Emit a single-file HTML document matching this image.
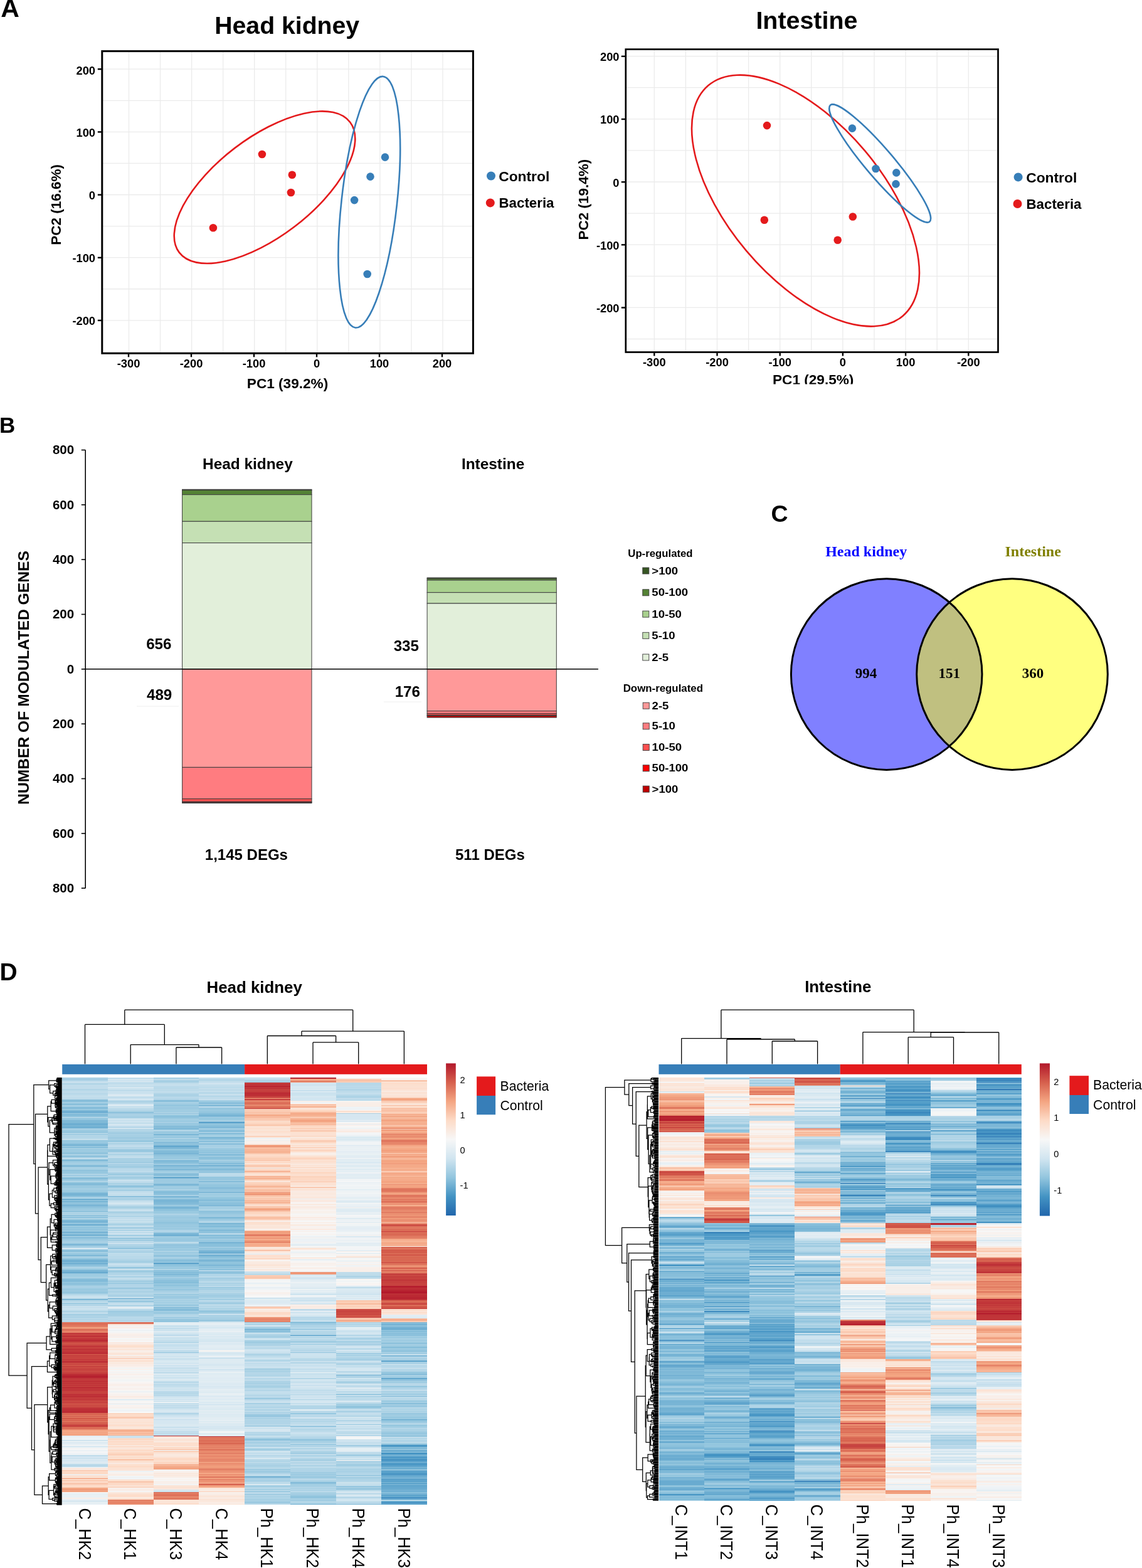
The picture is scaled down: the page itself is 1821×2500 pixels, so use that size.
<!DOCTYPE html>
<html><head><meta charset="utf-8"><title>Figure</title>
<style>
html,body{margin:0;padding:0;background:#fff;}
#root{position:relative;width:1821px;height:2500px;overflow:hidden;background:#fff;font-family:"Liberation Sans", Arial, Helvetica, sans-serif;}
.hm{position:absolute;}
svg{position:absolute;left:0;top:0;}
svg text{font-family:"Liberation Sans", Arial, Helvetica, sans-serif;}
</style></head><body><div id="root">
<div class="hm" style="left:99.20px;top:1718.2px;width:73.12px;height:681.1px;background:linear-gradient(#a0cce2 0.0px 1.2px,#b2d5e7 1.2px 2.4px,#a3cde3 2.4px 3.6px,#b2d5e7 3.6px 4.8px,#b4d6e8 4.8px 5.9px,#c9e1ee 5.9px 7.1px,#cbe2ee 7.1px 8.3px,#c3deec 8.3px 9.5px,#b2d5e7 9.5px 10.7px,#b8d8e9 10.7px 11.9px,#c5dfed 11.9px 13.1px,#c0dceb 13.1px 14.3px,#c2ddec 14.3px 15.5px,#c1ddeb 15.5px 16.7px,#c4deec 16.7px 17.8px,#b4d6e8 17.8px 19.0px,#b1d5e7 19.0px 20.2px,#b8d9e9 20.2px 21.4px,#bddbea 21.4px 22.6px,#c7e0ed 22.6px 23.8px,#b7d8e9 23.8px 25.0px,#b8d8e9 25.0px 26.2px,#bedceb 26.2px 27.4px,#b9d9e9 27.4px 28.6px,#d3e6f0 28.6px 29.7px,#bbdaea 29.7px 30.9px,#bddbea 30.9px 32.1px,#c7e0ed 32.1px 33.3px,#c6dfed 33.3px 34.5px,#a8d0e4 34.5px 35.7px,#72b1d3 35.7px 36.9px,#94c6de 36.9px 38.1px,#80b9d8 38.1px 39.3px,#aed3e6 39.3px 40.4px,#9dcbe1 40.4px 41.6px,#7bb7d6 41.6px 42.8px,#93c6de 42.8px 44.0px,#a0cce2 44.0px 45.2px,#aed3e6 45.2px 46.4px,#94c6df 46.4px 47.6px,#71b0d3 47.6px 48.8px,#90c4dd 48.8px 50.0px,#96c7df 50.0px 51.2px,#9ac9e0 51.2px 52.3px,#85bdda 52.3px 53.5px,#71b0d3 53.5px 54.7px,#6eaed2 54.7px 55.9px,#78b4d5 55.9px 57.1px,#a0cce2 57.1px 58.3px,#7ab6d6 58.3px 59.5px,#85bdda 59.5px 60.7px,#85bdd9 60.7px 61.9px,#98c8e0 61.9px 63.1px,#bfdceb 63.1px 64.2px,#9ac9e0 64.2px 65.4px,#98c8e0 65.4px 66.6px,#8ec3dd 66.6px 67.8px,#7cb7d7 67.8px 69.0px,#84bcd9 69.0px 70.2px,#7cb7d6 70.2px 71.4px,#7fb9d7 71.4px 72.6px,#6cadd1 72.6px 73.8px,#68abd0 73.8px 75.0px,#74b2d4 75.0px 76.1px,#77b4d5 76.1px 77.3px,#78b5d5 77.3px 78.5px,#70b0d3 78.5px 79.7px,#71b0d3 79.7px 80.9px,#a8d0e4 80.9px 82.1px,#aad1e5 82.1px 83.3px,#a4cee3 83.3px 84.5px,#9ac9e0 84.5px 85.7px,#95c6df 85.7px 86.8px,#92c5de 86.8px 88.0px,#a6cfe4 88.0px 89.2px,#bad9e9 89.2px 90.4px,#9fcce2 90.4px 91.6px,#bddbea 91.6px 92.8px,#add3e6 92.8px 94.0px,#b4d6e8 94.0px 95.2px,#b3d6e8 95.2px 96.4px,#b1d5e7 96.4px 97.6px,#e2edf3 97.6px 98.7px,#a0cce2 98.7px 99.9px,#9fcce2 99.9px 101.1px,#9ccae1 101.1px 102.3px,#90c4dd 102.3px 103.5px,#9bc9e1 103.5px 104.7px,#88bfdb 104.7px 105.9px,#7fb9d7 105.9px 107.1px,#79b5d5 107.1px 108.3px,#76b3d4 108.3px 109.5px,#97c7df 109.5px 110.6px,#7bb6d6 110.6px 111.8px,#a1cde2 111.8px 113.0px,#a6cfe4 113.0px 114.2px,#9ccae1 114.2px 115.4px,#9bcae1 115.4px 116.6px,#a4cee3 116.6px 117.8px,#9ac9e0 117.8px 119.0px,#90c4dd 119.0px 120.2px,#99c9e0 120.2px 121.3px,#85bdd9 121.3px 122.5px,#aed3e6 122.5px 123.7px,#9dcbe1 123.7px 124.9px,#7db8d7 124.9px 126.1px,#9fcce2 126.1px 127.3px,#a0cce2 127.3px 128.5px,#c4deec 128.5px 129.7px,#a1cce2 129.7px 130.9px,#7db8d7 130.9px 132.1px,#82bbd8 132.1px 133.2px,#94c6de 133.2px 134.4px,#9fcce2 134.4px 135.6px,#a6cfe4 135.6px 136.8px,#aad1e5 136.8px 138.0px,#9ac9e0 138.0px 139.2px,#a3cee3 139.2px 140.4px,#79b5d5 140.4px 141.6px,#9ecbe1 141.6px 142.8px,#a6cfe4 142.8px 145.1px,#aed3e6 145.1px 146.3px,#9dcbe1 146.3px 147.5px,#83bcd9 147.5px 148.7px,#9ecbe1 148.7px 149.9px,#92c5de 149.9px 151.1px,#9bcae1 151.1px 152.3px,#91c4de 152.3px 153.5px,#abd2e5 153.5px 154.7px,#b2d5e7 154.7px 155.8px,#8ac0db 155.8px 157.0px,#bedbeb 157.0px 158.2px,#a8d0e4 158.2px 159.4px,#8dc2dc 159.4px 160.6px,#79b5d5 160.6px 161.8px,#99c8e0 161.8px 163.0px,#9fcce2 163.0px 164.2px,#9dcae1 164.2px 165.4px,#b3d6e7 165.4px 166.6px,#89c0db 166.6px 167.7px,#91c4de 167.7px 168.9px,#7bb6d6 168.9px 170.1px,#82bbd9 170.1px 171.3px,#8dc2dc 171.3px 172.5px,#96c7df 172.5px 173.7px,#a1cce2 173.7px 174.9px,#95c7df 174.9px 176.1px,#a0cce2 176.1px 177.3px,#abd2e5 177.3px 178.5px,#a0cce2 178.5px 179.6px,#98c8e0 179.6px 180.8px,#a4cee3 180.8px 182.0px,#93c6de 182.0px 183.2px,#8dc2dc 183.2px 184.4px,#78b4d5 184.4px 185.6px,#74b2d4 185.6px 186.8px,#78b5d5 186.8px 188.0px,#80bad8 188.0px 189.2px,#86bdda 189.2px 190.4px,#a3cde3 190.4px 191.5px,#add3e6 191.5px 192.7px,#84bcd9 192.7px 193.9px,#61a6cd 193.9px 195.1px,#8ac0db 195.1px 196.3px,#91c4de 196.3px 197.5px,#78b5d5 197.5px 198.7px,#98c8e0 198.7px 199.9px,#8ac0db 199.9px 201.1px,#96c7df 201.1px 202.2px,#81bad8 202.2px 203.4px,#79b5d6 203.4px 204.6px,#89bfdb 204.6px 207.0px,#92c5de 207.0px 208.2px,#97c8df 208.2px 209.4px,#98c8e0 209.4px 210.6px,#a9d1e5 210.6px 211.8px,#95c6df 211.8px 213.0px,#82bbd8 213.0px 214.1px,#aed3e6 214.1px 215.3px,#aad1e5 215.3px 216.5px,#aed3e6 216.5px 217.7px,#b9d9e9 217.7px 218.9px,#8cc1dc 218.9px 220.1px,#93c5de 220.1px 221.3px,#a6cfe4 221.3px 222.5px,#8fc3dd 222.5px 223.7px,#abd2e5 223.7px 224.9px,#b3d6e7 224.9px 226.0px,#94c6de 226.0px 227.2px,#83bcd9 227.2px 228.4px,#78b5d5 228.4px 229.6px,#75b3d4 229.6px 230.8px,#83bbd9 230.8px 232.0px,#a5cfe3 232.0px 233.2px,#82bbd9 233.2px 234.4px,#70afd2 234.4px 235.6px,#94c6df 235.6px 236.7px,#a1cce2 236.7px 237.9px,#95c7df 237.9px 239.1px,#8ac0db 239.1px 240.3px,#9dcbe1 240.3px 241.5px,#8fc3dd 241.5px 242.7px,#9ac9e0 242.7px 243.9px,#92c5de 243.9px 245.1px,#9ecbe1 245.1px 246.3px,#60a5cd 246.3px 247.5px,#88beda 247.5px 248.6px,#91c4de 248.6px 249.8px,#7ab6d6 249.8px 251.0px,#69abd0 251.0px 252.2px,#8ac0db 252.2px 253.4px,#9ecbe1 253.4px 254.6px,#73b1d3 254.6px 255.8px,#9bcae1 255.8px 257.0px,#92c5de 257.0px 258.2px,#9fcce2 258.2px 259.4px,#9dcbe1 259.4px 260.5px,#a5cee3 260.5px 261.7px,#afd4e6 261.7px 262.9px,#a3cee3 262.9px 264.1px,#9ccae1 264.1px 265.3px,#86bdda 265.3px 266.5px,#7ab6d6 266.5px 267.7px,#aad1e5 267.7px 268.9px,#a2cde3 268.9px 270.1px,#96c7df 270.1px 271.3px,#cde3ef 271.3px 272.4px,#d4e6f0 272.4px 273.6px,#96c7df 273.6px 274.8px,#91c4de 274.8px 276.0px,#82bbd9 276.0px 277.2px,#8ac0db 277.2px 278.4px,#a6cfe4 278.4px 279.6px,#96c7df 279.6px 280.8px,#9ecbe1 280.8px 282.0px,#8bc1dc 282.0px 283.1px,#88beda 283.1px 284.3px,#75b3d4 284.3px 285.5px,#acd2e5 285.5px 286.7px,#a0cce2 286.7px 287.9px,#9fcce2 287.9px 289.1px,#82bbd9 289.1px 290.3px,#84bcd9 290.3px 291.5px,#6fafd2 291.5px 292.7px,#76b3d4 292.7px 293.9px,#75b3d4 293.9px 295.0px,#8dc2dc 295.0px 296.2px,#5da3cc 296.2px 297.4px,#84bcd9 297.4px 298.6px,#8bc1dc 298.6px 299.8px,#93c5de 299.8px 301.0px,#9ac9e0 301.0px 302.2px,#b1d5e7 302.2px 303.4px,#add3e6 303.4px 304.6px,#92c5de 304.6px 306.9px,#8cc1dc 306.9px 308.1px,#59a1cb 308.1px 309.3px,#8fc3dd 309.3px 310.5px,#61a6cd 310.5px 311.7px,#92c5de 311.7px 312.9px,#99c8e0 312.9px 314.1px,#a1cde2 314.1px 315.3px,#9ecbe1 315.3px 316.5px,#9dcbe1 316.5px 317.6px,#b5d7e8 317.6px 318.8px,#9bc9e0 318.8px 320.0px,#a0cce2 320.0px 321.2px,#80bad8 321.2px 322.4px,#84bcd9 322.4px 323.6px,#7ab6d6 323.6px 324.8px,#8ec2dd 324.8px 326.0px,#90c4dd 326.0px 327.2px,#96c7df 327.2px 328.4px,#8ac0db 328.4px 329.5px,#93c5de 329.5px 330.7px,#a0cce2 330.7px 331.9px,#9ecbe2 331.9px 333.1px,#b2d5e7 333.1px 334.3px,#a7cfe4 334.3px 335.5px,#97c8df 335.5px 336.7px,#a8d0e4 336.7px 337.9px,#8ac0db 337.9px 339.1px,#a5cee3 339.1px 340.3px,#9dcae1 340.3px 341.4px,#95c7df 341.4px 342.6px,#93c6de 342.6px 343.8px,#9ccae1 343.8px 345.0px,#bddbea 345.0px 346.2px,#abd2e5 346.2px 347.4px,#c7e0ed 347.4px 349.8px,#d1e5f0 349.8px 351.0px,#c3deec 351.0px 352.1px,#b6d7e8 352.1px 353.3px,#7bb6d6 353.3px 354.5px,#bad9e9 354.5px 355.7px,#afd4e6 355.7px 356.9px,#b7d8e9 356.9px 358.1px,#cbe2ee 358.1px 359.3px,#a0cce2 359.3px 360.5px,#a3cee3 360.5px 361.7px,#bfdceb 361.7px 362.9px,#b0d4e7 362.9px 364.0px,#b6d7e8 364.0px 365.2px,#dceaf2 365.2px 366.4px,#c0dceb 366.4px 367.6px,#d2e5f0 367.6px 368.8px,#cde3ef 368.8px 370.0px,#c1ddec 370.0px 371.2px,#c3deec 371.2px 372.4px,#afd4e6 372.4px 373.6px,#bad9e9 373.6px 374.8px,#c9e1ee 374.8px 375.9px,#bcdbea 375.9px 377.1px,#a6cfe4 377.1px 378.3px,#a2cde2 378.3px 379.5px,#afd4e6 379.5px 380.7px,#add3e6 380.7px 383.1px,#afd4e6 383.1px 384.3px,#bfdceb 384.3px 385.5px,#b1d5e7 385.5px 386.7px,#bddbea 386.7px 387.8px,#bbdaea 387.8px 389.0px,#aed3e6 389.0px 390.2px,#e37f65 390.2px 391.4px,#dc6d57 391.4px 392.6px,#dc6e58 392.6px 393.8px,#df755d 393.8px 395.0px,#de725b 395.0px 396.2px,#e68468 396.2px 397.4px,#e17a61 397.4px 398.5px,#f3a481 398.5px 399.7px,#e68468 399.7px 400.9px,#df755d 400.9px 402.1px,#da6954 402.1px 403.3px,#e17860 403.3px 404.5px,#e68469 404.5px 405.7px,#e58267 405.7px 406.9px,#c43c3c 406.9px 408.1px,#c03539 408.1px 409.3px,#c7423f 409.3px 410.4px,#c8433f 410.4px 411.6px,#b51d2d 411.6px 412.8px,#ca4942 412.8px 414.0px,#c43d3c 414.0px 415.2px,#c6403e 415.2px 416.4px,#c13539 416.4px 417.6px,#be3037 417.6px 418.8px,#b72230 418.8px 420.0px,#c2393a 420.0px 421.2px,#c13639 421.2px 422.3px,#cd4e44 422.3px 423.5px,#cf5347 423.5px 424.7px,#cc4d44 424.7px 425.9px,#cb4b43 425.9px 427.1px,#c7423f 427.1px 428.3px,#bc2c34 428.3px 429.5px,#c63f3e 429.5px 430.7px,#c7413f 430.7px 431.9px,#c33a3b 431.9px 433.0px,#be3137 433.0px 434.2px,#c03538 434.2px 435.4px,#c43b3c 435.4px 436.6px,#bc2c34 436.6px 437.8px,#c53d3d 437.8px 439.0px,#b3192c 439.0px 440.2px,#c8433f 440.2px 441.4px,#cd4d44 441.4px 442.6px,#c2383a 442.6px 443.8px,#ca4842 443.8px 444.9px,#c7423f 444.9px 446.1px,#c63f3d 446.1px 447.3px,#cf5146 447.3px 448.5px,#c3393b 448.5px 449.7px,#c94641 449.7px 450.9px,#c53f3d 450.9px 452.1px,#bc2d35 452.1px 453.3px,#c03438 453.3px 454.5px,#cb4a43 454.5px 455.7px,#cd4e45 455.7px 456.8px,#c7423f 456.8px 458.0px,#d05347 458.0px 459.2px,#d05448 459.2px 460.4px,#c6403e 460.4px 461.6px,#d05347 461.6px 462.8px,#c8433f 462.8px 464.0px,#c94741 464.0px 465.2px,#c53e3d 465.2px 466.4px,#c94540 466.4px 467.5px,#cc4c44 467.5px 468.7px,#ca4842 468.7px 469.9px,#c53d3c 469.9px 471.1px,#c84440 471.1px 472.3px,#be3036 472.3px 473.5px,#ba2732 473.5px 474.7px,#b82531 474.7px 475.9px,#b82430 475.9px 477.1px,#b2182b 477.1px 478.3px,#bb2933 478.3px 479.4px,#c03539 479.4px 480.6px,#c43c3c 480.6px 481.8px,#c43d3c 481.8px 483.0px,#c03438 483.0px 484.2px,#bc2d35 484.2px 485.4px,#c2393a 485.4px 486.6px,#bf3338 486.6px 487.8px,#c13639 487.8px 489.0px,#c43c3c 489.0px 490.2px,#c2383a 490.2px 491.3px,#c03338 491.3px 492.5px,#c43d3c 492.5px 493.7px,#b72330 493.7px 494.9px,#be2f36 494.9px 496.1px,#c7423f 496.1px 497.3px,#bd2e36 497.3px 498.5px,#c13639 498.5px 499.7px,#cc4b43 499.7px 500.9px,#c13639 500.9px 502.1px,#cb4a43 502.1px 503.2px,#c8433f 503.2px 504.4px,#c03338 504.4px 505.6px,#be3037 505.6px 506.8px,#c2373a 506.8px 508.0px,#bb2a34 508.0px 509.2px,#be3036 509.2px 510.4px,#c53e3d 510.4px 511.6px,#c2383a 511.6px 512.8px,#c33a3b 512.8px 513.9px,#c2383a 513.9px 515.1px,#cc4c44 515.1px 516.3px,#ca4942 516.3px 517.5px,#c6403e 517.5px 518.7px,#cd4e45 518.7px 519.9px,#ce5045 519.9px 521.1px,#d05347 521.1px 522.3px,#c94741 522.3px 523.5px,#cc4c44 523.5px 524.7px,#ca4842 524.7px 525.8px,#c43b3c 525.8px 527.0px,#bd2f36 527.0px 528.2px,#c03539 528.2px 529.4px,#bc2d35 529.4px 530.6px,#c03338 530.6px 531.8px,#b82431 531.8px 533.0px,#bd2e35 533.0px 534.2px,#c13539 534.2px 535.4px,#da6a55 535.4px 536.6px,#d96652 536.6px 537.7px,#d86450 537.7px 538.9px,#e7886c 538.9px 540.1px,#c84540 540.1px 541.3px,#e98c6e 541.3px 542.5px,#d45c4b 542.5px 543.7px,#d55f4c 543.7px 544.9px,#dd6f59 544.9px 546.1px,#d55d4c 546.1px 547.3px,#dc6e58 547.3px 548.4px,#dd715a 548.4px 549.6px,#ce5045 549.6px 550.8px,#db6b55 550.8px 552.0px,#cf5247 552.0px 553.2px,#d05347 553.2px 554.4px,#c53e3d 554.4px 555.6px,#ca4942 555.6px 556.8px,#d45c4b 556.8px 558.0px,#e27b61 558.0px 559.2px,#db6c56 559.2px 560.3px,#da6954 560.3px 561.5px,#f09c7b 561.5px 562.7px,#f5a987 562.7px 563.9px,#f5ad8c 563.9px 565.1px,#ef9a7a 565.1px 566.3px,#f5ae8d 566.3px 567.5px,#f3a280 567.5px 569.9px,#f4a684 569.9px 571.1px,#e1edf3 571.1px 572.2px,#e7eff4 572.2px 573.4px,#eaf1f5 573.4px 574.6px,#eef3f5 574.6px 575.8px,#ecf2f5 575.8px 577.0px,#eef3f5 577.0px 578.2px,#bcdaea 578.2px 579.4px,#e8f0f4 579.4px 580.6px,#deebf2 580.6px 581.8px,#e0ecf3 581.8px 583.0px,#dfecf3 583.0px 584.1px,#e6eff4 584.1px 585.3px,#eaf1f5 585.3px 586.5px,#edf2f5 586.5px 587.7px,#c9e1ee 587.7px 588.9px,#ebf2f5 588.9px 590.1px,#eaf1f5 590.1px 591.3px,#f8f4f2 591.3px 592.5px,#f4f6f6 592.5px 593.7px,#ecf2f5 593.7px 594.8px,#e8f0f4 594.8px 596.0px,#f5f6f7 596.0px 597.2px,#f6f6f7 597.2px 598.4px,#eff3f6 598.4px 599.6px,#ecf2f5 599.6px 600.8px,#ebf1f5 600.8px 602.0px,#bddbea 602.0px 603.2px,#bfdceb 603.2px 604.4px,#d4e6f1 604.4px 605.6px,#d1e5f0 605.6px 606.7px,#c7e0ed 606.7px 607.9px,#dae9f2 607.9px 609.1px,#dbeaf2 609.1px 610.3px,#d2e5f0 610.3px 611.5px,#dae9f2 611.5px 612.7px,#deebf2 612.7px 613.9px,#dfebf2 613.9px 615.1px,#d6e8f1 615.1px 616.3px,#c6e0ed 616.3px 617.5px,#b4d6e8 617.5px 618.6px,#bbdaea 618.6px 619.8px,#bddbea 619.8px 621.0px,#eaf1f5 621.0px 622.2px,#f9eee7 622.2px 623.4px,#fbe6db 623.4px 624.6px,#f9ede5 624.6px 625.8px,#f9c1a6 625.8px 627.0px,#fddac6 627.0px 628.2px,#fcd7c2 628.2px 629.3px,#fddcca 629.3px 630.5px,#fcd7c2 630.5px 631.7px,#fae9de 631.7px 632.9px,#e9f0f4 632.9px 634.1px,#fbe6da 634.1px 635.3px,#fddcc8 635.3px 636.5px,#fbe3d5 636.5px 637.7px,#fbcdb5 637.7px 638.9px,#f29f7e 638.9px 640.1px,#fce2d3 640.1px 641.2px,#fcd5bf 641.2px 642.4px,#fbccb4 642.4px 643.6px,#fce1d1 643.6px 644.8px,#fddbc7 644.8px 646.0px,#fbceb7 646.0px 647.2px,#f8c0a4 647.2px 648.4px,#fbd0b9 648.4px 649.6px,#fcdfce 649.6px 650.8px,#fddbc7 650.8px 653.1px,#fcd4be 653.1px 654.3px,#f3a380 654.3px 655.5px,#f4a582 655.5px 656.7px,#e98d6f 656.7px 657.9px,#f5ac8b 657.9px 659.1px,#f3a280 659.1px 660.3px,#f19f7d 660.3px 661.5px,#f5f6f7 661.5px 662.7px,#e1edf3 662.7px 663.8px,#e9f1f4 663.8px 665.0px,#e7eff4 665.0px 666.2px,#ebf1f5 666.2px 667.4px,#e8f0f4 667.4px 668.6px,#edf2f5 668.6px 669.8px,#faeae0 669.8px 671.0px,#f8f2ee 671.0px 672.2px,#e7eff4 672.2px 673.4px,#e5eef4 673.4px 674.6px,#c1ddeb 674.6px 675.7px,#edf2f5 675.7px 676.9px,#e5eff4 676.9px 678.1px,#dbeaf2 678.1px 679.3px,#f0f4f6 679.3px 680.5px,#e3edf3 680.5px 681.1px)"></div>
<div class="hm" style="left:171.93px;top:1718.2px;width:73.12px;height:681.1px;background:linear-gradient(#cce2ef 0.0px 1.2px,#b8d8e9 1.2px 2.4px,#d4e7f1 2.4px 3.6px,#d2e5f0 3.6px 4.8px,#c6dfed 4.8px 5.9px,#e5eef4 5.9px 7.1px,#b7d8e9 7.1px 8.3px,#cce3ef 8.3px 9.5px,#bbdaea 9.5px 10.7px,#d2e5f0 10.7px 11.9px,#c8e0ed 11.9px 13.1px,#c3deec 13.1px 14.3px,#c2ddec 14.3px 15.5px,#d7e8f1 15.5px 16.7px,#cbe2ee 16.7px 17.8px,#cce3ef 17.8px 19.0px,#c6e0ed 19.0px 20.2px,#b6d7e8 20.2px 21.4px,#c7e0ed 21.4px 22.6px,#cde3ef 22.6px 23.8px,#c5dfed 23.8px 25.0px,#d3e6f0 25.0px 26.2px,#c6dfed 26.2px 27.4px,#e3edf3 27.4px 28.6px,#cae2ee 28.6px 29.7px,#d2e5f0 29.7px 30.9px,#bbdaea 30.9px 32.1px,#c1ddec 32.1px 33.3px,#cce3ef 33.3px 34.5px,#d5e7f1 34.5px 35.7px,#bfdceb 35.7px 36.9px,#aed3e6 36.9px 38.1px,#acd2e5 38.1px 39.3px,#b1d5e7 39.3px 40.4px,#b8d8e9 40.4px 41.6px,#d2e5f0 41.6px 42.8px,#d8e8f1 42.8px 44.0px,#dfecf3 44.0px 45.2px,#d7e8f1 45.2px 46.4px,#c1ddeb 46.4px 47.6px,#d5e7f1 47.6px 48.8px,#b0d4e6 48.8px 50.0px,#bcdaea 50.0px 51.2px,#b6d7e8 51.2px 52.3px,#b9d9e9 52.3px 53.5px,#a5cfe3 53.5px 54.7px,#94c6df 54.7px 55.9px,#81bad8 55.9px 57.1px,#acd2e6 57.1px 58.3px,#a8d0e4 58.3px 60.7px,#acd2e6 60.7px 61.9px,#9ac9e0 61.9px 63.1px,#add3e6 63.1px 64.2px,#9ecbe1 64.2px 65.4px,#d2e6f0 65.4px 66.6px,#cbe2ee 66.6px 67.8px,#c7e0ed 67.8px 69.0px,#cde3ef 69.0px 70.2px,#d2e5f0 70.2px 71.4px,#c6e0ed 71.4px 72.6px,#c3deec 72.6px 73.8px,#cee4ef 73.8px 75.0px,#e2edf3 75.0px 76.1px,#c6dfed 76.1px 77.3px,#cde3ef 77.3px 78.5px,#b6d7e8 78.5px 79.7px,#c7e0ed 79.7px 80.9px,#d9e9f1 80.9px 82.1px,#b6d7e8 82.1px 83.3px,#acd2e5 83.3px 84.5px,#b6d7e8 84.5px 85.7px,#a7d0e4 85.7px 86.8px,#a6cfe4 86.8px 88.0px,#a4cee3 88.0px 89.2px,#9ecbe2 89.2px 90.4px,#a9d1e5 90.4px 91.6px,#a7d0e4 91.6px 92.8px,#a1cde2 92.8px 94.0px,#abd2e5 94.0px 95.2px,#9ac9e0 95.2px 96.4px,#9fcbe2 96.4px 97.6px,#a9d1e5 97.6px 98.7px,#a1cde2 98.7px 99.9px,#9ccae1 99.9px 101.1px,#90c4dd 101.1px 102.3px,#9ecbe2 102.3px 103.5px,#bbdaea 103.5px 104.7px,#a5cfe3 104.7px 105.9px,#aed3e6 105.9px 107.1px,#c6dfed 107.1px 108.3px,#b9d9e9 108.3px 109.5px,#c2ddec 109.5px 110.6px,#b7d8e8 110.6px 111.8px,#aad1e5 111.8px 113.0px,#c2ddec 113.0px 114.2px,#a1cce2 114.2px 115.4px,#96c7df 115.4px 116.6px,#9fcce2 116.6px 117.8px,#96c7df 117.8px 119.0px,#b6d7e8 119.0px 120.2px,#cce2ef 120.2px 121.3px,#aed3e6 121.3px 122.5px,#afd4e6 122.5px 123.7px,#bfdceb 123.7px 124.9px,#bddbea 124.9px 126.1px,#c1ddeb 126.1px 127.3px,#cce2ee 127.3px 128.5px,#abd2e5 128.5px 129.7px,#afd4e6 129.7px 130.9px,#9dcbe1 130.9px 132.1px,#acd2e5 132.1px 133.2px,#b1d5e7 133.2px 134.4px,#9ac9e0 134.4px 135.6px,#bbdaea 135.6px 136.8px,#b0d4e7 136.8px 138.0px,#a6cfe4 138.0px 139.2px,#add3e6 139.2px 140.4px,#a4cee3 140.4px 141.6px,#9dcae1 141.6px 142.8px,#a7d0e4 142.8px 144.0px,#aad1e5 144.0px 145.1px,#c0dceb 145.1px 146.3px,#b8d8e9 146.3px 147.5px,#bad9e9 147.5px 148.7px,#c5dfed 148.7px 149.9px,#bbdaea 149.9px 151.1px,#acd2e6 151.1px 152.3px,#b1d5e7 152.3px 153.5px,#99c9e0 153.5px 154.7px,#a6cfe4 154.7px 155.8px,#b8d8e9 155.8px 157.0px,#aad1e5 157.0px 158.2px,#a9d1e5 158.2px 159.4px,#9ecbe1 159.4px 160.6px,#add3e6 160.6px 161.8px,#b5d7e8 161.8px 163.0px,#c5dfed 163.0px 164.2px,#d1e5f0 164.2px 165.4px,#bfdceb 165.4px 166.6px,#bedbea 166.6px 167.7px,#abd2e5 167.7px 168.9px,#aad1e5 168.9px 171.3px,#b7d8e9 171.3px 172.5px,#8bc1dc 172.5px 173.7px,#94c6df 173.7px 174.9px,#a2cde3 174.9px 176.1px,#add3e6 176.1px 177.3px,#bddbea 177.3px 178.5px,#a7d0e4 178.5px 179.6px,#a4cee3 179.6px 180.8px,#c0dceb 180.8px 182.0px,#c5dfed 182.0px 183.2px,#c1ddeb 183.2px 184.4px,#c8e0ed 184.4px 185.6px,#c2deec 185.6px 186.8px,#c3deec 186.8px 188.0px,#c5dfed 188.0px 189.2px,#77b4d5 189.2px 190.4px,#a6cfe4 190.4px 191.5px,#aad1e5 191.5px 192.7px,#aed3e6 192.7px 193.9px,#acd2e6 193.9px 195.1px,#a4cee3 195.1px 196.3px,#d1e5f0 196.3px 197.5px,#c3deec 197.5px 198.7px,#d9e9f1 198.7px 199.9px,#cee3ef 199.9px 201.1px,#dceaf2 201.1px 202.2px,#c8e0ed 202.2px 203.4px,#bddbea 203.4px 204.6px,#a7d0e4 204.6px 205.8px,#abd2e5 205.8px 207.0px,#a5cfe3 207.0px 208.2px,#a9d0e4 208.2px 209.4px,#c1ddeb 209.4px 210.6px,#c9e1ee 210.6px 211.8px,#cee3ef 211.8px 213.0px,#b7d8e9 213.0px 214.1px,#a3cee3 214.1px 215.3px,#acd2e5 215.3px 216.5px,#bedbea 216.5px 217.7px,#afd4e6 217.7px 218.9px,#cae2ee 218.9px 220.1px,#abd2e5 220.1px 221.3px,#aad1e5 221.3px 222.5px,#c1ddec 222.5px 223.7px,#b7d8e9 223.7px 224.9px,#d1e5f0 224.9px 226.0px,#c7e0ed 226.0px 227.2px,#bddbea 227.2px 228.4px,#c7e0ed 228.4px 230.8px,#c1ddeb 230.8px 232.0px,#b7d8e8 232.0px 233.2px,#a8d0e4 233.2px 234.4px,#abd2e5 234.4px 235.6px,#c5dfed 235.6px 236.7px,#cbe2ee 236.7px 237.9px,#abd1e5 237.9px 239.1px,#a6cfe4 239.1px 240.3px,#9ac9e0 240.3px 241.5px,#c3deec 241.5px 242.7px,#99c9e0 242.7px 243.9px,#c3deec 243.9px 245.1px,#d8e8f1 245.1px 246.3px,#acd2e5 246.3px 247.5px,#cde3ef 247.5px 248.6px,#c4deec 248.6px 249.8px,#c8e0ed 249.8px 251.0px,#a3cee3 251.0px 252.2px,#9bcae1 252.2px 253.4px,#c8e0ed 253.4px 254.6px,#a6cfe4 254.6px 255.8px,#89c0db 255.8px 257.0px,#abd2e5 257.0px 258.2px,#b2d5e7 258.2px 259.4px,#89c0db 259.4px 260.5px,#bcdaea 260.5px 261.7px,#b1d4e7 261.7px 262.9px,#c8e0ed 262.9px 264.1px,#d1e5f0 264.1px 265.3px,#bcdaea 265.3px 266.5px,#b0d4e7 266.5px 267.7px,#afd4e6 267.7px 268.9px,#a4cee3 268.9px 270.1px,#aed3e6 270.1px 271.3px,#94c6df 271.3px 273.6px,#d3e6f0 273.6px 274.8px,#b0d4e7 274.8px 276.0px,#a9d1e5 276.0px 277.2px,#aed3e6 277.2px 278.4px,#add3e6 278.4px 279.6px,#c2deec 279.6px 280.8px,#c7e0ed 280.8px 282.0px,#b4d6e8 282.0px 283.1px,#c0ddeb 283.1px 284.3px,#bcdbea 284.3px 285.5px,#b7d8e9 285.5px 286.7px,#bad9e9 286.7px 289.1px,#b1d5e7 289.1px 290.3px,#b3d6e7 290.3px 291.5px,#aad1e5 291.5px 292.7px,#a3cee3 292.7px 293.9px,#a1cde2 293.9px 295.0px,#b2d5e7 295.0px 296.2px,#c4dfec 296.2px 297.4px,#c9e1ee 297.4px 298.6px,#c5dfed 298.6px 299.8px,#b5d7e8 299.8px 301.0px,#c4deec 301.0px 302.2px,#8ec2dd 302.2px 303.4px,#9ac9e0 303.4px 304.6px,#dfecf3 304.6px 305.8px,#bad9e9 305.8px 306.9px,#b3d6e7 306.9px 308.1px,#96c7df 308.1px 309.3px,#9bcae1 309.3px 310.5px,#a9d1e5 310.5px 311.7px,#b2d5e7 311.7px 312.9px,#b6d7e8 312.9px 314.1px,#abd2e5 314.1px 315.3px,#cfe4f0 315.3px 316.5px,#add3e6 316.5px 317.6px,#b1d5e7 317.6px 318.8px,#bcdaea 318.8px 320.0px,#cde3ef 320.0px 321.2px,#b9d9e9 321.2px 322.4px,#bad9e9 322.4px 323.6px,#8ac0db 323.6px 324.8px,#b3d6e8 324.8px 326.0px,#a5cfe3 326.0px 327.2px,#a4cee3 327.2px 328.4px,#9fcbe2 328.4px 329.5px,#c2ddec 329.5px 330.7px,#a9d0e4 330.7px 331.9px,#b1d5e7 331.9px 333.1px,#b9d9e9 333.1px 334.3px,#a4cee3 334.3px 335.5px,#92c5de 335.5px 336.7px,#a8d0e4 336.7px 337.9px,#bbdaea 337.9px 339.1px,#b2d5e7 339.1px 340.3px,#abd2e5 340.3px 341.4px,#acd2e5 341.4px 342.6px,#b6d7e8 342.6px 343.8px,#afd4e6 343.8px 345.0px,#c0ddeb 345.0px 346.2px,#a1cde2 346.2px 347.4px,#acd2e5 347.4px 348.6px,#b3d6e7 348.6px 349.8px,#c4deec 349.8px 351.0px,#cde3ef 351.0px 352.1px,#5fa5cc 352.1px 353.3px,#b2d5e7 353.3px 354.5px,#b5d7e8 354.5px 355.7px,#8ec2dd 355.7px 356.9px,#9dcbe1 356.9px 358.1px,#a9d1e5 358.1px 359.3px,#c9e1ee 359.3px 360.5px,#c2ddec 360.5px 361.7px,#cde3ef 361.7px 362.9px,#94c6df 362.9px 364.0px,#cde3ef 364.0px 365.2px,#c2ddec 365.2px 366.4px,#e9f0f4 366.4px 367.6px,#cbe2ee 367.6px 368.8px,#bedbeb 368.8px 370.0px,#b7d8e9 370.0px 371.2px,#b3d6e7 371.2px 372.4px,#9fcce2 372.4px 373.6px,#97c8e0 373.6px 374.8px,#b7d8e9 374.8px 375.9px,#8fc3dd 375.9px 377.1px,#bddbea 377.1px 378.3px,#92c5de 378.3px 379.5px,#afd4e6 379.5px 380.7px,#b2d5e7 380.7px 381.9px,#b9d9e9 381.9px 383.1px,#c0dceb 383.1px 384.3px,#b2d5e7 384.3px 385.5px,#badaea 385.5px 386.7px,#acd2e5 386.7px 387.8px,#c1ddeb 387.8px 389.0px,#b7d8e8 389.0px 390.2px,#de715a 390.2px 392.6px,#fae9de 392.6px 393.8px,#fcdfce 393.8px 395.0px,#f7f5f3 395.0px 396.2px,#eef3f5 396.2px 397.4px,#f9efe9 397.4px 398.5px,#f9efea 398.5px 399.7px,#f6f6f7 399.7px 400.9px,#f5f6f7 400.9px 402.1px,#f1f4f6 402.1px 403.3px,#e8f0f4 403.3px 404.5px,#f4f6f7 404.5px 405.7px,#f3f5f6 405.7px 406.9px,#f8f1ec 406.9px 408.1px,#f8f3f0 408.1px 409.3px,#f9efea 409.3px 410.4px,#f9ede6 410.4px 411.6px,#f1f4f6 411.6px 412.8px,#faeae1 412.8px 414.0px,#f8f2ee 414.0px 415.2px,#f7f5f4 415.2px 416.4px,#f4f6f6 416.4px 417.6px,#f9f0ea 417.6px 418.8px,#f6f6f7 418.8px 420.0px,#f7f5f4 420.0px 421.2px,#f7f6f6 421.2px 422.3px,#fbe6da 422.3px 423.5px,#f9ece5 423.5px 424.7px,#fbe6d9 424.7px 425.9px,#fbe6da 425.9px 427.1px,#fcdfce 427.1px 428.3px,#fddcc8 428.3px 429.5px,#fbe2d3 429.5px 430.7px,#fae9e0 430.7px 431.9px,#f9ece4 431.9px 433.0px,#fce0d0 433.0px 434.2px,#fae9e0 434.2px 435.4px,#f9eee8 435.4px 436.6px,#f9eee7 436.6px 437.8px,#faeae0 437.8px 439.0px,#fbe6da 439.0px 440.2px,#fce1d2 440.2px 441.4px,#fae8dd 441.4px 442.6px,#f2f5f6 442.6px 443.8px,#fbe5d9 443.8px 444.9px,#fdddcb 444.9px 446.1px,#f5f6f7 446.1px 447.3px,#f8bc9f 447.3px 448.5px,#fbe6da 448.5px 449.7px,#fce2d2 449.7px 450.9px,#fbe6d9 450.9px 452.1px,#fcdecc 452.1px 453.3px,#fae9de 453.3px 454.5px,#f9ece3 454.5px 455.7px,#fbe6d9 455.7px 456.8px,#f9efea 456.8px 458.0px,#f9ece4 458.0px 460.4px,#f9f0eb 460.4px 461.6px,#f8f5f3 461.6px 462.8px,#edf2f5 462.8px 464.0px,#f7f5f3 464.0px 465.2px,#f9f0eb 465.2px 466.4px,#f4f6f7 466.4px 467.5px,#f7f7f7 467.5px 468.7px,#f9efea 468.7px 469.9px,#f1f4f6 469.9px 471.1px,#f7f7f6 471.1px 472.3px,#f9eee8 472.3px 473.5px,#f7f7f7 473.5px 474.7px,#f8f1ec 474.7px 475.9px,#f7f5f4 475.9px 477.1px,#f2f4f6 477.1px 478.3px,#f8f0ec 478.3px 479.4px,#f7f5f3 479.4px 480.6px,#f0f4f6 480.6px 481.8px,#f7f6f5 481.8px 483.0px,#ecf2f5 483.0px 484.2px,#f6f7f7 484.2px 485.4px,#f8f5f3 485.4px 486.6px,#f8f4f3 486.6px 487.8px,#f8f0ec 487.8px 489.0px,#f9ede6 489.0px 490.2px,#f8f2ee 490.2px 491.3px,#f9ede7 491.3px 492.5px,#f8f4f3 492.5px 493.7px,#f8f1ec 493.7px 494.9px,#f7f6f6 494.9px 496.1px,#faeae1 496.1px 497.3px,#f7f5f4 497.3px 498.5px,#f7f5f3 498.5px 499.7px,#eef3f5 499.7px 500.9px,#eaf1f5 500.9px 502.1px,#f8f4f1 502.1px 503.2px,#f7f6f5 503.2px 504.4px,#f8f1ec 504.4px 505.6px,#f8f4f2 505.6px 506.8px,#f9eee8 506.8px 508.0px,#fae9e0 508.0px 509.2px,#f9efea 509.2px 510.4px,#f9eee7 510.4px 511.6px,#f6f6f7 511.6px 512.8px,#d3e6f0 512.8px 513.9px,#e8f0f4 513.9px 515.1px,#f5f6f7 515.1px 516.3px,#f8f3f0 516.3px 517.5px,#f5f6f7 517.5px 518.7px,#f8f1ec 518.7px 519.9px,#e0ecf3 519.9px 521.1px,#f4f6f7 521.1px 522.3px,#f8f1ed 522.3px 523.5px,#f8f3f0 523.5px 524.7px,#f8f0ec 524.7px 525.8px,#f8f0eb 525.8px 527.0px,#f8f2ef 527.0px 528.2px,#f2f5f6 528.2px 530.6px,#e9f0f4 530.6px 531.8px,#f7f7f7 531.8px 534.2px,#f7f7f6 534.2px 535.4px,#fcd4be 535.4px 536.6px,#fce0d0 536.6px 537.7px,#fdd9c4 537.7px 538.9px,#fddcc9 538.9px 541.3px,#f9c3a8 541.3px 542.5px,#fbceb6 542.5px 543.7px,#fae7dc 543.7px 544.9px,#fbe5d9 544.9px 546.1px,#fce1d1 546.1px 547.3px,#fae9e0 547.3px 548.4px,#fce2d3 548.4px 550.8px,#fae7dc 550.8px 552.0px,#fce1d2 552.0px 553.2px,#fbe2d4 553.2px 554.4px,#fdddcb 554.4px 555.6px,#fbe5d9 555.6px 556.8px,#fae8de 556.8px 558.0px,#fbe7db 558.0px 559.2px,#fbe2d3 559.2px 560.3px,#fbe6d9 560.3px 561.5px,#f6b191 561.5px 562.7px,#f5ab8a 562.7px 563.9px,#f6b192 563.9px 565.1px,#f9c1a5 565.1px 566.3px,#f8bda1 566.3px 567.5px,#f7b799 567.5px 568.7px,#f9c5ab 568.7px 569.9px,#f7b697 569.9px 571.1px,#bfdceb 571.1px 572.2px,#d2e5f0 572.2px 573.4px,#cde3ef 573.4px 574.6px,#fdddca 574.6px 575.8px,#fcd7c2 575.8px 577.0px,#fcd8c3 577.0px 578.2px,#fbe5d8 578.2px 579.4px,#fddcc9 579.4px 580.6px,#fdddcb 580.6px 581.8px,#fcdfce 581.8px 583.0px,#fce0cf 583.0px 584.1px,#fddcc9 584.1px 586.5px,#fae8dd 586.5px 587.7px,#fdd8c3 587.7px 588.9px,#fce1d2 588.9px 590.1px,#fae8de 590.1px 592.5px,#fce2d2 592.5px 593.7px,#fdd8c3 593.7px 594.8px,#fdddca 594.8px 596.0px,#fbe3d5 596.0px 597.2px,#fddcc8 597.2px 598.4px,#fdd9c4 598.4px 599.6px,#faccb4 599.6px 600.8px,#fcd2bc 600.8px 602.0px,#fcd4be 602.0px 603.2px,#fbe3d4 603.2px 604.4px,#fcdfce 604.4px 605.6px,#fdddca 605.6px 606.7px,#fbe4d7 606.7px 607.9px,#fcd3bc 607.9px 609.1px,#f7b596 609.1px 610.3px,#fcd8c3 610.3px 611.5px,#fcdfcd 611.5px 612.7px,#fbe4d7 612.7px 613.9px,#fbe3d5 613.9px 615.1px,#f9efea 615.1px 616.3px,#fce1d1 616.3px 617.5px,#fcdfce 617.5px 618.6px,#fdddca 618.6px 619.8px,#fdd9c5 619.8px 621.0px,#fdddca 621.0px 622.2px,#fbe3d4 622.2px 623.4px,#fce1d1 623.4px 624.6px,#fbe4d7 624.6px 625.8px,#fbe5d9 625.8px 627.0px,#edf2f5 627.0px 629.3px,#f7f6f5 629.3px 630.5px,#f9efe9 630.5px 631.7px,#f6f6f7 631.7px 632.9px,#fce1d2 632.9px 634.1px,#f8f3ef 634.1px 635.3px,#f3f5f6 635.3px 636.5px,#eff3f5 636.5px 637.7px,#ecf2f5 637.7px 638.9px,#f5f6f7 638.9px 640.1px,#eef3f5 640.1px 641.2px,#fddcc9 641.2px 642.4px,#fce2d2 642.4px 643.6px,#f7b496 643.6px 644.8px,#fcd6c0 644.8px 646.0px,#fcd2bc 646.0px 647.2px,#fcddcb 647.2px 648.4px,#fdd9c5 648.4px 649.6px,#fbe3d5 649.6px 650.8px,#fbe5d9 650.8px 652.0px,#fcd7c2 652.0px 653.1px,#fbd1ba 653.1px 654.3px,#f8f4f2 654.3px 655.5px,#f9eee8 655.5px 656.7px,#f9ede6 656.7px 659.1px,#f3f5f6 659.1px 660.3px,#f7f5f3 660.3px 661.5px,#fae8dd 661.5px 662.7px,#fcdfcf 662.7px 663.8px,#fbe4d7 663.8px 665.0px,#fdd9c4 665.0px 666.2px,#fcdfce 666.2px 667.4px,#fddcc9 667.4px 668.6px,#f8f4f2 668.6px 669.8px,#fcdfcd 669.8px 671.0px,#fbe5d9 671.0px 672.2px,#fddbc8 672.2px 673.4px,#e48166 673.4px 674.6px,#e68569 674.6px 675.7px,#e7886c 675.7px 676.9px,#e58468 676.9px 678.1px,#e37d63 678.1px 679.3px,#eb9172 679.3px 680.5px,#e88a6d 680.5px 681.1px)"></div>
<div class="hm" style="left:244.65px;top:1718.2px;width:73.12px;height:681.1px;background:linear-gradient(#a7cfe4 0.0px 1.2px,#a4cee3 1.2px 2.4px,#c1ddeb 2.4px 3.6px,#acd2e6 3.6px 4.8px,#a6cfe4 4.8px 5.9px,#a5cfe3 5.9px 7.1px,#a8d0e4 7.1px 8.3px,#bad9e9 8.3px 9.5px,#c1ddeb 9.5px 10.7px,#cbe2ee 10.7px 11.9px,#bfdceb 11.9px 13.1px,#c9e1ee 13.1px 14.3px,#b5d7e8 14.3px 15.5px,#badaea 15.5px 16.7px,#bcdaea 16.7px 17.8px,#b6d7e8 17.8px 19.0px,#c5dfec 19.0px 20.2px,#b6d7e8 20.2px 21.4px,#bfdceb 21.4px 22.6px,#cbe2ee 22.6px 23.8px,#b4d6e8 23.8px 25.0px,#b8d8e9 25.0px 26.2px,#aed3e6 26.2px 27.4px,#aad1e5 27.4px 28.6px,#add3e6 28.6px 29.7px,#b0d4e7 29.7px 30.9px,#bedbeb 30.9px 32.1px,#b4d6e8 32.1px 33.3px,#bad9ea 33.3px 34.5px,#aed3e6 34.5px 35.7px,#8bc1dc 35.7px 36.9px,#7bb7d6 36.9px 38.1px,#96c7df 38.1px 39.3px,#a6cfe4 39.3px 40.4px,#a8d0e4 40.4px 41.6px,#96c7df 41.6px 42.8px,#a1cde2 42.8px 44.0px,#90c3dd 44.0px 45.2px,#91c5de 45.2px 46.4px,#a3cde3 46.4px 47.6px,#8ec2dd 47.6px 48.8px,#a3cde3 48.8px 50.0px,#9ac9e0 50.0px 51.2px,#a2cde2 51.2px 52.3px,#a1cde2 52.3px 53.5px,#a2cde3 53.5px 54.7px,#a5cee3 54.7px 55.9px,#b8d8e9 55.9px 57.1px,#85bcd9 57.1px 58.3px,#c5dfed 58.3px 59.5px,#95c7df 59.5px 61.9px,#7db7d7 61.9px 63.1px,#94c6df 63.1px 64.2px,#91c4de 64.2px 65.4px,#9ecbe1 65.4px 66.6px,#a7d0e4 66.6px 67.8px,#9fcce2 67.8px 69.0px,#95c7df 69.0px 70.2px,#a3cde3 70.2px 71.4px,#a6cfe4 71.4px 72.6px,#9ac9e0 72.6px 73.8px,#88bfdb 73.8px 75.0px,#add3e6 75.0px 76.1px,#90c4dd 76.1px 77.3px,#79b5d5 77.3px 78.5px,#8ec2dc 78.5px 79.7px,#78b4d5 79.7px 80.9px,#83bcd9 80.9px 82.1px,#89bfdb 82.1px 83.3px,#9bcae1 83.3px 84.5px,#bad9e9 84.5px 85.7px,#89c0db 85.7px 86.8px,#a2cde2 86.8px 88.0px,#98c8e0 88.0px 89.2px,#a0cce2 89.2px 90.4px,#7ab6d6 90.4px 91.6px,#99c9e0 91.6px 92.8px,#a1cce2 92.8px 94.0px,#97c8e0 94.0px 95.2px,#8ec3dd 95.2px 96.4px,#aed3e6 96.4px 97.6px,#96c7df 97.6px 98.7px,#9dcbe1 98.7px 99.9px,#a3cee3 99.9px 101.1px,#93c6de 101.1px 102.3px,#a4cee3 102.3px 103.5px,#7fb9d8 103.5px 104.7px,#9ccae1 104.7px 105.9px,#86beda 105.9px 107.1px,#93c5de 107.1px 108.3px,#71b0d3 108.3px 109.5px,#62a7ce 109.5px 110.6px,#83bbd9 110.6px 111.8px,#72b0d3 111.8px 113.0px,#84bcd9 113.0px 114.2px,#9fcce2 114.2px 115.4px,#8ac0db 115.4px 116.6px,#87beda 116.6px 117.8px,#7ab6d6 117.8px 119.0px,#85bdd9 119.0px 120.2px,#7eb8d7 120.2px 121.3px,#73b1d3 121.3px 122.5px,#8ac0db 122.5px 123.7px,#93c5de 123.7px 124.9px,#97c8df 124.9px 126.1px,#95c6df 126.1px 127.3px,#9bcae1 127.3px 128.5px,#98c8e0 128.5px 129.7px,#acd2e5 129.7px 130.9px,#9dcbe1 130.9px 132.1px,#74b2d4 132.1px 133.2px,#87beda 133.2px 134.4px,#81bbd8 134.4px 135.6px,#97c7df 135.6px 136.8px,#8ac0db 136.8px 138.0px,#aad1e5 138.0px 139.2px,#8dc2dc 139.2px 140.4px,#77b4d5 140.4px 141.6px,#97c7df 141.6px 142.8px,#8fc3dd 142.8px 144.0px,#84bcd9 144.0px 145.1px,#9bcae1 145.1px 146.3px,#79b5d5 146.3px 147.5px,#a2cde2 147.5px 148.7px,#a5cfe4 148.7px 149.9px,#97c8e0 149.9px 151.1px,#b0d4e7 151.1px 152.3px,#9ac9e0 152.3px 153.5px,#85bcd9 153.5px 154.7px,#87beda 154.7px 155.8px,#8fc3dd 155.8px 157.0px,#94c6de 157.0px 158.2px,#9ecbe1 158.2px 159.4px,#559fc9 159.4px 160.6px,#c1ddec 160.6px 161.8px,#8bc1dc 161.8px 163.0px,#9ecbe2 163.0px 164.2px,#9fcce2 164.2px 165.4px,#9dcae1 165.4px 166.6px,#9fcbe2 166.6px 167.7px,#9fcce2 167.7px 168.9px,#87beda 168.9px 170.1px,#7fb9d7 170.1px 171.3px,#73b1d3 171.3px 172.5px,#95c7df 172.5px 173.7px,#a7cfe4 173.7px 174.9px,#9bcae1 174.9px 176.1px,#a0cce2 176.1px 177.3px,#9ccae1 177.3px 178.5px,#aed3e6 178.5px 179.6px,#93c5de 179.6px 180.8px,#8bc1dc 180.8px 182.0px,#85bdda 182.0px 183.2px,#83bcd9 183.2px 184.4px,#8ac0db 184.4px 185.6px,#8bc1dc 185.6px 186.8px,#a6cfe4 186.8px 188.0px,#abd1e5 188.0px 189.2px,#81bad8 189.2px 190.4px,#6eaed2 190.4px 191.5px,#98c8e0 191.5px 192.7px,#9ccae1 192.7px 193.9px,#84bcd9 193.9px 195.1px,#71b0d3 195.1px 196.3px,#80bad8 196.3px 197.5px,#78b5d5 197.5px 198.7px,#87beda 198.7px 199.9px,#76b3d4 199.9px 201.1px,#8ec2dd 201.1px 202.2px,#81bad8 202.2px 203.4px,#9ecbe1 203.4px 204.6px,#8cc1dc 204.6px 205.8px,#7cb7d7 205.8px 207.0px,#75b3d4 207.0px 208.2px,#72b1d3 208.2px 209.4px,#8dc2dc 209.4px 210.6px,#86beda 210.6px 211.8px,#98c8e0 211.8px 213.0px,#9bcae1 213.0px 214.1px,#95c7df 214.1px 215.3px,#9ecbe1 215.3px 216.5px,#add3e6 216.5px 217.7px,#a9d1e5 217.7px 218.9px,#b4d6e8 218.9px 220.1px,#90c4dd 220.1px 221.3px,#a6cfe4 221.3px 222.5px,#99c8e0 222.5px 223.7px,#97c8e0 223.7px 224.9px,#a3cee3 224.9px 226.0px,#9ac9e0 226.0px 227.2px,#9ccae1 227.2px 228.4px,#99c9e0 228.4px 229.6px,#92c5de 229.6px 230.8px,#8dc2dc 230.8px 232.0px,#93c5de 232.0px 233.2px,#94c6df 233.2px 234.4px,#9ac9e0 234.4px 236.7px,#98c8e0 236.7px 237.9px,#99c8e0 237.9px 239.1px,#a5cee3 239.1px 240.3px,#97c7df 240.3px 241.5px,#9ccae1 241.5px 242.7px,#b4d6e8 242.7px 243.9px,#b0d4e7 243.9px 245.1px,#aed3e6 245.1px 246.3px,#b9d9e9 246.3px 247.5px,#85bdda 247.5px 248.6px,#7ab6d6 248.6px 249.8px,#74b2d4 249.8px 251.0px,#72b1d3 251.0px 252.2px,#6eaed2 252.2px 253.4px,#a1cde2 253.4px 254.6px,#9fcce2 254.6px 255.8px,#92c5de 255.8px 257.0px,#a4cee3 257.0px 258.2px,#94c6de 258.2px 259.4px,#91c4de 259.4px 260.5px,#a2cde3 260.5px 261.7px,#a9d1e5 261.7px 262.9px,#dae9f2 262.9px 264.1px,#97c8df 264.1px 265.3px,#b3d6e7 265.3px 266.5px,#89bfdb 266.5px 267.7px,#a5cee3 267.7px 268.9px,#91c4de 268.9px 270.1px,#8fc3dd 270.1px 271.3px,#9fcbe2 271.3px 272.4px,#9dcbe1 272.4px 273.6px,#98c8e0 273.6px 274.8px,#9ecbe2 274.8px 276.0px,#9fcce2 276.0px 277.2px,#b9d9e9 277.2px 278.4px,#9ccae1 278.4px 279.6px,#9fcce2 279.6px 280.8px,#acd2e5 280.8px 282.0px,#96c7df 282.0px 283.1px,#a1cde2 283.1px 284.3px,#7db8d7 284.3px 285.5px,#a2cde3 285.5px 286.7px,#add3e6 286.7px 287.9px,#a7cfe4 287.9px 289.1px,#93c5de 289.1px 290.3px,#92c5de 290.3px 291.5px,#85bdda 291.5px 292.7px,#92c5de 292.7px 293.9px,#95c6df 293.9px 295.0px,#7bb6d6 295.0px 296.2px,#4493c3 296.2px 297.4px,#87beda 297.4px 298.6px,#91c5de 298.6px 299.8px,#8fc3dd 299.8px 301.0px,#93c6de 301.0px 302.2px,#a2cde3 302.2px 303.4px,#96c7df 303.4px 304.6px,#b2d5e7 304.6px 305.8px,#afd4e6 305.8px 306.9px,#8cc1dc 306.9px 308.1px,#91c4de 308.1px 309.3px,#90c4dd 309.3px 310.5px,#85bdda 310.5px 311.7px,#8ac0db 311.7px 312.9px,#86bdda 312.9px 314.1px,#77b4d5 314.1px 315.3px,#95c6df 315.3px 316.5px,#92c5de 316.5px 317.6px,#a8d0e4 317.6px 318.8px,#a2cde3 318.8px 320.0px,#98c8e0 320.0px 321.2px,#95c6df 321.2px 322.4px,#92c5de 322.4px 323.6px,#7eb8d7 323.6px 324.8px,#93c6de 324.8px 326.0px,#89c0db 326.0px 327.2px,#7bb7d6 327.2px 328.4px,#9bcae1 328.4px 329.5px,#8ec2dc 329.5px 330.7px,#8cc1dc 330.7px 331.9px,#97c8e0 331.9px 333.1px,#98c8e0 333.1px 334.3px,#9dcbe1 334.3px 335.5px,#a4cee3 335.5px 336.7px,#95c6df 336.7px 337.9px,#92c5de 337.9px 339.1px,#a7cfe4 339.1px 340.3px,#9ac9e0 340.3px 341.4px,#b0d4e7 341.4px 342.6px,#a8d0e4 342.6px 343.8px,#bddbea 343.8px 345.0px,#93c6de 345.0px 346.2px,#a0cce2 346.2px 347.4px,#a4cee3 347.4px 348.6px,#94c6df 348.6px 349.8px,#a2cde3 349.8px 351.0px,#94c6df 351.0px 352.1px,#a7cfe4 352.1px 353.3px,#abd2e5 353.3px 354.5px,#a8d0e4 354.5px 355.7px,#9fcce2 355.7px 356.9px,#b6d7e8 356.9px 358.1px,#a0cce2 358.1px 359.3px,#a1cde2 359.3px 360.5px,#add3e6 360.5px 361.7px,#93c5de 361.7px 362.9px,#93c6de 362.9px 364.0px,#b0d4e7 364.0px 365.2px,#a3cee3 365.2px 366.4px,#88beda 366.4px 367.6px,#98c8e0 367.6px 368.8px,#81bad8 368.8px 370.0px,#82bbd9 370.0px 372.4px,#a3cee3 372.4px 373.6px,#9dcbe1 373.6px 374.8px,#92c5de 374.8px 375.9px,#a3cee3 375.9px 377.1px,#abd2e5 377.1px 378.3px,#b3d6e7 378.3px 379.5px,#b5d7e8 379.5px 380.7px,#b7d8e9 380.7px 381.9px,#92c5de 381.9px 383.1px,#aed3e6 383.1px 384.3px,#a5cfe4 384.3px 385.5px,#94c6de 385.5px 386.7px,#98c8e0 386.7px 387.8px,#88bfdb 387.8px 389.0px,#99c9e0 389.0px 390.2px,#ddebf2 390.2px 391.4px,#e1edf3 391.4px 392.6px,#f5f6f7 392.6px 393.8px,#cde3ef 393.8px 395.0px,#d9e9f1 395.0px 396.2px,#bedbeb 396.2px 397.4px,#cee4ef 397.4px 398.5px,#cde3ef 398.5px 399.7px,#b4d6e8 399.7px 400.9px,#d7e8f1 400.9px 402.1px,#c8e0ed 402.1px 403.3px,#cae1ee 403.3px 404.5px,#deebf2 404.5px 405.7px,#d8e8f1 405.7px 406.9px,#d2e6f0 406.9px 408.1px,#d0e5f0 408.1px 409.3px,#cde3ef 409.3px 410.4px,#bedbeb 410.4px 411.6px,#d8e8f1 411.6px 412.8px,#ddebf2 412.8px 414.0px,#cfe4ef 414.0px 415.2px,#bfdceb 415.2px 416.4px,#d0e5f0 416.4px 417.6px,#bddbea 417.6px 418.8px,#cce2ee 418.8px 420.0px,#c0dceb 420.0px 421.2px,#c1ddeb 421.2px 422.3px,#aad1e5 422.3px 423.5px,#d3e6f0 423.5px 424.7px,#c5dfed 424.7px 425.9px,#c9e1ee 425.9px 427.1px,#c1ddec 427.1px 428.3px,#c6e0ed 428.3px 429.5px,#cde3ef 429.5px 430.7px,#cbe2ee 430.7px 431.9px,#c8e0ed 431.9px 433.0px,#dbeaf2 433.0px 434.2px,#cbe2ee 434.2px 435.4px,#bedbeb 435.4px 436.6px,#c1ddeb 436.6px 437.8px,#94c6df 437.8px 439.0px,#c8e0ed 439.0px 440.2px,#d0e4f0 440.2px 441.4px,#d5e7f1 441.4px 442.6px,#d7e8f1 442.6px 443.8px,#c7e0ed 443.8px 444.9px,#d7e8f1 444.9px 446.1px,#d5e7f1 446.1px 447.3px,#cfe4ef 447.3px 448.5px,#c8e0ed 448.5px 449.7px,#d1e5f0 449.7px 450.9px,#d8e9f1 450.9px 452.1px,#dbeaf2 452.1px 453.3px,#d7e8f1 453.3px 454.5px,#d2e6f0 454.5px 455.7px,#d2e5f0 455.7px 456.8px,#e0ecf3 456.8px 458.0px,#d5e7f1 458.0px 459.2px,#c7e0ed 459.2px 460.4px,#d5e7f1 460.4px 461.6px,#c5dfed 461.6px 462.8px,#cbe2ee 462.8px 464.0px,#c1ddeb 464.0px 465.2px,#d6e8f1 465.2px 466.4px,#cae2ee 466.4px 467.5px,#d2e6f0 467.5px 468.7px,#cce2ef 468.7px 469.9px,#bad9e9 469.9px 471.1px,#c4deec 471.1px 472.3px,#dfecf3 472.3px 473.5px,#cfe4ef 473.5px 474.7px,#d2e6f0 474.7px 475.9px,#d5e7f1 475.9px 478.3px,#c7e0ed 478.3px 479.4px,#d3e6f0 479.4px 480.6px,#e1edf3 480.6px 481.8px,#d7e8f1 481.8px 484.2px,#c3deec 484.2px 485.4px,#bad9e9 485.4px 486.6px,#c7e0ed 486.6px 487.8px,#cae2ee 487.8px 489.0px,#b7d8e8 489.0px 490.2px,#bddbea 490.2px 491.3px,#c3deec 491.3px 492.5px,#c2deec 492.5px 493.7px,#d4e6f0 493.7px 494.9px,#cbe2ee 494.9px 496.1px,#d3e6f0 496.1px 497.3px,#c8e1ed 497.3px 498.5px,#d0e4f0 498.5px 499.7px,#bfdceb 499.7px 500.9px,#b0d4e7 500.9px 502.1px,#c3deec 502.1px 503.2px,#abd2e5 503.2px 504.4px,#c0ddeb 504.4px 505.6px,#aad1e5 505.6px 506.8px,#cae1ee 506.8px 508.0px,#c5dfec 508.0px 509.2px,#cde3ef 509.2px 510.4px,#d7e8f1 510.4px 511.6px,#d1e5f0 511.6px 512.8px,#d3e6f0 512.8px 513.9px,#d0e4f0 513.9px 515.1px,#e3eef3 515.1px 516.3px,#c1ddeb 516.3px 517.5px,#ecf2f5 517.5px 518.7px,#bcdbea 518.7px 519.9px,#cee3ef 519.9px 521.1px,#c8e0ed 521.1px 522.3px,#c0dceb 522.3px 523.5px,#c4deec 523.5px 524.7px,#c6dfed 524.7px 525.8px,#b9d9e9 525.8px 527.0px,#cce2ef 527.0px 528.2px,#c7e0ed 528.2px 529.4px,#d5e7f1 529.4px 530.6px,#dae9f2 530.6px 531.8px,#d0e5f0 531.8px 533.0px,#e3edf3 533.0px 534.2px,#bad9e9 534.2px 535.4px,#b4d6e8 535.4px 536.6px,#c0dceb 536.6px 537.7px,#cbe2ee 537.7px 538.9px,#cae1ee 538.9px 540.1px,#d1e5f0 540.1px 541.3px,#d5e7f1 541.3px 542.5px,#dae9f2 542.5px 543.7px,#ddeaf2 543.7px 544.9px,#c2ddec 544.9px 546.1px,#dae9f2 546.1px 547.3px,#d3e6f0 547.3px 548.4px,#d6e7f1 548.4px 549.6px,#d5e7f1 549.6px 550.8px,#d4e6f0 550.8px 552.0px,#dae9f2 552.0px 553.2px,#d8e8f1 553.2px 554.4px,#dbeaf2 554.4px 555.6px,#d3e6f0 555.6px 556.8px,#c7e0ed 556.8px 558.0px,#cbe2ee 558.0px 559.2px,#dae9f2 559.2px 560.3px,#d6e7f1 560.3px 561.5px,#cde3ef 561.5px 562.7px,#d6e7f1 562.7px 563.9px,#bad9e9 563.9px 565.1px,#c3deec 565.1px 566.3px,#c7e0ed 566.3px 567.5px,#bedbeb 567.5px 568.7px,#c6dfed 568.7px 569.9px,#bad9e9 569.9px 571.1px,#be3036 571.1px 572.2px,#fbe5d8 572.2px 573.4px,#fbe6da 573.4px 574.6px,#f9ede5 574.6px 575.8px,#fae9e0 575.8px 577.0px,#fce0cf 577.0px 578.2px,#fbe2d4 578.2px 579.4px,#faeae0 579.4px 580.6px,#fbe5d7 580.6px 581.8px,#fce1d2 581.8px 583.0px,#fddcc9 583.0px 584.1px,#fcdfce 584.1px 587.7px,#f9ede5 587.7px 588.9px,#fddcc9 588.9px 590.1px,#fcd7c2 590.1px 591.3px,#fce2d3 591.3px 592.5px,#facbb3 592.5px 593.7px,#ecf2f5 593.7px 594.8px,#fddac5 594.8px 596.0px,#fac9b0 596.0px 597.2px,#fcdfcd 597.2px 598.4px,#fbe3d5 598.4px 599.6px,#fae8de 599.6px 600.8px,#faeae0 600.8px 602.0px,#fbe6da 602.0px 603.2px,#f9ece5 603.2px 604.4px,#fbe3d6 604.4px 605.6px,#fcdecd 605.6px 606.7px,#fddbc7 606.7px 607.9px,#fcd5bf 607.9px 609.1px,#fcdecc 609.1px 610.3px,#fcddcb 610.3px 611.5px,#fce0d0 611.5px 612.7px,#fbd2bb 612.7px 613.9px,#fdd9c5 613.9px 615.1px,#fcdfce 615.1px 616.3px,#f7b597 616.3px 617.5px,#f7b99c 617.5px 618.6px,#f5aa89 618.6px 619.8px,#f5ad8c 619.8px 621.0px,#f5ab8a 621.0px 622.2px,#f09c7b 622.2px 623.4px,#f4a886 623.4px 624.6px,#f0f4f6 624.6px 625.8px,#f8f2ef 625.8px 627.0px,#f7f6f5 627.0px 628.2px,#f9eee7 628.2px 629.3px,#f8f1ed 629.3px 630.5px,#fae9e0 630.5px 631.7px,#fae7db 631.7px 632.9px,#f8f0eb 632.9px 634.1px,#fbe4d7 634.1px 635.3px,#f9ece5 635.3px 636.5px,#f9ede6 636.5px 637.7px,#f7f6f6 637.7px 638.9px,#f8f4f2 638.9px 640.1px,#f8f5f3 640.1px 641.2px,#f8f2ee 641.2px 642.4px,#f7f6f5 642.4px 643.6px,#f9ece3 643.6px 644.8px,#f9ede6 644.8px 646.0px,#f7f6f5 646.0px 647.2px,#faebe2 647.2px 648.4px,#f2f5f6 648.4px 649.6px,#fbe7db 649.6px 650.8px,#fce0cf 650.8px 652.0px,#fae7db 652.0px 653.1px,#fcdecd 653.1px 654.3px,#fbe3d5 654.3px 655.5px,#fae8dd 655.5px 656.7px,#d3e6f0 656.7px 657.9px,#dbeaf2 657.9px 659.1px,#cfe4ef 659.1px 660.3px,#c8e0ed 660.3px 661.5px,#dd705a 661.5px 662.7px,#e68469 662.7px 663.8px,#e17a61 663.8px 665.0px,#da6853 665.0px 666.2px,#dd705a 666.2px 667.4px,#e58368 667.4px 668.6px,#e6856a 668.6px 669.8px,#e58468 669.8px 671.0px,#dd715a 671.0px 672.2px,#df755d 672.2px 673.4px,#fbe4d6 673.4px 674.6px,#fce2d2 674.6px 675.7px,#fae8de 675.7px 676.9px,#fbe3d5 676.9px 678.1px,#fce1d2 678.1px 679.3px,#fdddcb 679.3px 680.5px,#fce0d0 680.5px 681.1px)"></div>
<div class="hm" style="left:317.38px;top:1718.2px;width:73.12px;height:681.1px;background:linear-gradient(#c2deec 0.0px 1.2px,#c8e1ee 1.2px 2.4px,#b4d6e8 2.4px 3.6px,#b5d7e8 3.6px 5.9px,#c7e0ed 5.9px 7.1px,#c2ddec 7.1px 8.3px,#c9e1ee 8.3px 9.5px,#d2e5f0 9.5px 10.7px,#c2deec 10.7px 11.9px,#c3deec 11.9px 13.1px,#c1ddeb 13.1px 14.3px,#bfdceb 14.3px 15.5px,#bcdbea 15.5px 16.7px,#c5dfec 16.7px 17.8px,#c2ddec 17.8px 19.0px,#bad9e9 19.0px 20.2px,#bedbea 20.2px 21.4px,#c3deec 21.4px 22.6px,#c6dfed 22.6px 23.8px,#a8d0e4 23.8px 25.0px,#bedceb 25.0px 26.2px,#c8e1ed 26.2px 27.4px,#c6dfed 27.4px 28.6px,#b0d4e7 28.6px 29.7px,#b9d9e9 29.7px 30.9px,#bddbea 30.9px 32.1px,#c2ddec 32.1px 33.3px,#bddbea 33.3px 34.5px,#c9e1ee 34.5px 35.7px,#a8d0e4 35.7px 36.9px,#9fcce2 36.9px 38.1px,#97c8df 38.1px 39.3px,#9ccae1 39.3px 40.4px,#81bad8 40.4px 41.6px,#b2d5e7 41.6px 42.8px,#8ac0db 42.8px 44.0px,#73b1d3 44.0px 45.2px,#97c7df 45.2px 46.4px,#b0d4e7 46.4px 47.6px,#acd2e5 47.6px 48.8px,#8ac0db 48.8px 50.0px,#90c3dd 50.0px 51.2px,#a4cee3 51.2px 52.3px,#99c8e0 52.3px 53.5px,#96c7df 53.5px 54.7px,#9ac9e0 54.7px 55.9px,#88bfdb 55.9px 57.1px,#8ac0db 57.1px 58.3px,#84bcd9 58.3px 59.5px,#79b5d5 59.5px 60.7px,#71b0d3 60.7px 61.9px,#8cc1dc 61.9px 63.1px,#a3cde3 63.1px 64.2px,#95c6df 64.2px 65.4px,#97c8df 65.4px 66.6px,#9dcbe1 66.6px 67.8px,#a0cce2 67.8px 69.0px,#b9d9e9 69.0px 70.2px,#74b2d4 70.2px 71.4px,#5ba2cb 71.4px 72.6px,#96c7df 72.6px 73.8px,#8bc0db 73.8px 75.0px,#95c7df 75.0px 76.1px,#83bcd9 76.1px 77.3px,#8ec2dd 77.3px 78.5px,#7eb8d7 78.5px 79.7px,#89bfdb 79.7px 80.9px,#9ac9e0 80.9px 82.1px,#bcdaea 82.1px 83.3px,#7cb7d7 83.3px 84.5px,#8ec3dd 84.5px 85.7px,#7ab6d6 85.7px 86.8px,#bbdaea 86.8px 88.0px,#95c6df 88.0px 89.2px,#79b5d5 89.2px 90.4px,#99c9e0 90.4px 91.6px,#abd2e5 91.6px 92.8px,#a5cee3 92.8px 94.0px,#a1cde2 94.0px 95.2px,#6fafd2 95.2px 96.4px,#85bdda 96.4px 97.6px,#84bcd9 97.6px 98.7px,#acd2e5 98.7px 99.9px,#92c5de 99.9px 101.1px,#94c6df 101.1px 102.3px,#7eb9d7 102.3px 103.5px,#add3e6 103.5px 104.7px,#85bcd9 104.7px 105.9px,#7fb9d8 105.9px 107.1px,#b0d4e7 107.1px 108.3px,#9fcce2 108.3px 109.5px,#a6cfe4 109.5px 110.6px,#b9d9e9 110.6px 111.8px,#91c4de 111.8px 113.0px,#a9d1e5 113.0px 114.2px,#94c6de 114.2px 116.6px,#93c6de 116.6px 117.8px,#96c7df 117.8px 119.0px,#90c3dd 119.0px 120.2px,#8bc0dc 120.2px 121.3px,#aad1e5 121.3px 122.5px,#80bad8 122.5px 123.7px,#8bc0dc 123.7px 124.9px,#aed3e6 124.9px 126.1px,#8ac0db 126.1px 127.3px,#8ec2dc 127.3px 128.5px,#8bc1dc 128.5px 129.7px,#89bfdb 129.7px 130.9px,#b3d6e7 130.9px 132.1px,#a0cce2 132.1px 133.2px,#9ecbe2 133.2px 134.4px,#9bcae1 134.4px 135.6px,#80bad8 135.6px 136.8px,#84bcd9 136.8px 138.0px,#9ecbe1 138.0px 139.2px,#86bdda 139.2px 140.4px,#75b3d4 140.4px 141.6px,#a1cde2 141.6px 142.8px,#9fcbe2 142.8px 144.0px,#7cb7d6 144.0px 145.1px,#9ac9e0 145.1px 146.3px,#7bb7d6 146.3px 147.5px,#a4cee3 147.5px 148.7px,#88beda 148.7px 149.9px,#a3cee3 149.9px 151.1px,#86bdda 151.1px 152.3px,#bcdaea 152.3px 153.5px,#bfdceb 153.5px 154.7px,#bcdaea 154.7px 155.8px,#c1ddec 155.8px 157.0px,#aed3e6 157.0px 158.2px,#a6cfe4 158.2px 159.4px,#8fc3dd 159.4px 160.6px,#a4cee3 160.6px 161.8px,#88bfdb 161.8px 163.0px,#a5cfe3 163.0px 164.2px,#9fcbe2 164.2px 165.4px,#86bdda 165.4px 166.6px,#9ac9e0 166.6px 167.7px,#b4d6e8 167.7px 168.9px,#88bfdb 168.9px 170.1px,#9ccae1 170.1px 171.3px,#9ac9e0 171.3px 172.5px,#8dc2dc 172.5px 173.7px,#9bcae1 173.7px 174.9px,#84bcd9 174.9px 176.1px,#79b5d6 176.1px 177.3px,#9bc9e0 177.3px 178.5px,#8fc3dd 178.5px 179.6px,#9bc9e1 179.6px 180.8px,#9ccae1 180.8px 182.0px,#7eb8d7 182.0px 184.4px,#a3cee3 184.4px 185.6px,#9ac9e0 185.6px 186.8px,#a5cfe3 186.8px 188.0px,#9dcbe1 188.0px 189.2px,#a3cee3 189.2px 190.4px,#a1cde2 190.4px 191.5px,#90c4dd 191.5px 192.7px,#95c6df 192.7px 193.9px,#85bdda 193.9px 195.1px,#88bfdb 195.1px 196.3px,#81bad8 196.3px 197.5px,#98c8e0 197.5px 198.7px,#85bdda 198.7px 199.9px,#94c6df 199.9px 201.1px,#81bad8 201.1px 202.2px,#93c6de 202.2px 203.4px,#7db7d7 203.4px 204.6px,#9dcbe1 204.6px 205.8px,#a3cde3 205.8px 207.0px,#a8d0e4 207.0px 208.2px,#a1cde2 208.2px 209.4px,#a8d0e4 209.4px 210.6px,#c3deec 210.6px 211.8px,#89c0db 211.8px 213.0px,#98c8e0 213.0px 214.1px,#88bfdb 214.1px 215.3px,#96c7df 215.3px 217.7px,#9ccae1 217.7px 218.9px,#a7d0e4 218.9px 220.1px,#95c6df 220.1px 221.3px,#b0d4e7 221.3px 222.5px,#80bad8 222.5px 223.7px,#87beda 223.7px 224.9px,#93c6de 224.9px 226.0px,#9bcae1 226.0px 227.2px,#a3cee3 227.2px 228.4px,#a8d0e4 228.4px 229.6px,#d1e5f0 229.6px 230.8px,#8fc3dd 230.8px 232.0px,#87beda 232.0px 233.2px,#73b1d3 233.2px 234.4px,#8fc3dd 234.4px 235.6px,#83bbd9 235.6px 236.7px,#7fb9d7 236.7px 237.9px,#8dc2dc 237.9px 239.1px,#91c5de 239.1px 240.3px,#9dcbe1 240.3px 241.5px,#91c4de 241.5px 242.7px,#75b3d4 242.7px 243.9px,#8cc1dc 243.9px 245.1px,#93c5de 245.1px 246.3px,#83bcd9 246.3px 247.5px,#9ecbe1 247.5px 248.6px,#d6e7f1 248.6px 249.8px,#92c5de 249.8px 251.0px,#85bdda 251.0px 252.2px,#8bc1dc 252.2px 253.4px,#95c6df 253.4px 254.6px,#83bbd9 254.6px 255.8px,#92c5de 255.8px 257.0px,#9fcce2 257.0px 258.2px,#a4cee3 258.2px 259.4px,#92c5de 259.4px 260.5px,#9ccae1 260.5px 261.7px,#7eb8d7 261.7px 262.9px,#74b2d4 262.9px 264.1px,#83bbd9 264.1px 265.3px,#85bdda 265.3px 266.5px,#8bc1dc 266.5px 267.7px,#84bcd9 267.7px 268.9px,#96c7df 268.9px 270.1px,#99c8e0 270.1px 271.3px,#a7d0e4 271.3px 272.4px,#8dc2dc 272.4px 273.6px,#a3cde3 273.6px 274.8px,#78b4d5 274.8px 276.0px,#84bcd9 276.0px 277.2px,#70b0d3 277.2px 278.4px,#6fafd2 278.4px 279.6px,#76b3d4 279.6px 280.8px,#bfdceb 280.8px 282.0px,#7cb7d6 282.0px 283.1px,#71b0d3 283.1px 284.3px,#74b2d4 284.3px 285.5px,#87beda 285.5px 286.7px,#92c5de 286.7px 287.9px,#93c6de 287.9px 289.1px,#98c8e0 289.1px 290.3px,#7eb8d7 290.3px 291.5px,#79b5d5 291.5px 292.7px,#84bcd9 292.7px 293.9px,#93c6de 293.9px 295.0px,#8ec2dd 295.0px 296.2px,#92c5de 296.2px 297.4px,#8ac0db 297.4px 298.6px,#6eaed2 298.6px 299.8px,#94c6de 299.8px 301.0px,#8fc3dd 301.0px 302.2px,#86beda 302.2px 303.4px,#9ccae1 303.4px 304.6px,#89bfdb 304.6px 305.8px,#8fc3dd 305.8px 306.9px,#a8d0e4 306.9px 308.1px,#c7e0ed 308.1px 309.3px,#82bbd9 309.3px 310.5px,#90c4dd 310.5px 311.7px,#8ec2dd 311.7px 312.9px,#b1d5e7 312.9px 314.1px,#b3d6e8 314.1px 315.3px,#a9d1e5 315.3px 316.5px,#badaea 316.5px 317.6px,#b3d6e8 317.6px 318.8px,#abd2e5 318.8px 320.0px,#a0cce2 320.0px 321.2px,#a2cde3 321.2px 322.4px,#b0d4e6 322.4px 323.6px,#aad1e5 323.6px 324.8px,#c2ddec 324.8px 326.0px,#c1ddeb 326.0px 327.2px,#a2cde3 327.2px 328.4px,#b1d5e7 328.4px 329.5px,#b5d7e8 329.5px 330.7px,#a7d0e4 330.7px 331.9px,#c2ddec 331.9px 333.1px,#bcdaea 333.1px 334.3px,#9dcbe1 334.3px 335.5px,#abd2e5 335.5px 336.7px,#a6cfe4 336.7px 339.1px,#b5d7e8 339.1px 341.4px,#b3d6e7 341.4px 342.6px,#bcdaea 342.6px 343.8px,#a6cfe4 343.8px 345.0px,#a1cde2 345.0px 346.2px,#aed3e6 346.2px 347.4px,#9ccae1 347.4px 348.6px,#a5cfe3 348.6px 349.8px,#add3e6 349.8px 351.0px,#a4cee3 351.0px 352.1px,#bddbea 352.1px 353.3px,#9fcce2 353.3px 354.5px,#c3deec 354.5px 355.7px,#bcdaea 355.7px 356.9px,#b1d5e7 356.9px 358.1px,#a9d1e5 358.1px 359.3px,#9fcbe2 359.3px 360.5px,#a4cee3 360.5px 361.7px,#d1e5f0 361.7px 362.9px,#b6d7e8 362.9px 364.0px,#afd4e6 364.0px 365.2px,#bddbea 365.2px 366.4px,#b7d8e9 366.4px 367.6px,#a9d1e4 367.6px 368.8px,#add3e6 368.8px 370.0px,#bad9e9 370.0px 371.2px,#9ac9e0 371.2px 372.4px,#90c4dd 372.4px 373.6px,#abd2e5 373.6px 374.8px,#8cc1dc 374.8px 375.9px,#bcdaea 375.9px 377.1px,#d5e7f1 377.1px 378.3px,#b4d6e8 378.3px 379.5px,#abd2e5 379.5px 380.7px,#aad1e5 380.7px 381.9px,#a9d0e4 381.9px 383.1px,#a7d0e4 383.1px 384.3px,#a6cfe4 384.3px 385.5px,#a2cde2 385.5px 386.7px,#85bdda 386.7px 387.8px,#afd4e6 387.8px 389.0px,#bbdaea 389.0px 390.2px,#e1edf3 390.2px 391.4px,#e4eef3 391.4px 392.6px,#e8f0f4 392.6px 393.8px,#e3edf3 393.8px 395.0px,#deebf2 395.0px 396.2px,#d7e8f1 396.2px 397.4px,#e0ecf3 397.4px 398.5px,#d4e7f1 398.5px 399.7px,#e4eef4 399.7px 400.9px,#e1edf3 400.9px 402.1px,#e6eff4 402.1px 403.3px,#e3edf3 403.3px 404.5px,#e9f0f4 404.5px 405.7px,#e0ecf3 405.7px 406.9px,#d9e9f1 406.9px 408.1px,#e1edf3 408.1px 409.3px,#d5e7f1 409.3px 410.4px,#e0ecf3 410.4px 411.6px,#d8e8f1 411.6px 412.8px,#dbeaf2 412.8px 415.2px,#dceaf2 415.2px 416.4px,#d9e9f1 416.4px 417.6px,#d1e5f0 417.6px 418.8px,#d7e8f1 418.8px 420.0px,#d3e6f0 420.0px 421.2px,#d4e6f1 421.2px 422.3px,#e3edf3 422.3px 423.5px,#dbeaf2 423.5px 424.7px,#dae9f2 424.7px 425.9px,#e1edf3 425.9px 427.1px,#e0ecf3 427.1px 428.3px,#e7eff4 428.3px 429.5px,#e0ecf3 429.5px 430.7px,#e5eef4 430.7px 431.9px,#d8e8f1 431.9px 433.0px,#e1ecf3 433.0px 434.2px,#e4eef3 434.2px 435.4px,#f8f4f2 435.4px 436.6px,#e0ecf3 436.6px 437.8px,#ddebf2 437.8px 439.0px,#d2e5f0 439.0px 440.2px,#d8e8f1 440.2px 441.4px,#d9e9f2 441.4px 442.6px,#e2edf3 442.6px 443.8px,#edf2f5 443.8px 444.9px,#e6eff4 444.9px 446.1px,#dbeaf2 446.1px 447.3px,#b9d9e9 447.3px 448.5px,#deebf2 448.5px 449.7px,#d7e8f1 449.7px 450.9px,#e3eef3 450.9px 452.1px,#deebf2 452.1px 453.3px,#dbeaf2 453.3px 454.5px,#e2edf3 454.5px 455.7px,#d3e6f0 455.7px 456.8px,#d9e9f1 456.8px 458.0px,#d6e7f1 458.0px 459.2px,#d7e8f1 459.2px 460.4px,#deebf2 460.4px 461.6px,#ddebf2 461.6px 462.8px,#e4eef4 462.8px 464.0px,#dfecf3 464.0px 465.2px,#cce3ef 465.2px 466.4px,#d8e8f1 466.4px 467.5px,#e1ecf3 467.5px 468.7px,#e4eef3 468.7px 469.9px,#ecf2f5 469.9px 471.1px,#e1edf3 471.1px 472.3px,#ddebf2 472.3px 473.5px,#e5eef4 473.5px 474.7px,#e0ecf3 474.7px 475.9px,#ddebf2 475.9px 477.1px,#eaf1f5 477.1px 478.3px,#d9e9f1 478.3px 479.4px,#e0ecf3 479.4px 480.6px,#e1edf3 480.6px 481.8px,#dceaf2 481.8px 483.0px,#e1edf3 483.0px 484.2px,#e3edf3 484.2px 485.4px,#e0ecf3 485.4px 486.6px,#dceaf2 486.6px 489.0px,#ddebf2 489.0px 490.2px,#dceaf2 490.2px 491.3px,#e0ecf3 491.3px 492.5px,#d7e8f1 492.5px 493.7px,#dceaf2 493.7px 494.9px,#deebf2 494.9px 496.1px,#dbeaf2 496.1px 497.3px,#e8f0f4 497.3px 498.5px,#e2edf3 498.5px 499.7px,#deebf2 499.7px 500.9px,#e1edf3 500.9px 502.1px,#dbeaf2 502.1px 503.2px,#e6eff4 503.2px 504.4px,#e9f0f4 504.4px 505.6px,#e3eef3 505.6px 506.8px,#deebf2 506.8px 508.0px,#dbeaf2 508.0px 509.2px,#ddeaf2 509.2px 510.4px,#e5eef4 510.4px 511.6px,#dae9f2 511.6px 512.8px,#dfecf3 512.8px 513.9px,#e4eef3 513.9px 515.1px,#dfecf3 515.1px 516.3px,#e5eff4 516.3px 517.5px,#d9e9f2 517.5px 518.7px,#e1edf3 518.7px 519.9px,#dae9f2 519.9px 521.1px,#d1e5f0 521.1px 522.3px,#dbeaf2 522.3px 523.5px,#e2edf3 523.5px 524.7px,#deebf2 524.7px 527.0px,#ddebf2 527.0px 528.2px,#d9e9f1 528.2px 529.4px,#ddebf2 529.4px 530.6px,#e9f0f4 530.6px 531.8px,#d9e9f1 531.8px 533.0px,#e2edf3 533.0px 534.2px,#ddebf2 534.2px 535.4px,#e1ecf3 535.4px 536.6px,#dae9f2 536.6px 537.7px,#dceaf2 537.7px 538.9px,#dfecf3 538.9px 540.1px,#dceaf2 540.1px 541.3px,#deebf2 541.3px 542.5px,#e3edf3 542.5px 543.7px,#e0ecf3 543.7px 544.9px,#e4eef3 544.9px 547.3px,#e5eff4 547.3px 548.4px,#dceaf2 548.4px 549.6px,#e9f0f4 549.6px 550.8px,#ddebf2 550.8px 552.0px,#d5e7f1 552.0px 553.2px,#e1edf3 553.2px 554.4px,#dae9f2 554.4px 555.6px,#d5e7f1 555.6px 556.8px,#d4e6f0 556.8px 558.0px,#dae9f2 558.0px 559.2px,#cfe4ef 559.2px 560.3px,#dae9f2 560.3px 561.5px,#d9e9f1 561.5px 562.7px,#e7eff4 562.7px 563.9px,#eff3f5 563.9px 565.1px,#f1f4f6 565.1px 566.3px,#eff3f5 566.3px 567.5px,#dceaf2 567.5px 568.7px,#e8f0f4 568.7px 569.9px,#e6eff4 569.9px 571.1px,#d9e9f1 571.1px 572.2px,#be3036 572.2px 573.4px,#e0775f 573.4px 574.6px,#de735c 574.6px 575.8px,#de735b 575.8px 577.0px,#e17a61 577.0px 578.2px,#db6c56 578.2px 579.4px,#dc6d57 579.4px 580.6px,#e48066 580.6px 581.8px,#d96652 581.8px 583.0px,#d7634f 583.0px 584.1px,#df755d 584.1px 585.3px,#e0765e 585.3px 586.5px,#e58267 586.5px 587.7px,#e7886c 587.7px 588.9px,#e27b62 588.9px 590.1px,#e68569 590.1px 591.3px,#eb9072 591.3px 592.5px,#de735b 592.5px 593.7px,#e58368 593.7px 594.8px,#e27c62 594.8px 596.0px,#ed9575 596.0px 597.2px,#e98c6f 597.2px 598.4px,#e37f65 598.4px 599.6px,#e8886c 599.6px 600.8px,#ee9777 600.8px 602.0px,#ec9274 602.0px 603.2px,#e37e64 603.2px 604.4px,#ea8e70 604.4px 605.6px,#ec9273 605.6px 606.7px,#e98c6f 606.7px 607.9px,#e7876b 607.9px 609.1px,#e58368 609.1px 610.3px,#e7886c 610.3px 611.5px,#e7876b 611.5px 612.7px,#f5ac8b 612.7px 613.9px,#ec9274 613.9px 615.1px,#e98c6e 615.1px 616.3px,#ec9374 616.3px 617.5px,#ed9475 617.5px 618.6px,#f4a582 618.6px 619.8px,#ee9878 619.8px 621.0px,#f09c7b 621.0px 622.2px,#f09d7c 622.2px 623.4px,#e58368 623.4px 624.6px,#e37d64 624.6px 625.8px,#e68569 625.8px 627.0px,#f3a381 627.0px 628.2px,#e6866a 628.2px 629.3px,#ec9374 629.3px 630.5px,#f5a987 630.5px 631.7px,#ec9274 631.7px 632.9px,#eb9173 632.9px 634.1px,#f19e7c 634.1px 635.3px,#f09b7a 635.3px 636.5px,#e17a61 636.5px 637.7px,#eb9172 637.7px 638.9px,#f4a784 638.9px 640.1px,#ec9273 640.1px 641.2px,#df745c 641.2px 642.4px,#ef9978 642.4px 643.6px,#e98c6f 643.6px 644.8px,#ef9878 644.8px 646.0px,#f7b798 646.0px 647.2px,#e58368 647.2px 648.4px,#d76350 648.4px 649.6px,#f19d7c 649.6px 652.0px,#f4a684 652.0px 653.1px,#f6af8f 653.1px 654.3px,#fce1d1 654.3px 655.5px,#fae9df 655.5px 656.7px,#f9ece3 656.7px 659.1px,#fbe5d9 659.1px 660.3px,#fcd4be 660.3px 661.5px,#f8f2ee 661.5px 662.7px,#f9ede6 662.7px 663.8px,#faeae0 663.8px 665.0px,#f8f0ec 665.0px 666.2px,#fbe5d8 666.2px 668.6px,#f9ede7 668.6px 669.8px,#fbe5d8 669.8px 671.0px,#f9efea 671.0px 672.2px,#fcdecd 672.2px 673.4px,#fae7db 673.4px 674.6px,#fbe6da 674.6px 675.7px,#faebe2 675.7px 678.1px,#f9efe9 678.1px 679.3px,#f9ece4 679.3px 680.5px,#fbe5d8 680.5px 681.1px)"></div>
<div class="hm" style="left:390.10px;top:1718.2px;width:73.12px;height:681.1px;background:linear-gradient(#b4d6e8 0.0px 1.2px,#d5e7f1 1.2px 2.4px,#bddbea 2.4px 3.6px,#a9d1e5 3.6px 4.8px,#b0d4e7 4.8px 5.9px,#aed3e6 5.9px 7.1px,#a3cee3 7.1px 8.3px,#c13639 8.3px 9.5px,#c33b3b 9.5px 10.7px,#bc2d35 10.7px 11.9px,#c03338 11.9px 13.1px,#c03438 13.1px 14.3px,#b2182b 14.3px 15.5px,#c2383a 15.5px 16.7px,#bd2e35 16.7px 17.8px,#c53f3d 17.8px 19.0px,#c7423f 19.0px 20.2px,#c7413f 20.2px 21.4px,#c53e3d 21.4px 22.6px,#c2373a 22.6px 23.8px,#bb2b34 23.8px 25.0px,#ba2833 25.0px 26.2px,#c03338 26.2px 27.4px,#bb2a33 27.4px 28.6px,#c43b3c 28.6px 29.7px,#c84540 29.7px 30.9px,#bf3237 30.9px 32.1px,#dd715a 32.1px 33.3px,#e98c6f 33.3px 34.5px,#c6403e 34.5px 35.7px,#de735b 35.7px 36.9px,#eb9072 36.9px 38.1px,#e27b62 38.1px 39.3px,#e17960 39.3px 40.4px,#db6b56 40.4px 41.6px,#df765e 41.6px 42.8px,#e48066 42.8px 44.0px,#ea8e70 44.0px 45.2px,#e37f65 45.2px 46.4px,#dc6e58 46.4px 47.6px,#db6b55 47.6px 48.8px,#c6403e 48.8px 50.0px,#fbd0b9 50.0px 51.2px,#fac7ad 51.2px 52.3px,#fbd1ba 52.3px 53.5px,#fac9b0 53.5px 55.9px,#f7b99c 55.9px 57.1px,#faccb4 57.1px 58.3px,#fac9b0 58.3px 59.5px,#f4a683 59.5px 60.7px,#f8bc9f 60.7px 61.9px,#f7b799 61.9px 63.1px,#f6af8f 63.1px 64.2px,#fbcfb8 64.2px 65.4px,#f9c3a8 65.4px 66.6px,#fcd5c0 66.6px 67.8px,#f9c1a6 67.8px 69.0px,#fbe6d9 69.0px 70.2px,#fcd6c0 70.2px 71.4px,#fddcc8 71.4px 72.6px,#fbceb6 72.6px 73.8px,#fddbc7 73.8px 75.0px,#f8c0a4 75.0px 76.1px,#fac9af 76.1px 77.3px,#fddcc8 77.3px 78.5px,#fbe3d5 78.5px 79.7px,#fbe4d6 79.7px 80.9px,#fcdfcd 80.9px 82.1px,#fce0d0 82.1px 83.3px,#fae9de 83.3px 84.5px,#fbe2d3 84.5px 85.7px,#fdddcb 85.7px 86.8px,#fbe3d5 86.8px 88.0px,#fce0d0 88.0px 89.2px,#fbe6db 89.2px 90.4px,#fbe5d8 90.4px 91.6px,#fae9df 91.6px 92.8px,#fac8af 92.8px 94.0px,#fddbc7 94.0px 95.2px,#fbe2d4 95.2px 96.4px,#edf2f5 96.4px 97.6px,#f8f2ef 97.6px 98.7px,#f8f2ee 98.7px 99.9px,#ecf2f5 99.9px 101.1px,#f9ece3 101.1px 102.3px,#f7f5f3 102.3px 103.5px,#f9f0eb 103.5px 104.7px,#fae9df 104.7px 105.9px,#f7f5f3 105.9px 107.1px,#f6b191 107.1px 108.3px,#f19e7c 108.3px 109.5px,#ed9676 109.5px 110.6px,#f5ac8b 110.6px 111.8px,#fbd0b9 111.8px 113.0px,#f6b394 113.0px 114.2px,#f8ba9d 114.2px 115.4px,#f7b99c 115.4px 116.6px,#f5aa89 116.6px 117.8px,#f7ba9c 117.8px 119.0px,#f7b596 119.0px 120.2px,#f6af8f 120.2px 121.3px,#fcd6c0 121.3px 122.5px,#fcd7c1 122.5px 123.7px,#fdddcb 123.7px 124.9px,#fce0d0 124.9px 126.1px,#fbceb6 126.1px 127.3px,#fddcc9 127.3px 128.5px,#facbb2 128.5px 129.7px,#fdd9c5 129.7px 130.9px,#f8bda1 130.9px 132.1px,#fbcfb7 132.1px 133.2px,#fdddcb 133.2px 134.4px,#fddac6 134.4px 135.6px,#fce0d0 135.6px 136.8px,#faebe2 136.8px 138.0px,#fcd6c0 138.0px 139.2px,#fcd6c1 139.2px 140.4px,#f9c4aa 140.4px 141.6px,#fcd7c2 141.6px 142.8px,#fcd4be 142.8px 144.0px,#eaf1f5 144.0px 145.1px,#fbcfb8 145.1px 146.3px,#fcdecc 146.3px 147.5px,#fbccb4 147.5px 148.7px,#f4a785 148.7px 149.9px,#f9c4aa 149.9px 151.1px,#facbb3 151.1px 152.3px,#fddbc7 152.3px 153.5px,#fbe3d4 153.5px 154.7px,#fbe4d6 154.7px 155.8px,#fddcc9 155.8px 157.0px,#f6b192 157.0px 158.2px,#f7b99b 158.2px 159.4px,#f8ba9d 159.4px 160.6px,#f4a886 160.6px 161.8px,#fac8ae 161.8px 163.0px,#fbd1ba 163.0px 164.2px,#fcddcb 164.2px 165.4px,#fae7dc 165.4px 166.6px,#fbceb6 166.6px 167.7px,#fcd6c0 167.7px 168.9px,#fcd4be 168.9px 170.1px,#f9c4a9 170.1px 171.3px,#fcd8c3 171.3px 172.5px,#f7b799 172.5px 173.7px,#f7b697 173.7px 174.9px,#fbccb4 174.9px 176.1px,#f9c4aa 176.1px 177.3px,#fcddcb 177.3px 178.5px,#f8bb9d 178.5px 179.6px,#fac9b0 179.6px 180.8px,#f7b496 180.8px 182.0px,#facbb3 182.0px 183.2px,#e98c6f 183.2px 184.4px,#f4a481 184.4px 185.6px,#e68569 185.6px 186.8px,#f7b89a 186.8px 188.0px,#f8bb9e 188.0px 189.2px,#facbb2 189.2px 191.5px,#fbd2bb 191.5px 192.7px,#f8bca0 192.7px 193.9px,#fcd4be 193.9px 195.1px,#f9c1a6 195.1px 196.3px,#f7b495 196.3px 197.5px,#f8c0a4 197.5px 198.7px,#f4a785 198.7px 199.9px,#facbb2 199.9px 201.1px,#f9c5ab 201.1px 202.2px,#fce0d0 202.2px 203.4px,#fcdfce 203.4px 204.6px,#facab1 204.6px 205.8px,#fac6ad 205.8px 207.0px,#facbb3 207.0px 208.2px,#f5ac8b 208.2px 209.4px,#f4a784 209.4px 210.6px,#ee9677 210.6px 211.8px,#fbceb6 211.8px 213.0px,#f7ba9d 213.0px 214.1px,#fcd5c0 214.1px 215.3px,#fcd7c1 215.3px 216.5px,#fcd7c2 216.5px 217.7px,#fce2d3 217.7px 218.9px,#fddbc8 218.9px 220.1px,#fbe2d4 220.1px 221.3px,#fbceb6 221.3px 222.5px,#f9c1a5 222.5px 223.7px,#f8bb9e 223.7px 224.9px,#fac8af 224.9px 226.0px,#fbcdb6 226.0px 227.2px,#fddcc9 227.2px 228.4px,#f8f0ec 228.4px 229.6px,#fce0cf 229.6px 230.8px,#fce1d1 230.8px 232.0px,#fcdfce 232.0px 233.2px,#fce0cf 233.2px 234.4px,#fbe4d6 234.4px 235.6px,#faeae0 235.6px 236.7px,#fbe2d3 236.7px 237.9px,#fae8de 237.9px 239.1px,#fbe3d4 239.1px 240.3px,#fae8de 240.3px 241.5px,#f9f0eb 241.5px 242.7px,#f9ece4 242.7px 243.9px,#f7b99c 243.9px 245.1px,#f3a380 245.1px 246.3px,#ec9273 246.3px 247.5px,#f4a784 247.5px 248.6px,#ec9273 248.6px 249.8px,#e68468 249.8px 251.0px,#e37d64 251.0px 252.2px,#e0785f 252.2px 253.4px,#f5a987 253.4px 254.6px,#ed9576 254.6px 255.8px,#ef9a7a 255.8px 257.0px,#f3a381 257.0px 258.2px,#f7b496 258.2px 259.4px,#f19e7c 259.4px 260.5px,#ec9374 260.5px 261.7px,#e37d63 261.7px 262.9px,#ec9374 262.9px 264.1px,#f5aa89 264.1px 265.3px,#f7b597 265.3px 266.5px,#f4a684 266.5px 267.7px,#f7b799 267.7px 268.9px,#f4a582 268.9px 270.1px,#f9eee7 270.1px 271.3px,#fbe4d6 271.3px 272.4px,#fae7dc 272.4px 273.6px,#fddbc7 273.6px 274.8px,#f6af8f 274.8px 276.0px,#fdddcb 276.0px 277.2px,#fcdfce 277.2px 278.4px,#f9ece4 278.4px 279.6px,#f9efe9 279.6px 280.8px,#deebf2 280.8px 282.0px,#fae9e0 282.0px 283.1px,#fce2d3 283.1px 284.3px,#fddbc8 284.3px 285.5px,#fce2d2 285.5px 286.7px,#fce2d3 286.7px 287.9px,#fbd1ba 287.9px 289.1px,#fcdfce 289.1px 290.3px,#fae9df 290.3px 291.5px,#f8f5f3 291.5px 292.7px,#f9ece3 292.7px 293.9px,#fbe6d9 293.9px 295.0px,#f9efe9 295.0px 296.2px,#fae8dd 296.2px 297.4px,#fae7dc 297.4px 298.6px,#fce0d0 298.6px 299.8px,#fae9df 299.8px 301.0px,#f9ede6 301.0px 302.2px,#fbe4d6 302.2px 303.4px,#f8f0ec 303.4px 304.6px,#fae9e0 304.6px 305.8px,#fae7dc 305.8px 306.9px,#f9ece5 306.9px 308.1px,#f9efe9 308.1px 309.3px,#cde3ef 309.3px 310.5px,#c8e0ed 310.5px 311.7px,#c5dfec 311.7px 312.9px,#b4d6e8 312.9px 314.1px,#bddbea 314.1px 315.3px,#faccb4 315.3px 316.5px,#facab2 316.5px 317.6px,#f9c4a9 317.6px 318.8px,#fac8ae 318.8px 320.0px,#fac8af 320.0px 321.2px,#faebe2 321.2px 322.4px,#f3f5f6 322.4px 323.6px,#f1f4f6 323.6px 324.8px,#f5f6f7 324.8px 326.0px,#f4f6f7 326.0px 327.2px,#e6eff4 327.2px 328.4px,#ebf2f5 328.4px 329.5px,#f7f5f3 329.5px 331.9px,#f1f4f6 331.9px 333.1px,#f4f6f7 333.1px 334.3px,#e7eff4 334.3px 335.5px,#eff3f6 335.5px 336.7px,#ecf2f5 336.7px 337.9px,#f4f6f7 337.9px 339.1px,#f7f6f6 339.1px 340.3px,#f8f4f2 340.3px 341.4px,#f7f6f6 341.4px 342.6px,#fae9df 342.6px 343.8px,#f8f4f2 343.8px 345.0px,#f2f4f6 345.0px 346.2px,#f9efe9 346.2px 347.4px,#f7f7f7 347.4px 349.8px,#f3f5f6 349.8px 351.0px,#c8e0ed 351.0px 352.1px,#d1e5f0 352.1px 353.3px,#e3eef3 353.3px 354.5px,#d8e8f1 354.5px 355.7px,#e4eef3 355.7px 356.9px,#d7e8f1 356.9px 358.1px,#d9e9f1 358.1px 359.3px,#e4eef4 359.3px 360.5px,#dceaf2 360.5px 361.7px,#f0f4f6 361.7px 364.0px,#e5eef4 364.0px 365.2px,#facbb3 365.2px 366.4px,#fac8af 366.4px 367.6px,#fddac5 367.6px 368.8px,#f8f2ee 368.8px 370.0px,#faeae1 370.0px 372.4px,#fae7dc 372.4px 373.6px,#fddcc9 373.6px 374.8px,#fcd5bf 374.8px 375.9px,#fdddcb 375.9px 377.1px,#fddcc9 377.1px 378.3px,#fddcc8 378.3px 379.5px,#fbe6da 379.5px 380.7px,#fdd9c5 380.7px 381.9px,#ee9677 381.9px 383.1px,#ea8e71 383.1px 384.3px,#e6856a 384.3px 385.5px,#e58368 385.5px 386.7px,#eb9173 386.7px 387.8px,#e0775f 387.8px 389.0px,#e98c6f 389.0px 390.2px,#94c6df 390.2px 391.4px,#bddbea 391.4px 392.6px,#a1cde2 392.6px 393.8px,#bedbea 393.8px 395.0px,#d3e6f0 395.0px 396.2px,#d1e5f0 396.2px 397.4px,#b4d6e8 397.4px 398.5px,#a5cee3 398.5px 399.7px,#96c7df 399.7px 400.9px,#78b4d5 400.9px 402.1px,#80b9d8 402.1px 403.3px,#96c7df 403.3px 404.5px,#8ac0db 404.5px 405.7px,#98c8e0 405.7px 406.9px,#dfecf3 406.9px 408.1px,#b5d7e8 408.1px 409.3px,#bcdaea 409.3px 410.4px,#abd2e5 410.4px 411.6px,#a8d0e4 411.6px 412.8px,#a1cce2 412.8px 414.0px,#add3e6 414.0px 415.2px,#b7d8e9 415.2px 416.4px,#d5e7f1 416.4px 417.6px,#b8d9e9 417.6px 418.8px,#afd4e6 418.8px 420.0px,#a2cde3 420.0px 421.2px,#a5cfe3 421.2px 422.3px,#9ac9e0 422.3px 423.5px,#a7d0e4 423.5px 424.7px,#b5d7e8 424.7px 425.9px,#9ecbe1 425.9px 427.1px,#bcdaea 427.1px 428.3px,#b6d7e8 428.3px 429.5px,#c5dfed 429.5px 430.7px,#9fcce2 430.7px 431.9px,#d1e5f0 431.9px 433.0px,#c4dfec 433.0px 434.2px,#cee3ef 434.2px 435.4px,#d4e7f1 435.4px 436.6px,#c1ddec 436.6px 437.8px,#d4e6f0 437.8px 439.0px,#c0dceb 439.0px 440.2px,#bad9e9 440.2px 441.4px,#abd2e5 441.4px 442.6px,#b5d7e8 442.6px 443.8px,#cee4ef 443.8px 444.9px,#aad1e5 444.9px 446.1px,#d3e6f0 446.1px 447.3px,#cde3ef 447.3px 448.5px,#cae2ee 448.5px 449.7px,#add3e6 449.7px 450.9px,#b5d7e8 450.9px 452.1px,#b3d6e8 452.1px 453.3px,#cde3ef 453.3px 454.5px,#b9d9e9 454.5px 455.7px,#c4deec 455.7px 456.8px,#cee4ef 456.8px 458.0px,#b6d7e8 458.0px 459.2px,#d2e6f0 459.2px 460.4px,#c6dfed 460.4px 461.6px,#d4e6f0 461.6px 462.8px,#b7d8e8 462.8px 464.0px,#a8d0e4 464.0px 465.2px,#a3cde3 465.2px 466.4px,#afd4e6 466.4px 467.5px,#abd2e5 467.5px 468.7px,#a7d0e4 468.7px 469.9px,#bad9ea 469.9px 471.1px,#b5d7e8 471.1px 472.3px,#b4d6e8 472.3px 473.5px,#b2d5e7 473.5px 474.7px,#b1d5e7 474.7px 475.9px,#afd3e6 475.9px 477.1px,#d6e7f1 477.1px 478.3px,#c5dfed 478.3px 479.4px,#b8d8e9 479.4px 480.6px,#bddbea 480.6px 481.8px,#c0dceb 481.8px 484.2px,#abd2e5 484.2px 485.4px,#add3e6 485.4px 486.6px,#a9d0e4 486.6px 487.8px,#a6cfe4 487.8px 489.0px,#bad9e9 489.0px 490.2px,#a7d0e4 490.2px 491.3px,#b0d4e7 491.3px 492.5px,#a4cee3 492.5px 493.7px,#b2d5e7 493.7px 494.9px,#b5d7e8 494.9px 496.1px,#c4dfec 496.1px 497.3px,#b8d8e9 497.3px 498.5px,#b4d6e8 498.5px 499.7px,#c1ddeb 499.7px 500.9px,#c9e1ee 500.9px 502.1px,#bedceb 502.1px 503.2px,#c7e0ed 503.2px 504.4px,#bedceb 504.4px 505.6px,#b2d5e7 505.6px 506.8px,#b8d8e9 506.8px 508.0px,#b4d6e8 508.0px 509.2px,#cce2ef 509.2px 510.4px,#a2cde3 510.4px 511.6px,#97c7df 511.6px 512.8px,#bad9ea 512.8px 513.9px,#c3deec 513.9px 515.1px,#bcdaea 515.1px 516.3px,#cee3ef 516.3px 517.5px,#cbe2ee 517.5px 518.7px,#9ccae1 518.7px 519.9px,#b0d4e7 519.9px 521.1px,#b7d8e9 521.1px 522.3px,#bad9e9 522.3px 524.7px,#a9d1e5 524.7px 525.8px,#b4d6e8 525.8px 527.0px,#c5dfec 527.0px 528.2px,#b3d6e8 528.2px 529.4px,#b2d5e7 529.4px 530.6px,#b6d7e8 530.6px 531.8px,#c6e0ed 531.8px 533.0px,#b1d5e7 533.0px 534.2px,#acd2e5 534.2px 535.4px,#b4d6e8 535.4px 536.6px,#97c7df 536.6px 537.7px,#9ac9e0 537.7px 538.9px,#98c8e0 538.9px 540.1px,#8ec2dd 540.1px 541.3px,#b6d7e8 541.3px 542.5px,#aad1e5 542.5px 543.7px,#aed3e6 543.7px 544.9px,#b6d7e8 544.9px 546.1px,#b0d4e7 546.1px 547.3px,#b1d5e7 547.3px 548.4px,#b0d4e7 548.4px 549.6px,#b2d5e7 549.6px 552.0px,#b0d4e7 552.0px 553.2px,#c3deec 553.2px 554.4px,#a8d0e4 554.4px 555.6px,#b3d6e8 555.6px 556.8px,#c4deec 556.8px 558.0px,#e2edf3 558.0px 559.2px,#c9e1ee 559.2px 560.3px,#c0dceb 560.3px 561.5px,#e2edf3 561.5px 562.7px,#bedbeb 562.7px 563.9px,#e0ecf3 563.9px 565.1px,#bad9e9 565.1px 566.3px,#add3e6 566.3px 567.5px,#bbdaea 567.5px 568.7px,#a6cfe4 568.7px 569.9px,#bbdaea 569.9px 571.1px,#c1ddeb 571.1px 572.2px,#cce3ef 572.2px 573.4px,#b8d8e9 573.4px 574.6px,#a1cde2 574.6px 575.8px,#8dc2dc 575.8px 577.0px,#8ec3dd 577.0px 578.2px,#90c4dd 578.2px 579.4px,#b4d6e8 579.4px 580.6px,#9bc9e0 580.6px 581.8px,#add3e6 581.8px 583.0px,#b0d4e7 583.0px 584.1px,#a5cfe4 584.1px 585.3px,#c3deec 585.3px 586.5px,#a4cee3 586.5px 587.7px,#aed3e6 587.7px 588.9px,#cfe4f0 588.9px 590.1px,#c5dfed 590.1px 591.3px,#b1d5e7 591.3px 592.5px,#9fcce2 592.5px 593.7px,#abd2e5 593.7px 594.8px,#c2ddec 594.8px 596.0px,#d9e9f1 596.0px 597.2px,#cde3ef 597.2px 598.4px,#bfdceb 598.4px 599.6px,#d1e5f0 599.6px 600.8px,#c4dfec 600.8px 602.0px,#b4d6e8 602.0px 603.2px,#bfdceb 603.2px 604.4px,#bedbea 604.4px 605.6px,#d8e8f1 605.6px 607.9px,#c6e0ed 607.9px 609.1px,#b6d7e8 609.1px 610.3px,#b7d8e8 610.3px 611.5px,#afd4e6 611.5px 612.7px,#c5dfed 612.7px 613.9px,#b2d5e7 613.9px 615.1px,#b1d5e7 615.1px 616.3px,#b3d6e7 616.3px 617.5px,#a8d0e4 617.5px 618.6px,#add3e6 618.6px 619.8px,#b3d6e7 619.8px 621.0px,#9dcbe1 621.0px 622.2px,#d7e8f1 622.2px 623.4px,#a4cee3 623.4px 624.6px,#9dcbe1 624.6px 625.8px,#acd2e5 625.8px 627.0px,#a1cce2 627.0px 628.2px,#9ccae1 628.2px 629.3px,#9ecbe1 629.3px 630.5px,#aed3e6 630.5px 631.7px,#bfdceb 631.7px 634.1px,#c2deec 634.1px 635.3px,#a5cfe3 635.3px 636.5px,#70afd2 636.5px 637.7px,#b4d6e8 637.7px 638.9px,#96c7df 638.9px 640.1px,#b4d6e8 640.1px 641.2px,#aad1e5 641.2px 642.4px,#a6cfe4 642.4px 643.6px,#b2d5e7 643.6px 644.8px,#bddbea 644.8px 646.0px,#bedceb 646.0px 647.2px,#b8d9e9 647.2px 648.4px,#dbeaf2 648.4px 649.6px,#a4cee3 649.6px 650.8px,#a7d0e4 650.8px 652.0px,#a0cce2 652.0px 653.1px,#a9d1e4 653.1px 654.3px,#cee3ef 654.3px 655.5px,#a7d0e4 655.5px 656.7px,#abd2e5 656.7px 657.9px,#bad9e9 657.9px 659.1px,#add3e6 659.1px 660.3px,#8dc2dc 660.3px 661.5px,#c0dceb 661.5px 662.7px,#b7d8e9 662.7px 663.8px,#9ac9e0 663.8px 665.0px,#a9d0e4 665.0px 666.2px,#b7d8e9 666.2px 667.4px,#aed3e6 667.4px 668.6px,#9dcbe1 668.6px 669.8px,#cce3ef 669.8px 671.0px,#97c8e0 671.0px 672.2px,#aed3e6 672.2px 673.4px,#a7d0e4 673.4px 674.6px,#aed3e6 674.6px 675.7px,#98c8e0 675.7px 676.9px,#9ac9e0 676.9px 678.1px,#a1cce2 678.1px 679.3px,#b4d6e8 679.3px 680.5px,#bad9e9 680.5px 681.1px)"></div>
<div class="hm" style="left:462.82px;top:1718.2px;width:73.12px;height:681.1px;background:linear-gradient(#b72230 0.0px 1.2px,#b72330 1.2px 2.4px,#f4a785 2.4px 3.6px,#f6af8f 3.6px 4.8px,#e27b62 4.8px 5.9px,#e48166 5.9px 7.1px,#ea8e71 7.1px 8.3px,#ddebf2 8.3px 9.5px,#d0e4f0 9.5px 10.7px,#d3e6f0 10.7px 11.9px,#cce2ef 11.9px 13.1px,#d5e7f1 13.1px 14.3px,#d9e9f2 14.3px 15.5px,#d9e9f1 15.5px 16.7px,#d3e6f0 16.7px 17.8px,#e0ecf3 17.8px 19.0px,#dae9f2 19.0px 20.2px,#bbdaea 20.2px 21.4px,#d6e7f1 21.4px 22.6px,#d5e7f1 22.6px 23.8px,#cfe4ef 23.8px 25.0px,#c7e0ed 25.0px 26.2px,#cfe4ef 26.2px 27.4px,#cae2ee 27.4px 28.6px,#d8e8f1 28.6px 29.7px,#d2e6f0 29.7px 30.9px,#d8e8f1 30.9px 32.1px,#d1e5f0 32.1px 33.3px,#d0e5f0 33.3px 34.5px,#d2e6f0 34.5px 35.7px,#cee3ef 35.7px 36.9px,#f9eee8 36.9px 38.1px,#f8f1ed 38.1px 39.3px,#e9f0f4 39.3px 40.4px,#f6f6f7 40.4px 41.6px,#fbcfb8 41.6px 42.8px,#f8bfa4 42.8px 44.0px,#fac7ae 44.0px 45.2px,#fbccb4 45.2px 46.4px,#f6b08f 46.4px 47.6px,#fae7dc 47.6px 48.8px,#fbe2d3 48.8px 50.0px,#fcdecd 50.0px 51.2px,#fbe5d8 51.2px 52.3px,#fcd6c0 52.3px 53.5px,#fcd4bd 53.5px 54.7px,#f8ba9d 54.7px 55.9px,#f6b293 55.9px 57.1px,#f5ab8a 57.1px 58.3px,#f4a785 58.3px 59.5px,#f6b393 59.5px 60.7px,#f5ad8c 60.7px 61.9px,#f9c4aa 61.9px 63.1px,#fbcfb7 63.1px 64.2px,#f9c3a9 64.2px 65.4px,#f6b393 65.4px 66.6px,#f4a684 66.6px 67.8px,#f3a380 67.8px 69.0px,#f29f7e 69.0px 70.2px,#f4a784 70.2px 71.4px,#f7b99b 71.4px 72.6px,#fac6ac 72.6px 73.8px,#f7b596 73.8px 75.0px,#f9c1a6 75.0px 76.1px,#fcd2bc 76.1px 77.3px,#fcd7c1 77.3px 78.5px,#fddbc8 78.5px 79.7px,#fcd7c1 79.7px 80.9px,#fbcdb6 80.9px 82.1px,#fcd3bd 82.1px 83.3px,#fce1d1 83.3px 84.5px,#f9c5ab 84.5px 85.7px,#fddbc7 85.7px 86.8px,#fcdecc 86.8px 88.0px,#fbe4d7 88.0px 89.2px,#fce0cf 89.2px 90.4px,#fce1d2 90.4px 91.6px,#fbe3d5 91.6px 92.8px,#fbd2bb 92.8px 94.0px,#fbe5d8 94.0px 95.2px,#faebe2 95.2px 96.4px,#fbe5d8 96.4px 97.6px,#fbe3d5 97.6px 98.7px,#fdddcb 98.7px 99.9px,#facbb3 99.9px 101.1px,#facab1 101.1px 102.3px,#fbcfb8 102.3px 103.5px,#fddbc7 103.5px 104.7px,#fae8dd 104.7px 107.1px,#fbe4d7 107.1px 108.3px,#fdddcb 108.3px 109.5px,#fbe5d8 109.5px 110.6px,#fbcfb8 110.6px 111.8px,#fddac5 111.8px 113.0px,#fae9e0 113.0px 114.2px,#fce0cf 114.2px 115.4px,#fcd4be 115.4px 116.6px,#fdddca 116.6px 117.8px,#fce0d0 117.8px 119.0px,#fae7dc 119.0px 120.2px,#f8f4f1 120.2px 121.3px,#faebe2 121.3px 122.5px,#f9efe9 122.5px 123.7px,#fbe4d7 123.7px 124.9px,#fbe3d4 124.9px 126.1px,#fce0d0 126.1px 127.3px,#fddbc7 127.3px 128.5px,#fcd4bf 128.5px 129.7px,#fdd8c3 129.7px 130.9px,#fbe2d4 130.9px 132.1px,#fce2d2 132.1px 133.2px,#fce0d0 133.2px 134.4px,#fcdfce 134.4px 135.6px,#fae9df 135.6px 136.8px,#fcdfce 136.8px 138.0px,#f9efe9 138.0px 139.2px,#fbe3d5 139.2px 140.4px,#fbe4d7 140.4px 141.6px,#fae8dd 141.6px 142.8px,#fcd3bd 142.8px 144.0px,#fae9df 144.0px 145.1px,#fbe6da 145.1px 146.3px,#fce1d1 146.3px 147.5px,#fcdecd 147.5px 148.7px,#fae9df 148.7px 149.9px,#fcd7c3 149.9px 151.1px,#fddcc8 151.1px 152.3px,#fcd3bc 152.3px 153.5px,#fcdfce 153.5px 154.7px,#fddcc9 154.7px 155.8px,#fbe2d4 155.8px 157.0px,#fcd4be 157.0px 158.2px,#fbd1ba 158.2px 159.4px,#fcd7c2 159.4px 160.6px,#fdd8c3 160.6px 161.8px,#fcddcb 161.8px 163.0px,#fbd1ba 163.0px 164.2px,#fbe3d5 164.2px 165.4px,#fbd0b9 165.4px 166.6px,#fdddcb 166.6px 167.7px,#fbe6da 167.7px 168.9px,#fcdfcf 168.9px 170.1px,#fce1d1 170.1px 171.3px,#fbe6da 171.3px 172.5px,#fae7dc 172.5px 173.7px,#fcdfcf 173.7px 174.9px,#f8bc9f 174.9px 176.1px,#fce0cf 176.1px 177.3px,#f9f0eb 177.3px 178.5px,#fcdfce 178.5px 179.6px,#f9efea 179.6px 180.8px,#fbe5d9 180.8px 182.0px,#f8f0ec 182.0px 183.2px,#fbe6da 183.2px 184.4px,#faeae0 184.4px 185.6px,#fbe6da 185.6px 186.8px,#f9eee8 186.8px 188.0px,#fae8de 188.0px 189.2px,#faeae0 189.2px 190.4px,#faeae1 190.4px 191.5px,#fbe6da 191.5px 192.7px,#ebf1f5 192.7px 193.9px,#f9ebe3 193.9px 195.1px,#faebe2 195.1px 196.3px,#fae8de 196.3px 197.5px,#faebe3 197.5px 198.7px,#f7f7f7 198.7px 199.9px,#f8f4f3 199.9px 201.1px,#f9ede5 201.1px 202.2px,#fae7db 202.2px 203.4px,#f8f1ed 203.4px 204.6px,#f9ece5 204.6px 205.8px,#fae9e0 205.8px 207.0px,#f9ece5 207.0px 209.4px,#f8f0eb 209.4px 210.6px,#f8f4f1 210.6px 211.8px,#f8f4f2 211.8px 213.0px,#f8f0eb 213.0px 214.1px,#f8f1ec 214.1px 216.5px,#f4f6f7 216.5px 217.7px,#f7f7f6 217.7px 218.9px,#f8f0eb 218.9px 220.1px,#f7f7f7 220.1px 221.3px,#f7f5f3 221.3px 222.5px,#faeae1 222.5px 223.7px,#f7f5f4 223.7px 224.9px,#faeae2 224.9px 226.0px,#f8f2ef 226.0px 227.2px,#f8f1ed 227.2px 228.4px,#f7f6f5 228.4px 229.6px,#f7f5f4 229.6px 230.8px,#faebe2 230.8px 232.0px,#f8f4f2 232.0px 233.2px,#f7f6f5 233.2px 234.4px,#faeae0 234.4px 235.6px,#f9ede6 235.6px 236.7px,#f4f5f6 236.7px 237.9px,#f9efea 237.9px 239.1px,#f8f3f1 239.1px 240.3px,#f8f2ef 240.3px 241.5px,#faeae1 241.5px 242.7px,#f8f4f2 242.7px 243.9px,#f2f4f6 243.9px 245.1px,#f9efe9 245.1px 246.3px,#f7f7f6 246.3px 247.5px,#f7f6f6 247.5px 248.6px,#f8f4f3 248.6px 249.8px,#f8f2ef 249.8px 251.0px,#f2f5f6 251.0px 252.2px,#f5f6f7 252.2px 253.4px,#ebf1f5 253.4px 254.6px,#f8f2ef 254.6px 255.8px,#eaf1f5 255.8px 257.0px,#f4f5f6 257.0px 258.2px,#e4eef3 258.2px 259.4px,#f1f4f6 259.4px 260.5px,#ebf1f5 260.5px 261.7px,#f8f3f0 261.7px 262.9px,#ecf2f5 262.9px 264.1px,#edf2f5 264.1px 265.3px,#ecf2f5 265.3px 266.5px,#deebf2 266.5px 267.7px,#f0f4f6 267.7px 268.9px,#f7f5f3 268.9px 270.1px,#edf2f5 270.1px 271.3px,#faebe2 271.3px 272.4px,#fbe3d4 272.4px 273.6px,#f9efea 273.6px 274.8px,#f8f3f1 274.8px 276.0px,#f4f6f7 276.0px 277.2px,#eef3f5 277.2px 278.4px,#ebf1f5 278.4px 279.6px,#f8f1ed 279.6px 280.8px,#f1f4f6 280.8px 282.0px,#f8f4f1 282.0px 283.1px,#f7f5f4 283.1px 284.3px,#f4f6f6 284.3px 285.5px,#f7f7f6 285.5px 286.7px,#fce1d1 286.7px 287.9px,#f9f0eb 287.9px 289.1px,#f8f4f1 289.1px 290.3px,#d9e9f1 290.3px 291.5px,#f3f5f6 291.5px 292.7px,#f7f6f5 292.7px 293.9px,#f8f3f1 293.9px 295.0px,#f7f5f3 295.0px 296.2px,#f9eee7 296.2px 297.4px,#f8f2ee 297.4px 298.6px,#f9f0eb 298.6px 299.8px,#f6f7f7 299.8px 301.0px,#f8f5f3 301.0px 302.2px,#f8f4f2 302.2px 303.4px,#f9ede7 303.4px 304.6px,#f8f4f2 304.6px 305.8px,#f7f6f5 305.8px 306.9px,#f8f4f2 306.9px 308.1px,#f6f7f7 308.1px 309.3px,#edf2f5 309.3px 310.5px,#ee9878 310.5px 314.1px,#dae9f2 314.1px 315.3px,#d4e6f0 315.3px 316.5px,#e0ecf3 316.5px 317.6px,#d7e8f1 317.6px 318.8px,#d0e4f0 318.8px 320.0px,#d2e6f0 320.0px 321.2px,#d4e7f1 321.2px 322.4px,#e2edf3 322.4px 323.6px,#e1edf3 323.6px 324.8px,#e6eff4 324.8px 326.0px,#edf2f5 326.0px 327.2px,#ebf1f5 327.2px 328.4px,#e4eef4 328.4px 329.5px,#e3eef3 329.5px 330.7px,#e5eff4 330.7px 331.9px,#e3edf3 331.9px 333.1px,#e4eef3 333.1px 334.3px,#deebf2 334.3px 335.5px,#d7e8f1 335.5px 336.7px,#ecf2f5 336.7px 337.9px,#eef3f5 337.9px 339.1px,#deebf2 339.1px 340.3px,#e4eef3 340.3px 341.4px,#e6eff4 341.4px 342.6px,#d7e8f1 342.6px 343.8px,#dae9f2 343.8px 345.0px,#cce3ef 345.0px 346.2px,#cfe4ef 346.2px 347.4px,#f0f4f6 347.4px 348.6px,#ebf1f5 348.6px 349.8px,#deebf2 349.8px 351.0px,#d1e5f0 351.0px 352.1px,#d0e4f0 352.1px 353.3px,#d3e6f0 353.3px 354.5px,#c8e1ee 354.5px 355.7px,#cce3ef 355.7px 356.9px,#dfebf2 356.9px 358.1px,#e8f0f4 358.1px 359.3px,#d4e6f1 359.3px 360.5px,#d6e7f1 360.5px 361.7px,#fae9df 361.7px 362.9px,#f8f3f1 362.9px 364.0px,#faebe2 364.0px 365.2px,#fae9df 365.2px 366.4px,#f9ede5 366.4px 367.6px,#f9ede6 367.6px 368.8px,#c6dfed 368.8px 370.0px,#aed3e6 370.0px 371.2px,#d2e5f0 371.2px 372.4px,#e3edf3 372.4px 373.6px,#c6e0ed 373.6px 374.8px,#d4e7f1 374.8px 375.9px,#deebf2 375.9px 377.1px,#dceaf2 377.1px 378.3px,#ddebf2 378.3px 379.5px,#d3e6f0 379.5px 380.7px,#c2deec 380.7px 381.9px,#b4d6e8 381.9px 383.1px,#bcdaea 383.1px 384.3px,#badaea 384.3px 385.5px,#bbdaea 385.5px 386.7px,#c8e0ed 386.7px 387.8px,#d5e7f1 387.8px 389.0px,#9fcce2 389.0px 390.2px,#7fb9d7 390.2px 391.4px,#98c8e0 391.4px 392.6px,#a5cfe3 392.6px 393.8px,#a2cde3 393.8px 395.0px,#b4d6e8 395.0px 396.2px,#abd2e5 396.2px 397.4px,#aed3e6 397.4px 398.5px,#b7d8e9 398.5px 399.7px,#b3d6e8 399.7px 400.9px,#98c8e0 400.9px 402.1px,#acd2e5 402.1px 403.3px,#cfe4f0 403.3px 404.5px,#b3d6e7 404.5px 405.7px,#bad9e9 405.7px 406.9px,#acd2e5 406.9px 408.1px,#b0d4e6 408.1px 409.3px,#cae2ee 409.3px 410.4px,#71b0d3 410.4px 411.6px,#b9d9e9 411.6px 412.8px,#b4d6e8 412.8px 414.0px,#b5d7e8 414.0px 415.2px,#b9d9e9 415.2px 416.4px,#c1ddeb 416.4px 417.6px,#a9d0e4 417.6px 418.8px,#bedbeb 418.8px 420.0px,#a2cde2 420.0px 421.2px,#96c7df 421.2px 422.3px,#acd2e6 422.3px 423.5px,#bedbeb 423.5px 424.7px,#9fcce2 424.7px 425.9px,#c0dceb 425.9px 427.1px,#cce2ee 427.1px 428.3px,#bedbeb 428.3px 429.5px,#c7e0ed 429.5px 430.7px,#b5d7e8 430.7px 431.9px,#c4deec 431.9px 433.0px,#b9d9e9 433.0px 434.2px,#b4d6e8 434.2px 435.4px,#b8d8e9 435.4px 436.6px,#c4deec 436.6px 437.8px,#97c7df 437.8px 439.0px,#c2ddec 439.0px 440.2px,#d5e7f1 440.2px 441.4px,#cbe2ee 441.4px 442.6px,#d4e7f1 442.6px 443.8px,#bcdaea 443.8px 444.9px,#dceaf2 444.9px 446.1px,#c5dfec 446.1px 447.3px,#bad9e9 447.3px 448.5px,#bedceb 448.5px 449.7px,#a1cce2 449.7px 450.9px,#c4deec 450.9px 452.1px,#cfe4ef 452.1px 453.3px,#bcdaea 453.3px 454.5px,#afd4e6 454.5px 455.7px,#cee3ef 455.7px 456.8px,#c9e1ee 456.8px 458.0px,#cfe4ef 458.0px 459.2px,#c2ddec 459.2px 460.4px,#cde3ef 460.4px 461.6px,#d8e8f1 461.6px 462.8px,#c8e0ed 462.8px 464.0px,#c9e1ee 464.0px 465.2px,#bcdaea 465.2px 466.4px,#cce3ef 466.4px 467.5px,#c1ddeb 467.5px 468.7px,#d2e5f0 468.7px 469.9px,#e1edf3 469.9px 471.1px,#d0e5f0 471.1px 472.3px,#c6dfed 472.3px 473.5px,#d0e5f0 473.5px 474.7px,#cce3ef 474.7px 475.9px,#c9e1ee 475.9px 477.1px,#d5e7f1 477.1px 478.3px,#cee3ef 478.3px 479.4px,#b3d6e7 479.4px 480.6px,#d8e8f1 480.6px 481.8px,#cee4ef 481.8px 483.0px,#d7e8f1 483.0px 484.2px,#cae2ee 484.2px 485.4px,#c5dfed 485.4px 486.6px,#d2e6f0 486.6px 487.8px,#d5e7f1 487.8px 489.0px,#d2e5f0 489.0px 491.3px,#c2ddec 491.3px 492.5px,#d9e9f1 492.5px 493.7px,#cee3ef 493.7px 494.9px,#cde3ef 494.9px 496.1px,#d2e6f0 496.1px 497.3px,#c5dfed 497.3px 498.5px,#c0dceb 498.5px 499.7px,#cce2ef 499.7px 500.9px,#c3deec 500.9px 502.1px,#c6dfed 502.1px 503.2px,#d2e5f0 503.2px 504.4px,#c1ddec 504.4px 505.6px,#c4deec 505.6px 506.8px,#d2e6f0 506.8px 508.0px,#d3e6f0 508.0px 509.2px,#c5dfec 509.2px 510.4px,#d4e6f1 510.4px 511.6px,#cde3ef 511.6px 512.8px,#b4d6e8 512.8px 513.9px,#cee4ef 513.9px 515.1px,#d2e5f0 515.1px 516.3px,#d6e7f1 516.3px 518.7px,#c0dceb 518.7px 519.9px,#c7e0ed 519.9px 521.1px,#d4e7f1 521.1px 522.3px,#c3deec 522.3px 523.5px,#b3d6e7 523.5px 524.7px,#b0d4e7 524.7px 525.8px,#b4d6e8 525.8px 527.0px,#b2d5e7 527.0px 528.2px,#b4d6e8 528.2px 529.4px,#e3eef3 529.4px 530.6px,#c8e0ed 530.6px 531.8px,#b7d8e9 531.8px 533.0px,#b9d9e9 533.0px 534.2px,#b6d7e8 534.2px 535.4px,#97c8e0 535.4px 536.6px,#bedbeb 536.6px 537.7px,#c3deec 537.7px 538.9px,#b1d5e7 538.9px 540.1px,#b4d6e8 540.1px 541.3px,#d4e6f1 541.3px 542.5px,#cae1ee 542.5px 543.7px,#c1ddeb 543.7px 544.9px,#afd4e6 544.9px 546.1px,#b0d4e7 546.1px 547.3px,#c7e0ed 547.3px 548.4px,#add3e6 548.4px 549.6px,#d0e4f0 549.6px 550.8px,#b2d5e7 550.8px 552.0px,#c4deec 552.0px 553.2px,#cce2ef 553.2px 554.4px,#bbdaea 554.4px 555.6px,#85bdda 555.6px 556.8px,#b0d4e7 556.8px 558.0px,#d6e8f1 558.0px 559.2px,#b7d8e9 559.2px 560.3px,#b7d8e8 560.3px 561.5px,#b5d7e8 561.5px 562.7px,#c1ddeb 562.7px 563.9px,#b5d7e8 563.9px 565.1px,#cde3ef 565.1px 566.3px,#c6dfed 566.3px 567.5px,#cce3ef 567.5px 568.7px,#bddbea 568.7px 569.9px,#c4deec 569.9px 571.1px,#bedceb 571.1px 572.2px,#b8d8e9 572.2px 573.4px,#b4d6e8 573.4px 574.6px,#add3e6 574.6px 575.8px,#a5cfe3 575.8px 577.0px,#89bfdb 577.0px 578.2px,#96c7df 578.2px 579.4px,#a6cfe4 579.4px 580.6px,#a5cfe4 580.6px 581.8px,#b1d5e7 581.8px 583.0px,#bcdbea 583.0px 584.1px,#a8d0e4 584.1px 585.3px,#94c6df 585.3px 586.5px,#b4d6e8 586.5px 587.7px,#aad1e5 587.7px 588.9px,#c4deec 588.9px 590.1px,#c7e0ed 590.1px 591.3px,#a4cee3 591.3px 592.5px,#bcdaea 592.5px 593.7px,#c4deec 593.7px 594.8px,#b7d8e8 594.8px 596.0px,#add3e6 596.0px 597.2px,#a6cfe4 597.2px 598.4px,#a8d0e4 598.4px 599.6px,#9ecbe2 599.6px 600.8px,#e1edf3 600.8px 602.0px,#a5cfe4 602.0px 604.4px,#c1ddeb 604.4px 605.6px,#bddbea 605.6px 606.7px,#b8d8e9 606.7px 607.9px,#a0cce2 607.9px 609.1px,#b5d7e8 609.1px 610.3px,#96c7df 610.3px 611.5px,#bedbea 611.5px 612.7px,#bddbea 612.7px 613.9px,#acd2e5 613.9px 615.1px,#b2d5e7 615.1px 616.3px,#d4e6f1 616.3px 617.5px,#acd2e5 617.5px 618.6px,#bbdaea 618.6px 619.8px,#b1d5e7 619.8px 621.0px,#bfdceb 621.0px 622.2px,#bddbea 622.2px 623.4px,#abd2e5 623.4px 624.6px,#b8d8e9 624.6px 625.8px,#aad1e5 625.8px 627.0px,#b4d6e8 627.0px 628.2px,#afd4e6 628.2px 629.3px,#9ecbe2 629.3px 630.5px,#a3cee3 630.5px 631.7px,#a2cde3 631.7px 632.9px,#98c8e0 632.9px 634.1px,#a9d1e4 634.1px 635.3px,#a0cce2 635.3px 636.5px,#9bcae1 636.5px 637.7px,#9ccae1 637.7px 638.9px,#b4d6e8 638.9px 640.1px,#bedbeb 640.1px 641.2px,#b6d7e8 641.2px 642.4px,#add3e6 642.4px 643.6px,#9dcbe1 643.6px 644.8px,#94c6df 644.8px 646.0px,#6fafd2 646.0px 647.2px,#9fcce2 647.2px 649.6px,#aad1e5 649.6px 650.8px,#a0cce2 650.8px 652.0px,#abd2e5 652.0px 653.1px,#b6d7e8 653.1px 654.3px,#a9d1e5 654.3px 655.5px,#aed3e6 655.5px 656.7px,#b7d8e9 656.7px 657.9px,#9fcce2 657.9px 659.1px,#c5dfed 659.1px 660.3px,#b7d8e9 660.3px 661.5px,#abd2e5 661.5px 662.7px,#a4cee3 662.7px 663.8px,#a0cce2 663.8px 665.0px,#a7cfe4 665.0px 666.2px,#97c8e0 666.2px 667.4px,#92c5de 667.4px 668.6px,#89c0db 668.6px 669.8px,#9ccae1 669.8px 671.0px,#a4cee3 671.0px 672.2px,#abd2e5 672.2px 673.4px,#a1cde2 673.4px 674.6px,#acd2e5 674.6px 675.7px,#bbdaea 675.7px 676.9px,#add3e6 676.9px 678.1px,#b3d6e8 678.1px 679.3px,#a3cee3 679.3px 680.5px,#75b2d4 680.5px 681.1px)"></div>
<div class="hm" style="left:535.55px;top:1718.2px;width:73.12px;height:681.1px;background:linear-gradient(#f6f7f7 0.0px 1.2px,#f7f7f7 1.2px 2.4px,#fbcfb7 2.4px 3.6px,#f7b596 3.6px 4.8px,#fbcdb5 4.8px 5.9px,#f9c6ac 5.9px 7.1px,#fbccb4 7.1px 8.3px,#bedbea 8.3px 9.5px,#b5d7e8 9.5px 10.7px,#b8d8e9 10.7px 11.9px,#bad9e9 11.9px 13.1px,#b8d8e9 13.1px 14.3px,#bfdceb 14.3px 15.5px,#b8d8e9 15.5px 16.7px,#c0ddeb 16.7px 17.8px,#b2d5e7 17.8px 19.0px,#afd4e6 19.0px 20.2px,#b4d6e8 20.2px 21.4px,#bcdaea 21.4px 22.6px,#c3deec 22.6px 23.8px,#bfdceb 23.8px 25.0px,#c7e0ed 25.0px 26.2px,#c5dfed 26.2px 27.4px,#b7d8e9 27.4px 28.6px,#b1d5e7 28.6px 29.7px,#abd2e5 29.7px 30.9px,#add3e6 30.9px 32.1px,#b6d7e8 32.1px 33.3px,#c6dfed 33.3px 34.5px,#bddbea 34.5px 35.7px,#b3d6e8 35.7px 36.9px,#f6f7f7 36.9px 38.1px,#f9f0ea 38.1px 39.3px,#f8f0eb 39.3px 40.4px,#f9efea 40.4px 41.6px,#faebe2 41.6px 42.8px,#f9efea 42.8px 44.0px,#f8f2ee 44.0px 45.2px,#fbe6d9 45.2px 46.4px,#f1f4f6 46.4px 47.6px,#e9f0f4 47.6px 48.8px,#f4f6f7 48.8px 50.0px,#e5eef4 50.0px 51.2px,#f7f6f5 51.2px 52.3px,#f8f2ef 52.3px 53.5px,#fcdfce 53.5px 54.7px,#f9ece4 54.7px 55.9px,#faeae0 55.9px 57.1px,#a6cfe4 57.1px 58.3px,#ddebf2 58.3px 59.5px,#d4e6f1 59.5px 60.7px,#d8e8f1 60.7px 61.9px,#d2e5f0 61.9px 63.1px,#d6e7f1 63.1px 64.2px,#d7e8f1 64.2px 65.4px,#d5e7f1 65.4px 66.6px,#dceaf2 66.6px 67.8px,#e4eef3 67.8px 69.0px,#dae9f2 69.0px 70.2px,#dceaf2 70.2px 71.4px,#f7f7f7 71.4px 72.6px,#f9eee7 72.6px 73.8px,#e5eef4 73.8px 75.0px,#f8f1ed 75.0px 76.1px,#f9efea 76.1px 77.3px,#f7f7f7 77.3px 78.5px,#f7f6f5 78.5px 79.7px,#eef3f5 79.7px 82.1px,#f8f1ed 82.1px 83.3px,#f9efea 83.3px 84.5px,#f9ede7 84.5px 85.7px,#fbe6da 85.7px 86.8px,#f8f3f1 86.8px 88.0px,#f1f4f6 88.0px 89.2px,#f5f6f7 89.2px 90.4px,#f1f4f6 90.4px 91.6px,#ebf1f5 91.6px 92.8px,#eaf1f5 92.8px 94.0px,#ddebf2 94.0px 95.2px,#d6e8f1 95.2px 96.4px,#ddebf2 96.4px 97.6px,#dbeaf2 97.6px 98.7px,#d7e8f1 98.7px 99.9px,#e2edf3 99.9px 101.1px,#e7eff4 101.1px 102.3px,#eef3f5 102.3px 103.5px,#f1f4f6 103.5px 104.7px,#f2f5f6 104.7px 105.9px,#edf2f5 105.9px 107.1px,#eff3f5 107.1px 108.3px,#dae9f2 108.3px 109.5px,#e9f0f4 109.5px 110.6px,#e7eff4 110.6px 111.8px,#ecf2f5 111.8px 113.0px,#e9f0f4 113.0px 114.2px,#e8f0f4 114.2px 115.4px,#eaf1f5 115.4px 116.6px,#e5eef4 116.6px 117.8px,#e1ecf3 117.8px 119.0px,#ebf1f5 119.0px 120.2px,#deebf2 120.2px 121.3px,#eff3f6 121.3px 122.5px,#e7f0f4 122.5px 123.7px,#deebf2 123.7px 124.9px,#eaf1f5 124.9px 126.1px,#d8e8f1 126.1px 127.3px,#e5eef4 127.3px 128.5px,#ecf2f5 128.5px 129.7px,#deebf2 129.7px 130.9px,#e1edf3 130.9px 132.1px,#deebf2 132.1px 133.2px,#e8f0f4 133.2px 134.4px,#d9e9f2 134.4px 135.6px,#ddebf2 135.6px 136.8px,#e5eef4 136.8px 138.0px,#e9f0f4 138.0px 139.2px,#e1edf3 139.2px 140.4px,#ddebf2 140.4px 141.6px,#dfecf3 141.6px 142.8px,#edf2f5 142.8px 144.0px,#e3eef3 144.0px 145.1px,#e8f0f4 145.1px 146.3px,#ddebf2 146.3px 147.5px,#eaf1f5 147.5px 148.7px,#e6eff4 148.7px 149.9px,#dfecf3 149.9px 151.1px,#f1f4f6 151.1px 152.3px,#eff3f6 152.3px 153.5px,#e2edf3 153.5px 154.7px,#dfecf3 154.7px 155.8px,#e2edf3 155.8px 157.0px,#e1edf3 157.0px 158.2px,#e4eef4 158.2px 159.4px,#e0ecf3 159.4px 160.6px,#e5eef4 160.6px 161.8px,#f1f4f6 161.8px 163.0px,#f3f5f6 163.0px 164.2px,#eff3f6 164.2px 165.4px,#f5f6f7 165.4px 166.6px,#e8f0f4 166.6px 167.7px,#e9f0f4 167.7px 168.9px,#f3f5f6 168.9px 170.1px,#eaf1f5 170.1px 171.3px,#f4f6f6 171.3px 172.5px,#f0f4f6 172.5px 173.7px,#eef3f5 173.7px 174.9px,#edf2f5 174.9px 176.1px,#f5f6f7 176.1px 177.3px,#eaf1f5 177.3px 178.5px,#e5eff4 178.5px 179.6px,#edf2f5 179.6px 180.8px,#f1f4f6 180.8px 182.0px,#e9f0f4 182.0px 183.2px,#f4f5f6 183.2px 184.4px,#f0f4f6 184.4px 185.6px,#edf2f5 185.6px 188.0px,#eff3f5 188.0px 189.2px,#e4eef4 189.2px 190.4px,#f2f4f6 190.4px 191.5px,#dfecf3 191.5px 192.7px,#eef3f5 192.7px 193.9px,#edf2f5 193.9px 195.1px,#e0ecf3 195.1px 196.3px,#e6eff4 196.3px 197.5px,#d9e9f1 197.5px 198.7px,#e6eff4 198.7px 199.9px,#f1f4f6 199.9px 201.1px,#f3f5f6 201.1px 202.2px,#e8f0f4 202.2px 203.4px,#eaf1f5 203.4px 205.8px,#e1ecf3 205.8px 207.0px,#f8f2ee 207.0px 208.2px,#e3eef3 208.2px 209.4px,#e2edf3 209.4px 210.6px,#d4e7f1 210.6px 211.8px,#e7f0f4 211.8px 213.0px,#d9e9f2 213.0px 214.1px,#e2edf3 214.1px 215.3px,#ebf1f5 215.3px 216.5px,#e1edf3 216.5px 217.7px,#e8f0f4 217.7px 218.9px,#f6f7f7 218.9px 220.1px,#f2f5f6 220.1px 221.3px,#f3f5f6 221.3px 222.5px,#eef3f5 222.5px 223.7px,#dceaf2 223.7px 224.9px,#e2edf3 224.9px 226.0px,#ecf2f5 226.0px 227.2px,#edf2f5 227.2px 228.4px,#ecf2f5 228.4px 230.8px,#ddebf2 230.8px 232.0px,#f7f5f3 232.0px 233.2px,#f3f5f6 233.2px 234.4px,#eef3f5 234.4px 235.6px,#f0f4f6 235.6px 236.7px,#e6eff4 236.7px 237.9px,#e2edf3 237.9px 239.1px,#e7eff4 239.1px 240.3px,#e0ecf3 240.3px 241.5px,#e5eef4 241.5px 242.7px,#e6eff4 242.7px 243.9px,#e8f0f4 243.9px 245.1px,#ebf1f5 245.1px 246.3px,#edf2f5 246.3px 247.5px,#f4f6f7 247.5px 248.6px,#ecf2f5 248.6px 249.8px,#eef3f5 249.8px 251.0px,#f8f2ef 251.0px 252.2px,#e7eff4 252.2px 253.4px,#dceaf2 253.4px 254.6px,#f0f3f6 254.6px 255.8px,#edf2f5 255.8px 257.0px,#f2f4f6 257.0px 258.2px,#edf2f5 258.2px 259.4px,#e8f0f4 259.4px 260.5px,#edf2f5 260.5px 261.7px,#f0f4f6 261.7px 262.9px,#e4eef4 262.9px 264.1px,#e0ecf3 264.1px 265.3px,#e5eef4 265.3px 266.5px,#e3eef3 266.5px 267.7px,#e7eff4 267.7px 268.9px,#f0f4f6 268.9px 270.1px,#f7f7f7 270.1px 271.3px,#eff3f5 271.3px 272.4px,#f3f5f6 272.4px 273.6px,#f4f6f6 273.6px 274.8px,#e2edf3 274.8px 276.0px,#e6eff4 276.0px 277.2px,#f9efe9 277.2px 278.4px,#f7f7f7 278.4px 279.6px,#dceaf2 279.6px 280.8px,#f7f5f3 280.8px 282.0px,#f7f5f4 282.0px 283.1px,#f9ede5 283.1px 284.3px,#f5f6f7 284.3px 285.5px,#fbe2d3 285.5px 286.7px,#e9f0f4 286.7px 287.9px,#f7f5f3 287.9px 289.1px,#f4f5f6 289.1px 290.3px,#f7f7f6 290.3px 291.5px,#ebf2f5 291.5px 292.7px,#edf2f5 292.7px 293.9px,#f9f0eb 293.9px 295.0px,#f7f6f5 295.0px 296.2px,#f2f4f6 296.2px 297.4px,#f8f1ed 297.4px 298.6px,#eff3f5 298.6px 299.8px,#eef3f5 299.8px 301.0px,#f1f4f6 301.0px 302.2px,#f9eee8 302.2px 303.4px,#f8f1ec 303.4px 304.6px,#faeae1 304.6px 305.8px,#f7f5f4 305.8px 306.9px,#f9ece4 306.9px 308.1px,#f8f0eb 308.1px 309.3px,#f9efe9 309.3px 310.5px,#c0dceb 310.5px 311.7px,#c1ddeb 311.7px 312.9px,#bad9e9 312.9px 314.1px,#c1ddeb 314.1px 315.3px,#c0dceb 315.3px 316.5px,#abd2e5 316.5px 317.6px,#bcdaea 317.6px 318.8px,#b7d8e9 318.8px 320.0px,#c5dfec 320.0px 321.2px,#f8f2ee 321.2px 322.4px,#f7f7f6 322.4px 323.6px,#edf2f5 323.6px 324.8px,#f4f6f6 324.8px 326.0px,#f7f6f5 326.0px 327.2px,#f6f7f7 327.2px 328.4px,#f8f3f1 328.4px 329.5px,#f8f5f3 329.5px 330.7px,#f7f6f6 330.7px 331.9px,#dbeaf2 331.9px 333.1px,#ddebf2 333.1px 334.3px,#bddbea 334.3px 335.5px,#ddebf2 335.5px 336.7px,#d5e7f1 336.7px 337.9px,#e1edf3 337.9px 339.1px,#d9e9f1 339.1px 340.3px,#d5e7f1 340.3px 341.4px,#d9e9f1 341.4px 342.6px,#cde3ef 342.6px 343.8px,#dceaf2 343.8px 345.0px,#c2deec 345.0px 346.2px,#dbeaf2 346.2px 348.6px,#d8e8f1 348.6px 349.8px,#e1edf3 349.8px 351.0px,#dceaf2 351.0px 352.1px,#d7e8f1 352.1px 353.3px,#e0ecf3 353.3px 354.5px,#facbb2 354.5px 355.7px,#f9c4aa 355.7px 356.9px,#fbcdb5 356.9px 358.1px,#fbd1ba 358.1px 359.3px,#fac9af 359.3px 360.5px,#f8bc9f 360.5px 361.7px,#fbd2bb 361.7px 362.9px,#fddbc8 362.9px 364.0px,#fbcdb5 364.0px 365.2px,#fcd3bd 365.2px 366.4px,#fcd6c1 366.4px 367.6px,#fcd7c2 367.6px 368.8px,#ce5146 368.8px 370.0px,#cc4c44 370.0px 371.2px,#cb4a43 371.2px 372.4px,#c84540 372.4px 373.6px,#ca4741 373.6px 374.8px,#ce5045 374.8px 375.9px,#cb4b43 375.9px 377.1px,#c6403e 377.1px 378.3px,#d05347 378.3px 379.5px,#d15548 379.5px 380.7px,#d05448 380.7px 381.9px,#c6403e 381.9px 383.1px,#facab2 383.1px 384.3px,#f9c4aa 384.3px 385.5px,#f9c5ab 385.5px 386.7px,#ef9a7a 386.7px 387.8px,#f7b495 387.8px 389.0px,#f8bea2 389.0px 390.2px,#abd2e5 390.2px 391.4px,#bad9e9 391.4px 392.6px,#aed3e6 392.6px 393.8px,#b7d8e8 393.8px 395.0px,#c2ddec 395.0px 396.2px,#b3d6e8 396.2px 397.4px,#c0dceb 397.4px 398.5px,#e5eff4 398.5px 399.7px,#e1edf3 399.7px 400.9px,#e2edf3 400.9px 402.1px,#dbeaf2 402.1px 403.3px,#cbe2ee 403.3px 405.7px,#cfe4ef 405.7px 406.9px,#d8e8f1 406.9px 408.1px,#cee3ef 408.1px 409.3px,#d9e9f1 409.3px 410.4px,#b2d5e7 410.4px 411.6px,#cbe2ee 411.6px 412.8px,#c6dfed 412.8px 414.0px,#c5dfed 414.0px 415.2px,#a0cce2 415.2px 416.4px,#add3e6 416.4px 417.6px,#bbdaea 417.6px 418.8px,#c8e1ee 418.8px 420.0px,#9fcce2 420.0px 421.2px,#aad1e5 421.2px 422.3px,#a8d0e4 422.3px 423.5px,#b4d6e8 423.5px 424.7px,#9dcae1 424.7px 425.9px,#b6d7e8 425.9px 427.1px,#bddbea 427.1px 428.3px,#cde3ef 428.3px 429.5px,#d6e7f1 429.5px 430.7px,#bfdceb 430.7px 431.9px,#bbdaea 431.9px 433.0px,#b9d9e9 433.0px 434.2px,#d1e5f0 434.2px 435.4px,#d6e7f1 435.4px 436.6px,#b6d7e8 436.6px 437.8px,#d2e6f0 437.8px 439.0px,#abd2e5 439.0px 440.2px,#98c8e0 440.2px 441.4px,#b4d7e8 441.4px 442.6px,#9bcae1 442.6px 443.8px,#c0ddeb 443.8px 444.9px,#b1d5e7 444.9px 446.1px,#b2d5e7 446.1px 447.3px,#b0d4e7 447.3px 448.5px,#a5cfe4 448.5px 449.7px,#a6cfe4 449.7px 450.9px,#b7d8e9 450.9px 452.1px,#d7e8f1 452.1px 453.3px,#c4deec 453.3px 454.5px,#b6d7e8 454.5px 455.7px,#a7cfe4 455.7px 456.8px,#b3d6e7 456.8px 458.0px,#b9d9e9 458.0px 459.2px,#cde3ef 459.2px 460.4px,#c1ddec 460.4px 461.6px,#cee3ef 461.6px 462.8px,#d2e6f0 462.8px 464.0px,#d5e7f1 464.0px 465.2px,#d3e6f0 465.2px 466.4px,#d5e7f1 466.4px 467.5px,#b9d9e9 467.5px 468.7px,#b8d8e9 468.7px 469.9px,#c1ddeb 469.9px 471.1px,#cee4ef 471.1px 472.3px,#c8e1ed 472.3px 473.5px,#69abd0 473.5px 474.7px,#add3e6 474.7px 475.9px,#c5dfed 475.9px 477.1px,#80bad8 477.1px 478.3px,#d3e6f0 478.3px 479.4px,#cae2ee 479.4px 480.6px,#bfdceb 480.6px 481.8px,#c9e1ee 481.8px 483.0px,#c0dceb 483.0px 484.2px,#afd4e6 484.2px 485.4px,#a7d0e4 485.4px 486.6px,#a5cee3 486.6px 487.8px,#dceaf2 487.8px 489.0px,#d3e6f0 489.0px 490.2px,#c1ddeb 490.2px 491.3px,#c8e0ed 491.3px 492.5px,#bad9e9 492.5px 493.7px,#e0ecf3 493.7px 494.9px,#d7e8f1 494.9px 496.1px,#ddebf2 496.1px 497.3px,#c8e0ed 497.3px 498.5px,#d2e6f0 498.5px 499.7px,#c0dceb 499.7px 500.9px,#afd4e6 500.9px 502.1px,#c7e0ed 502.1px 503.2px,#d9e9f2 503.2px 504.4px,#97c8df 504.4px 505.6px,#c1ddeb 505.6px 506.8px,#cae2ee 506.8px 508.0px,#a0cce2 508.0px 509.2px,#b9d9e9 509.2px 510.4px,#bddbea 510.4px 511.6px,#c0dceb 511.6px 512.8px,#b7d8e9 512.8px 513.9px,#bfdceb 513.9px 515.1px,#d2e5f0 515.1px 516.3px,#e6eff4 516.3px 517.5px,#c2ddec 517.5px 518.7px,#c1ddeb 518.7px 519.9px,#99c9e0 519.9px 521.1px,#a7d0e4 521.1px 522.3px,#add3e6 522.3px 523.5px,#93c6de 523.5px 524.7px,#90c4dd 524.7px 525.8px,#93c6de 525.8px 527.0px,#a0cce2 527.0px 528.2px,#c4deec 528.2px 529.4px,#c3deec 529.4px 530.6px,#b8d8e9 530.6px 531.8px,#a6cfe4 531.8px 533.0px,#a8d0e4 533.0px 534.2px,#c7e0ed 534.2px 535.4px,#c4deec 535.4px 536.6px,#bfdceb 536.6px 537.7px,#c5dfed 537.7px 538.9px,#a9d1e5 538.9px 540.1px,#b3d6e7 540.1px 541.3px,#ddebf2 541.3px 542.5px,#c9e1ee 542.5px 543.7px,#cee3ef 543.7px 544.9px,#c9e1ee 544.9px 546.1px,#bad9e9 546.1px 547.3px,#a9d0e4 547.3px 548.4px,#c9e1ee 548.4px 549.6px,#cde3ef 549.6px 550.8px,#d3e6f0 550.8px 552.0px,#c1ddeb 552.0px 553.2px,#a0cce2 553.2px 554.4px,#d7e8f1 554.4px 555.6px,#bedbea 555.6px 556.8px,#cfe4f0 556.8px 558.0px,#c8e0ed 558.0px 559.2px,#c1ddeb 559.2px 560.3px,#c0dceb 560.3px 561.5px,#cce3ef 561.5px 562.7px,#d5e7f1 562.7px 563.9px,#b5d7e8 563.9px 565.1px,#c0dceb 565.1px 566.3px,#b9d9e9 566.3px 567.5px,#bddbea 567.5px 568.7px,#d8e8f1 568.7px 569.9px,#abd2e5 569.9px 571.1px,#c0dceb 571.1px 572.2px,#f7f5f4 572.2px 573.4px,#f3f5f6 573.4px 574.6px,#f1f4f6 574.6px 575.8px,#f7f7f7 575.8px 577.0px,#c1ddeb 577.0px 578.2px,#d4e7f1 578.2px 579.4px,#d0e4f0 579.4px 580.6px,#c4deec 580.6px 583.0px,#c6dfed 583.0px 584.1px,#cbe2ee 584.1px 585.3px,#c7e0ed 585.3px 586.5px,#a1cce2 586.5px 587.7px,#bcdaea 587.7px 588.9px,#d2e5f0 588.9px 590.1px,#d2e6f0 590.1px 591.3px,#eef3f5 591.3px 592.5px,#e4eef3 592.5px 593.7px,#e8f0f4 593.7px 594.8px,#deebf2 594.8px 597.2px,#c2ddec 597.2px 598.4px,#bad9e9 598.4px 599.6px,#c5dfec 599.6px 600.8px,#9ccae1 600.8px 602.0px,#96c7df 602.0px 603.2px,#b9d9e9 603.2px 604.4px,#c0dceb 604.4px 605.6px,#d1e5f0 605.6px 606.7px,#dae9f2 606.7px 607.9px,#bcdaea 607.9px 609.1px,#c9e1ee 609.1px 610.3px,#f8f4f2 610.3px 611.5px,#b1d5e7 611.5px 612.7px,#a3cee3 612.7px 613.9px,#b5d7e8 613.9px 615.1px,#b0d4e6 615.1px 616.3px,#a4cee3 616.3px 617.5px,#a1cde2 617.5px 618.6px,#a0cce2 618.6px 619.8px,#c1ddeb 619.8px 621.0px,#a1cde2 621.0px 622.2px,#d4e7f1 622.2px 623.4px,#a3cee3 623.4px 624.6px,#b3d6e7 624.6px 625.8px,#b5d7e8 625.8px 627.0px,#95c6df 627.0px 628.2px,#bad9ea 628.2px 629.3px,#a8d0e4 629.3px 630.5px,#add3e6 630.5px 631.7px,#c9e1ee 631.7px 632.9px,#9ccae1 632.9px 634.1px,#93c5de 634.1px 635.3px,#bfdceb 635.3px 636.5px,#abd2e5 636.5px 637.7px,#a0cce2 637.7px 638.9px,#a3cee3 638.9px 640.1px,#bfdceb 640.1px 641.2px,#9ccae1 641.2px 642.4px,#b8d8e9 642.4px 643.6px,#b6d7e8 643.6px 644.8px,#bbdaea 644.8px 646.0px,#e8f0f4 646.0px 647.2px,#b1d5e7 647.2px 648.4px,#c8e1ed 648.4px 649.6px,#bfdceb 649.6px 650.8px,#a2cde3 650.8px 652.0px,#8fc3dd 652.0px 653.1px,#a2cde2 653.1px 654.3px,#acd2e5 654.3px 655.5px,#8ec2dd 655.5px 656.7px,#b4d6e8 656.7px 657.9px,#b3d6e7 657.9px 659.1px,#cce3ef 659.1px 660.3px,#d2e5f0 660.3px 662.7px,#b9d9e9 662.7px 663.8px,#b0d4e6 663.8px 665.0px,#f3f5f6 665.0px 666.2px,#cfe4f0 666.2px 667.4px,#cde3ef 667.4px 668.6px,#add3e6 668.6px 669.8px,#b6d7e8 669.8px 671.0px,#d0e4f0 671.0px 672.2px,#d2e6f0 672.2px 673.4px,#d0e5f0 673.4px 674.6px,#d5e7f1 674.6px 675.7px,#afd4e6 675.7px 676.9px,#bbdaea 676.9px 678.1px,#bedbeb 678.1px 679.3px,#b6d7e8 679.3px 680.5px,#7eb8d7 680.5px 681.1px)"></div>
<div class="hm" style="left:608.27px;top:1718.2px;width:73.12px;height:681.1px;background:linear-gradient(#f7f6f5 0.0px 1.2px,#f8f4f3 1.2px 2.4px,#f7f7f7 2.4px 3.6px,#f9c4aa 3.6px 4.8px,#f9c3a9 4.8px 5.9px,#fbd0b9 5.9px 7.1px,#fbe5d9 7.1px 8.3px,#fce1d1 8.3px 9.5px,#fddcc9 9.5px 10.7px,#fce1d1 10.7px 13.1px,#fcdecb 13.1px 14.3px,#fbe3d5 14.3px 15.5px,#fce0d0 15.5px 16.7px,#fcdecc 16.7px 17.8px,#fce0d0 17.8px 19.0px,#fbe3d5 19.0px 20.2px,#fbe4d6 20.2px 21.4px,#fae9df 21.4px 22.6px,#fae7db 22.6px 23.8px,#fcdecd 23.8px 25.0px,#fbe3d5 25.0px 26.2px,#faebe2 26.2px 27.4px,#fbe3d5 27.4px 28.6px,#fbe6db 28.6px 29.7px,#fcdecd 29.7px 30.9px,#fbe2d4 30.9px 32.1px,#f9c3a8 32.1px 33.3px,#f4a683 33.3px 34.5px,#f4a582 34.5px 35.7px,#f2a17f 35.7px 36.9px,#fcdecd 36.9px 38.1px,#f8bea2 38.1px 39.3px,#fbcfb8 39.3px 40.4px,#fcdfcd 40.4px 41.6px,#fbe3d5 41.6px 42.8px,#fae9df 42.8px 44.0px,#f8ba9d 44.0px 45.2px,#fddcc9 45.2px 46.4px,#fcdecc 46.4px 47.6px,#fbd0b9 47.6px 48.8px,#f7ba9d 48.8px 50.0px,#f9c2a7 50.0px 51.2px,#facab2 51.2px 52.3px,#f8bb9e 52.3px 53.5px,#f9c5ab 53.5px 54.7px,#fbd2bb 54.7px 55.9px,#fbd0b8 55.9px 57.1px,#fac9b0 57.1px 58.3px,#f5ab89 58.3px 59.5px,#f6b192 59.5px 60.7px,#f6b292 60.7px 61.9px,#f09d7c 61.9px 63.1px,#f7ba9c 63.1px 64.2px,#f8bea2 64.2px 65.4px,#f6b495 65.4px 66.6px,#f4a683 66.6px 67.8px,#f19f7d 67.8px 69.0px,#f5ab8a 69.0px 70.2px,#f5ae8d 70.2px 71.4px,#f6b292 71.4px 72.6px,#f5ad8c 72.6px 73.8px,#f5ad8d 73.8px 75.0px,#f7b799 75.0px 76.1px,#f9c1a6 76.1px 77.3px,#facab2 77.3px 78.5px,#f5aa89 78.5px 79.7px,#ed9475 79.7px 80.9px,#e98b6e 80.9px 82.1px,#fcd5bf 82.1px 83.3px,#e98b6e 83.3px 84.5px,#f5a886 84.5px 85.7px,#f7b596 85.7px 86.8px,#f3a380 86.8px 88.0px,#f6af8f 88.0px 89.2px,#ea8d70 89.2px 90.4px,#e7886c 90.4px 91.6px,#ec9374 91.6px 92.8px,#ed9475 92.8px 94.0px,#e58368 94.0px 95.2px,#eb9072 95.2px 96.4px,#f3a381 96.4px 97.6px,#f09d7c 97.6px 98.7px,#e58267 98.7px 99.9px,#e17960 99.9px 101.1px,#db6c56 101.1px 102.3px,#e58368 102.3px 104.7px,#e98b6e 104.7px 105.9px,#e48166 105.9px 107.1px,#f3a280 107.1px 108.3px,#f2a07e 108.3px 109.5px,#f5ad8c 109.5px 110.6px,#f6b191 110.6px 111.8px,#f5ac8b 111.8px 113.0px,#f4a784 113.0px 114.2px,#f5a987 114.2px 115.4px,#f2a07e 115.4px 117.8px,#f5aa89 117.8px 119.0px,#f2a27f 119.0px 120.2px,#f8bfa3 120.2px 121.3px,#f9c2a6 121.3px 122.5px,#f4a886 122.5px 123.7px,#f6b495 123.7px 124.9px,#f3a280 124.9px 126.1px,#ee9777 126.1px 127.3px,#f5ab89 127.3px 128.5px,#f7b799 128.5px 129.7px,#f7b89b 129.7px 130.9px,#f5ac8a 130.9px 132.1px,#f3a381 132.1px 133.2px,#f3a380 133.2px 134.4px,#f4a684 134.4px 135.6px,#f4a582 135.6px 136.8px,#ee9677 136.8px 138.0px,#f6af8f 138.0px 139.2px,#f2a17f 139.2px 140.4px,#f5ae8d 140.4px 141.6px,#f3a280 141.6px 142.8px,#f5ab8a 142.8px 144.0px,#f8bb9e 144.0px 145.1px,#f5ab89 145.1px 146.3px,#f5ae8d 146.3px 147.5px,#f5ad8d 147.5px 148.7px,#facab2 148.7px 149.9px,#fbd2bb 149.9px 151.1px,#f6b293 151.1px 152.3px,#f5aa89 152.3px 153.5px,#f4a785 153.5px 154.7px,#f7b496 154.7px 155.8px,#f6b090 155.8px 157.0px,#f5ae8d 157.0px 158.2px,#f8c0a4 158.2px 159.4px,#f2a27f 159.4px 160.6px,#f8bb9e 160.6px 161.8px,#f4a582 161.8px 163.0px,#f5a886 163.0px 164.2px,#f5ae8d 164.2px 165.4px,#f3a280 165.4px 166.6px,#f4a683 166.6px 167.7px,#f5ab89 167.7px 168.9px,#f6b293 168.9px 170.1px,#ea8d70 170.1px 171.3px,#f4a684 171.3px 172.5px,#f3a280 172.5px 173.7px,#f4a785 173.7px 174.9px,#f09b7a 174.9px 176.1px,#e8886c 176.1px 177.3px,#de725b 177.3px 178.5px,#df755d 178.5px 179.6px,#e0775e 179.6px 180.8px,#df745c 180.8px 182.0px,#e88a6d 182.0px 183.2px,#ec9274 183.2px 184.4px,#f4a684 184.4px 185.6px,#ed9475 185.6px 186.8px,#e7876b 186.8px 188.0px,#db6b55 188.0px 189.2px,#dc6e58 189.2px 190.4px,#e98c6f 190.4px 191.5px,#e58267 191.5px 192.7px,#ee9777 192.7px 193.9px,#d86551 193.9px 195.1px,#e98c6f 195.1px 196.3px,#e37e64 196.3px 197.5px,#dd7059 197.5px 198.7px,#e27b62 198.7px 199.9px,#f19f7d 199.9px 201.1px,#ea8d70 201.1px 202.2px,#eb9173 202.2px 203.4px,#f5ae8d 203.4px 204.6px,#f09b7a 204.6px 205.8px,#dd715a 205.8px 207.0px,#e7866a 207.0px 208.2px,#dd715a 208.2px 209.4px,#e58267 209.4px 210.6px,#e48066 210.6px 211.8px,#ec9273 211.8px 213.0px,#ea8f71 213.0px 214.1px,#e0775f 214.1px 215.3px,#e58368 215.3px 216.5px,#ef9a79 216.5px 217.7px,#e7866a 217.7px 218.9px,#f09b7a 218.9px 220.1px,#ec9374 220.1px 221.3px,#e6866a 221.3px 222.5px,#e7866a 222.5px 223.7px,#f09b7a 223.7px 224.9px,#f19e7d 224.9px 226.0px,#ec9374 226.0px 227.2px,#e37f65 227.2px 228.4px,#ef9a7a 228.4px 229.6px,#ea8f71 229.6px 230.8px,#fac8af 230.8px 232.0px,#ec9274 232.0px 233.2px,#e0785f 233.2px 234.4px,#d05447 234.4px 235.6px,#ca4741 235.6px 236.7px,#de725b 236.7px 237.9px,#e17a61 237.9px 239.1px,#de725b 239.1px 240.3px,#e37d63 240.3px 241.5px,#dc6d57 241.5px 242.7px,#db6b55 242.7px 243.9px,#dd7059 243.9px 245.1px,#c53d3c 245.1px 246.3px,#dd7059 246.3px 247.5px,#d96853 247.5px 248.6px,#df755d 248.6px 249.8px,#d55f4c 249.8px 251.0px,#da6a55 251.0px 252.2px,#e17960 252.2px 253.4px,#e07860 253.4px 254.6px,#e48066 254.6px 255.8px,#e37f65 255.8px 257.0px,#f3a481 257.0px 258.2px,#f6af8f 258.2px 259.4px,#f6ae8e 259.4px 260.5px,#f7b697 260.5px 261.7px,#f6b394 261.7px 262.9px,#f3a481 262.9px 264.1px,#f6b293 264.1px 265.3px,#f19f7d 265.3px 266.5px,#f6b394 266.5px 267.7px,#f4a785 267.7px 268.9px,#f8f2ef 268.9px 270.1px,#d96853 270.1px 271.3px,#d35a4a 271.3px 272.4px,#e17960 272.4px 273.6px,#d55d4c 273.6px 274.8px,#d45b4b 274.8px 276.0px,#d25949 276.0px 277.2px,#d65f4d 277.2px 278.4px,#d35a4a 278.4px 279.6px,#de735b 279.6px 280.8px,#d65f4d 280.8px 282.0px,#d6604d 282.0px 283.1px,#ce5146 283.1px 284.3px,#db6c57 284.3px 285.5px,#da6a54 285.5px 286.7px,#d7624e 286.7px 287.9px,#da6954 287.9px 290.3px,#d86450 290.3px 291.5px,#da6954 291.5px 293.9px,#d7624f 293.9px 295.0px,#ca4842 295.0px 296.2px,#e0775e 296.2px 297.4px,#de735b 297.4px 298.6px,#e6856a 298.6px 299.8px,#f09c7b 299.8px 301.0px,#e98c6f 301.0px 302.2px,#e98d6f 302.2px 303.4px,#d55d4c 303.4px 304.6px,#e68569 304.6px 305.8px,#e7866b 305.8px 306.9px,#d05447 306.9px 308.1px,#e58167 308.1px 309.3px,#de735c 309.3px 310.5px,#e48066 310.5px 311.7px,#ce5046 311.7px 312.9px,#c2393b 312.9px 314.1px,#c7433f 314.1px 315.3px,#cb4a43 315.3px 316.5px,#c7433f 316.5px 317.6px,#bf3338 317.6px 318.8px,#cd4e44 318.8px 320.0px,#c43d3c 320.0px 321.2px,#c6413e 321.2px 322.4px,#c2383a 322.4px 324.8px,#cb4942 324.8px 326.0px,#c03438 326.0px 327.2px,#cb4b43 327.2px 328.4px,#c6403e 328.4px 329.5px,#c94641 329.5px 330.7px,#c7433f 330.7px 331.9px,#b82431 331.9px 333.1px,#b2182b 333.1px 334.3px,#ba2732 334.3px 335.5px,#bf3237 335.5px 336.7px,#bc2c35 336.7px 337.9px,#ba2732 337.9px 339.1px,#b72230 339.1px 340.3px,#b92631 340.3px 341.4px,#b2182b 341.4px 343.8px,#bd2e36 343.8px 345.0px,#bb2b34 345.0px 346.2px,#bf3237 346.2px 347.4px,#ba2732 347.4px 348.6px,#bb2b34 348.6px 349.8px,#ba2832 349.8px 351.0px,#b51f2e 351.0px 352.1px,#b72330 352.1px 353.3px,#bf3237 353.3px 354.5px,#d86450 354.5px 355.7px,#d76350 355.7px 356.9px,#dc6d57 356.9px 358.1px,#db6c56 358.1px 359.3px,#ca4842 359.3px 360.5px,#cc4c43 360.5px 361.7px,#cf5246 361.7px 362.9px,#e37e64 362.9px 364.0px,#d45b4b 364.0px 365.2px,#d25849 365.2px 366.4px,#cf5246 366.4px 367.6px,#c53e3d 367.6px 368.8px,#fddcc9 368.8px 370.0px,#fcdfce 370.0px 371.2px,#fcdfcd 371.2px 372.4px,#fbe5d9 372.4px 373.6px,#fddcc8 373.6px 374.8px,#fce1d2 374.8px 375.9px,#fbe6d9 375.9px 377.1px,#fbe2d4 377.1px 378.3px,#e9f0f4 378.3px 379.5px,#e0ecf3 379.5px 380.7px,#e4eef3 380.7px 381.9px,#dceaf2 381.9px 383.1px,#e0ecf3 383.1px 384.3px,#f8bea2 384.3px 385.5px,#f6ae8e 385.5px 386.7px,#f5ac8b 386.7px 387.8px,#fcd3bc 387.8px 389.0px,#f9c3a9 389.0px 390.2px,#87beda 390.2px 391.4px,#82bbd8 391.4px 392.6px,#7bb6d6 392.6px 393.8px,#6aacd0 393.8px 395.0px,#99c9e0 395.0px 396.2px,#82bbd9 396.2px 397.4px,#86bdda 397.4px 398.5px,#71b0d3 398.5px 399.7px,#6fafd2 399.7px 400.9px,#64a8ce 400.9px 402.1px,#89bfdb 402.1px 403.3px,#8fc3dd 403.3px 404.5px,#87beda 404.5px 405.7px,#8cc1dc 405.7px 406.9px,#9ccae1 406.9px 408.1px,#77b4d5 408.1px 409.3px,#93c6de 409.3px 410.4px,#8bc0dc 410.4px 411.6px,#9ccae1 411.6px 412.8px,#a7d0e4 412.8px 414.0px,#92c5de 414.0px 415.2px,#a4cee3 415.2px 416.4px,#a9d1e4 416.4px 417.6px,#9ccae1 417.6px 418.8px,#9fcce2 418.8px 420.0px,#a0cce2 420.0px 421.2px,#a9d1e5 421.2px 422.3px,#97c8df 422.3px 423.5px,#8ec2dd 423.5px 424.7px,#a1cde2 424.7px 425.9px,#aad1e5 425.9px 427.1px,#96c7df 427.1px 428.3px,#a4cee3 428.3px 429.5px,#85bdd9 429.5px 430.7px,#98c8e0 430.7px 431.9px,#9ecbe1 431.9px 433.0px,#92c5de 433.0px 434.2px,#a3cde3 434.2px 435.4px,#8ac0db 435.4px 436.6px,#a4cee3 436.6px 437.8px,#a5cee3 437.8px 439.0px,#a0cce2 439.0px 440.2px,#a2cde2 440.2px 441.4px,#c7e0ed 441.4px 442.6px,#6eaed2 442.6px 443.8px,#92c5de 443.8px 444.9px,#abd2e5 444.9px 446.1px,#bad9e9 446.1px 447.3px,#a7cfe4 447.3px 448.5px,#a8d0e4 448.5px 449.7px,#a1cce2 449.7px 450.9px,#78b4d5 450.9px 452.1px,#4a98c5 452.1px 453.3px,#a6cfe4 453.3px 454.5px,#a3cee3 454.5px 455.7px,#b0d4e7 455.7px 456.8px,#d3e6f0 456.8px 458.0px,#b1d5e7 458.0px 459.2px,#bddbea 459.2px 460.4px,#b5d7e8 460.4px 461.6px,#bcdaea 461.6px 462.8px,#cbe2ee 462.8px 464.0px,#bedbea 464.0px 465.2px,#b4d6e8 465.2px 467.5px,#b2d5e7 467.5px 468.7px,#99c9e0 468.7px 469.9px,#93c6de 469.9px 471.1px,#99c8e0 471.1px 472.3px,#88beda 472.3px 473.5px,#96c7df 473.5px 474.7px,#bbdaea 474.7px 475.9px,#97c8df 475.9px 477.1px,#a5cfe4 477.1px 478.3px,#9ac9e0 478.3px 479.4px,#62a7ce 479.4px 480.6px,#9bcae1 480.6px 481.8px,#79b5d6 481.8px 483.0px,#a9d1e5 483.0px 484.2px,#a1cde2 484.2px 485.4px,#9dcbe1 485.4px 486.6px,#bedbea 486.6px 487.8px,#a8d0e4 487.8px 489.0px,#c6dfed 489.0px 490.2px,#add3e6 490.2px 491.3px,#b1d5e7 491.3px 492.5px,#92c5de 492.5px 493.7px,#bad9e9 493.7px 494.9px,#a6cfe4 494.9px 496.1px,#b7d8e9 496.1px 498.5px,#c4deec 498.5px 499.7px,#a7d0e4 499.7px 500.9px,#a8d0e4 500.9px 502.1px,#b9d9e9 502.1px 503.2px,#a6cfe4 503.2px 504.4px,#a5cfe4 504.4px 505.6px,#9ecbe1 505.6px 506.8px,#c3deec 506.8px 508.0px,#7ab6d6 508.0px 509.2px,#c1ddeb 509.2px 510.4px,#bddbea 510.4px 511.6px,#b3d6e8 511.6px 512.8px,#bad9e9 512.8px 513.9px,#b5d7e8 513.9px 515.1px,#92c5de 515.1px 516.3px,#9fcce2 516.3px 517.5px,#a5cfe4 517.5px 518.7px,#83bcd9 518.7px 519.9px,#8ec2dc 519.9px 521.1px,#a4cee3 521.1px 523.5px,#95c6df 523.5px 524.7px,#a6cfe4 524.7px 525.8px,#b9d9e9 525.8px 527.0px,#b4d6e8 527.0px 528.2px,#b1d5e7 528.2px 529.4px,#afd4e6 529.4px 530.6px,#b9d9e9 530.6px 531.8px,#a1cde2 531.8px 533.0px,#b6d7e8 533.0px 534.2px,#acd2e5 534.2px 535.4px,#98c8e0 535.4px 536.6px,#9fcbe2 536.6px 537.7px,#9fcce2 537.7px 538.9px,#a2cde2 538.9px 540.1px,#9fcce2 540.1px 541.3px,#93c5de 541.3px 542.5px,#9bcae1 542.5px 543.7px,#97c8df 543.7px 544.9px,#67aacf 544.9px 546.1px,#8cc1dc 546.1px 547.3px,#92c5de 547.3px 548.4px,#99c8e0 548.4px 549.6px,#a3cee3 549.6px 550.8px,#bcdaea 550.8px 552.0px,#abd1e5 552.0px 553.2px,#b1d5e7 553.2px 554.4px,#92c5de 554.4px 555.6px,#a5cfe4 555.6px 556.8px,#a2cde3 556.8px 558.0px,#aad1e5 558.0px 559.2px,#bbdaea 559.2px 560.3px,#add3e6 560.3px 561.5px,#abd2e5 561.5px 562.7px,#acd2e5 562.7px 563.9px,#a4cee3 563.9px 565.1px,#99c8e0 565.1px 566.3px,#9ecbe1 566.3px 567.5px,#94c6df 567.5px 568.7px,#a6cfe4 568.7px 569.9px,#9ecbe1 569.9px 571.1px,#87beda 571.1px 572.2px,#a0cce2 572.2px 573.4px,#c1ddeb 573.4px 574.6px,#add3e6 574.6px 575.8px,#b5d7e8 575.8px 577.0px,#bddbea 577.0px 578.2px,#b5d7e8 578.2px 579.4px,#aad1e5 579.4px 580.6px,#ddebf2 580.6px 581.8px,#9ecbe2 581.8px 583.0px,#a7d0e4 583.0px 584.1px,#b2d5e7 584.1px 585.3px,#5da4cc 585.3px 586.5px,#4d99c6 586.5px 587.7px,#4997c5 587.7px 588.9px,#94c6de 588.9px 590.1px,#72b1d3 590.1px 591.3px,#7eb8d7 591.3px 592.5px,#94c6df 592.5px 593.7px,#62a6cd 593.7px 594.8px,#76b3d4 594.8px 596.0px,#64a8ce 596.0px 597.2px,#9dcae1 597.2px 598.4px,#4695c4 598.4px 599.6px,#4997c5 599.6px 600.8px,#75b2d4 600.8px 602.0px,#68abd0 602.0px 603.2px,#7fb9d7 603.2px 604.4px,#4b98c6 604.4px 605.6px,#549ec9 605.6px 606.7px,#569fca 606.7px 609.1px,#3c8abe 609.1px 610.3px,#4796c4 610.3px 611.5px,#5aa1cb 611.5px 612.7px,#69abd0 612.7px 613.9px,#70b0d3 613.9px 615.1px,#4393c3 615.1px 616.3px,#4494c3 616.3px 617.5px,#549dc9 617.5px 618.6px,#579fca 618.6px 619.8px,#67aacf 619.8px 621.0px,#75b3d4 621.0px 622.2px,#71b0d3 622.2px 623.4px,#6daed1 623.4px 624.6px,#aed3e6 624.6px 625.8px,#71b0d3 625.8px 627.0px,#549ec9 627.0px 628.2px,#60a5cd 628.2px 629.3px,#59a1cb 629.3px 630.5px,#529dc8 630.5px 631.7px,#3b88bd 631.7px 632.9px,#5fa4cc 632.9px 634.1px,#5ca3cc 634.1px 635.3px,#65a9cf 635.3px 636.5px,#70afd2 636.5px 637.7px,#77b4d5 637.7px 638.9px,#7cb7d7 638.9px 640.1px,#4190c1 640.1px 641.2px,#6fafd2 641.2px 642.4px,#569fca 642.4px 643.6px,#5ea4cc 643.6px 644.8px,#7fb9d7 644.8px 646.0px,#5ca3cb 646.0px 647.2px,#5da3cc 647.2px 648.4px,#72b1d3 648.4px 649.6px,#61a6cd 649.6px 650.8px,#57a0ca 650.8px 652.0px,#66a9cf 652.0px 653.1px,#71b0d3 653.1px 654.3px,#509bc7 654.3px 655.5px,#72b1d3 655.5px 656.7px,#62a6cd 656.7px 657.9px,#7cb7d7 657.9px 659.1px,#72b0d3 659.1px 660.3px,#69abd0 660.3px 661.5px,#8bc1dc 661.5px 662.7px,#6bacd1 662.7px 663.8px,#80b9d8 663.8px 665.0px,#59a1ca 665.0px 666.2px,#5fa5cc 666.2px 667.4px,#64a8ce 667.4px 668.6px,#4e9ac7 668.6px 669.8px,#3783bb 669.8px 671.0px,#7eb8d7 671.0px 672.2px,#4695c4 672.2px 673.4px,#bedceb 673.4px 674.6px,#75b3d4 674.6px 675.7px,#57a0ca 675.7px 676.9px,#509bc8 676.9px 678.1px,#3986bc 678.1px 679.3px,#77b4d5 679.3px 680.5px,#4b98c6 680.5px 681.1px)"></div>
<div class="hm" style="left:1050.50px;top:1717.9px;width:72.69px;height:674.9px;background:linear-gradient(#fce2d3 0.0px 1.3px,#fbe6db 1.3px 2.6px,#fbe4d7 2.6px 4.0px,#fbe5d8 4.0px 5.3px,#faebe2 5.3px 6.6px,#f5f6f7 6.6px 7.9px,#f8f2ef 7.9px 9.2px,#fce2d3 9.2px 10.6px,#fae7dc 10.6px 11.9px,#fbe5d8 11.9px 13.2px,#fbe3d4 13.2px 14.5px,#f9ece4 14.5px 15.8px,#fbe6d9 15.8px 17.2px,#fae9df 17.2px 18.5px,#fbe3d5 18.5px 19.8px,#faebe2 19.8px 21.1px,#fbe3d4 21.1px 22.5px,#d9e9f1 22.5px 23.8px,#f7f6f6 23.8px 25.1px,#f7b799 25.1px 26.4px,#f6b293 26.4px 27.7px,#f6ae8e 27.7px 29.1px,#f09d7c 29.1px 30.4px,#f4a885 30.4px 31.7px,#e8896d 31.7px 33.0px,#f5a987 33.0px 34.3px,#ed9576 34.3px 35.7px,#f5ad8d 35.7px 37.0px,#facbb3 37.0px 38.3px,#f7b597 38.3px 39.6px,#f5aa88 39.6px 40.9px,#f4a885 40.9px 42.3px,#f4a785 42.3px 43.6px,#f19f7d 43.6px 44.9px,#ed9676 44.9px 46.2px,#f09d7c 46.2px 47.5px,#e0765e 47.5px 48.9px,#e0785f 48.9px 50.2px,#f4a582 50.2px 51.5px,#f6b091 51.5px 52.8px,#ef9978 52.8px 54.2px,#ec9274 54.2px 55.5px,#f5a988 55.5px 56.8px,#f2a17f 56.8px 58.1px,#f5ac8a 58.1px 59.4px,#e98c6f 59.4px 60.8px,#b82531 60.8px 62.1px,#b2182b 62.1px 63.4px,#ba2732 63.4px 64.7px,#b82431 64.7px 66.0px,#b82531 66.0px 67.4px,#b41b2d 67.4px 68.7px,#cb4a43 68.7px 70.0px,#d45d4c 70.0px 71.3px,#c6403e 71.3px 72.6px,#ce5146 72.6px 74.0px,#dc6d57 74.0px 75.3px,#cf5146 75.3px 76.6px,#da6954 76.6px 77.9px,#d25849 77.9px 79.2px,#ca4842 79.2px 80.6px,#d86450 80.6px 81.9px,#dc6d57 81.9px 83.2px,#d15749 83.2px 84.5px,#dd6f59 84.5px 85.8px,#c63f3d 85.8px 87.2px,#f9ece4 87.2px 88.5px,#ebf1f5 88.5px 89.8px,#edf2f5 89.8px 91.1px,#f4f6f7 91.1px 92.5px,#f7f5f3 92.5px 93.8px,#fbe6d9 93.8px 95.1px,#fbe3d4 95.1px 96.4px,#fbe6da 96.4px 97.7px,#fbe4d7 97.7px 99.1px,#f9ede6 99.1px 100.4px,#fae9df 100.4px 101.7px,#fdd8c3 101.7px 103.0px,#f8f4f2 103.0px 104.3px,#f9ede6 104.3px 105.7px,#f8f0ec 105.7px 107.0px,#fbe2d4 107.0px 108.3px,#f8f2ee 108.3px 109.6px,#faeae1 109.6px 110.9px,#f9ece4 110.9px 112.3px,#fbe6da 112.3px 113.6px,#fcdecc 113.6px 114.9px,#fbe4d7 114.9px 116.2px,#faeae1 116.2px 117.5px,#e5eff4 117.5px 118.9px,#f6f7f7 118.9px 120.2px,#e3eef3 120.2px 121.5px,#eef3f5 121.5px 122.8px,#faeae1 122.8px 124.1px,#fae9e0 124.1px 125.5px,#fbe2d3 125.5px 126.8px,#fbe3d5 126.8px 128.1px,#f8f2ef 128.1px 130.8px,#faebe3 130.8px 132.1px,#f9ece5 132.1px 133.4px,#f8f4f2 133.4px 134.7px,#e9f0f4 134.7px 137.4px,#e8f0f4 137.4px 138.7px,#f4f6f6 138.7px 140.0px,#f8f0eb 140.0px 141.3px,#faeae0 141.3px 142.6px,#fac7ae 142.6px 144.0px,#f6b292 144.0px 145.3px,#fcd3bc 145.3px 146.6px,#fac6ad 146.6px 147.9px,#facab1 147.9px 149.2px,#cd4e44 149.2px 150.6px,#c94641 150.6px 151.9px,#cf5246 151.9px 153.2px,#d25849 153.2px 154.5px,#d05448 154.5px 155.8px,#e0765e 155.8px 157.2px,#e37d63 157.2px 158.5px,#e17a61 158.5px 159.8px,#e6866a 159.8px 161.1px,#ef9a79 161.1px 162.5px,#df745c 162.5px 163.8px,#e07860 163.8px 165.1px,#f6b495 165.1px 166.4px,#f5a886 166.4px 167.7px,#f7b697 167.7px 169.1px,#ea8f71 169.1px 170.4px,#f2a07e 170.4px 171.7px,#f8bb9f 171.7px 173.0px,#fbd1ba 173.0px 174.3px,#f6b394 174.3px 175.7px,#f4a582 175.7px 177.0px,#f5a987 177.0px 178.3px,#f2a07e 178.3px 179.6px,#fbe6da 179.6px 180.9px,#f9efea 180.9px 182.3px,#f3f5f6 182.3px 183.6px,#fae7dc 183.6px 184.9px,#f7f6f6 184.9px 186.2px,#f9efe9 186.2px 187.5px,#faeae0 187.5px 188.9px,#f7f5f3 188.9px 190.2px,#f7f6f6 190.2px 191.5px,#fbe6db 191.5px 192.8px,#fbe6d9 192.8px 194.1px,#fbe3d5 194.1px 195.5px,#f8f0ec 195.5px 196.8px,#fbe4d6 196.8px 198.1px,#fae7dc 198.1px 199.4px,#fbe3d5 199.4px 200.8px,#fcdecc 200.8px 202.1px,#fbccb4 202.1px 203.4px,#fcdfce 203.4px 204.7px,#fbe3d4 204.7px 206.0px,#fbe6da 206.0px 207.4px,#fddcc8 207.4px 208.7px,#f7f5f3 208.7px 210.0px,#f8f1ed 210.0px 211.3px,#fbe4d7 211.3px 212.6px,#fce1d1 212.6px 214.0px,#fce2d3 214.0px 215.3px,#fbe6d9 215.3px 216.6px,#faeae0 216.6px 217.9px,#e5eff4 217.9px 219.2px,#f6f7f7 219.2px 220.6px,#f8f3f0 220.6px 221.9px,#98c8e0 221.9px 223.2px,#4997c5 223.2px 224.5px,#9ecbe1 224.5px 225.8px,#b2d5e7 225.8px 227.2px,#bcdaea 227.2px 228.5px,#bddbea 228.5px 229.8px,#a3cee3 229.8px 231.1px,#a9d0e4 231.1px 232.5px,#8cc1dc 232.5px 233.8px,#81bad8 233.8px 235.1px,#89bfdb 235.1px 236.4px,#5fa4cc 236.4px 237.7px,#6cadd1 237.7px 239.1px,#70b0d2 239.1px 240.4px,#bad9e9 240.4px 241.7px,#98c8e0 241.7px 243.0px,#9dcbe1 243.0px 244.3px,#89bfdb 244.3px 245.7px,#7db8d7 245.7px 247.0px,#549dc9 247.0px 248.3px,#62a6cd 248.3px 249.6px,#549ec9 249.6px 250.9px,#4e9ac7 250.9px 252.3px,#74b2d4 252.3px 253.6px,#76b3d5 253.6px 254.9px,#90c4dd 254.9px 256.2px,#aad1e5 256.2px 257.5px,#7db8d7 257.5px 258.9px,#7fb9d7 258.9px 260.2px,#6bacd1 260.2px 261.5px,#80b9d8 261.5px 262.8px,#65a9cf 262.8px 264.1px,#4e9ac7 264.1px 265.5px,#61a6cd 265.5px 266.8px,#80bad8 266.8px 269.4px,#acd2e5 269.4px 270.8px,#5aa2cb 270.8px 272.1px,#89bfdb 272.1px 273.4px,#a8d0e4 273.4px 274.7px,#9ac9e0 274.7px 276.0px,#97c7df 276.0px 277.4px,#8fc3dd 277.4px 278.7px,#519cc8 278.7px 280.0px,#86bdda 280.0px 281.3px,#8cc1dc 281.3px 282.6px,#92c5de 282.6px 284.0px,#9dcae1 284.0px 285.3px,#5fa4cc 285.3px 286.6px,#88bfdb 286.6px 287.9px,#77b4d5 287.9px 289.2px,#6cadd1 289.2px 290.6px,#69abd0 290.6px 291.9px,#a3cee3 291.9px 293.2px,#9dcae1 293.2px 294.5px,#cde3ef 294.5px 295.8px,#9ac9e0 295.8px 297.2px,#aed3e6 297.2px 298.5px,#4595c4 298.5px 299.8px,#5ba2cb 299.8px 301.1px,#a7d0e4 301.1px 302.5px,#79b5d6 302.5px 303.8px,#8fc3dd 303.8px 305.1px,#87beda 305.1px 306.4px,#abd1e5 306.4px 307.7px,#83bcd9 307.7px 309.1px,#62a6cd 309.1px 310.4px,#84bcd9 310.4px 311.7px,#87beda 311.7px 313.0px,#7eb8d7 313.0px 314.3px,#8dc2dc 314.3px 315.7px,#78b5d5 315.7px 317.0px,#96c7df 317.0px 318.3px,#8dc2dc 318.3px 319.6px,#8cc1dc 319.6px 320.9px,#3783bb 320.9px 322.3px,#73b1d3 322.3px 323.6px,#60a6cd 323.6px 324.9px,#72b1d3 324.9px 326.2px,#8ec3dd 326.2px 327.5px,#6eaed2 327.5px 328.9px,#9ac9e0 328.9px 330.2px,#7cb7d7 330.2px 331.5px,#7db8d7 331.5px 332.8px,#80bad8 332.8px 334.1px,#6cadd1 334.1px 335.5px,#62a7ce 335.5px 336.8px,#77b4d5 336.8px 338.1px,#57a0ca 338.1px 339.4px,#66a9cf 339.4px 340.8px,#60a5cd 340.8px 342.1px,#77b4d5 342.1px 343.4px,#69abd0 343.4px 344.7px,#7cb7d6 344.7px 346.0px,#60a5cd 346.0px 347.4px,#61a6cd 347.4px 348.7px,#73b2d3 348.7px 350.0px,#6fafd2 350.0px 351.3px,#8fc3dd 351.3px 352.6px,#bfdceb 352.6px 354.0px,#c1ddeb 354.0px 355.3px,#7fb9d8 355.3px 356.6px,#93c6de 356.6px 357.9px,#91c4de 357.9px 359.2px,#7cb7d6 359.2px 360.6px,#88bfdb 360.6px 361.9px,#6eaed2 361.9px 363.2px,#79b5d5 363.2px 364.5px,#76b3d4 364.5px 365.8px,#75b3d4 365.8px 367.2px,#86beda 367.2px 368.5px,#97c8e0 368.5px 369.8px,#86beda 369.8px 371.1px,#93c5de 371.1px 372.4px,#aad1e5 372.4px 373.8px,#9ecbe2 373.8px 375.1px,#75b3d4 375.1px 376.4px,#74b2d4 376.4px 377.7px,#69abd0 377.7px 379.1px,#84bcd9 379.1px 380.4px,#77b4d5 380.4px 381.7px,#9fcce2 381.7px 383.0px,#7db8d7 383.0px 384.3px,#a2cde3 384.3px 385.7px,#83bbd9 385.7px 387.0px,#8dc2dc 387.0px 388.3px,#83bbd9 388.3px 389.6px,#71b0d3 389.6px 390.9px,#a5cfe3 390.9px 392.3px,#5aa2cb 392.3px 393.6px,#89bfdb 393.6px 394.9px,#b1d5e7 394.9px 396.2px,#add3e6 396.2px 397.5px,#b7d8e8 397.5px 398.9px,#92c5de 398.9px 400.2px,#529cc8 400.2px 401.5px,#a9d1e5 401.5px 402.8px,#99c8e0 402.8px 404.1px,#94c6df 404.1px 405.5px,#d1e5f0 405.5px 406.8px,#a3cee3 406.8px 408.1px,#92c5de 408.1px 409.4px,#6fafd2 409.4px 410.8px,#88bfdb 410.8px 412.1px,#91c4de 412.1px 413.4px,#87beda 413.4px 414.7px,#98c8e0 414.7px 416.0px,#8ec2dd 416.0px 417.4px,#79b5d6 417.4px 418.7px,#3581ba 418.7px 420.0px,#83bbd9 420.0px 421.3px,#95c6df 421.3px 422.6px,#c9e1ee 422.6px 424.0px,#97c7df 424.0px 425.3px,#6fafd2 425.3px 426.6px,#8ec3dd 426.6px 427.9px,#79b5d5 427.9px 429.2px,#76b3d5 429.2px 430.6px,#7fb9d8 430.6px 431.9px,#71b0d3 431.9px 433.2px,#9ccae1 433.2px 434.5px,#91c4de 434.5px 435.8px,#7cb7d7 435.8px 437.2px,#81bad8 437.2px 438.5px,#9dcae1 438.5px 439.8px,#8cc1dc 439.8px 441.1px,#72b1d3 441.1px 442.4px,#75b3d4 442.4px 443.8px,#7eb8d7 443.8px 445.1px,#90c4dd 445.1px 446.4px,#9ecbe1 446.4px 447.7px,#90c3dd 447.7px 449.1px,#b5d7e8 449.1px 450.4px,#98c8e0 450.4px 451.7px,#73b1d3 451.7px 453.0px,#4393c3 453.0px 454.3px,#82bbd8 454.3px 455.7px,#8ac0db 455.7px 457.0px,#7cb7d6 457.0px 458.3px,#61a6cd 458.3px 459.6px,#69abd0 459.6px 460.9px,#63a7ce 460.9px 462.3px,#7eb8d7 462.3px 463.6px,#86beda 463.6px 464.9px,#72b1d3 464.9px 466.2px,#87beda 466.2px 467.5px,#83bbd9 467.5px 468.9px,#78b5d5 468.9px 470.2px,#83bbd9 470.2px 471.5px,#7eb9d7 471.5px 472.8px,#90c4dd 472.8px 474.1px,#60a5cd 474.1px 475.5px,#82bbd8 475.5px 476.8px,#70afd2 476.8px 478.1px,#87beda 478.1px 479.4px,#7cb7d6 479.4px 480.8px,#94c6df 480.8px 482.1px,#a0cce2 482.1px 483.4px,#91c4de 483.4px 484.7px,#8bc0dc 484.7px 486.0px,#85bdd9 486.0px 487.4px,#7db8d7 487.4px 488.7px,#77b4d5 488.7px 490.0px,#78b5d5 490.0px 491.3px,#95c6df 491.3px 492.6px,#b0d4e7 492.6px 494.0px,#94c6de 494.0px 495.3px,#87beda 495.3px 496.6px,#8cc1dc 496.6px 497.9px,#7ab6d6 497.9px 499.2px,#9dcbe1 499.2px 500.6px,#7db8d7 500.6px 501.9px,#80bad8 501.9px 503.2px,#5da4cc 503.2px 504.5px,#7fb9d7 504.5px 505.8px,#82bbd8 505.8px 507.2px,#a5cfe3 507.2px 508.5px,#abd2e5 508.5px 509.8px,#93c5de 509.8px 511.1px,#8ac0db 511.1px 512.4px,#95c6df 512.4px 513.8px,#80b9d8 513.8px 515.1px,#78b4d5 515.1px 516.4px,#75b3d4 516.4px 517.7px,#78b5d5 517.7px 519.1px,#79b5d5 519.1px 520.4px,#78b4d5 520.4px 521.7px,#81bbd8 521.7px 523.0px,#93c5de 523.0px 524.3px,#8dc2dc 524.3px 525.7px,#76b3d4 525.7px 527.0px,#73b1d3 527.0px 529.6px,#79b5d5 529.6px 530.9px,#74b2d4 530.9px 532.3px,#79b5d6 532.3px 533.6px,#62a6cd 533.6px 534.9px,#72b1d3 534.9px 536.2px,#4f9bc7 536.2px 537.5px,#6cadd1 537.5px 538.9px,#aad1e5 538.9px 540.2px,#95c7df 540.2px 541.5px,#a7d0e4 541.5px 542.8px,#b2d5e7 542.8px 544.1px,#b0d4e7 544.1px 545.5px,#9ac9e0 545.5px 546.8px,#b0d4e7 546.8px 548.1px,#9dcbe1 548.1px 549.4px,#87beda 549.4px 550.8px,#9dcbe1 550.8px 552.1px,#94c6df 552.1px 553.4px,#76b3d4 553.4px 554.7px,#8dc2dc 554.7px 556.0px,#5da3cc 556.0px 557.4px,#6badd1 557.4px 558.7px,#7cb7d6 558.7px 560.0px,#a2cde3 560.0px 561.3px,#8dc2dc 561.3px 562.6px,#6eaed2 562.6px 564.0px,#69abd0 564.0px 565.3px,#7cb7d7 565.3px 566.6px,#6bacd1 566.6px 567.9px,#83bbd9 567.9px 569.2px,#7cb7d6 569.2px 570.6px,#67aacf 570.6px 571.9px,#5ea4cc 571.9px 573.2px,#7bb6d6 573.2px 574.5px,#6bacd1 574.5px 575.8px,#7eb9d7 575.8px 577.2px,#6bacd1 577.2px 578.5px,#96c7df 578.5px 579.8px,#6aacd0 579.8px 581.1px,#57a0ca 581.1px 582.4px,#88bfdb 582.4px 583.8px,#97c8df 583.8px 585.1px,#8dc2dc 585.1px 587.7px,#85bdd9 587.7px 589.1px,#8ac0db 589.1px 590.4px,#79b5d6 590.4px 591.7px,#9dcae1 591.7px 593.0px,#a0cce2 593.0px 595.7px,#7eb9d7 595.7px 597.0px,#69abd0 597.0px 598.3px,#85bdda 598.3px 599.6px,#79b5d5 599.6px 600.9px,#85bdda 600.9px 602.3px,#67aacf 602.3px 603.6px,#78b4d5 603.6px 604.9px,#5da4cc 604.9px 606.2px,#83bcd9 606.2px 607.5px,#60a5cd 607.5px 608.9px,#79b5d5 608.9px 610.2px,#6fafd2 610.2px 611.5px,#90c4dd 611.5px 612.8px,#8cc1dc 612.8px 614.1px,#80bad8 614.1px 615.5px,#8bc0db 615.5px 616.8px,#99c9e0 616.8px 618.1px,#82bbd9 618.1px 619.4px,#75b3d4 619.4px 620.7px,#64a8ce 620.7px 622.1px,#78b5d5 622.1px 623.4px,#6aabd0 623.4px 624.7px,#58a0ca 624.7px 626.0px,#84bcd9 626.0px 627.4px,#7cb7d6 627.4px 628.7px,#86bdda 628.7px 630.0px,#7fb9d8 630.0px 631.3px,#a8d0e4 631.3px 632.6px,#8fc3dd 632.6px 634.0px,#95c7df 634.0px 635.3px,#99c9e0 635.3px 636.6px,#6daed1 636.6px 637.9px,#81bad8 637.9px 639.2px,#79b5d5 639.2px 640.6px,#85bdda 640.6px 641.9px,#6eaed2 641.9px 643.2px,#65a8cf 643.2px 644.5px,#6badd1 644.5px 645.8px,#63a7ce 645.8px 647.2px,#6eaed2 647.2px 648.5px,#68abd0 648.5px 649.8px,#8cc1dc 649.8px 651.1px,#95c7df 651.1px 652.4px,#85bdda 652.4px 653.8px,#519cc8 653.8px 655.1px,#81bad8 655.1px 656.4px,#63a7ce 656.4px 657.7px,#8bc0db 657.7px 659.1px,#9ecbe1 659.1px 660.4px,#96c7df 660.4px 661.7px,#80bad8 661.7px 663.0px,#91c4de 663.0px 664.3px,#4695c4 664.3px 665.7px,#75b3d4 665.7px 667.0px,#86bdda 667.0px 668.3px,#87beda 668.3px 669.6px,#77b4d5 669.6px 670.9px,#93c6de 670.9px 672.3px,#7eb9d7 672.3px 673.6px,#b3d6e7 673.6px 674.9px)"></div>
<div class="hm" style="left:1122.79px;top:1717.9px;width:72.69px;height:674.9px;background:linear-gradient(#a3cee3 0.0px 1.3px,#a3cde3 1.3px 2.6px,#f9eee8 2.6px 4.0px,#f8f3f0 4.0px 5.3px,#f8f1ec 5.3px 6.6px,#f9ece4 6.6px 7.9px,#f8f3f0 7.9px 9.2px,#f9efea 9.2px 10.6px,#faebe2 10.6px 11.9px,#fae8de 11.9px 13.2px,#f9ebe3 13.2px 14.5px,#fbe6da 14.5px 15.8px,#fcd7c2 15.8px 17.2px,#fae7dc 17.2px 18.5px,#fdddcb 18.5px 19.8px,#f8f1ec 19.8px 21.1px,#faebe2 21.1px 22.5px,#fdddca 22.5px 23.8px,#fbe4d7 23.8px 25.1px,#faeae1 25.1px 26.4px,#f8f4f1 26.4px 27.7px,#f7f5f3 27.7px 29.1px,#f8f1ec 29.1px 30.4px,#d8e8f1 30.4px 31.7px,#f9ede6 31.7px 33.0px,#f8f2ee 33.0px 34.3px,#f1f4f6 34.3px 35.7px,#fbe5d8 35.7px 37.0px,#fbe4d7 37.0px 38.3px,#f9f0eb 38.3px 39.6px,#faebe2 39.6px 40.9px,#f4f6f6 40.9px 42.3px,#f8f2ee 42.3px 43.6px,#eaf1f5 43.6px 44.9px,#f8f2ee 44.9px 46.2px,#f9eee8 46.2px 47.5px,#fae7dc 47.5px 48.9px,#fce2d3 48.9px 50.2px,#f5f6f7 50.2px 51.5px,#f7f6f5 51.5px 52.8px,#f8f4f2 52.8px 54.2px,#f8f1ed 54.2px 55.5px,#f7f7f7 55.5px 56.8px,#fbe2d4 56.8px 58.1px,#deebf2 58.1px 59.4px,#f8f4f2 59.4px 60.8px,#b7d8e9 60.8px 62.1px,#b4d6e8 62.1px 63.4px,#b9d9e9 63.4px 66.0px,#a8d0e4 66.0px 67.4px,#b3d6e7 67.4px 68.7px,#aed3e6 68.7px 70.0px,#aad1e5 70.0px 71.3px,#bad9e9 71.3px 72.6px,#b5d7e8 72.6px 74.0px,#a7d0e4 74.0px 75.3px,#95c7df 75.3px 76.6px,#9ecbe1 76.6px 77.9px,#94c6df 77.9px 79.2px,#b8d8e9 79.2px 80.6px,#bfdceb 80.6px 81.9px,#abd2e5 81.9px 83.2px,#92c5de 83.2px 84.5px,#8cc1dc 84.5px 85.8px,#9ac9e0 85.8px 87.2px,#95c6df 87.2px 88.5px,#facab1 88.5px 89.8px,#f6b292 89.8px 91.1px,#f2a17f 91.1px 92.5px,#f6b495 92.5px 93.8px,#fdddca 93.8px 95.1px,#f6b191 95.1px 96.4px,#f09d7c 96.4px 97.7px,#de735b 97.7px 99.1px,#d7634f 99.1px 100.4px,#df755d 100.4px 101.7px,#de725b 101.7px 103.0px,#d55e4c 103.0px 104.3px,#de725b 104.3px 105.7px,#f7b698 105.7px 107.0px,#ec9274 107.0px 108.3px,#ea8f71 108.3px 109.6px,#ec9374 109.6px 110.9px,#eb9172 110.9px 112.3px,#e58368 112.3px 113.6px,#e27b62 113.6px 114.9px,#f19f7d 114.9px 116.2px,#ee9777 116.2px 117.5px,#fce1d2 117.5px 118.9px,#fae9df 118.9px 120.2px,#fddcc8 120.2px 121.5px,#d76350 121.5px 122.8px,#da6954 122.8px 124.1px,#de735c 124.1px 125.5px,#dc6e58 125.5px 126.8px,#db6b56 126.8px 128.1px,#de735c 128.1px 129.4px,#d86651 129.4px 130.8px,#db6c56 130.8px 132.1px,#e7876b 132.1px 133.4px,#e17960 133.4px 134.7px,#e48166 134.7px 136.0px,#e98b6e 136.0px 137.4px,#ed9475 137.4px 138.7px,#ed9576 138.7px 140.0px,#f4a481 140.0px 141.3px,#f3a280 141.3px 142.6px,#f19e7d 142.6px 144.0px,#f4a684 144.0px 145.3px,#f8f4f1 145.3px 146.6px,#faeae0 146.6px 147.9px,#f9eee8 147.9px 150.6px,#f6f7f7 150.6px 151.9px,#f1f4f6 151.9px 154.5px,#f8bda0 154.5px 155.8px,#f8bea2 155.8px 157.2px,#f7b698 157.2px 158.5px,#f7ba9d 158.5px 159.8px,#f6b394 159.8px 161.1px,#f7b99b 161.1px 162.5px,#fbcfb8 162.5px 163.8px,#facab2 163.8px 165.1px,#f8c0a4 165.1px 166.4px,#fbcfb7 166.4px 167.7px,#fac9b0 167.7px 169.1px,#f8bfa4 169.1px 170.4px,#f6b495 170.4px 171.7px,#f8bc9f 171.7px 173.0px,#f7b99b 173.0px 174.3px,#f6b495 174.3px 175.7px,#f3a381 175.7px 177.0px,#f5aa89 177.0px 178.3px,#f6af8f 178.3px 179.6px,#f5a987 179.6px 180.9px,#f4a582 180.9px 182.3px,#ed9475 182.3px 183.6px,#e8886c 183.6px 184.9px,#ec9475 184.9px 186.2px,#ec9273 186.2px 187.5px,#ed9676 187.5px 188.9px,#ef9a79 188.9px 190.2px,#f09c7b 190.2px 191.5px,#ef9979 191.5px 192.8px,#ee9878 192.8px 194.1px,#f4a784 194.1px 195.5px,#f5a886 195.5px 196.8px,#f9ede6 196.8px 198.1px,#f9eee7 198.1px 199.4px,#fae8dc 199.4px 200.8px,#f8f2ee 200.8px 202.1px,#f9ede6 202.1px 203.4px,#fce0cf 203.4px 204.7px,#fae9df 204.7px 206.0px,#fbe7db 206.0px 207.4px,#e27d63 207.4px 208.7px,#df765e 208.7px 210.0px,#de725b 210.0px 211.3px,#f4a683 211.3px 212.6px,#e98c6f 212.6px 214.0px,#eb9173 214.0px 215.3px,#dc6d57 215.3px 216.6px,#ef9979 216.6px 217.9px,#e37e64 217.9px 219.2px,#db6c56 219.2px 220.6px,#e0785f 220.6px 221.9px,#e7886b 221.9px 223.2px,#e58267 223.2px 224.5px,#ce4f45 224.5px 225.8px,#bc2d35 225.8px 227.2px,#c53f3d 227.2px 228.5px,#d05347 228.5px 229.8px,#d55e4c 229.8px 231.1px,#cf5246 231.1px 232.5px,#93c5de 232.5px 233.8px,#82bbd9 233.8px 235.1px,#72b1d3 235.1px 236.4px,#88bfdb 236.4px 237.7px,#8ec3dd 237.7px 239.1px,#73b2d4 239.1px 240.4px,#69abd0 240.4px 241.7px,#95c6df 241.7px 243.0px,#8ac0db 243.0px 244.3px,#a9d1e5 244.3px 245.7px,#4f9bc7 245.7px 247.0px,#2c74b3 247.0px 248.3px,#4896c5 248.3px 249.6px,#4e9ac7 249.6px 250.9px,#4795c4 250.9px 252.3px,#59a1cb 252.3px 253.6px,#5ea4cc 253.6px 254.9px,#408fc1 254.9px 256.2px,#569fca 256.2px 257.5px,#569fc9 257.5px 258.9px,#81bad8 258.9px 260.2px,#8cc1dc 260.2px 261.5px,#77b4d5 261.5px 262.8px,#8dc2dc 262.8px 264.1px,#70b0d2 264.1px 265.5px,#96c7df 265.5px 266.8px,#93c5de 266.8px 268.1px,#8ec3dd 268.1px 269.4px,#92c5de 269.4px 270.8px,#9bcae1 270.8px 272.1px,#8ec2dc 272.1px 273.4px,#73b1d3 273.4px 274.7px,#71b0d3 274.7px 276.0px,#8cc1dc 276.0px 277.4px,#97c7df 277.4px 278.7px,#80b9d8 278.7px 280.0px,#abd1e5 280.0px 281.3px,#9ecbe2 281.3px 282.6px,#99c9e0 282.6px 284.0px,#a4cee3 284.0px 285.3px,#96c7df 285.3px 286.6px,#7ab6d6 286.6px 287.9px,#8ec3dd 287.9px 289.2px,#95c7df 289.2px 290.6px,#8bc1dc 290.6px 291.9px,#7eb9d7 291.9px 293.2px,#8ac0db 293.2px 294.5px,#7cb7d6 294.5px 295.8px,#7bb7d6 295.8px 297.2px,#5ea4cc 297.2px 298.5px,#80b9d8 298.5px 299.8px,#8cc1dc 299.8px 301.1px,#97c7df 301.1px 302.5px,#80b9d8 302.5px 303.8px,#7ab6d6 303.8px 305.1px,#72b1d3 305.1px 306.4px,#98c8e0 306.4px 307.7px,#70b0d2 307.7px 309.1px,#9bc9e0 309.1px 310.4px,#77b4d5 310.4px 311.7px,#62a6cd 311.7px 313.0px,#7bb7d6 313.0px 314.3px,#84bcd9 314.3px 315.7px,#69abd0 315.7px 317.0px,#aed3e6 317.0px 318.3px,#64a8ce 318.3px 319.6px,#81bad8 319.6px 320.9px,#7bb6d6 320.9px 322.3px,#4f9ac7 322.3px 323.6px,#60a6cd 323.6px 324.9px,#8ec3dd 324.9px 326.2px,#4f9bc7 326.2px 327.5px,#6daed1 327.5px 328.9px,#97c8e0 328.9px 330.2px,#86beda 330.2px 331.5px,#7cb7d6 331.5px 332.8px,#85bdda 332.8px 334.1px,#89bfdb 334.1px 335.5px,#a4cee3 335.5px 336.8px,#99c9e0 336.8px 338.1px,#6fafd2 338.1px 339.4px,#89bfdb 339.4px 340.8px,#62a6cd 340.8px 342.1px,#79b5d5 342.1px 343.4px,#8bc0db 343.4px 344.7px,#85bdda 344.7px 346.0px,#78b5d5 346.0px 347.4px,#74b2d4 347.4px 348.7px,#539dc8 348.7px 350.0px,#62a6ce 350.0px 351.3px,#7fb9d8 351.3px 352.6px,#a0cce2 352.6px 354.0px,#74b2d4 354.0px 355.3px,#7eb8d7 355.3px 356.6px,#8ac0db 356.6px 357.9px,#4190c1 357.9px 359.2px,#80bad8 359.2px 360.6px,#73b1d3 360.6px 361.9px,#9ac9e0 361.9px 363.2px,#83bcd9 363.2px 364.5px,#65a8cf 364.5px 365.8px,#7bb6d6 365.8px 367.2px,#c8e0ed 367.2px 368.5px,#6aabd0 368.5px 369.8px,#87beda 369.8px 371.1px,#95c7df 371.1px 372.4px,#3c8abe 372.4px 373.8px,#8dc2dc 373.8px 375.1px,#559ec9 375.1px 376.4px,#95c7df 376.4px 377.7px,#96c7df 377.7px 379.1px,#a6cfe4 379.1px 380.4px,#acd2e5 380.4px 381.7px,#aad1e5 381.7px 383.0px,#98c8e0 383.0px 384.3px,#6eaed2 384.3px 385.7px,#98c8e0 385.7px 387.0px,#abd2e5 387.0px 388.3px,#a6cfe4 388.3px 389.6px,#d2e6f0 389.6px 390.9px,#deebf2 390.9px 392.3px,#a1cde2 392.3px 393.6px,#bad9e9 393.6px 394.9px,#6fafd2 394.9px 396.2px,#5ca3cb 396.2px 397.5px,#74b2d4 397.5px 398.9px,#4a98c5 398.9px 400.2px,#70afd2 400.2px 401.5px,#8dc2dc 401.5px 404.1px,#76b3d4 404.1px 405.5px,#6aabd0 405.5px 406.8px,#64a8ce 406.8px 408.1px,#4494c3 408.1px 409.4px,#559ec9 409.4px 410.8px,#81bad8 410.8px 412.1px,#76b3d4 412.1px 413.4px,#74b2d4 413.4px 414.7px,#6aabd0 414.7px 416.0px,#75b3d4 416.0px 417.4px,#86bdda 417.4px 418.7px,#67aacf 418.7px 420.0px,#acd2e5 420.0px 421.3px,#62a6cd 421.3px 422.6px,#73b1d3 422.6px 424.0px,#88bfdb 424.0px 425.3px,#7eb9d7 425.3px 426.6px,#7db8d7 426.6px 427.9px,#519cc8 427.9px 429.2px,#6bacd1 429.2px 430.6px,#5aa2cb 430.6px 431.9px,#66a9cf 431.9px 433.2px,#72b1d3 433.2px 434.5px,#65a8cf 434.5px 435.8px,#4997c5 435.8px 437.2px,#93c6de 437.2px 438.5px,#83bbd9 438.5px 439.8px,#7ab6d6 439.8px 441.1px,#95c6df 441.1px 442.4px,#6eaed2 442.4px 443.8px,#59a1cb 443.8px 445.1px,#4f9ac7 445.1px 446.4px,#60a5cd 446.4px 447.7px,#72b1d3 447.7px 449.1px,#67aacf 449.1px 450.4px,#62a6cd 450.4px 451.7px,#65a9cf 451.7px 453.0px,#3e8dc0 453.0px 454.3px,#5ca3cc 454.3px 455.7px,#64a8ce 455.7px 457.0px,#62a6cd 457.0px 458.3px,#7db8d7 458.3px 459.6px,#81bad8 459.6px 460.9px,#77b4d5 460.9px 462.3px,#7db8d7 462.3px 463.6px,#6bacd1 463.6px 464.9px,#9dcbe1 464.9px 466.2px,#86beda 466.2px 467.5px,#97c8e0 467.5px 468.9px,#7bb7d6 468.9px 470.2px,#79b5d6 470.2px 471.5px,#8ac0db 471.5px 472.8px,#8fc3dd 472.8px 474.1px,#b1d5e7 474.1px 475.5px,#8fc3dd 475.5px 476.8px,#80bad8 476.8px 478.1px,#9bc9e0 478.1px 479.4px,#76b3d4 479.4px 480.8px,#81bad8 480.8px 483.4px,#84bcd9 483.4px 484.7px,#88bfdb 484.7px 486.0px,#6bacd1 486.0px 487.4px,#7fb9d7 487.4px 488.7px,#8cc1dc 488.7px 490.0px,#99c9e0 490.0px 491.3px,#8fc3dd 491.3px 492.6px,#87beda 492.6px 494.0px,#add3e6 494.0px 495.3px,#91c4de 495.3px 496.6px,#86beda 496.6px 497.9px,#82bbd9 497.9px 499.2px,#74b2d4 499.2px 500.6px,#7fb9d8 500.6px 501.9px,#9ac9e0 501.9px 503.2px,#87beda 503.2px 504.5px,#78b4d5 504.5px 505.8px,#85bdd9 505.8px 507.2px,#94c6df 507.2px 508.5px,#c2ddec 508.5px 509.8px,#7eb8d7 509.8px 511.1px,#61a6cd 511.1px 512.4px,#92c5de 512.4px 513.8px,#72b1d3 513.8px 515.1px,#7fb9d7 515.1px 516.4px,#69abd0 516.4px 517.7px,#64a8ce 517.7px 519.1px,#529cc8 519.1px 520.4px,#6eaed2 520.4px 521.7px,#96c7df 521.7px 523.0px,#abd2e5 523.0px 524.3px,#7db8d7 524.3px 525.7px,#a4cee3 525.7px 527.0px,#85bdd9 527.0px 528.3px,#9bcae1 528.3px 529.6px,#75b3d4 529.6px 530.9px,#85bdda 530.9px 532.3px,#75b3d4 532.3px 533.6px,#b2d5e7 533.6px 534.9px,#a4cee3 534.9px 536.2px,#acd2e5 536.2px 537.5px,#99c8e0 537.5px 538.9px,#97c8df 538.9px 540.2px,#7fb9d8 540.2px 541.5px,#6aabd0 541.5px 542.8px,#85bdda 542.8px 544.1px,#81bbd8 544.1px 545.5px,#9dcbe1 545.5px 546.8px,#8dc2dc 546.8px 548.1px,#96c7df 548.1px 549.4px,#6fafd2 549.4px 550.8px,#96c7df 550.8px 552.1px,#7bb7d6 552.1px 553.4px,#83bcd9 553.4px 554.7px,#75b3d4 554.7px 556.0px,#74b2d4 556.0px 557.4px,#94c6df 557.4px 558.7px,#94c6de 558.7px 560.0px,#7cb7d7 560.0px 561.3px,#8dc2dc 561.3px 562.6px,#97c7df 562.6px 564.0px,#63a7ce 564.0px 565.3px,#8fc3dd 565.3px 566.6px,#5fa5cd 566.6px 567.9px,#6daed1 567.9px 569.2px,#90c4dd 569.2px 570.6px,#94c6df 570.6px 571.9px,#87beda 571.9px 573.2px,#9ecbe2 573.2px 574.5px,#73b2d4 574.5px 575.8px,#7eb8d7 575.8px 577.2px,#9bcae1 577.2px 578.5px,#83bbd9 578.5px 579.8px,#90c4dd 579.8px 581.1px,#79b5d6 581.1px 582.4px,#93c6de 582.4px 583.8px,#95c7df 583.8px 585.1px,#92c5de 585.1px 586.4px,#96c7df 586.4px 587.7px,#93c6de 587.7px 589.1px,#94c6de 589.1px 590.4px,#7db8d7 590.4px 591.7px,#78b4d5 591.7px 593.0px,#7bb7d6 593.0px 594.3px,#90c4dd 594.3px 595.7px,#77b4d5 595.7px 597.0px,#8ac0db 597.0px 598.3px,#71b0d3 598.3px 599.6px,#4795c4 599.6px 600.9px,#4594c4 600.9px 602.3px,#4393c3 602.3px 603.6px,#579fca 603.6px 604.9px,#58a0ca 604.9px 606.2px,#72b1d3 606.2px 607.5px,#84bcd9 607.5px 608.9px,#69abd0 608.9px 610.2px,#a2cde2 610.2px 611.5px,#8dc2dc 611.5px 612.8px,#83bcd9 612.8px 614.1px,#7bb6d6 614.1px 615.5px,#70afd2 615.5px 616.8px,#89c0db 616.8px 618.1px,#88bfdb 618.1px 619.4px,#75b2d4 619.4px 620.7px,#73b1d3 620.7px 622.1px,#6fafd2 622.1px 623.4px,#59a1cb 623.4px 624.7px,#60a5cd 624.7px 626.0px,#87beda 626.0px 627.4px,#6badd1 627.4px 628.7px,#81bad8 628.7px 630.0px,#69abd0 630.0px 631.3px,#8ac0db 631.3px 632.6px,#6fafd2 632.6px 634.0px,#98c8e0 634.0px 635.3px,#86bdda 635.3px 636.6px,#81bad8 636.6px 637.9px,#96c7df 637.9px 639.2px,#66a9cf 639.2px 640.6px,#58a0ca 640.6px 641.9px,#6aacd0 641.9px 643.2px,#8bc0dc 643.2px 644.5px,#84bcd9 644.5px 645.8px,#a6cfe4 645.8px 647.2px,#9bc9e0 647.2px 648.5px,#9ac9e0 648.5px 649.8px,#7db8d7 649.8px 651.1px,#83bcd9 651.1px 652.4px,#9ecbe1 652.4px 653.8px,#63a7ce 653.8px 655.1px,#4594c4 655.1px 656.4px,#74b2d4 656.4px 657.7px,#83bbd9 657.7px 659.1px,#7db8d7 659.1px 660.4px,#71b0d3 660.4px 661.7px,#62a7ce 661.7px 663.0px,#70afd2 663.0px 664.3px,#65a9cf 664.3px 665.7px,#8bc1dc 665.7px 667.0px,#8ec3dd 667.0px 668.3px,#7bb6d6 668.3px 669.6px,#8fc3dd 669.6px 670.9px,#66a9cf 670.9px 672.3px,#63a8ce 672.3px 673.6px,#82bbd8 673.6px 674.9px)"></div>
<div class="hm" style="left:1195.08px;top:1717.9px;width:72.69px;height:674.9px;background:linear-gradient(#d45d4b 0.0px 1.3px,#c6dfed 1.3px 2.6px,#bcdaea 2.6px 4.0px,#a1cde2 4.0px 5.3px,#afd4e6 5.3px 6.6px,#c2ddec 6.6px 7.9px,#93c6de 7.9px 9.2px,#a5cfe3 9.2px 10.6px,#c7e0ed 10.6px 11.9px,#a8d0e4 11.9px 13.2px,#a4cee3 13.2px 14.5px,#f7b89a 14.5px 15.8px,#f2a07e 15.8px 17.2px,#e37e64 17.2px 18.5px,#ee9677 18.5px 19.8px,#f3a381 19.8px 21.1px,#e27c62 21.1px 22.5px,#e27c63 22.5px 23.8px,#e58267 23.8px 25.1px,#eb9072 25.1px 26.4px,#e27c63 26.4px 27.7px,#f9eee8 27.7px 29.1px,#faebe2 29.1px 31.7px,#fcdecc 31.7px 33.0px,#fbccb4 33.0px 34.3px,#fddac6 34.3px 35.7px,#fce2d3 35.7px 37.0px,#fbe2d3 37.0px 38.3px,#f9ece4 38.3px 39.6px,#f9eee7 39.6px 40.9px,#fce0cf 40.9px 42.3px,#f09b7b 42.3px 43.6px,#fcdecc 43.6px 44.9px,#fcdfcd 44.9px 46.2px,#fce2d3 46.2px 47.5px,#fae8dd 47.5px 48.9px,#f8f4f1 48.9px 50.2px,#faeae1 50.2px 51.5px,#f8f1ec 51.5px 54.2px,#f9ece4 54.2px 55.5px,#fbe6d9 55.5px 56.8px,#fbe4d7 56.8px 58.1px,#fbe3d5 58.1px 59.4px,#fae9df 59.4px 60.8px,#a9d1e5 60.8px 62.1px,#c3deec 62.1px 63.4px,#afd4e6 63.4px 64.7px,#c2deec 64.7px 66.0px,#b8d8e9 66.0px 68.7px,#faebe3 68.7px 70.0px,#fbe3d6 70.0px 71.3px,#f9ede6 71.3px 72.6px,#ebf1f5 72.6px 74.0px,#f5f6f7 74.0px 76.6px,#f9eee8 76.6px 77.9px,#ecf2f5 77.9px 79.2px,#f8f1ed 79.2px 80.6px,#f8f0eb 80.6px 81.9px,#fce0cf 81.9px 83.2px,#f9eee7 83.2px 84.5px,#f8f1ec 84.5px 85.8px,#f6f7f7 85.8px 87.2px,#f8f3f1 87.2px 88.5px,#f9efe9 88.5px 89.8px,#f8f2ef 89.8px 91.1px,#f8f0eb 91.1px 92.5px,#fae7dc 92.5px 93.8px,#faebe2 93.8px 95.1px,#fdddca 95.1px 96.4px,#f9eee7 96.4px 97.7px,#faebe2 97.7px 99.1px,#f8f2ee 99.1px 100.4px,#f8f1ed 100.4px 101.7px,#f9efe9 101.7px 103.0px,#fae9de 103.0px 104.3px,#fce1d2 104.3px 105.7px,#f9ede5 105.7px 107.0px,#fcdfce 107.0px 108.3px,#f7f5f4 108.3px 109.6px,#fbe6d9 109.6px 110.9px,#faebe3 110.9px 112.3px,#fdddca 112.3px 113.6px,#facab1 113.6px 114.9px,#fcd5bf 114.9px 116.2px,#fbe4d6 116.2px 117.5px,#fbe2d3 117.5px 118.9px,#fbe3d5 118.9px 120.2px,#e7eff4 120.2px 121.5px,#ecf2f5 121.5px 122.8px,#ebf1f5 122.8px 124.1px,#f0f3f6 124.1px 125.5px,#f2f5f6 125.5px 126.8px,#e1edf3 126.8px 128.1px,#fae9df 128.1px 129.4px,#f8f4f2 129.4px 130.8px,#f6f7f7 130.8px 132.1px,#f7f7f6 132.1px 133.4px,#f1f4f6 133.4px 134.7px,#f0f4f6 134.7px 136.0px,#dfecf3 136.0px 137.4px,#e2edf3 137.4px 138.7px,#edf2f5 138.7px 140.0px,#f9eee8 140.0px 141.3px,#f8f5f3 141.3px 142.6px,#bcdaea 142.6px 144.0px,#bedbeb 144.0px 145.3px,#98c8e0 145.3px 146.6px,#b5d7e8 146.6px 147.9px,#dae9f2 147.9px 149.2px,#b5d7e8 149.2px 150.6px,#e1ecf3 150.6px 151.9px,#dbeaf2 151.9px 153.2px,#cce2ef 153.2px 154.5px,#d6e8f1 154.5px 155.8px,#e3eef3 155.8px 157.2px,#cfe4f0 157.2px 158.5px,#e0ecf3 158.5px 159.8px,#e2edf3 159.8px 161.1px,#e1ecf3 161.1px 162.5px,#cfe4f0 162.5px 163.8px,#9ccae1 163.8px 165.1px,#9fcce2 165.1px 166.4px,#d8e8f1 166.4px 167.7px,#e5eef4 167.7px 169.1px,#e6eff4 169.1px 170.4px,#e2edf3 170.4px 171.7px,#fbd1ba 171.7px 173.0px,#fbd0b9 173.0px 174.3px,#fbe3d5 174.3px 175.7px,#fbe2d4 175.7px 177.0px,#cee4ef 177.0px 178.3px,#d2e5f0 178.3px 179.6px,#d8e8f1 179.6px 180.9px,#f8f2ef 180.9px 182.3px,#dceaf2 182.3px 183.6px,#edf2f5 183.6px 184.9px,#e7eff4 184.9px 186.2px,#dfebf3 186.2px 187.5px,#d4e7f1 187.5px 188.9px,#d2e5f0 188.9px 190.2px,#d3e6f0 190.2px 191.5px,#fae9e0 191.5px 192.8px,#ebf1f5 192.8px 194.1px,#d4e6f0 194.1px 195.5px,#d8e8f1 195.5px 196.8px,#d4e6f1 196.8px 198.1px,#d5e7f1 198.1px 199.4px,#deebf2 199.4px 200.8px,#e1edf3 200.8px 202.1px,#d7e8f1 202.1px 203.4px,#ddebf2 203.4px 204.7px,#e2edf3 204.7px 206.0px,#eaf1f5 206.0px 207.4px,#e2edf3 207.4px 208.7px,#d7e8f1 208.7px 210.0px,#d3e6f0 210.0px 211.3px,#dae9f2 211.3px 212.6px,#d9e9f1 212.6px 214.0px,#e5eef4 214.0px 215.3px,#f4f6f7 215.3px 216.6px,#d9e9f1 216.6px 217.9px,#d7e8f1 217.9px 219.2px,#92c5de 219.2px 220.6px,#dae9f2 220.6px 221.9px,#d4e7f1 221.9px 223.2px,#d5e7f1 223.2px 225.8px,#e5eef4 225.8px 227.2px,#ddebf2 227.2px 231.1px,#e3edf3 231.1px 232.5px,#7eb8d7 232.5px 233.8px,#6fafd2 233.8px 235.1px,#64a8ce 235.1px 236.4px,#3f8dc0 236.4px 237.7px,#79b5d6 237.7px 239.1px,#549ec9 239.1px 240.4px,#64a8ce 240.4px 241.7px,#58a1ca 241.7px 243.0px,#62a7ce 243.0px 244.3px,#4695c4 244.3px 245.7px,#5da3cc 245.7px 247.0px,#509bc7 247.0px 248.3px,#60a5cd 248.3px 249.6px,#68aad0 249.6px 250.9px,#70afd2 250.9px 252.3px,#559ec9 252.3px 253.6px,#549ec9 253.6px 254.9px,#69abd0 254.9px 256.2px,#83bbd9 256.2px 257.5px,#70afd2 257.5px 258.9px,#82bbd9 258.9px 260.2px,#74b2d4 260.2px 261.5px,#82bbd8 261.5px 262.8px,#7bb6d6 262.8px 264.1px,#91c4de 264.1px 265.5px,#7eb8d7 265.5px 266.8px,#75b2d4 266.8px 268.1px,#9ac9e0 268.1px 269.4px,#81bad8 269.4px 270.8px,#76b3d4 270.8px 272.1px,#8ec3dd 272.1px 273.4px,#86beda 273.4px 274.7px,#3783bb 274.7px 276.0px,#8ec3dd 276.0px 277.4px,#59a1ca 277.4px 278.7px,#8ac0db 278.7px 280.0px,#89bfdb 280.0px 281.3px,#85bdd9 281.3px 282.6px,#9ccae1 282.6px 284.0px,#8ec2dd 284.0px 285.3px,#5ea4cc 285.3px 286.6px,#7bb7d6 286.6px 287.9px,#83bcd9 287.9px 289.2px,#6cadd1 289.2px 290.6px,#a9d1e5 290.6px 291.9px,#95c7df 291.9px 293.2px,#94c6de 293.2px 294.5px,#89bfdb 294.5px 295.8px,#83bcd9 295.8px 297.2px,#67a9cf 297.2px 298.5px,#c4deec 298.5px 299.8px,#80b9d8 299.8px 301.1px,#549ec9 301.1px 302.5px,#92c5de 302.5px 303.8px,#a0cce2 303.8px 305.1px,#65a9cf 305.1px 306.4px,#96c7df 306.4px 307.7px,#bad9e9 307.7px 309.1px,#b9d9e9 309.1px 310.4px,#a1cde2 310.4px 311.7px,#c6dfed 311.7px 313.0px,#b5d7e8 313.0px 314.3px,#b9d9e9 314.3px 315.7px,#3f8dc0 315.7px 317.0px,#94c6df 317.0px 318.3px,#8ec3dd 318.3px 319.6px,#7fb9d8 319.6px 320.9px,#a3cde3 320.9px 322.3px,#87beda 322.3px 323.6px,#bddbea 323.6px 324.9px,#7fb9d8 324.9px 326.2px,#63a7ce 326.2px 327.5px,#9bcae1 327.5px 328.9px,#9ac9e0 328.9px 330.2px,#95c6df 330.2px 331.5px,#6aacd0 331.5px 332.8px,#85bdd9 332.8px 334.1px,#6eaed2 334.1px 335.5px,#c0dceb 335.5px 336.8px,#7ab6d6 336.8px 338.1px,#80bad8 338.1px 339.4px,#8ac0db 339.4px 340.8px,#70b0d2 340.8px 342.1px,#8ec3dd 342.1px 343.4px,#a3cee3 343.4px 344.7px,#90c4dd 344.7px 346.0px,#81bad8 346.0px 347.4px,#bbdaea 347.4px 348.7px,#7fb9d8 348.7px 350.0px,#a3cee3 350.0px 351.3px,#91c5de 351.3px 354.0px,#95c6df 354.0px 355.3px,#8cc1dc 355.3px 356.6px,#81bad8 356.6px 357.9px,#89bfdb 357.9px 359.2px,#87beda 359.2px 360.6px,#9ccae1 360.6px 361.9px,#a5cfe3 361.9px 363.2px,#8bc0dc 363.2px 364.5px,#88bfdb 364.5px 365.8px,#b0d4e6 365.8px 367.2px,#97c7df 367.2px 368.5px,#a3cee3 368.5px 369.8px,#85bdda 369.8px 371.1px,#8cc1dc 371.1px 372.4px,#91c5de 372.4px 373.8px,#8bc1dc 373.8px 375.1px,#8fc3dd 375.1px 376.4px,#96c7df 376.4px 377.7px,#9ecbe1 377.7px 379.1px,#78b5d5 379.1px 380.4px,#8fc3dd 380.4px 381.7px,#68abd0 381.7px 383.0px,#6aabd0 383.0px 384.3px,#89bfdb 384.3px 385.7px,#4796c5 385.7px 387.0px,#79b5d6 387.0px 388.3px,#69abd0 388.3px 389.6px,#4f9ac7 389.6px 390.9px,#aed3e6 390.9px 392.3px,#61a6cd 392.3px 393.6px,#63a7ce 393.6px 394.9px,#67aacf 394.9px 396.2px,#529dc8 396.2px 397.5px,#60a6cd 397.5px 398.9px,#66a9cf 398.9px 400.2px,#559ec9 400.2px 401.5px,#59a1ca 401.5px 402.8px,#76b3d4 402.8px 404.1px,#4695c4 404.1px 405.5px,#4d99c6 405.5px 406.8px,#74b2d4 406.8px 408.1px,#4b98c6 408.1px 409.4px,#69abd0 409.4px 410.8px,#5aa2cb 410.8px 412.1px,#529dc8 412.1px 413.4px,#6fafd2 413.4px 414.7px,#5fa5cd 414.7px 416.0px,#5ba2cb 416.0px 417.4px,#519cc8 417.4px 418.7px,#3784bb 418.7px 420.0px,#60a5cd 420.0px 421.3px,#6cadd1 421.3px 422.6px,#66a9cf 422.6px 424.0px,#79b5d5 424.0px 425.3px,#85bdda 425.3px 426.6px,#62a7ce 426.6px 427.9px,#63a7ce 427.9px 429.2px,#4c99c6 429.2px 430.6px,#66a9cf 430.6px 431.9px,#6dadd1 431.9px 433.2px,#65a9cf 433.2px 434.5px,#5ba2cb 434.5px 435.8px,#519cc8 435.8px 437.2px,#68aad0 437.2px 438.5px,#6badd1 438.5px 439.8px,#74b2d4 439.8px 441.1px,#7cb7d6 441.1px 442.4px,#7ab6d6 442.4px 443.8px,#86bdda 443.8px 445.1px,#64a8ce 445.1px 446.4px,#7cb7d6 446.4px 447.7px,#67aacf 447.7px 449.1px,#58a0ca 449.1px 450.4px,#5da3cc 450.4px 451.7px,#71b0d3 451.7px 453.0px,#5aa1cb 453.0px 454.3px,#62a7ce 454.3px 455.7px,#4191c2 455.7px 457.0px,#82bbd9 457.0px 458.3px,#94c6df 458.3px 459.6px,#72b0d3 459.6px 460.9px,#91c5de 460.9px 462.3px,#84bcd9 462.3px 463.6px,#60a5cd 463.6px 464.9px,#7db8d7 464.9px 466.2px,#89c0db 466.2px 467.5px,#70afd2 467.5px 468.9px,#6bacd1 468.9px 470.2px,#5fa5cd 470.2px 471.5px,#6bacd1 471.5px 472.8px,#74b2d4 472.8px 474.1px,#a7cfe4 474.1px 475.5px,#78b5d5 475.5px 476.8px,#8dc2dc 476.8px 478.1px,#8bc0db 478.1px 479.4px,#6daed1 479.4px 480.8px,#5ea4cc 480.8px 482.1px,#8dc2dc 482.1px 483.4px,#91c4de 483.4px 484.7px,#a0cce2 484.7px 487.4px,#9dcbe1 487.4px 488.7px,#68abd0 488.7px 490.0px,#a9d1e5 490.0px 491.3px,#a2cde3 491.3px 492.6px,#91c4de 492.6px 494.0px,#88bfdb 494.0px 495.3px,#8cc1dc 495.3px 496.6px,#6eaed2 496.6px 497.9px,#70b0d3 497.9px 499.2px,#84bcd9 499.2px 500.6px,#7cb7d6 500.6px 501.9px,#7db8d7 501.9px 503.2px,#81bad8 503.2px 504.5px,#5ea4cc 504.5px 505.8px,#6daed1 505.8px 507.2px,#3e8cbf 507.2px 508.5px,#82bbd9 508.5px 509.8px,#90c4dd 509.8px 511.1px,#acd2e5 511.1px 512.4px,#a4cee3 512.4px 513.8px,#93c5de 513.8px 515.1px,#7cb7d7 515.1px 516.4px,#8cc1dc 516.4px 517.7px,#6eaed2 517.7px 519.1px,#70afd2 519.1px 520.4px,#91c5de 520.4px 521.7px,#b8d8e9 521.7px 523.0px,#aad1e5 523.0px 524.3px,#b3d6e7 524.3px 525.7px,#a7d0e4 525.7px 527.0px,#63a7ce 527.0px 528.3px,#58a0ca 528.3px 529.6px,#72b1d3 529.6px 530.9px,#5fa5cc 530.9px 532.3px,#61a6cd 532.3px 533.6px,#6eaed2 533.6px 534.9px,#569fc9 534.9px 536.2px,#549ec9 536.2px 537.5px,#4695c4 537.5px 538.9px,#4e9ac7 538.9px 540.2px,#65a9cf 540.2px 541.5px,#7bb6d6 541.5px 542.8px,#87beda 542.8px 544.1px,#62a7ce 544.1px 545.5px,#77b4d5 545.5px 546.8px,#6cadd1 546.8px 548.1px,#3f8dc0 548.1px 549.4px,#65a8cf 549.4px 550.8px,#66a9cf 550.8px 552.1px,#5ba2cb 552.1px 553.4px,#60a6cd 553.4px 554.7px,#4e9ac7 554.7px 556.0px,#4a97c5 556.0px 557.4px,#70afd2 557.4px 558.7px,#82bbd9 558.7px 560.0px,#79b5d6 560.0px 561.3px,#81bad8 561.3px 562.6px,#317cb7 562.6px 564.0px,#58a0ca 564.0px 565.3px,#4d99c6 565.3px 566.6px,#64a8ce 566.6px 567.9px,#6cadd1 567.9px 569.2px,#60a5cd 569.2px 570.6px,#559fc9 570.6px 571.9px,#60a6cd 571.9px 573.2px,#4a98c6 573.2px 574.5px,#78b5d5 574.5px 575.8px,#7fb9d8 575.8px 577.2px,#98c8e0 577.2px 578.5px,#90c4dd 578.5px 579.8px,#8cc1dc 579.8px 581.1px,#88bfdb 581.1px 582.4px,#7bb7d6 582.4px 583.8px,#4f9ac7 583.8px 585.1px,#4c99c6 585.1px 586.4px,#4896c5 586.4px 587.7px,#8ac0db 587.7px 589.1px,#7eb8d7 589.1px 590.4px,#83bbd9 590.4px 591.7px,#6cadd1 591.7px 593.0px,#8ac0db 593.0px 594.3px,#94c6de 594.3px 595.7px,#3b88bd 595.7px 597.0px,#3985bc 597.0px 598.3px,#65a8ce 598.3px 599.6px,#67aacf 599.6px 600.9px,#69abd0 600.9px 602.3px,#67aacf 602.3px 603.6px,#3a87bd 603.6px 604.9px,#3a86bd 604.9px 606.2px,#4896c5 606.2px 607.5px,#337eb8 607.5px 608.9px,#3e8cc0 608.9px 610.2px,#5ba2cb 610.2px 611.5px,#4594c4 611.5px 612.8px,#61a6cd 612.8px 614.1px,#84bcd9 614.1px 615.5px,#74b2d4 615.5px 616.8px,#8dc2dc 616.8px 618.1px,#81bad8 618.1px 619.4px,#7bb7d6 619.4px 620.7px,#89c0db 620.7px 622.1px,#67aacf 622.1px 623.4px,#74b2d4 623.4px 624.7px,#7fb9d7 624.7px 626.0px,#92c5de 626.0px 627.4px,#66a9cf 627.4px 628.7px,#4292c2 628.7px 630.0px,#83bcd9 630.0px 631.3px,#58a0ca 631.3px 632.6px,#62a6cd 632.6px 634.0px,#66a9cf 634.0px 635.3px,#5aa1cb 635.3px 636.6px,#5ca3cc 636.6px 639.2px,#6aacd0 639.2px 640.6px,#93c6de 640.6px 641.9px,#c7e0ed 641.9px 643.2px,#4e9ac7 643.2px 644.5px,#78b5d5 644.5px 645.8px,#6eaed2 645.8px 647.2px,#b5d7e8 647.2px 648.5px,#92c5de 648.5px 649.8px,#8ec2dd 649.8px 651.1px,#74b2d4 651.1px 652.4px,#85bdda 652.4px 653.8px,#74b2d4 653.8px 655.1px,#78b5d5 655.1px 656.4px,#66a9cf 656.4px 657.7px,#5ca3cc 657.7px 659.1px,#3e8dc0 659.1px 660.4px,#4997c5 660.4px 661.7px,#5ca3cc 661.7px 663.0px,#72b1d3 663.0px 664.3px,#7ab6d6 664.3px 665.7px,#7bb7d6 665.7px 667.0px,#72b1d3 667.0px 668.3px,#6aacd0 668.3px 669.6px,#4a97c5 669.6px 670.9px,#57a0ca 670.9px 672.3px,#69abd0 672.3px 673.6px,#62a7ce 673.6px 674.9px)"></div>
<div class="hm" style="left:1267.36px;top:1717.9px;width:72.69px;height:674.9px;background:linear-gradient(#d6604d 0.0px 1.3px,#c94641 1.3px 2.6px,#df745d 2.6px 4.0px,#d96753 4.0px 5.3px,#d25749 5.3px 6.6px,#d05548 6.6px 7.9px,#d86551 7.9px 9.2px,#e0765e 9.2px 10.6px,#d96652 10.6px 11.9px,#ea8f71 11.9px 13.2px,#c2deec 13.2px 14.5px,#d6e7f1 14.5px 15.8px,#d7e8f1 15.8px 17.2px,#cce3ef 17.2px 18.5px,#e0ecf3 18.5px 21.1px,#ddebf2 21.1px 22.5px,#e5eff4 22.5px 23.8px,#d1e5f0 23.8px 25.1px,#d0e5f0 25.1px 26.4px,#d8e8f1 26.4px 27.7px,#dceaf2 27.7px 29.1px,#d7e8f1 29.1px 30.4px,#e3eef3 30.4px 31.7px,#dceaf2 31.7px 33.0px,#dfecf3 33.0px 34.3px,#c9e1ee 34.3px 35.7px,#dae9f2 35.7px 37.0px,#d6e7f1 37.0px 38.3px,#e5eef4 38.3px 39.6px,#f0f4f6 39.6px 40.9px,#dceaf2 40.9px 42.3px,#d5e7f1 42.3px 44.9px,#dfebf2 44.9px 46.2px,#e7eff4 46.2px 47.5px,#b5d7e8 47.5px 48.9px,#dfecf3 48.9px 50.2px,#e3eef3 50.2px 51.5px,#d4e6f0 51.5px 52.8px,#85bdda 52.8px 54.2px,#d8e8f1 54.2px 55.5px,#dae9f2 55.5px 56.8px,#d5e7f1 56.8px 58.1px,#dae9f2 58.1px 59.4px,#d7e8f1 59.4px 60.8px,#c8e1ee 60.8px 62.1px,#abd1e5 62.1px 63.4px,#bddbea 63.4px 64.7px,#b2d5e7 64.7px 66.0px,#afd4e6 66.0px 67.4px,#bedbea 67.4px 68.7px,#b1d5e7 68.7px 70.0px,#add3e6 70.0px 71.3px,#acd2e6 71.3px 72.6px,#add3e6 72.6px 74.0px,#b9d9e9 74.0px 75.3px,#cfe4ef 75.3px 76.6px,#cae2ee 76.6px 77.9px,#d4e7f1 77.9px 79.2px,#b0d4e6 79.2px 80.6px,#e0775f 80.6px 81.9px,#f9c3a9 81.9px 83.2px,#e98c6f 83.2px 84.5px,#fcd2bc 84.5px 85.8px,#f9c5aa 85.8px 87.2px,#f6b393 87.2px 88.5px,#f9c2a7 88.5px 89.8px,#f7b89a 89.8px 91.1px,#f7b596 91.1px 92.5px,#f9c1a5 92.5px 93.8px,#bcdaea 93.8px 95.1px,#c3deec 95.1px 96.4px,#cee3ef 96.4px 97.7px,#a8d0e4 97.7px 99.1px,#aed3e6 99.1px 100.4px,#a8d0e4 100.4px 101.7px,#9ecbe2 101.7px 103.0px,#9dcbe1 103.0px 104.3px,#9fcce2 104.3px 105.7px,#9dcae1 105.7px 107.0px,#add3e6 107.0px 108.3px,#b3d6e8 108.3px 109.6px,#b3d6e7 109.6px 110.9px,#b1d5e7 110.9px 112.3px,#bad9ea 112.3px 113.6px,#bddbea 113.6px 114.9px,#d9e9f1 114.9px 116.2px,#d1e5f0 116.2px 117.5px,#d2e5f0 117.5px 118.9px,#c3deec 118.9px 120.2px,#a1cde2 120.2px 122.8px,#d1e5f0 122.8px 125.5px,#e2edf3 125.5px 126.8px,#d6e7f1 126.8px 128.1px,#cde3ef 128.1px 129.4px,#d7e8f1 129.4px 130.8px,#d9e9f1 130.8px 132.1px,#d2e6f0 132.1px 133.4px,#d4e7f1 133.4px 134.7px,#bddbea 134.7px 136.0px,#b4d6e8 136.0px 137.4px,#c8e0ed 137.4px 138.7px,#d9e9f1 138.7px 140.0px,#cee4ef 140.0px 141.3px,#d2e5f0 141.3px 142.6px,#b5d7e8 142.6px 144.0px,#bbdaea 144.0px 145.3px,#afd4e6 145.3px 146.6px,#b7d8e8 146.6px 147.9px,#b1d5e7 147.9px 149.2px,#87beda 149.2px 150.6px,#559ec9 150.6px 151.9px,#8bc0db 151.9px 153.2px,#b2d5e7 153.2px 154.5px,#9ecbe1 154.5px 155.8px,#90c4dd 155.8px 157.2px,#cae1ee 157.2px 158.5px,#a6cfe4 158.5px 159.8px,#bddbea 159.8px 161.1px,#c7e0ed 161.1px 162.5px,#95c6df 162.5px 163.8px,#a4cee3 163.8px 165.1px,#91c4de 165.1px 166.4px,#6fafd2 166.4px 167.7px,#93c6de 167.7px 169.1px,#9dcbe1 169.1px 170.4px,#b1d5e7 170.4px 171.7px,#aed3e6 171.7px 173.0px,#a3cee3 173.0px 174.3px,#add3e6 174.3px 175.7px,#fbceb7 175.7px 177.0px,#f8ba9d 177.0px 178.3px,#f6b393 178.3px 179.6px,#f6af8f 179.6px 180.9px,#f9c5ab 180.9px 182.3px,#f6b090 182.3px 183.6px,#f8c0a4 183.6px 184.9px,#f9c4aa 184.9px 186.2px,#f8f3f0 186.2px 187.5px,#fac8af 187.5px 188.9px,#fcd8c3 188.9px 190.2px,#fbcdb5 190.2px 191.5px,#fcd2bc 191.5px 192.8px,#f7b99c 192.8px 194.1px,#facab1 194.1px 195.5px,#fac8ae 195.5px 196.8px,#f5ae8d 196.8px 198.1px,#f4a784 198.1px 199.4px,#f3a280 199.4px 200.8px,#f7b89a 200.8px 202.1px,#f5ab8a 202.1px 203.4px,#f5aa89 203.4px 204.7px,#fddbc7 204.7px 206.0px,#fbe6da 206.0px 207.4px,#faeae0 207.4px 208.7px,#f7f5f3 208.7px 210.0px,#fac7ae 210.0px 211.3px,#eef3f5 211.3px 212.6px,#faebe3 212.6px 214.0px,#f7f5f3 214.0px 215.3px,#f4f5f6 215.3px 216.6px,#f8f1ed 216.6px 217.9px,#f7f5f4 217.9px 219.2px,#e2edf3 219.2px 220.6px,#eff3f5 220.6px 221.9px,#e0775f 221.9px 223.2px,#fdddcb 223.2px 224.5px,#f8ba9d 224.5px 225.8px,#fbccb4 225.8px 227.2px,#f9ede6 227.2px 228.5px,#fdddcb 228.5px 229.8px,#fce1d2 229.8px 231.1px,#faeae1 231.1px 232.5px,#91c4de 232.5px 233.8px,#7db8d7 233.8px 235.1px,#92c5de 235.1px 236.4px,#7ab6d6 236.4px 237.7px,#8ac0db 237.7px 239.1px,#74b2d4 239.1px 240.4px,#7ab5d6 240.4px 241.7px,#7cb7d6 241.7px 243.0px,#7ab6d6 243.0px 244.3px,#84bcd9 244.3px 245.7px,#dceaf2 245.7px 248.3px,#e2edf3 248.3px 249.6px,#e4eef3 249.6px 250.9px,#dceaf2 250.9px 252.3px,#e0ecf3 252.3px 253.6px,#e3edf3 253.6px 254.9px,#d9e9f2 254.9px 256.2px,#d9e9f1 256.2px 257.5px,#c3deec 257.5px 258.9px,#d4e7f1 258.9px 260.2px,#a5cfe3 260.2px 261.5px,#b8d9e9 261.5px 262.8px,#b7d8e9 262.8px 264.1px,#93c5de 264.1px 265.5px,#b0d4e7 265.5px 266.8px,#a5cfe4 266.8px 268.1px,#a5cfe3 268.1px 269.4px,#a1cde2 269.4px 270.8px,#cfe4f0 270.8px 272.1px,#afd4e6 272.1px 273.4px,#badaea 273.4px 274.7px,#b2d5e7 274.7px 276.0px,#bcdaea 276.0px 277.4px,#a9d1e5 277.4px 278.7px,#9ecbe1 278.7px 280.0px,#8dc2dc 280.0px 281.3px,#a3cee3 281.3px 282.6px,#9fcce2 282.6px 284.0px,#ddeaf2 284.0px 285.3px,#f2f4f6 285.3px 286.6px,#f3f5f6 286.6px 287.9px,#e3edf3 287.9px 289.2px,#e6eff4 289.2px 290.6px,#a6cfe4 290.6px 291.9px,#a7d0e4 291.9px 293.2px,#85bdda 293.2px 294.5px,#b6d8e8 294.5px 295.8px,#a1cce2 295.8px 297.2px,#95c6df 297.2px 298.5px,#8cc1dc 298.5px 299.8px,#84bcd9 299.8px 301.1px,#7ab6d6 301.1px 302.5px,#95c6df 302.5px 303.8px,#9fcce2 303.8px 305.1px,#aad1e5 305.1px 306.4px,#9ccae1 306.4px 307.7px,#b5d7e8 307.7px 309.1px,#9ccae1 309.1px 310.4px,#78b4d5 310.4px 311.7px,#96c7df 311.7px 313.0px,#72b1d3 313.0px 314.3px,#4695c4 314.3px 315.7px,#a5cfe3 315.7px 317.0px,#a9d1e5 317.0px 318.3px,#b5d7e8 318.3px 319.6px,#94c6df 319.6px 320.9px,#b0d4e7 320.9px 322.3px,#98c8e0 322.3px 323.6px,#8bc1dc 323.6px 324.9px,#a5cfe3 324.9px 326.2px,#bad9e9 326.2px 327.5px,#9ecbe1 327.5px 328.9px,#72b1d3 328.9px 330.2px,#a6cfe4 330.2px 331.5px,#9ecbe2 331.5px 332.8px,#b0d4e7 332.8px 334.1px,#a7d0e4 334.1px 335.5px,#9ccae1 335.5px 336.8px,#bedbea 336.8px 338.1px,#9dcbe1 338.1px 339.4px,#b6d7e8 339.4px 340.8px,#9bcae1 340.8px 342.1px,#a6cfe4 342.1px 343.4px,#9fcce2 343.4px 344.7px,#93c6de 344.7px 346.0px,#d1e5f0 346.0px 347.4px,#b6d7e8 347.4px 348.7px,#a3cee3 348.7px 350.0px,#9fcce2 350.0px 351.3px,#afd4e6 351.3px 352.6px,#bedbea 352.6px 354.0px,#a5cee3 354.0px 355.3px,#97c8e0 355.3px 356.6px,#acd2e5 356.6px 357.9px,#c0dceb 357.9px 359.2px,#a4cee3 359.2px 360.6px,#97c8e0 360.6px 361.9px,#9fcce2 361.9px 363.2px,#add3e6 363.2px 364.5px,#79b5d5 364.5px 365.8px,#a3cee3 365.8px 367.2px,#88beda 367.2px 368.5px,#a3cee3 368.5px 369.8px,#9ecbe2 369.8px 371.1px,#8ec2dd 371.1px 372.4px,#abd2e5 372.4px 373.8px,#add3e6 373.8px 375.1px,#dae9f2 375.1px 376.4px,#dceaf2 376.4px 377.7px,#cfe4ef 377.7px 379.1px,#cee4ef 379.1px 380.4px,#a0cce2 380.4px 381.7px,#a7d0e4 381.7px 383.0px,#91c4de 383.0px 384.3px,#92c5de 384.3px 385.7px,#b7d8e8 385.7px 387.0px,#8fc3dd 387.0px 388.3px,#95c7df 388.3px 389.6px,#a0cce2 389.6px 390.9px,#a1cde2 390.9px 392.3px,#b1d5e7 392.3px 393.6px,#b3d6e7 393.6px 394.9px,#a9d1e5 394.9px 396.2px,#90c4dd 396.2px 397.5px,#b9d9e9 397.5px 398.9px,#76b3d4 398.9px 400.2px,#85bdd9 400.2px 401.5px,#80bad8 401.5px 402.8px,#99c8e0 402.8px 404.1px,#79b5d6 404.1px 405.5px,#6badd1 405.5px 406.8px,#b6d7e8 406.8px 408.1px,#dae9f2 408.1px 409.4px,#92c5de 409.4px 410.8px,#cfe4ef 410.8px 412.1px,#c6dfed 412.1px 413.4px,#d2e6f0 413.4px 414.7px,#c4deec 414.7px 416.0px,#dae9f2 416.0px 417.4px,#c2ddec 417.4px 418.7px,#bcdbea 418.7px 420.0px,#c8e0ed 420.0px 421.3px,#c0dceb 421.3px 422.6px,#b6d7e8 422.6px 424.0px,#abd2e5 424.0px 425.3px,#c1ddeb 425.3px 426.6px,#c2deec 426.6px 427.9px,#e0ecf3 427.9px 429.2px,#f4f6f6 429.2px 430.6px,#c9e1ee 430.6px 431.9px,#e2edf3 431.9px 433.2px,#d6e7f1 433.2px 434.5px,#c8e1ee 434.5px 435.8px,#d6e7f1 435.8px 437.2px,#8ec2dc 437.2px 438.5px,#83bcd9 438.5px 439.8px,#84bcd9 439.8px 441.1px,#8bc1dc 441.1px 442.4px,#8cc1dc 442.4px 443.8px,#66a9cf 443.8px 445.1px,#87beda 445.1px 446.4px,#85bdda 446.4px 447.7px,#d6e7f1 447.7px 449.1px,#c2deec 449.1px 450.4px,#c6e0ed 450.4px 451.7px,#d8e8f1 451.7px 453.0px,#acd2e6 453.0px 454.3px,#d8e8f1 454.3px 455.7px,#b3d6e8 455.7px 457.0px,#69abd0 457.0px 458.3px,#8ac0db 458.3px 459.6px,#7ab6d6 459.6px 460.9px,#8ac0db 460.9px 462.3px,#75b2d4 462.3px 463.6px,#87beda 463.6px 464.9px,#6fafd2 464.9px 466.2px,#6cadd1 466.2px 467.5px,#7eb9d7 467.5px 468.9px,#94c6df 468.9px 470.2px,#9ac9e0 470.2px 471.5px,#a3cee3 471.5px 472.8px,#a8d0e4 472.8px 474.1px,#9ecbe1 474.1px 475.5px,#83bcd9 475.5px 476.8px,#96c7df 476.8px 478.1px,#a1cde2 478.1px 479.4px,#98c8e0 479.4px 480.8px,#a7d0e4 480.8px 482.1px,#84bcd9 482.1px 483.4px,#7fb9d7 483.4px 484.7px,#7ab6d6 484.7px 486.0px,#73b2d3 486.0px 487.4px,#60a5cd 487.4px 488.7px,#6bacd1 488.7px 490.0px,#70afd2 490.0px 491.3px,#83bbd9 491.3px 492.6px,#78b5d5 492.6px 494.0px,#5aa1cb 494.0px 495.3px,#8bc1dc 495.3px 496.6px,#f0f4f6 496.6px 497.9px,#a0cce2 497.9px 499.2px,#83bcd9 499.2px 500.6px,#81bad8 500.6px 501.9px,#9bcae1 501.9px 503.2px,#89bfdb 503.2px 504.5px,#a2cde3 504.5px 505.8px,#96c7df 505.8px 507.2px,#add3e6 507.2px 508.5px,#a4cee3 508.5px 509.8px,#91c4de 509.8px 511.1px,#b3d6e7 511.1px 512.4px,#9ecbe2 512.4px 513.8px,#a4cee3 513.8px 515.1px,#84bcd9 515.1px 516.4px,#94c6df 516.4px 517.7px,#b3d6e7 517.7px 519.1px,#b1d5e7 519.1px 520.4px,#a9d1e5 520.4px 521.7px,#add3e6 521.7px 523.0px,#a1cde2 523.0px 524.3px,#a2cde3 524.3px 525.7px,#bbdaea 525.7px 527.0px,#bedbeb 527.0px 528.3px,#a2cde2 528.3px 529.6px,#96c7df 529.6px 530.9px,#afd4e6 530.9px 532.3px,#a1cce2 532.3px 533.6px,#b2d5e7 533.6px 534.9px,#a4cee3 534.9px 536.2px,#8cc1dc 536.2px 537.5px,#b4d7e8 537.5px 538.9px,#98c8e0 538.9px 540.2px,#91c4de 540.2px 541.5px,#75b3d4 541.5px 542.8px,#d6e7f1 542.8px 544.1px,#a2cde2 544.1px 545.5px,#87beda 545.5px 546.8px,#94c6de 546.8px 548.1px,#7bb6d6 548.1px 549.4px,#87beda 549.4px 550.8px,#a1cce2 550.8px 552.1px,#9bc9e1 552.1px 553.4px,#aad1e5 553.4px 554.7px,#b3d6e7 554.7px 556.0px,#aed3e6 556.0px 557.4px,#a6cfe4 557.4px 558.7px,#a9d1e5 558.7px 560.0px,#a1cce2 560.0px 561.3px,#b9d9e9 561.3px 562.6px,#c9e1ee 562.6px 564.0px,#86bdda 564.0px 565.3px,#8ac0db 565.3px 566.6px,#9ac9e0 566.6px 567.9px,#9dcbe1 567.9px 569.2px,#a2cde3 569.2px 570.6px,#75b2d4 570.6px 571.9px,#d6e7f1 571.9px 573.2px,#98c8e0 573.2px 574.5px,#bedbea 574.5px 575.8px,#97c8df 575.8px 577.2px,#a8d0e4 577.2px 578.5px,#a0cce2 578.5px 579.8px,#8dc2dc 579.8px 581.1px,#89bfdb 581.1px 582.4px,#7fb9d7 582.4px 583.8px,#5ca3cb 583.8px 585.1px,#8dc2dc 585.1px 586.4px,#92c5de 586.4px 587.7px,#d8e8f1 587.7px 589.1px,#c5dfed 589.1px 590.4px,#e2edf3 590.4px 591.7px,#c2ddec 591.7px 593.0px,#d4e6f1 593.0px 594.3px,#e3edf3 594.3px 595.7px,#b5d7e8 595.7px 597.0px,#89bfdb 597.0px 598.3px,#60a6cd 598.3px 599.6px,#63a7ce 599.6px 600.9px,#87beda 600.9px 602.3px,#9fcce2 602.3px 603.6px,#97c7df 603.6px 604.9px,#8cc1dc 604.9px 606.2px,#93c6de 606.2px 607.5px,#aad1e5 607.5px 608.9px,#d0e4f0 608.9px 610.2px,#97c8df 610.2px 611.5px,#90c3dd 611.5px 612.8px,#8cc1dc 612.8px 614.1px,#92c5de 614.1px 615.5px,#88bfdb 615.5px 616.8px,#a2cde3 616.8px 618.1px,#9fcbe2 618.1px 619.4px,#c0dceb 619.4px 620.7px,#a5cee3 620.7px 622.1px,#c2ddec 622.1px 623.4px,#b9d9e9 623.4px 624.7px,#bddbea 624.7px 626.0px,#b7d8e9 626.0px 627.4px,#acd2e5 627.4px 628.7px,#a1cde2 628.7px 630.0px,#89bfdb 630.0px 631.3px,#98c8e0 631.3px 632.6px,#aad1e5 632.6px 634.0px,#acd2e5 634.0px 636.6px,#a2cde2 636.6px 637.9px,#d9e9f1 637.9px 639.2px,#a0cce2 639.2px 640.6px,#77b4d5 640.6px 641.9px,#93c6de 641.9px 643.2px,#286fb1 643.2px 644.5px,#5ca3cb 644.5px 645.8px,#8bc1dc 645.8px 647.2px,#67aacf 647.2px 648.5px,#8dc2dc 648.5px 649.8px,#9dcae1 649.8px 651.1px,#559ec9 651.1px 652.4px,#a9d0e4 652.4px 653.8px,#8cc1dc 653.8px 655.1px,#66a9cf 655.1px 656.4px,#539dc8 656.4px 657.7px,#6aacd0 657.7px 659.1px,#7fb9d8 659.1px 660.4px,#99c9e0 660.4px 661.7px,#b5d7e8 661.7px 663.0px,#9dcbe1 663.0px 665.7px,#67aacf 665.7px 667.0px,#5aa1cb 667.0px 668.3px,#8bc0dc 668.3px 669.6px,#a5cfe3 669.6px 670.9px,#98c8e0 670.9px 672.3px,#9bcae1 672.3px 673.6px,#b2d5e7 673.6px 674.9px)"></div>
<div class="hm" style="left:1339.65px;top:1717.9px;width:72.69px;height:674.9px;background:linear-gradient(#79b5d6 0.0px 1.3px,#94c6df 1.3px 2.6px,#67aacf 2.6px 4.0px,#5aa2cb 4.0px 5.3px,#4a97c5 5.3px 6.6px,#70b0d2 6.6px 7.9px,#7eb8d7 7.9px 9.2px,#73b2d4 9.2px 10.6px,#9bc9e0 10.6px 11.9px,#bad9ea 11.9px 13.2px,#fcd3bd 13.2px 14.5px,#bfdceb 14.5px 15.8px,#8bc1dc 15.8px 17.2px,#65a8cf 17.2px 18.5px,#9ac9e0 18.5px 19.8px,#8fc3dd 19.8px 21.1px,#81bbd8 21.1px 22.5px,#6fafd2 22.5px 23.8px,#7cb7d6 23.8px 25.1px,#89c0db 25.1px 26.4px,#a0cce2 26.4px 27.7px,#66a9cf 27.7px 29.1px,#509bc7 29.1px 30.4px,#8bc0db 30.4px 31.7px,#9fcce2 31.7px 33.0px,#337eb8 33.0px 34.3px,#95c7df 34.3px 35.7px,#9bcae1 35.7px 37.0px,#99c9e0 37.0px 38.3px,#b9d9e9 38.3px 39.6px,#98c8e0 39.6px 40.9px,#6cadd1 40.9px 42.3px,#6fafd2 42.3px 43.6px,#66a9cf 43.6px 44.9px,#4695c4 44.9px 46.2px,#98c8e0 46.2px 47.5px,#aad1e5 47.5px 48.9px,#99c9e0 48.9px 50.2px,#67aacf 50.2px 51.5px,#63a7ce 51.5px 52.8px,#80bad8 52.8px 54.2px,#86bdda 54.2px 55.5px,#84bcd9 55.5px 56.8px,#66a9cf 56.8px 58.1px,#91c4de 58.1px 59.4px,#5da4cc 59.4px 60.8px,#94c6df 60.8px 62.1px,#b0d4e6 62.1px 63.4px,#b6d7e8 63.4px 64.7px,#acd2e5 64.7px 66.0px,#c1ddec 66.0px 67.4px,#a4cee3 67.4px 68.7px,#62a6ce 68.7px 70.0px,#5aa1cb 70.0px 71.3px,#91c4de 71.3px 72.6px,#4a97c5 72.6px 74.0px,#60a5cd 74.0px 75.3px,#3f8ec0 75.3px 76.6px,#559fc9 76.6px 77.9px,#539dc8 77.9px 80.6px,#59a1cb 80.6px 81.9px,#6fafd2 81.9px 83.2px,#80b9d8 83.2px 84.5px,#8fc3dd 84.5px 85.8px,#65a9cf 85.8px 87.2px,#96c7df 87.2px 88.5px,#a7d0e4 88.5px 89.8px,#b0d4e7 89.8px 91.1px,#94c6df 91.1px 92.5px,#d7e8f1 92.5px 93.8px,#cbe2ee 93.8px 95.1px,#e6eff4 95.1px 96.4px,#bddbea 96.4px 97.7px,#d6e7f1 97.7px 99.1px,#aad1e5 99.1px 100.4px,#e0ecf3 100.4px 101.7px,#d4e7f1 101.7px 103.0px,#e7f0f4 103.0px 104.3px,#d7e8f1 104.3px 105.7px,#d1e5f0 105.7px 107.0px,#c0dceb 107.0px 108.3px,#bcdaea 108.3px 109.6px,#bfdceb 109.6px 110.9px,#bcdaea 110.9px 112.3px,#afd4e6 112.3px 113.6px,#a9d0e4 113.6px 114.9px,#bbdaea 114.9px 116.2px,#bddbea 116.2px 117.5px,#afd4e6 117.5px 118.9px,#7cb7d6 118.9px 120.2px,#90c4dd 120.2px 121.5px,#98c8e0 121.5px 122.8px,#8ec3dd 122.8px 124.1px,#9ccae1 124.1px 125.5px,#73b1d3 125.5px 126.8px,#91c4de 126.8px 128.1px,#b3d6e7 128.1px 129.4px,#96c7df 129.4px 130.8px,#a5cfe3 130.8px 132.1px,#9ac9e0 132.1px 134.7px,#64a8ce 134.7px 136.0px,#7cb7d6 136.0px 137.4px,#73b1d3 137.4px 138.7px,#75b3d4 138.7px 140.0px,#6cadd1 140.0px 141.3px,#4f9bc7 141.3px 142.6px,#aed3e6 142.6px 144.0px,#68aad0 144.0px 145.3px,#6eaed2 145.3px 146.6px,#7ab6d6 146.6px 147.9px,#6cadd1 147.9px 149.2px,#94c6df 149.2px 150.6px,#97c7df 150.6px 151.9px,#67aacf 151.9px 153.2px,#5fa4cc 153.2px 154.5px,#95c7df 154.5px 155.8px,#99c9e0 155.8px 157.2px,#b6d8e8 157.2px 158.5px,#8dc2dc 158.5px 159.8px,#9ac9e0 159.8px 161.1px,#58a0ca 161.1px 163.8px,#78b4d5 163.8px 165.1px,#5ea4cc 165.1px 166.4px,#9ccae1 166.4px 167.7px,#2b73b3 167.7px 169.1px,#75b3d4 169.1px 170.4px,#96c7df 170.4px 171.7px,#62a7ce 171.7px 173.0px,#6dadd1 173.0px 174.3px,#509bc7 174.3px 175.7px,#79b5d5 175.7px 177.0px,#4b98c6 177.0px 178.3px,#61a6cd 178.3px 179.6px,#bfdceb 179.6px 180.9px,#6dadd1 180.9px 182.3px,#86bdda 182.3px 183.6px,#7db8d7 183.6px 184.9px,#88bfdb 184.9px 186.2px,#6bacd1 186.2px 187.5px,#3884bb 187.5px 188.9px,#64a8ce 188.9px 190.2px,#93c5de 190.2px 191.5px,#7ab6d6 191.5px 192.8px,#6eaed2 192.8px 194.1px,#bcdaea 194.1px 195.5px,#7fb9d7 195.5px 196.8px,#93c6de 196.8px 198.1px,#9fcbe2 198.1px 199.4px,#68abd0 199.4px 200.8px,#a1cde2 200.8px 202.1px,#aed3e6 202.1px 203.4px,#afd3e6 203.4px 204.7px,#bfdceb 204.7px 206.0px,#acd2e5 206.0px 207.4px,#78b5d5 207.4px 208.7px,#85bdda 208.7px 210.0px,#86bdda 210.0px 211.3px,#67aacf 211.3px 212.6px,#72b1d3 212.6px 214.0px,#579fca 214.0px 215.3px,#559ec9 215.3px 216.6px,#4292c3 216.6px 217.9px,#4b98c6 217.9px 219.2px,#62a6cd 219.2px 220.6px,#8cc1dc 220.6px 221.9px,#78b5d5 221.9px 223.2px,#73b1d3 223.2px 224.5px,#7db8d7 224.5px 225.8px,#95c6df 225.8px 227.2px,#79b5d6 227.2px 228.5px,#5ca3cc 228.5px 229.8px,#c2ddec 229.8px 231.1px,#74b2d4 231.1px 232.5px,#fbe2d4 232.5px 233.8px,#fae7db 233.8px 235.1px,#faebe3 235.1px 236.4px,#fcd6c1 236.4px 237.7px,#f9ece5 237.7px 239.1px,#aad1e5 239.1px 240.4px,#afd4e6 240.4px 241.7px,#dfebf3 241.7px 243.0px,#dfecf3 243.0px 244.3px,#ddebf2 244.3px 245.7px,#e0ecf3 245.7px 247.0px,#e2edf3 247.0px 248.3px,#fae7dc 248.3px 250.9px,#fbe2d3 250.9px 252.3px,#f9ede6 252.3px 253.6px,#f9ece3 253.6px 254.9px,#f9eee7 254.9px 256.2px,#f09b7a 256.2px 257.5px,#ed9475 257.5px 258.9px,#f5ac8b 258.9px 260.2px,#f19f7d 260.2px 261.5px,#f09c7b 261.5px 262.8px,#afd4e6 262.8px 264.1px,#c0dceb 264.1px 265.5px,#e9f1f4 265.5px 266.8px,#f4f6f6 266.8px 268.1px,#f6f7f7 268.1px 269.4px,#e9f0f4 269.4px 270.8px,#eef3f5 270.8px 272.1px,#e7f0f4 272.1px 273.4px,#eef3f5 273.4px 274.7px,#fbe2d4 274.7px 276.0px,#fbe5d9 276.0px 277.4px,#f9efea 277.4px 278.7px,#fbe3d4 278.7px 280.0px,#eff3f5 280.0px 281.3px,#e5eff4 281.3px 282.6px,#eaf1f5 282.6px 284.0px,#d4e6f1 284.0px 285.3px,#c1ddec 285.3px 286.6px,#f8f1ec 286.6px 287.9px,#fddbc8 287.9px 289.2px,#fcdfce 289.2px 290.6px,#fbe3d5 290.6px 291.9px,#f9ece4 291.9px 293.2px,#f8f1ed 293.2px 294.5px,#fae7db 294.5px 295.8px,#fbe3d5 295.8px 297.2px,#fbd1bb 297.2px 298.5px,#fddcc9 298.5px 299.8px,#fdddca 299.8px 301.1px,#faeae1 301.1px 302.5px,#faeae0 302.5px 303.8px,#fdd8c4 303.8px 305.1px,#fddbc8 305.1px 306.4px,#fcdecc 306.4px 307.7px,#fcd3bd 307.7px 309.1px,#fbe3d4 309.1px 310.4px,#fbe5d9 310.4px 311.7px,#fce2d3 311.7px 313.0px,#fce0d0 313.0px 314.3px,#fce2d3 314.3px 315.7px,#fce2d2 315.7px 317.0px,#fbe4d7 317.0px 318.3px,#fbd0b9 318.3px 319.6px,#f6b191 319.6px 320.9px,#f9c1a5 320.9px 322.3px,#f9c3a9 322.3px 323.6px,#f5ab8a 323.6px 324.9px,#f6af8f 324.9px 326.2px,#f6b191 326.2px 327.5px,#ef9a7a 327.5px 328.9px,#f8f4f1 328.9px 330.2px,#f9ece4 330.2px 331.5px,#f6f6f7 331.5px 332.8px,#f7f7f7 332.8px 334.1px,#f9f0eb 334.1px 335.5px,#f7f5f4 335.5px 336.8px,#f8f3f1 336.8px 338.1px,#f7f6f6 338.1px 339.4px,#e6eff4 339.4px 340.8px,#e8f0f4 340.8px 343.4px,#e3eef3 343.4px 344.7px,#f2f5f6 344.7px 346.0px,#f5f6f7 346.0px 347.4px,#b9d9e9 347.4px 348.7px,#c0dceb 348.7px 350.0px,#d5e7f1 350.0px 351.3px,#e2edf3 351.3px 352.6px,#c8e0ed 352.6px 354.0px,#a6cfe4 354.0px 355.3px,#f6f7f7 355.3px 356.6px,#dae9f2 356.6px 357.9px,#deebf2 357.9px 359.2px,#d8e8f1 359.2px 360.6px,#dbeaf2 360.6px 361.9px,#d8e8f1 361.9px 363.2px,#e7eff4 363.2px 364.5px,#e1edf3 364.5px 365.8px,#f7f7f7 365.8px 367.2px,#e5eff4 367.2px 368.5px,#d2e5f0 368.5px 369.8px,#e2edf3 369.8px 371.1px,#eef3f5 371.1px 372.4px,#d9e9f2 372.4px 373.8px,#e8f0f4 373.8px 375.1px,#e5eef4 375.1px 376.4px,#e9f0f4 376.4px 377.7px,#e1edf3 377.7px 379.1px,#eaf1f5 379.1px 380.4px,#f0f4f6 380.4px 381.7px,#d7e8f1 381.7px 383.0px,#dbeaf2 383.0px 384.3px,#e5eff4 384.3px 385.7px,#e48167 385.7px 387.0px,#e68569 387.0px 388.3px,#bf3338 388.3px 389.6px,#bf3137 389.6px 390.9px,#bd2e36 390.9px 392.3px,#b92632 392.3px 393.6px,#b41c2d 393.6px 394.9px,#f8bea2 394.9px 396.2px,#fbd0b8 396.2px 397.5px,#fddcc9 397.5px 398.9px,#fbe4d7 398.9px 400.2px,#fbe3d5 400.2px 401.5px,#fbd2bb 401.5px 402.8px,#fdd9c4 402.8px 404.1px,#fcd5c0 404.1px 405.5px,#f9c4aa 405.5px 406.8px,#fce1d1 406.8px 408.1px,#fcd4be 408.1px 409.4px,#facab1 409.4px 410.8px,#ea8d70 410.8px 412.1px,#f9c2a7 412.1px 413.4px,#f9c1a6 413.4px 414.7px,#fddbc8 414.7px 416.0px,#f9c4aa 416.0px 417.4px,#f9eee8 417.4px 418.7px,#facab1 418.7px 420.0px,#f7b495 420.0px 421.3px,#f8ba9d 421.3px 422.6px,#facbb3 422.6px 424.0px,#fcd2bc 424.0px 425.3px,#ef9b7a 425.3px 426.6px,#fbceb6 426.6px 427.9px,#fcd6c0 427.9px 429.2px,#f5ab8a 429.2px 430.6px,#f7b697 430.6px 431.9px,#e7886c 431.9px 433.2px,#eb9173 433.2px 434.5px,#ee9878 434.5px 435.8px,#e88a6d 435.8px 437.2px,#f19e7d 437.2px 438.5px,#f6b495 438.5px 439.8px,#e98b6e 439.8px 441.1px,#f6b393 441.1px 442.4px,#f4a886 442.4px 443.8px,#f19e7c 443.8px 445.1px,#f4a481 445.1px 446.4px,#ee9778 446.4px 447.7px,#f7b697 447.7px 449.1px,#faebe2 449.1px 450.4px,#fae9e0 450.4px 451.7px,#fbe3d5 451.7px 453.0px,#f8f3f0 453.0px 454.3px,#f9ece5 454.3px 455.7px,#f8f1ed 455.7px 457.0px,#f9ede6 457.0px 458.3px,#f9f0eb 458.3px 459.6px,#f9eee8 459.6px 460.9px,#f9eee7 460.9px 462.3px,#f8f3f1 462.3px 463.6px,#ebf2f5 463.6px 464.9px,#f1f4f6 464.9px 466.2px,#ecf2f5 466.2px 467.5px,#f2f5f6 467.5px 468.9px,#e7eff4 468.9px 470.2px,#f4a683 470.2px 471.5px,#f8bfa3 471.5px 472.8px,#f8ba9d 472.8px 474.1px,#f6b293 474.1px 475.5px,#f7b596 475.5px 476.8px,#f19e7d 476.8px 478.1px,#f4a582 478.1px 479.4px,#f7b495 479.4px 480.8px,#f3a381 480.8px 482.1px,#e98c6e 482.1px 483.4px,#ef9979 483.4px 484.7px,#f6b293 484.7px 486.0px,#f6af8f 486.0px 487.4px,#f4a583 487.4px 488.7px,#e7886b 488.7px 490.0px,#de735c 490.0px 491.3px,#dd715a 491.3px 492.6px,#cd4d44 492.6px 494.0px,#e68569 494.0px 495.3px,#e27b61 495.3px 496.6px,#f9c1a5 496.6px 497.9px,#f6b293 497.9px 499.2px,#dd705a 499.2px 500.6px,#d45d4b 500.6px 501.9px,#d6614e 501.9px 503.2px,#e58267 503.2px 504.5px,#eb9072 504.5px 505.8px,#f2a07e 505.8px 507.2px,#f8bca0 507.2px 508.5px,#ef9a7a 508.5px 509.8px,#ea8d70 509.8px 511.1px,#ec9274 511.1px 512.4px,#f7b99c 512.4px 513.8px,#e48066 513.8px 515.1px,#d96853 515.1px 516.4px,#e7886c 516.4px 517.7px,#f3a380 517.7px 519.1px,#f19e7d 519.1px 520.4px,#f29f7e 520.4px 521.7px,#e37d63 521.7px 523.0px,#dc6e58 523.0px 524.3px,#e7886c 524.3px 525.7px,#e27c63 525.7px 527.0px,#dc6d57 527.0px 528.3px,#f09b7a 528.3px 529.6px,#ca4842 529.6px 530.9px,#f7b89b 530.9px 532.3px,#f7b697 532.3px 533.6px,#f6af8e 533.6px 534.9px,#f4a684 534.9px 536.2px,#e37e64 536.2px 537.5px,#f9c6ac 537.5px 538.9px,#ef9979 538.9px 540.2px,#ee9777 540.2px 541.5px,#f7ba9c 541.5px 542.8px,#fac7ad 542.8px 544.1px,#fbceb6 544.1px 545.5px,#fbccb4 545.5px 546.8px,#f5ad8c 546.8px 548.1px,#eb9072 548.1px 550.8px,#b72230 550.8px 552.1px,#e98c6f 552.1px 553.4px,#e6856a 553.4px 554.7px,#eb9072 554.7px 556.0px,#d96753 556.0px 557.4px,#e58267 557.4px 558.7px,#da6954 558.7px 560.0px,#d7624e 560.0px 561.3px,#e0775f 561.3px 562.6px,#dc6f58 562.6px 564.0px,#e27c62 564.0px 565.3px,#db6c56 565.3px 566.6px,#eb9172 566.6px 567.9px,#e0785f 567.9px 569.2px,#e98c6f 569.2px 570.6px,#e8896c 570.6px 571.9px,#e27b62 571.9px 573.2px,#dc6e58 573.2px 574.5px,#da6a55 574.5px 575.8px,#d55e4c 575.8px 577.2px,#de725a 577.2px 578.5px,#d6614e 578.5px 579.8px,#dc6e58 579.8px 581.1px,#e27b61 581.1px 582.4px,#df765e 582.4px 583.8px,#ca4942 583.8px 586.4px,#c7423f 586.4px 587.7px,#c84440 587.7px 589.1px,#ca4942 589.1px 590.4px,#cf5347 590.4px 591.7px,#de735c 591.7px 593.0px,#e58267 593.0px 594.3px,#db6c56 594.3px 595.7px,#e37f65 595.7px 597.0px,#ec9274 597.0px 598.3px,#f5ad8c 598.3px 599.6px,#e37d63 599.6px 600.9px,#f5a986 600.9px 602.3px,#d96652 602.3px 603.6px,#ed9475 603.6px 604.9px,#e8886c 604.9px 606.2px,#e48066 606.2px 607.5px,#d86450 607.5px 608.9px,#d55f4c 608.9px 610.2px,#d45d4c 610.2px 611.5px,#e37e64 611.5px 612.8px,#db6c56 612.8px 614.1px,#f6ae8e 614.1px 615.5px,#e58267 615.5px 616.8px,#dd6f59 616.8px 618.1px,#df755d 618.1px 619.4px,#d7614e 619.4px 620.7px,#d35b4b 620.7px 622.1px,#f8bc9f 622.1px 623.4px,#f5ad8d 623.4px 624.7px,#ee9778 624.7px 626.0px,#f5a886 626.0px 627.4px,#eb9072 627.4px 628.7px,#f6b090 628.7px 630.0px,#f5a987 630.0px 631.3px,#f4a684 631.3px 632.6px,#f5a886 632.6px 634.0px,#f09b7a 634.0px 635.3px,#ec9374 635.3px 636.6px,#ee9677 636.6px 637.9px,#f9c3a9 637.9px 639.2px,#e37e64 639.2px 640.6px,#ea8d70 640.6px 641.9px,#e37d63 641.9px 643.2px,#e47f65 643.2px 644.5px,#f7b596 644.5px 645.8px,#f4a784 645.8px 647.2px,#f2a17f 647.2px 648.5px,#f7b89a 648.5px 649.8px,#f5aa89 649.8px 651.1px,#f2a07e 651.1px 652.4px,#fbcfb7 652.4px 653.8px,#f5ab8a 653.8px 655.1px,#ec9475 655.1px 656.4px,#eb9173 656.4px 657.7px,#fddbc7 657.7px 659.1px,#fddcc8 659.1px 660.4px,#facbb2 660.4px 661.7px,#fddbc6 661.7px 663.0px,#fddcc9 663.0px 664.3px,#fae7dc 664.3px 665.7px,#fcdfce 665.7px 667.0px,#fdddca 667.0px 668.3px,#fce1d1 668.3px 669.6px,#fdddca 669.6px 670.9px,#fbe5d8 670.9px 672.3px,#fce0d0 672.3px 673.6px,#fcd4be 673.6px 674.9px)"></div>
<div class="hm" style="left:1411.94px;top:1717.9px;width:72.69px;height:674.9px;background:linear-gradient(#75b3d4 0.0px 1.3px,#84bcd9 1.3px 2.6px,#8dc2dc 2.6px 4.0px,#8cc1dc 4.0px 5.3px,#5da3cc 5.3px 6.6px,#66a9cf 6.6px 7.9px,#65a9cf 7.9px 9.2px,#549ec9 9.2px 10.6px,#61a6cd 10.6px 11.9px,#6cadd1 11.9px 13.2px,#57a0ca 13.2px 14.5px,#4a97c5 14.5px 15.8px,#57a0ca 15.8px 17.2px,#65a9cf 17.2px 18.5px,#4997c5 18.5px 19.8px,#4190c1 19.8px 21.1px,#408fc1 21.1px 22.5px,#63a7ce 22.5px 23.8px,#8fc3dd 23.8px 25.1px,#2f78b5 25.1px 26.4px,#59a1cb 26.4px 27.7px,#5ea4cc 27.7px 29.1px,#6daed2 29.1px 30.4px,#4190c1 30.4px 31.7px,#408fc1 31.7px 33.0px,#519cc8 33.0px 34.3px,#64a8ce 34.3px 35.7px,#3682ba 35.7px 37.0px,#61a6cd 37.0px 38.3px,#4f9bc7 38.3px 39.6px,#60a6cd 39.6px 40.9px,#4b98c6 40.9px 42.3px,#4494c3 42.3px 43.6px,#4e9ac7 43.6px 44.9px,#509bc7 44.9px 46.2px,#76b3d4 46.2px 47.5px,#5ea4cc 47.5px 48.9px,#95c6df 48.9px 50.2px,#66a9cf 50.2px 51.5px,#4b98c6 51.5px 52.8px,#3a87bd 52.8px 54.2px,#519cc8 54.2px 55.5px,#3885bc 55.5px 56.8px,#4190c1 56.8px 58.1px,#4e9ac7 58.1px 59.4px,#408fc1 59.4px 60.8px,#99c8e0 60.8px 62.1px,#a6cfe4 62.1px 63.4px,#aed3e6 63.4px 64.7px,#b0d4e7 64.7px 66.0px,#aed3e6 66.0px 67.4px,#b1d5e7 67.4px 68.7px,#60a5cd 68.7px 70.0px,#7bb7d6 70.0px 71.3px,#6aacd0 71.3px 72.6px,#3783bb 72.6px 74.0px,#408fc1 74.0px 75.3px,#75b3d4 75.3px 76.6px,#4292c2 76.6px 77.9px,#7eb8d7 77.9px 79.2px,#519cc8 79.2px 80.6px,#77b4d5 80.6px 81.9px,#408fc1 81.9px 83.2px,#6aacd0 83.2px 84.5px,#add3e6 84.5px 85.8px,#3986bc 85.8px 87.2px,#6fafd2 87.2px 88.5px,#67a9cf 88.5px 89.8px,#6fafd2 89.8px 91.1px,#71b0d3 91.1px 92.5px,#6bacd1 92.5px 93.8px,#569fca 93.8px 95.1px,#408fc1 95.1px 96.4px,#3b89be 96.4px 97.7px,#3f8ec0 97.7px 99.1px,#4190c2 99.1px 100.4px,#93c6de 100.4px 101.7px,#68aad0 101.7px 103.0px,#8dc2dc 103.0px 104.3px,#4a98c5 104.3px 105.7px,#4997c5 105.7px 107.0px,#7cb7d6 107.0px 108.3px,#71b0d3 108.3px 109.6px,#62a6cd 109.6px 110.9px,#58a0ca 110.9px 112.3px,#65a9cf 112.3px 113.6px,#63a7ce 113.6px 114.9px,#5aa1cb 114.9px 116.2px,#61a6cd 116.2px 117.5px,#3a87bd 117.5px 118.9px,#acd2e5 118.9px 120.2px,#97c8df 120.2px 121.5px,#c6dfed 121.5px 122.8px,#c7e0ed 122.8px 124.1px,#c3deec 124.1px 125.5px,#dae9f2 125.5px 126.8px,#b5d7e8 126.8px 128.1px,#b6d7e8 128.1px 129.4px,#cbe2ee 129.4px 130.8px,#c1ddeb 130.8px 132.1px,#b7d8e8 132.1px 133.4px,#b9d9e9 133.4px 134.7px,#abd2e5 134.7px 136.0px,#aed3e6 136.0px 137.4px,#a0cce2 137.4px 138.7px,#89bfdb 138.7px 140.0px,#bcdaea 140.0px 141.3px,#9ecbe1 141.3px 142.6px,#b7d8e8 142.6px 144.0px,#99c8e0 144.0px 145.3px,#c6e0ed 145.3px 146.6px,#78b5d5 146.6px 147.9px,#b4d6e8 147.9px 149.2px,#d6e7f1 149.2px 150.6px,#d0e4f0 150.6px 151.9px,#95c6df 151.9px 153.2px,#b4d6e8 153.2px 154.5px,#b1d5e7 154.5px 155.8px,#8ec2dd 155.8px 157.2px,#a6cfe4 157.2px 158.5px,#9bc9e0 158.5px 159.8px,#9fcce2 159.8px 161.1px,#7eb8d7 161.1px 162.5px,#82bbd8 162.5px 163.8px,#90c4dd 163.8px 165.1px,#a3cee3 165.1px 166.4px,#b4d6e8 166.4px 167.7px,#9fcce2 167.7px 169.1px,#8ac0db 169.1px 170.4px,#97c8df 170.4px 171.7px,#abd2e5 171.7px 173.0px,#83bbd9 173.0px 174.3px,#b6d7e8 174.3px 175.7px,#61a6cd 175.7px 177.0px,#4896c5 177.0px 178.3px,#62a7ce 178.3px 179.6px,#6fafd2 179.6px 180.9px,#549ec9 180.9px 182.3px,#a3cde3 182.3px 183.6px,#bcdaea 183.6px 184.9px,#9ac9e0 184.9px 186.2px,#8dc2dc 186.2px 187.5px,#90c4dd 187.5px 188.9px,#b0d4e7 188.9px 190.2px,#a9d0e4 190.2px 191.5px,#b5d7e8 191.5px 192.8px,#9ecbe1 192.8px 195.5px,#a5cee3 195.5px 196.8px,#9ac9e0 196.8px 198.1px,#95c7df 198.1px 199.4px,#87beda 199.4px 200.8px,#d6e7f1 200.8px 202.1px,#7bb6d6 202.1px 203.4px,#6dadd1 203.4px 204.7px,#b2d5e7 204.7px 206.0px,#62a7ce 206.0px 207.4px,#6bacd1 207.4px 208.7px,#65a8ce 208.7px 210.0px,#6fafd2 210.0px 211.3px,#5ca3cc 211.3px 212.6px,#69abd0 212.6px 214.0px,#57a0ca 214.0px 215.3px,#5ca3cb 215.3px 216.6px,#dbeaf2 216.6px 217.9px,#a4cee3 217.9px 219.2px,#bedbeb 219.2px 220.6px,#a6cfe4 220.6px 221.9px,#a8d0e4 221.9px 223.2px,#cde3ef 223.2px 224.5px,#b0d4e7 224.5px 225.8px,#bedbeb 225.8px 227.2px,#bbdaea 227.2px 228.5px,#c6dfed 228.5px 229.8px,#aed3e6 229.8px 231.1px,#b3d6e7 231.1px 232.5px,#d05548 232.5px 233.8px,#d86450 233.8px 235.1px,#d05548 235.1px 236.4px,#cf5246 236.4px 237.7px,#d15648 237.7px 239.1px,#ce5046 239.1px 240.4px,#f09c7b 240.4px 241.7px,#ee9878 241.7px 243.0px,#e88a6d 243.0px 244.3px,#ec9374 244.3px 245.7px,#e98d6f 245.7px 248.3px,#f2a17f 248.3px 249.6px,#f8f4f2 249.6px 250.9px,#fcd7c2 250.9px 252.3px,#faebe2 252.3px 253.6px,#fce1d1 253.6px 254.9px,#fac8ae 254.9px 256.2px,#fae9df 256.2px 257.5px,#faeae1 257.5px 258.9px,#fae9df 258.9px 260.2px,#f8f3ef 260.2px 261.5px,#f2f5f6 261.5px 262.8px,#fae8de 262.8px 264.1px,#f7f5f4 264.1px 265.5px,#f6f7f7 265.5px 266.8px,#eff3f6 266.8px 268.1px,#f7f7f6 268.1px 269.4px,#f5f6f7 269.4px 270.8px,#f9f0ea 270.8px 272.1px,#cfe4ef 272.1px 273.4px,#b7d8e9 273.4px 274.7px,#b5d7e8 274.7px 276.0px,#afd4e6 276.0px 277.4px,#c3deec 277.4px 278.7px,#c2ddec 278.7px 280.0px,#a8d0e4 280.0px 281.3px,#bcdaea 281.3px 282.6px,#b8d9e9 282.6px 284.0px,#92c5de 284.0px 285.3px,#a0cce2 285.3px 286.6px,#b3d6e7 286.6px 287.9px,#a3cee3 287.9px 289.2px,#acd2e5 289.2px 290.6px,#bad9e9 290.6px 291.9px,#b0d4e6 291.9px 293.2px,#add3e6 293.2px 294.5px,#b0d4e7 294.5px 295.8px,#a4cee3 295.8px 297.2px,#b6d7e8 297.2px 298.5px,#a4cee3 298.5px 299.8px,#b5d7e8 299.8px 301.1px,#d2e6f0 301.1px 302.5px,#ddebf2 302.5px 303.8px,#dae9f2 303.8px 305.1px,#dceaf2 305.1px 306.4px,#c3deec 306.4px 307.7px,#cfe4ef 307.7px 309.1px,#d5e7f1 309.1px 310.4px,#d2e6f0 310.4px 311.7px,#dfecf3 311.7px 313.0px,#bedbeb 313.0px 314.3px,#dae9f2 314.3px 317.0px,#d7e8f1 317.0px 318.3px,#e2edf3 318.3px 319.6px,#dceaf2 319.6px 320.9px,#e0ecf3 320.9px 322.3px,#dbeaf2 322.3px 323.6px,#d4e6f1 323.6px 324.9px,#d7e8f1 324.9px 326.2px,#dceaf2 326.2px 327.5px,#b4d6e8 327.5px 328.9px,#f8f3ef 328.9px 330.2px,#f8f3f0 330.2px 331.5px,#f9ede7 331.5px 332.8px,#f8f0eb 332.8px 334.1px,#f9ede6 334.1px 336.8px,#f8f1ec 336.8px 338.1px,#f9ece4 338.1px 339.4px,#f9f0eb 339.4px 340.8px,#f9ede5 340.8px 342.1px,#f8f2ef 342.1px 343.4px,#f9ece4 343.4px 344.7px,#fbe6da 344.7px 346.0px,#fae9df 346.0px 347.4px,#d2e6f0 347.4px 348.7px,#cbe2ee 348.7px 350.0px,#bad9e9 350.0px 351.3px,#bddbea 351.3px 352.6px,#bedbeb 352.6px 354.0px,#c6dfed 354.0px 355.3px,#c2ddec 355.3px 356.6px,#d4e7f1 356.6px 357.9px,#b5d7e8 357.9px 359.2px,#a1cce2 359.2px 360.6px,#bddbea 360.6px 361.9px,#cee4ef 361.9px 363.2px,#c7e0ed 363.2px 364.5px,#b2d5e7 364.5px 365.8px,#c8e0ed 365.8px 367.2px,#c9e1ee 367.2px 368.5px,#a8d0e4 368.5px 369.8px,#bbdaea 369.8px 371.1px,#c5dfed 371.1px 372.4px,#d4e7f1 372.4px 373.8px,#c3deec 373.8px 375.1px,#d6e8f1 375.1px 376.4px,#c4deec 376.4px 377.7px,#b8d8e9 377.7px 379.1px,#cde3ef 379.1px 380.4px,#bfdceb 380.4px 381.7px,#acd2e5 381.7px 383.0px,#bddbea 383.0px 384.3px,#c8e0ed 384.3px 385.7px,#badaea 385.7px 387.0px,#a7cfe4 387.0px 388.3px,#a2cde2 388.3px 389.6px,#b6d7e8 389.6px 390.9px,#bfdceb 390.9px 392.3px,#d2e6f0 392.3px 393.6px,#c3deec 393.6px 394.9px,#aad1e5 394.9px 396.2px,#e4eef4 396.2px 397.5px,#e8f0f4 397.5px 398.9px,#e3edf3 398.9px 400.2px,#f2f5f6 400.2px 401.5px,#f0f3f6 401.5px 402.8px,#f8f3f0 402.8px 404.1px,#e9f0f4 404.1px 405.5px,#f3f5f6 405.5px 406.8px,#edf2f5 406.8px 408.1px,#f0f4f6 408.1px 409.4px,#eaf1f5 409.4px 410.8px,#f0f4f6 410.8px 412.1px,#e3edf3 412.1px 413.4px,#ecf2f5 413.4px 414.7px,#f2f5f6 414.7px 416.0px,#f2f4f6 416.0px 417.4px,#f4f6f7 417.4px 418.7px,#f7f7f7 418.7px 420.0px,#cfe4f0 420.0px 421.3px,#bad9e9 421.3px 422.6px,#bddbea 422.6px 424.0px,#cfe4ef 424.0px 425.3px,#d0e5f0 425.3px 426.6px,#c4deec 426.6px 427.9px,#bedbeb 427.9px 429.2px,#c9e1ee 429.2px 430.6px,#ddebf2 430.6px 431.9px,#cde3ef 431.9px 433.2px,#d4e6f0 433.2px 434.5px,#b2d5e7 434.5px 435.8px,#afd4e6 435.8px 437.2px,#c6e0ed 437.2px 438.5px,#d0e4f0 438.5px 439.8px,#afd4e6 439.8px 441.1px,#d1e5f0 441.1px 442.4px,#bedbea 442.4px 443.8px,#b0d4e7 443.8px 445.1px,#a1cde2 445.1px 446.4px,#94c6df 446.4px 447.7px,#a5cfe3 447.7px 449.1px,#f5aa88 449.1px 450.4px,#f6ae8e 450.4px 451.7px,#fce1d1 451.7px 453.0px,#fcdecb 453.0px 454.3px,#fbe6da 454.3px 455.7px,#fce0cf 455.7px 457.0px,#fae7dc 457.0px 458.3px,#fce1d2 458.3px 459.6px,#fbe3d5 459.6px 460.9px,#fbe5d9 460.9px 462.3px,#ef9a79 462.3px 463.6px,#fbccb4 463.6px 464.9px,#ea8d6f 464.9px 466.2px,#e27c63 466.2px 467.5px,#f29f7e 467.5px 468.9px,#f2a17f 468.9px 470.2px,#eb9173 470.2px 471.5px,#f2a27f 471.5px 472.8px,#f3a280 472.8px 474.1px,#f4a481 474.1px 475.5px,#f4a784 475.5px 476.8px,#ed9576 476.8px 478.1px,#e88a6e 478.1px 479.4px,#e17860 479.4px 480.8px,#e98b6e 480.8px 482.1px,#fcd4bf 482.1px 483.4px,#fbe4d7 483.4px 484.7px,#fbe5d8 484.7px 486.0px,#faebe2 486.0px 487.4px,#f8f2ee 487.4px 488.7px,#fce1d1 488.7px 490.0px,#fce0d0 490.0px 491.3px,#fcd6c0 491.3px 492.6px,#fbe5d9 492.6px 494.0px,#f8f1ed 494.0px 495.3px,#fce1d1 495.3px 496.6px,#fcd6c0 496.6px 497.9px,#e98c6f 497.9px 499.2px,#faccb4 499.2px 500.6px,#fbd1ba 500.6px 501.9px,#f7b496 501.9px 503.2px,#f6b292 503.2px 504.5px,#f7b698 504.5px 505.8px,#f8c0a4 505.8px 507.2px,#f9efea 507.2px 508.5px,#fcd6c0 508.5px 509.8px,#fcdecc 509.8px 511.1px,#f8f1ec 511.1px 512.4px,#fbe2d3 512.4px 513.8px,#f9f0ea 513.8px 515.1px,#faeae1 515.1px 516.4px,#fbe2d3 516.4px 517.7px,#fce0cf 517.7px 519.1px,#f7f7f7 519.1px 520.4px,#fddcc9 520.4px 521.7px,#ecf2f5 521.7px 523.0px,#fbe2d4 523.0px 524.3px,#f9eee7 524.3px 525.7px,#fbe2d4 525.7px 527.0px,#fddcc9 527.0px 529.6px,#fae8dd 529.6px 530.9px,#fbe4d6 530.9px 532.3px,#f3f5f6 532.3px 533.6px,#f9ece5 533.6px 534.9px,#f8f0eb 534.9px 536.2px,#f3f5f6 536.2px 537.5px,#fce1d0 537.5px 538.9px,#fbd1ba 538.9px 540.2px,#fbe7db 540.2px 541.5px,#fbe6da 541.5px 542.8px,#f9ede5 542.8px 544.1px,#fae8dd 544.1px 545.5px,#f8f1ed 545.5px 546.8px,#fbe6db 546.8px 548.1px,#fcdfcd 548.1px 549.4px,#fbe6d9 549.4px 550.8px,#e6eff4 550.8px 552.1px,#e7f0f4 552.1px 553.4px,#eaf1f5 553.4px 554.7px,#fbe2d3 554.7px 556.0px,#eff3f6 556.0px 557.4px,#eef3f5 557.4px 558.7px,#e3edf3 558.7px 560.0px,#eef3f5 560.0px 561.3px,#e9f0f4 561.3px 562.6px,#b4d6e8 562.6px 564.0px,#e7eff4 564.0px 565.3px,#c4deec 565.3px 566.6px,#d7e8f1 566.6px 567.9px,#edf2f5 567.9px 569.2px,#deebf2 569.2px 570.6px,#dfecf3 570.6px 571.9px,#eef3f5 571.9px 573.2px,#e9f1f5 573.2px 574.5px,#ddebf2 574.5px 575.8px,#ebf1f5 575.8px 577.2px,#e0ecf3 577.2px 578.5px,#d4e7f1 578.5px 579.8px,#d8e8f1 579.8px 581.1px,#d2e5f0 581.1px 582.4px,#f7f6f6 582.4px 583.8px,#f8f3f0 583.8px 585.1px,#f8f4f1 585.1px 586.4px,#f8f2ee 586.4px 587.7px,#f8f1ed 587.7px 589.1px,#fbd2bb 589.1px 590.4px,#eff3f6 590.4px 593.0px,#f1f4f6 593.0px 594.3px,#f5f6f7 594.3px 595.7px,#e9f0f4 595.7px 597.0px,#eef3f5 597.0px 598.3px,#f6f7f7 598.3px 599.6px,#f8f4f2 599.6px 600.9px,#f9efea 600.9px 602.3px,#f0f4f6 602.3px 603.6px,#ecf2f5 603.6px 604.9px,#f7f6f5 604.9px 606.2px,#faeae1 606.2px 607.5px,#f9ede6 607.5px 608.9px,#fbe3d4 608.9px 610.2px,#fcdfcd 610.2px 611.5px,#f3f5f6 611.5px 614.1px,#ebf1f5 614.1px 615.5px,#f8f0ec 615.5px 616.8px,#f8f2ee 616.8px 618.1px,#f9ede6 618.1px 619.4px,#e6eff4 619.4px 620.7px,#fcdfce 620.7px 622.1px,#fce1d2 622.1px 623.4px,#fce0d0 623.4px 624.7px,#fcdfce 624.7px 626.0px,#faeae1 626.0px 627.4px,#f8f2ee 627.4px 628.7px,#fae7dc 628.7px 630.0px,#f7ba9d 630.0px 631.3px,#f5f6f7 631.3px 632.6px,#faeae1 632.6px 634.0px,#faebe2 634.0px 635.3px,#fbe5d8 635.3px 636.6px,#fae8dd 636.6px 637.9px,#fbe5d7 637.9px 639.2px,#f8f4f2 639.2px 640.6px,#eef3f5 640.6px 641.9px,#f7f6f6 641.9px 643.2px,#f2f5f6 643.2px 644.5px,#f5f6f7 644.5px 645.8px,#f9eee8 645.8px 647.2px,#f8f2ee 647.2px 648.5px,#dfecf3 648.5px 649.8px,#f8f1ec 649.8px 651.1px,#eff3f5 651.1px 652.4px,#ecf2f5 652.4px 653.8px,#eff3f6 653.8px 655.1px,#ebf1f5 655.1px 656.4px,#e7f0f4 656.4px 657.7px,#ef9979 657.7px 659.1px,#ed9576 659.1px 660.4px,#f19e7d 660.4px 661.7px,#f19e7c 661.7px 663.0px,#f3a27f 663.0px 664.3px,#faebe2 664.3px 665.7px,#fae8dd 665.7px 667.0px,#fae9de 667.0px 668.3px,#faeae0 668.3px 669.6px,#fbe6da 669.6px 670.9px,#fcdecc 670.9px 672.3px,#fbe2d3 672.3px 673.6px,#fddbc7 673.6px 674.9px)"></div>
<div class="hm" style="left:1484.22px;top:1717.9px;width:72.69px;height:674.9px;background:linear-gradient(#95c7df 0.0px 1.3px,#97c7df 1.3px 2.6px,#a8d0e4 2.6px 4.0px,#93c6de 4.0px 5.3px,#f0f4f6 5.3px 6.6px,#eef3f5 6.6px 7.9px,#f3f5f6 7.9px 9.2px,#e2edf3 9.2px 10.6px,#eef3f5 10.6px 11.9px,#eff3f5 11.9px 13.2px,#e7eff4 13.2px 14.5px,#edf2f5 14.5px 15.8px,#f4f6f7 15.8px 17.2px,#f0f4f6 17.2px 18.5px,#e4eef3 18.5px 19.8px,#b7d8e9 19.8px 21.1px,#bedbeb 21.1px 22.5px,#add3e6 22.5px 23.8px,#8ec3dd 23.8px 25.1px,#8dc2dc 25.1px 26.4px,#74b2d4 26.4px 27.7px,#60a6cd 27.7px 29.1px,#7db8d7 29.1px 30.4px,#b9d9e9 30.4px 31.7px,#88bfdb 31.7px 33.0px,#7db8d7 33.0px 34.3px,#93c6de 34.3px 35.7px,#66a9cf 35.7px 37.0px,#4896c5 37.0px 38.3px,#87beda 38.3px 39.6px,#9ccae1 39.6px 40.9px,#83bcd9 40.9px 42.3px,#9bcae1 42.3px 43.6px,#99c9e0 43.6px 44.9px,#b0d4e7 44.9px 46.2px,#8fc3dd 46.2px 47.5px,#6eaed2 47.5px 48.9px,#f1f4f6 48.9px 50.2px,#e9f0f4 50.2px 51.5px,#ecf2f5 51.5px 54.2px,#f3f5f6 54.2px 55.5px,#f4f6f6 55.5px 56.8px,#f7f6f5 56.8px 58.1px,#f2f5f6 58.1px 59.4px,#f4f5f6 59.4px 60.8px,#c3deec 60.8px 62.1px,#b1d5e7 62.1px 63.4px,#aed3e6 63.4px 64.7px,#a6cfe4 64.7px 66.0px,#abd2e5 66.0px 67.4px,#afd4e6 67.4px 68.7px,#a1cde2 68.7px 70.0px,#84bcd9 70.0px 71.3px,#b0d4e7 71.3px 72.6px,#96c7df 72.6px 74.0px,#66a9cf 74.0px 75.3px,#9bc9e0 75.3px 76.6px,#4a98c5 76.6px 77.9px,#98c8e0 77.9px 79.2px,#82bbd9 79.2px 80.6px,#9ccae1 80.6px 81.9px,#b9d9e9 81.9px 83.2px,#acd2e5 83.2px 84.5px,#5ea4cc 84.5px 85.8px,#a1cde2 85.8px 87.2px,#a9d1e5 87.2px 88.5px,#a3cee3 88.5px 89.8px,#7ab6d6 89.8px 91.1px,#9fcce2 91.1px 92.5px,#b2d5e7 92.5px 93.8px,#add3e6 93.8px 95.1px,#afd4e6 95.1px 96.4px,#b3d6e7 96.4px 97.7px,#b0d4e7 97.7px 99.1px,#aad1e5 99.1px 100.4px,#c0dceb 100.4px 101.7px,#96c7df 101.7px 103.0px,#9bcae1 103.0px 104.3px,#a3cee3 104.3px 105.7px,#9fcbe2 105.7px 107.0px,#b5d7e8 107.0px 108.3px,#aad1e5 108.3px 109.6px,#b3d6e8 109.6px 110.9px,#b1d5e7 110.9px 112.3px,#92c5de 112.3px 113.6px,#90c4dd 113.6px 114.9px,#71b0d3 114.9px 116.2px,#6dadd1 116.2px 117.5px,#408fc1 117.5px 118.9px,#3f8ec0 118.9px 120.2px,#69abd0 120.2px 121.5px,#6badd1 121.5px 122.8px,#8ec3dd 122.8px 124.1px,#82bbd9 124.1px 125.5px,#9ccae1 125.5px 126.8px,#89bfdb 126.8px 128.1px,#a3cde3 128.1px 129.4px,#7eb8d7 129.4px 130.8px,#afd3e6 130.8px 132.1px,#bcdaea 132.1px 133.4px,#91c4de 133.4px 134.7px,#b0d4e6 134.7px 136.0px,#57a0ca 136.0px 137.4px,#77b4d5 137.4px 138.7px,#71b0d3 138.7px 140.0px,#569fc9 140.0px 141.3px,#6daed1 141.3px 142.6px,#6aacd0 142.6px 144.0px,#4c98c6 144.0px 145.3px,#6cadd1 145.3px 146.6px,#60a5cd 146.6px 147.9px,#a2cde3 147.9px 149.2px,#6bacd1 149.2px 150.6px,#62a6cd 150.6px 151.9px,#66a9cf 151.9px 153.2px,#95c7df 153.2px 154.5px,#4796c5 154.5px 155.8px,#5ca3cb 155.8px 157.2px,#6aacd0 157.2px 158.5px,#4292c3 158.5px 159.8px,#7fb9d7 159.8px 161.1px,#5ca3cc 161.1px 162.5px,#6fafd2 162.5px 163.8px,#74b2d4 163.8px 165.1px,#92c5de 165.1px 166.4px,#a3cee3 166.4px 167.7px,#85bdda 167.7px 169.1px,#82bbd9 169.1px 170.4px,#63a7ce 170.4px 171.7px,#6fafd2 171.7px 173.0px,#7bb7d6 173.0px 174.3px,#67aacf 174.3px 175.7px,#70afd2 175.7px 177.0px,#63a7ce 177.0px 178.3px,#4795c4 178.3px 179.6px,#67aacf 179.6px 180.9px,#88bfdb 180.9px 182.3px,#91c4de 182.3px 183.6px,#87beda 183.6px 184.9px,#6cadd1 184.9px 186.2px,#88beda 186.2px 187.5px,#3b88bd 187.5px 188.9px,#97c8df 188.9px 190.2px,#519cc8 190.2px 191.5px,#bddbea 191.5px 192.8px,#99c9e0 192.8px 194.1px,#97c7df 194.1px 195.5px,#8ec2dd 195.5px 196.8px,#97c8e0 196.8px 198.1px,#519cc8 198.1px 200.8px,#4f9bc7 200.8px 202.1px,#327db8 202.1px 203.4px,#6daed1 203.4px 204.7px,#aed3e6 204.7px 206.0px,#acd2e5 206.0px 207.4px,#cbe2ee 207.4px 210.0px,#d6e7f1 210.0px 211.3px,#c9e1ee 211.3px 212.6px,#d6e7f1 212.6px 214.0px,#c9e1ee 214.0px 215.3px,#d4e6f1 215.3px 216.6px,#e0ecf3 216.6px 217.9px,#cce2ee 217.9px 219.2px,#d0e4f0 219.2px 220.6px,#b7d8e8 220.6px 221.9px,#74b2d4 221.9px 223.2px,#85bdda 223.2px 224.5px,#93c6de 224.5px 225.8px,#57a0ca 225.8px 227.2px,#85bdd9 227.2px 228.5px,#95c7df 228.5px 229.8px,#9dcbe1 229.8px 231.1px,#93c6de 231.1px 232.5px,#b92631 232.5px 235.1px,#b5d7e8 235.1px 236.4px,#abd2e5 236.4px 237.7px,#bfdceb 237.7px 239.1px,#fac9b0 239.1px 240.4px,#f7b99b 240.4px 241.7px,#fbcfb8 241.7px 243.0px,#fcd3bd 243.0px 244.3px,#f5ac8a 244.3px 245.7px,#f6b495 245.7px 247.0px,#f9c1a6 247.0px 248.3px,#f8bda1 248.3px 249.6px,#fcd6c1 249.6px 250.9px,#f9c3a8 250.9px 252.3px,#fdd9c4 252.3px 253.6px,#facbb2 253.6px 254.9px,#fbd1ba 254.9px 256.2px,#f9c2a7 256.2px 257.5px,#facab1 257.5px 258.9px,#f8bda1 258.9px 260.2px,#f6b394 260.2px 261.5px,#d96752 261.5px 262.8px,#d86551 262.8px 264.1px,#d05447 264.1px 265.5px,#de735b 265.5px 266.8px,#c3393b 266.8px 268.1px,#d45c4b 268.1px 269.4px,#d15648 269.4px 270.8px,#d55e4c 270.8px 272.1px,#dd6f59 272.1px 273.4px,#d96753 273.4px 274.7px,#ed9475 274.7px 276.0px,#e27c62 276.0px 277.4px,#fbe5d8 277.4px 278.7px,#e98c6f 278.7px 280.0px,#d86450 280.0px 281.3px,#db6c56 281.3px 282.6px,#e27b62 282.6px 284.0px,#d7624e 284.0px 285.3px,#de725b 285.3px 286.6px,#e1edf3 286.6px 287.9px,#e8f0f4 287.9px 289.2px,#f1f4f6 289.2px 290.6px,#dceaf2 290.6px 291.9px,#e6eff4 291.9px 293.2px,#deebf2 293.2px 294.5px,#f0f3f6 294.5px 295.8px,#eef3f5 295.8px 297.2px,#cce3ef 297.2px 298.5px,#d6e8f1 298.5px 299.8px,#d3e6f0 299.8px 302.5px,#d2e5f0 302.5px 303.8px,#dceaf2 303.8px 305.1px,#e2edf3 305.1px 306.4px,#e8f0f4 306.4px 307.7px,#d9e9f1 307.7px 309.1px,#dae9f2 309.1px 310.4px,#e9f0f4 310.4px 311.7px,#e5eff4 311.7px 313.0px,#e9f0f4 313.0px 314.3px,#d3e6f0 314.3px 315.7px,#d6e7f1 315.7px 317.0px,#e4eef3 317.0px 318.3px,#e0ecf3 318.3px 319.6px,#dbeaf2 319.6px 320.9px,#dae9f2 320.9px 322.3px,#deebf2 322.3px 323.6px,#f7f7f7 323.6px 324.9px,#f8f2ef 324.9px 326.2px,#f9efe9 326.2px 327.5px,#f9eee7 327.5px 328.9px,#fcdfcd 328.9px 330.2px,#fae8dd 330.2px 331.5px,#fbe6da 331.5px 332.8px,#f9eee8 332.8px 334.1px,#f9ece4 334.1px 335.5px,#fae9df 335.5px 336.8px,#f9eee8 336.8px 338.1px,#f4f6f6 338.1px 339.4px,#f7f6f5 339.4px 340.8px,#f6f6f7 340.8px 343.4px,#f8f4f1 343.4px 344.7px,#f9efe8 344.7px 346.0px,#f8f0eb 346.0px 347.4px,#fbe4d7 347.4px 348.7px,#fbe6da 348.7px 350.0px,#faeae0 350.0px 351.3px,#fcdfcf 351.3px 352.6px,#e6eff4 352.6px 354.0px,#ddebf2 354.0px 355.3px,#deebf2 355.3px 356.6px,#f6f7f7 356.6px 357.9px,#e1edf3 357.9px 359.2px,#e0ecf3 359.2px 360.6px,#bddbea 360.6px 361.9px,#e6eff4 361.9px 363.2px,#f0f3f6 363.2px 364.5px,#f3f5f6 364.5px 365.8px,#e9f0f4 365.8px 367.2px,#e6eff4 367.2px 368.5px,#e0ecf3 368.5px 369.8px,#dceaf2 369.8px 371.1px,#dbeaf2 371.1px 372.4px,#fce0d0 372.4px 373.8px,#fbcdb4 373.8px 375.1px,#fce0d0 375.1px 376.4px,#fcd5c0 376.4px 377.7px,#fbe6d9 377.7px 379.1px,#fce0cf 379.1px 380.4px,#fbe2d3 380.4px 381.7px,#fce1d2 381.7px 383.0px,#fdd8c4 383.0px 384.3px,#fddac6 384.3px 385.7px,#c2deec 385.7px 387.0px,#b5d7e8 387.0px 388.3px,#c0dceb 388.3px 389.6px,#bbdaea 389.6px 390.9px,#bedbeb 390.9px 392.3px,#b7d8e9 392.3px 393.6px,#bad9e9 393.6px 394.9px,#fddcc9 394.9px 396.2px,#fce0cf 396.2px 397.5px,#f9efea 397.5px 398.9px,#fbe2d3 398.9px 400.2px,#fcdecd 400.2px 401.5px,#f9eee7 401.5px 402.8px,#f5f6f7 402.8px 404.1px,#f9ece4 404.1px 405.5px,#f8f5f3 405.5px 406.8px,#fae9e0 406.8px 408.1px,#fae8dd 408.1px 409.4px,#f8f4f1 409.4px 410.8px,#f7f6f5 410.8px 412.1px,#f8f3f0 412.1px 413.4px,#f8f0ec 413.4px 414.7px,#f7f6f5 414.7px 416.0px,#f6f6f7 416.0px 417.4px,#faeae1 417.4px 420.0px,#f8f1ed 420.0px 421.3px,#f8f2ee 421.3px 422.6px,#f8bb9e 422.6px 424.0px,#f6af8f 424.0px 425.3px,#f9c1a6 425.3px 426.6px,#eff3f5 426.6px 427.9px,#edf2f5 427.9px 429.2px,#e8f0f4 429.2px 430.6px,#f7f5f4 430.6px 431.9px,#f6f6f7 431.9px 433.2px,#f8f3ef 433.2px 434.5px,#f7f7f6 434.5px 435.8px,#fbcfb8 435.8px 437.2px,#fbd1ba 437.2px 438.5px,#fdd9c4 438.5px 439.8px,#fce0cf 439.8px 441.1px,#fcd3bc 441.1px 442.4px,#fcd3bd 442.4px 443.8px,#fac7ae 443.8px 445.1px,#fcd2bc 445.1px 446.4px,#f8bfa3 446.4px 447.7px,#fdd9c4 447.7px 449.1px,#d1e5f0 449.1px 450.4px,#dfecf3 450.4px 451.7px,#bad9e9 451.7px 453.0px,#c5dfed 453.0px 454.3px,#c8e0ed 454.3px 455.7px,#d4e6f1 455.7px 457.0px,#d2e6f0 457.0px 458.3px,#cae1ee 458.3px 459.6px,#dae9f2 459.6px 460.9px,#d5e7f1 460.9px 462.3px,#d0e5f0 462.3px 463.6px,#c6dfed 463.6px 464.9px,#cce2ee 464.9px 466.2px,#e4eef3 466.2px 467.5px,#d5e7f1 467.5px 468.9px,#c5dfed 468.9px 470.2px,#d2e6f0 470.2px 471.5px,#a8d0e4 471.5px 472.8px,#9dcae1 472.8px 474.1px,#b0d4e7 474.1px 475.5px,#b6d7e8 475.5px 476.8px,#cbe2ee 476.8px 478.1px,#d4e7f1 478.1px 479.4px,#d5e7f1 479.4px 480.8px,#d1e5f0 480.8px 482.1px,#d0e5f0 482.1px 483.4px,#c1ddec 483.4px 484.7px,#dae9f2 484.7px 486.0px,#dbeaf2 486.0px 487.4px,#dfecf3 487.4px 488.7px,#d6e7f1 488.7px 490.0px,#d5e7f1 490.0px 491.3px,#cde3ef 491.3px 492.6px,#c3deec 492.6px 494.0px,#c5dfed 494.0px 495.3px,#9dcae1 495.3px 496.6px,#cbe2ee 496.6px 497.9px,#bfdceb 497.9px 499.2px,#b8d8e9 499.2px 500.6px,#cae1ee 500.6px 501.9px,#a1cde2 501.9px 503.2px,#97c7df 503.2px 504.5px,#bcdaea 504.5px 505.8px,#99c9e0 505.8px 507.2px,#e6eff4 507.2px 508.5px,#d7e8f1 508.5px 509.8px,#e3edf3 509.8px 511.1px,#cae1ee 511.1px 512.4px,#eaf1f5 512.4px 513.8px,#d1e5f0 513.8px 515.1px,#e7eff4 515.1px 516.4px,#c6dfed 516.4px 517.7px,#deebf2 517.7px 519.1px,#c9e1ee 519.1px 520.4px,#b5d7e8 520.4px 521.7px,#9ecbe1 521.7px 523.0px,#99c8e0 523.0px 524.3px,#abd2e5 524.3px 525.7px,#6aabd0 525.7px 527.0px,#9ac9e0 527.0px 528.3px,#a6cfe4 528.3px 529.6px,#a4cee3 529.6px 530.9px,#b9d9e9 530.9px 532.3px,#b3d6e8 532.3px 533.6px,#b1d5e7 533.6px 534.9px,#bad9e9 534.9px 536.2px,#d3e6f0 536.2px 537.5px,#b1d5e7 537.5px 538.9px,#d7e8f1 538.9px 540.2px,#d9e9f1 540.2px 541.5px,#dceaf2 541.5px 542.8px,#d8e8f1 542.8px 544.1px,#dbeaf2 544.1px 545.5px,#e5eff4 545.5px 546.8px,#d9e9f2 546.8px 548.1px,#e5eef4 548.1px 549.4px,#f0f4f6 549.4px 550.8px,#dceaf2 550.8px 552.1px,#d9e9f2 552.1px 553.4px,#dfecf3 553.4px 554.7px,#d5e7f1 554.7px 556.0px,#d3e6f0 556.0px 557.4px,#d8e8f1 557.4px 558.7px,#d2e6f0 558.7px 560.0px,#e7eff4 560.0px 561.3px,#dfecf3 561.3px 562.6px,#dbeaf2 562.6px 564.0px,#d1e5f0 564.0px 565.3px,#c7e0ed 565.3px 566.6px,#d3e6f0 566.6px 567.9px,#e9f0f4 567.9px 569.2px,#bad9e9 569.2px 570.6px,#99c9e0 570.6px 571.9px,#dae9f2 571.9px 573.2px,#a8d0e4 573.2px 574.5px,#b6d7e8 574.5px 575.8px,#bcdaea 575.8px 577.2px,#a3cee3 577.2px 578.5px,#a2cde3 578.5px 579.8px,#b3d6e8 579.8px 581.1px,#a8d0e4 581.1px 582.4px,#b4d6e8 582.4px 583.8px,#9ccae1 583.8px 585.1px,#b9d9e9 585.1px 586.4px,#bedbeb 586.4px 587.7px,#b8d8e9 587.7px 590.4px,#bad9ea 590.4px 591.7px,#d8e8f1 591.7px 593.0px,#e7eff4 593.0px 594.3px,#dbeaf2 594.3px 595.7px,#cee3ef 595.7px 597.0px,#e0ecf3 597.0px 598.3px,#deebf2 598.3px 599.6px,#acd2e6 599.6px 600.9px,#f3f5f6 600.9px 602.3px,#e4eef3 602.3px 603.6px,#e2edf3 603.6px 604.9px,#d4e7f1 604.9px 606.2px,#c9e1ee 606.2px 607.5px,#e0ecf3 607.5px 608.9px,#c9e1ee 608.9px 610.2px,#c6e0ed 610.2px 611.5px,#dceaf2 611.5px 612.8px,#cce3ef 612.8px 614.1px,#e5eff4 614.1px 615.5px,#f3f5f6 615.5px 616.8px,#e9f0f4 616.8px 618.1px,#e4eef3 618.1px 619.4px,#e1edf3 619.4px 620.7px,#dceaf2 620.7px 622.1px,#dbeaf2 622.1px 623.4px,#dae9f2 623.4px 624.7px,#d8e8f1 624.7px 626.0px,#dfecf3 626.0px 627.4px,#ddebf2 627.4px 628.7px,#edf2f5 628.7px 630.0px,#faeae0 630.0px 631.3px,#fbe3d5 631.3px 632.6px,#fbe3d4 632.6px 634.0px,#f9eee8 634.0px 636.6px,#f8f1ed 636.6px 637.9px,#faebe3 637.9px 639.2px,#f9ece5 639.2px 640.6px,#fbe7db 640.6px 641.9px,#fce0cf 641.9px 643.2px,#fbe4d6 643.2px 644.5px,#fcdecc 644.5px 645.8px,#fdddca 645.8px 647.2px,#fce2d3 647.2px 648.5px,#fbe4d7 648.5px 651.1px,#f9c4a9 651.1px 652.4px,#fddcc8 652.4px 653.8px,#fce1d2 653.8px 655.1px,#fbe4d6 655.1px 656.4px,#f8f3ef 656.4px 657.7px,#f8f4f2 657.7px 659.1px,#f8f3f1 659.1px 660.4px,#f7f5f3 660.4px 661.7px,#f9efea 661.7px 663.0px,#f8f0eb 663.0px 665.7px,#f8f1ec 665.7px 667.0px,#f1f4f6 667.0px 668.3px,#eff3f5 668.3px 669.6px,#f9eee8 669.6px 670.9px,#fcdecc 670.9px 672.3px,#f9eee7 672.3px 673.6px,#f8f0ec 673.6px 674.9px)"></div>
<div class="hm" style="left:1556.51px;top:1717.9px;width:72.69px;height:674.9px;background:linear-gradient(#64a8ce 0.0px 1.3px,#3784bb 1.3px 2.6px,#4896c5 2.6px 4.0px,#286fb1 4.0px 5.3px,#519cc8 5.3px 6.6px,#2e77b5 6.6px 7.9px,#8ec2dd 7.9px 9.2px,#74b2d4 9.2px 10.6px,#3c89be 10.6px 11.9px,#509bc7 11.9px 13.2px,#4e9ac7 13.2px 14.5px,#5ba2cb 14.5px 15.8px,#549ec9 15.8px 17.2px,#7cb7d6 17.2px 18.5px,#2f79b6 18.5px 19.8px,#74b2d4 19.8px 21.1px,#569fc9 21.1px 22.5px,#7db8d7 22.5px 23.8px,#66a9cf 23.8px 25.1px,#4a98c6 25.1px 26.4px,#7cb7d7 26.4px 27.7px,#95c7df 27.7px 29.1px,#a2cde2 29.1px 30.4px,#75b3d4 30.4px 31.7px,#92c5de 31.7px 33.0px,#4190c2 33.0px 34.3px,#559fc9 34.3px 35.7px,#96c7df 35.7px 37.0px,#5aa1cb 37.0px 38.3px,#89bfdb 38.3px 39.6px,#559fc9 39.6px 40.9px,#4695c4 40.9px 42.3px,#4292c3 42.3px 43.6px,#63a7ce 43.6px 44.9px,#4b98c6 44.9px 46.2px,#83bbd9 46.2px 47.5px,#8ec2dd 47.5px 48.9px,#76b3d4 48.9px 50.2px,#aed3e6 50.2px 51.5px,#3e8cbf 51.5px 52.8px,#66a9cf 52.8px 54.2px,#67aacf 54.2px 55.5px,#6fafd2 55.5px 56.8px,#5ea4cc 56.8px 58.1px,#549ec9 58.1px 59.4px,#65a8cf 59.4px 60.8px,#acd2e6 60.8px 62.1px,#a5cfe4 62.1px 63.4px,#a7d0e4 63.4px 64.7px,#b0d4e7 64.7px 66.0px,#add2e6 66.0px 67.4px,#bedbeb 67.4px 68.7px,#60a6cd 68.7px 70.0px,#70b0d2 70.0px 71.3px,#3c89be 71.3px 72.6px,#70b0d3 72.6px 74.0px,#77b4d5 74.0px 75.3px,#7fb9d8 75.3px 76.6px,#73b1d3 76.6px 77.9px,#85bdda 77.9px 79.2px,#86bdda 79.2px 80.6px,#6fafd2 80.6px 81.9px,#4896c5 81.9px 83.2px,#4393c3 83.2px 84.5px,#3d8bbf 84.5px 85.8px,#4e9ac7 85.8px 87.2px,#4c98c6 87.2px 88.5px,#3783bb 88.5px 89.8px,#3f8ec0 89.8px 91.1px,#3e8dc0 91.1px 92.5px,#509bc7 92.5px 93.8px,#2c75b4 93.8px 95.1px,#519cc8 95.1px 96.4px,#61a6cd 96.4px 97.7px,#3a88bd 97.7px 99.1px,#78b5d5 99.1px 100.4px,#63a7ce 100.4px 101.7px,#70b0d2 101.7px 103.0px,#4f9ac7 103.0px 104.3px,#3580b9 104.3px 105.7px,#6aacd0 105.7px 107.0px,#57a0ca 107.0px 108.3px,#6eaed2 108.3px 109.6px,#5ba2cb 109.6px 110.9px,#6cadd1 110.9px 112.3px,#7cb7d6 112.3px 113.6px,#4f9bc7 113.6px 114.9px,#6fafd2 114.9px 116.2px,#8ec2dc 116.2px 117.5px,#62a7ce 117.5px 118.9px,#66a9cf 118.9px 120.2px,#82bbd9 120.2px 121.5px,#5ba2cb 121.5px 122.8px,#4e9ac7 122.8px 124.1px,#60a5cd 124.1px 125.5px,#77b4d5 125.5px 126.8px,#99c8e0 126.8px 128.1px,#6cadd1 128.1px 129.4px,#5fa5cd 129.4px 130.8px,#70afd2 130.8px 132.1px,#6bacd1 132.1px 133.4px,#64a8ce 133.4px 134.7px,#5da4cc 134.7px 136.0px,#4393c3 136.0px 137.4px,#307ab6 137.4px 138.7px,#57a0ca 138.7px 140.0px,#67aacf 140.0px 141.3px,#73b2d4 141.3px 142.6px,#65a8cf 142.6px 144.0px,#57a0ca 144.0px 145.3px,#519cc8 145.3px 146.6px,#559fc9 146.6px 147.9px,#61a6cd 147.9px 149.2px,#73b2d4 149.2px 150.6px,#76b4d5 150.6px 151.9px,#74b2d4 151.9px 153.2px,#6dadd1 153.2px 154.5px,#74b2d4 154.5px 155.8px,#5da4cc 155.8px 157.2px,#90c4dd 157.2px 158.5px,#81bad8 158.5px 159.8px,#89bfdb 159.8px 161.1px,#82bbd8 161.1px 162.5px,#75b2d4 162.5px 163.8px,#4f9bc7 163.8px 165.1px,#76b3d4 165.1px 166.4px,#6cadd1 166.4px 167.7px,#8ac0db 167.7px 169.1px,#57a0ca 169.1px 170.4px,#509bc7 170.4px 171.7px,#d3e6f0 171.7px 173.0px,#d8e8f1 173.0px 174.3px,#cfe4ef 174.3px 175.7px,#c7e0ed 175.7px 177.0px,#6eaed2 177.0px 178.3px,#6cadd1 178.3px 180.9px,#4896c5 180.9px 182.3px,#63a7ce 182.3px 183.6px,#72b0d3 183.6px 184.9px,#58a0ca 184.9px 186.2px,#6cadd1 186.2px 187.5px,#75b3d4 187.5px 188.9px,#6fafd2 188.9px 190.2px,#7ab6d6 190.2px 191.5px,#7bb6d6 191.5px 192.8px,#7bb7d6 192.8px 194.1px,#6daed2 194.1px 195.5px,#5ba2cb 195.5px 196.8px,#66a9cf 196.8px 198.1px,#82bbd9 198.1px 199.4px,#76b3d5 199.4px 200.8px,#63a7ce 200.8px 202.1px,#559ec9 202.1px 203.4px,#4494c3 203.4px 204.7px,#3d8bbf 204.7px 206.0px,#4695c4 206.0px 207.4px,#5ba2cb 207.4px 208.7px,#6fafd2 208.7px 210.0px,#6bacd1 210.0px 211.3px,#67aacf 211.3px 212.6px,#86bdda 212.6px 214.0px,#4190c1 214.0px 215.3px,#74b2d4 215.3px 216.6px,#71b0d3 216.6px 217.9px,#4695c4 217.9px 219.2px,#6fafd2 219.2px 220.6px,#84bcd9 220.6px 221.9px,#8dc2dc 221.9px 223.2px,#7ab6d6 223.2px 224.5px,#74b2d4 224.5px 225.8px,#6eaed2 225.8px 227.2px,#8bc1dc 227.2px 228.5px,#79b5d5 228.5px 229.8px,#4594c4 229.8px 231.1px,#3f8ec0 231.1px 232.5px,#dceaf2 232.5px 233.8px,#edf2f5 233.8px 235.1px,#f2f5f6 235.1px 236.4px,#f8f4f2 236.4px 237.7px,#fddcc8 237.7px 239.1px,#fae7dc 239.1px 240.4px,#f7f6f5 240.4px 241.7px,#e9f0f4 241.7px 243.0px,#f8f2ef 243.0px 244.3px,#f7f6f5 244.3px 245.7px,#f6f7f7 245.7px 247.0px,#f9eee8 247.0px 248.3px,#f8f3f0 248.3px 249.6px,#f8f2ef 249.6px 250.9px,#edf2f5 250.9px 252.3px,#f8f2ee 252.3px 253.6px,#f7f6f6 253.6px 254.9px,#deebf2 254.9px 256.2px,#eaf1f5 256.2px 257.5px,#ecf2f5 257.5px 258.9px,#bfdceb 258.9px 260.2px,#f2f5f6 260.2px 261.5px,#e1ecf3 261.5px 262.8px,#f8f0ec 262.8px 264.1px,#e8f0f4 264.1px 265.5px,#eff3f5 265.5px 266.8px,#f7f6f6 266.8px 268.1px,#edf2f5 268.1px 269.4px,#faebe2 269.4px 270.8px,#fce2d2 270.8px 272.1px,#faccb3 272.1px 273.4px,#fcd3bd 273.4px 274.7px,#fdddca 274.7px 276.0px,#f9c2a6 276.0px 277.4px,#fbceb7 277.4px 278.7px,#f8f2ef 278.7px 280.0px,#fce2d2 280.0px 281.3px,#fddac6 281.3px 282.6px,#fbe3d5 282.6px 284.0px,#fcdfcd 284.0px 285.3px,#fdd9c5 285.3px 286.6px,#dd705a 286.6px 287.9px,#de735b 287.9px 289.2px,#d35a4a 289.2px 290.6px,#d96753 290.6px 291.9px,#d6614e 291.9px 293.2px,#d96652 293.2px 294.5px,#c7423f 294.5px 295.8px,#c63f3e 295.8px 297.2px,#be2f36 297.2px 298.5px,#bf3338 298.5px 299.8px,#c2393a 299.8px 301.1px,#c94641 301.1px 302.5px,#cb4a42 302.5px 303.8px,#cf5246 303.8px 305.1px,#c94741 305.1px 306.4px,#c94540 306.4px 307.7px,#c6403e 307.7px 309.1px,#c33b3b 309.1px 310.4px,#c03338 310.4px 311.7px,#ec9274 311.7px 313.0px,#e98d6f 313.0px 314.3px,#e48166 314.3px 315.7px,#e98c6f 315.7px 317.0px,#f3a381 317.0px 318.3px,#f2a07e 318.3px 319.6px,#ef9979 319.6px 320.9px,#e68468 320.9px 322.3px,#f5a987 322.3px 323.6px,#dc6e58 323.6px 324.9px,#e7886c 324.9px 326.2px,#e27b62 326.2px 327.5px,#e98c6f 327.5px 328.9px,#df745c 328.9px 330.2px,#ed9475 330.2px 331.5px,#e88a6e 331.5px 332.8px,#e48066 332.8px 334.1px,#de735b 334.1px 335.5px,#e98b6e 335.5px 336.8px,#e68468 336.8px 338.1px,#ec9274 338.1px 339.4px,#ef9979 339.4px 340.8px,#dc6f58 340.8px 342.1px,#e47f65 342.1px 343.4px,#ec9374 343.4px 344.7px,#f4a885 344.7px 346.0px,#ea8e70 346.0px 347.4px,#f6ae8e 347.4px 348.7px,#f4a784 348.7px 350.0px,#f2a07e 350.0px 351.3px,#eb9072 351.3px 352.6px,#b51d2d 352.6px 354.0px,#bd2f36 354.0px 355.3px,#c63f3d 355.3px 356.6px,#c03438 356.6px 357.9px,#c3393b 357.9px 359.2px,#c03338 359.2px 360.6px,#c53e3d 360.6px 361.9px,#c43d3c 361.9px 363.2px,#bf3338 363.2px 364.5px,#c7413e 364.5px 365.8px,#c33b3b 365.8px 367.2px,#ca4741 367.2px 368.5px,#c84540 368.5px 369.8px,#c53e3d 369.8px 371.1px,#c13539 371.1px 372.4px,#b92732 372.4px 373.8px,#c53f3d 373.8px 375.1px,#b41d2d 375.1px 376.4px,#b72230 376.4px 377.7px,#c13639 377.7px 379.1px,#bf3237 379.1px 380.4px,#c03438 380.4px 381.7px,#c2383a 381.7px 383.0px,#be3137 383.0px 384.3px,#c03539 384.3px 385.7px,#c13639 385.7px 387.0px,#fcdecd 387.0px 388.3px,#fae7dc 388.3px 389.6px,#d2e5f0 389.6px 390.9px,#e5eff4 390.9px 392.3px,#e9f0f4 392.3px 393.6px,#dbeaf2 393.6px 394.9px,#fcd5bf 394.9px 396.2px,#fac9b0 396.2px 397.5px,#f8c0a4 397.5px 398.9px,#f5a988 398.9px 400.2px,#f5ad8c 400.2px 401.5px,#ef9a7a 401.5px 402.8px,#ed9575 402.8px 404.1px,#f7b799 404.1px 405.5px,#f2a07e 405.5px 406.8px,#fac7ae 406.8px 408.1px,#f8bea2 408.1px 409.4px,#f9c4aa 409.4px 410.8px,#f8bc9f 410.8px 412.1px,#f9c3a8 412.1px 413.4px,#f6b292 413.4px 414.7px,#e88a6e 414.7px 416.0px,#f5aa88 416.0px 417.4px,#f7b799 417.4px 418.7px,#f9c1a6 418.7px 420.0px,#f8bfa3 420.0px 421.3px,#f5aa88 421.3px 422.6px,#f7f6f5 422.6px 424.0px,#f7f5f4 424.0px 425.3px,#f7f7f7 425.3px 426.6px,#ed9575 426.6px 427.9px,#f7b697 427.9px 429.2px,#ec9274 429.2px 430.6px,#ef9979 430.6px 431.9px,#f4a684 431.9px 433.2px,#f5ac8b 433.2px 434.5px,#f6b191 434.5px 435.8px,#fac9b0 435.8px 437.2px,#f9ede5 437.2px 438.5px,#fbe6da 438.5px 439.8px,#f9ece4 439.8px 441.1px,#fbe7db 441.1px 442.4px,#faebe3 442.4px 443.8px,#fbe3d5 443.8px 445.1px,#fbe2d4 445.1px 446.4px,#f9ede5 446.4px 447.7px,#fcdecd 447.7px 449.1px,#fce0cf 449.1px 450.4px,#fbe5d9 450.4px 451.7px,#f5ac8b 451.7px 453.0px,#e8896c 453.0px 454.3px,#f4a886 454.3px 455.7px,#f4a582 455.7px 457.0px,#f2a17f 457.0px 458.3px,#e58267 458.3px 459.6px,#eb8f71 459.6px 460.9px,#f3a381 460.9px 462.3px,#f4a582 462.3px 463.6px,#f6b08f 463.6px 464.9px,#f5aa88 464.9px 466.2px,#f7b799 466.2px 467.5px,#f7b496 467.5px 468.9px,#f7b597 468.9px 470.2px,#a4cee3 470.2px 471.5px,#cce3ef 471.5px 472.8px,#bedbea 472.8px 474.1px,#d2e6f0 474.1px 475.5px,#d4e7f1 475.5px 476.8px,#e0ecf3 476.8px 478.1px,#e4eef4 478.1px 479.4px,#e7eff4 479.4px 480.8px,#bfdceb 480.8px 482.1px,#c5dfed 482.1px 483.4px,#d1e5f0 483.4px 484.7px,#dbeaf2 484.7px 486.0px,#c2ddec 486.0px 487.4px,#cde3ef 487.4px 488.7px,#c0dceb 488.7px 490.0px,#c8e0ed 490.0px 491.3px,#cbe2ee 491.3px 492.6px,#deebf2 492.6px 494.0px,#ecf2f5 494.0px 495.3px,#e5eef4 495.3px 496.6px,#fbe4d6 496.6px 497.9px,#fbe5d9 497.9px 499.2px,#fce2d3 499.2px 500.6px,#f8f2ee 500.6px 501.9px,#fbe6d9 501.9px 503.2px,#f8f2ee 503.2px 504.5px,#f7f5f3 504.5px 505.8px,#f8f3f0 505.8px 507.2px,#f9eee8 507.2px 508.5px,#f9efe9 508.5px 509.8px,#f8f0ec 509.8px 512.4px,#fae8dd 512.4px 513.8px,#f8f1ed 513.8px 516.4px,#fae7dc 516.4px 517.7px,#fbe5d9 517.7px 519.1px,#fbe4d7 519.1px 520.4px,#fcd8c3 520.4px 521.7px,#fae9de 521.7px 523.0px,#fbe3d6 523.0px 524.3px,#fae7db 524.3px 525.7px,#fbe4d7 525.7px 527.0px,#eaf1f5 527.0px 528.3px,#fbe6da 528.3px 529.6px,#f9c1a6 529.6px 530.9px,#f8bda1 530.9px 532.3px,#facab1 532.3px 533.6px,#f9c1a5 533.6px 534.9px,#e7886c 534.9px 536.2px,#f6b293 536.2px 537.5px,#f6b091 537.5px 538.9px,#f9c5ac 538.9px 540.2px,#f7b799 540.2px 541.5px,#fcdecc 541.5px 542.8px,#fcdecd 542.8px 544.1px,#fcd4be 544.1px 545.5px,#fddcc9 545.5px 546.8px,#fcd6c1 546.8px 548.1px,#fce1d2 548.1px 549.4px,#fcdecb 549.4px 550.8px,#fcd6c1 550.8px 552.1px,#fdddca 552.1px 553.4px,#fae7db 553.4px 554.7px,#faebe3 554.7px 556.0px,#fae7dc 556.0px 557.4px,#fce0d0 557.4px 560.0px,#fcdfcd 560.0px 561.3px,#fdddca 561.3px 562.6px,#fce0cf 562.6px 564.0px,#faebe2 564.0px 565.3px,#fbe5d8 565.3px 566.6px,#fac9b0 566.6px 567.9px,#fbd2bb 567.9px 569.2px,#fbceb6 569.2px 570.6px,#fbd0b9 570.6px 571.9px,#f9eee8 571.9px 573.2px,#fce1d1 573.2px 574.5px,#fae7dc 574.5px 575.8px,#fbe5d9 575.8px 577.2px,#fae9df 577.2px 578.5px,#fbceb6 578.5px 579.8px,#fbe3d5 579.8px 581.1px,#fae7dc 581.1px 582.4px,#f4f6f6 582.4px 583.8px,#f2f5f6 583.8px 585.1px,#f8f5f3 585.1px 586.4px,#f0f4f6 586.4px 587.7px,#e8f0f4 587.7px 589.1px,#f2f5f6 589.1px 590.4px,#f7f6f6 590.4px 591.7px,#ebf1f5 591.7px 593.0px,#e7f0f4 593.0px 594.3px,#e7eff4 594.3px 595.7px,#d4e7f1 595.7px 597.0px,#f0f4f6 597.0px 598.3px,#f2f5f6 598.3px 599.6px,#f6f6f7 599.6px 602.3px,#f8f1ec 602.3px 603.6px,#f8f2ee 603.6px 604.9px,#e9f0f4 604.9px 606.2px,#f9ede6 606.2px 607.5px,#d3e6f0 607.5px 608.9px,#f7f5f3 608.9px 610.2px,#edf2f5 610.2px 611.5px,#f7f5f4 611.5px 612.8px,#dceaf2 612.8px 614.1px,#eef3f5 614.1px 615.5px,#e8f0f4 615.5px 616.8px,#fddac5 616.8px 618.1px,#f7f7f7 618.1px 619.4px,#f7f6f5 619.4px 620.7px,#f8f3f0 620.7px 622.1px,#fbe7db 622.1px 623.4px,#f7f7f7 623.4px 624.7px,#ecf2f5 624.7px 626.0px,#f8f4f2 626.0px 627.4px,#f7f5f4 627.4px 628.7px,#f9ece4 628.7px 630.0px,#f8f2ef 630.0px 631.3px,#fce0cf 631.3px 632.6px,#edf2f5 632.6px 634.0px,#f4f6f6 634.0px 636.6px,#f0f4f6 636.6px 637.9px,#eff3f6 637.9px 639.2px,#f1f4f6 639.2px 640.6px,#f7f5f3 640.6px 641.9px,#eff3f5 641.9px 643.2px,#f9ece4 643.2px 644.5px,#f9ece5 644.5px 645.8px,#f7f7f7 645.8px 647.2px,#eef3f5 647.2px 648.5px,#f8f2ee 648.5px 649.8px,#f3f5f6 649.8px 651.1px,#f1f4f6 651.1px 653.8px,#ecf2f5 653.8px 655.1px,#f1f4f6 655.1px 656.4px,#eaf1f5 656.4px 657.7px,#e0ecf3 657.7px 659.1px,#eaf1f5 659.1px 660.4px,#f8f1ed 660.4px 663.0px,#edf2f5 663.0px 664.3px,#f8f4f1 664.3px 665.7px,#f8f4f2 665.7px 667.0px,#f6f7f7 667.0px 668.3px,#faebe3 668.3px 669.6px,#f4f6f7 669.6px 670.9px,#f7f5f4 670.9px 672.3px,#f3f5f6 672.3px 673.6px,#e4eef3 673.6px 674.9px)"></div>
<svg width="1821" height="2500" viewBox="0 0 1821 2500">
<text x="1.3" y="27.1" font-size="41" font-weight="bold" text-anchor="start" fill="#000" >A</text>
<text x="457.7" y="54.1" font-size="39.2" font-weight="bold" text-anchor="middle" fill="#000" >Head kidney</text>
<line x1="205.5" y1="81.6" x2="205.5" y2="563.3" stroke="#EBEBEB" stroke-width="1.3"/>
<line x1="255.55" y1="81.6" x2="255.55" y2="563.3" stroke="#EBEBEB" stroke-width="1.3"/>
<line x1="305.6" y1="81.6" x2="305.6" y2="563.3" stroke="#EBEBEB" stroke-width="1.3"/>
<line x1="355.65" y1="81.6" x2="355.65" y2="563.3" stroke="#EBEBEB" stroke-width="1.3"/>
<line x1="405.7" y1="81.6" x2="405.7" y2="563.3" stroke="#EBEBEB" stroke-width="1.3"/>
<line x1="455.75" y1="81.6" x2="455.75" y2="563.3" stroke="#EBEBEB" stroke-width="1.3"/>
<line x1="505.79999999999995" y1="81.6" x2="505.79999999999995" y2="563.3" stroke="#EBEBEB" stroke-width="1.3"/>
<line x1="555.8499999999999" y1="81.6" x2="555.8499999999999" y2="563.3" stroke="#EBEBEB" stroke-width="1.3"/>
<line x1="605.9" y1="81.6" x2="605.9" y2="563.3" stroke="#EBEBEB" stroke-width="1.3"/>
<line x1="655.95" y1="81.6" x2="655.95" y2="563.3" stroke="#EBEBEB" stroke-width="1.3"/>
<line x1="706.0" y1="81.6" x2="706.0" y2="563.3" stroke="#EBEBEB" stroke-width="1.3"/>
<line x1="162.8" y1="110.2" x2="754.4" y2="110.2" stroke="#EBEBEB" stroke-width="1.3"/>
<line x1="162.8" y1="160.28" x2="754.4" y2="160.28" stroke="#EBEBEB" stroke-width="1.3"/>
<line x1="162.8" y1="210.36" x2="754.4" y2="210.36" stroke="#EBEBEB" stroke-width="1.3"/>
<line x1="162.8" y1="260.44" x2="754.4" y2="260.44" stroke="#EBEBEB" stroke-width="1.3"/>
<line x1="162.8" y1="310.52" x2="754.4" y2="310.52" stroke="#EBEBEB" stroke-width="1.3"/>
<line x1="162.8" y1="360.59999999999997" x2="754.4" y2="360.59999999999997" stroke="#EBEBEB" stroke-width="1.3"/>
<line x1="162.8" y1="410.68" x2="754.4" y2="410.68" stroke="#EBEBEB" stroke-width="1.3"/>
<line x1="162.8" y1="460.76" x2="754.4" y2="460.76" stroke="#EBEBEB" stroke-width="1.3"/>
<line x1="162.8" y1="510.84" x2="754.4" y2="510.84" stroke="#EBEBEB" stroke-width="1.3"/>
<ellipse cx="422" cy="298.7" rx="171.3" ry="78.7" transform="rotate(-37.35 422 298.7)" fill="none" stroke="#E41A1C" stroke-width="2.6"/>
<ellipse cx="588.8" cy="322.2" rx="44.25" ry="201.5" transform="rotate(6.32 588.8 322.2)" fill="none" stroke="#377EB8" stroke-width="2.6"/>
<circle cx="614" cy="250.6" r="6.3" fill="#377EB8"/>
<circle cx="590.5" cy="281.6" r="6.3" fill="#377EB8"/>
<circle cx="565.1" cy="319.1" r="6.3" fill="#377EB8"/>
<circle cx="585.7" cy="437" r="6.3" fill="#377EB8"/>
<circle cx="417.9" cy="246" r="6.3" fill="#E41A1C"/>
<circle cx="465.8" cy="278.7" r="6.3" fill="#E41A1C"/>
<circle cx="463.9" cy="307" r="6.3" fill="#E41A1C"/>
<circle cx="339.9" cy="363.2" r="6.3" fill="#E41A1C"/>
<rect x="162.8" y="81.6" width="591.6" height="481.7" fill="none" stroke="#000" stroke-width="3"/>
<line x1="155.8" y1="110.2" x2="162.8" y2="110.2" stroke="#000" stroke-width="2.4"/>
<text x="152" y="119.2" font-size="18.3" font-weight="bold" text-anchor="end" fill="#000" >200</text>
<line x1="155.8" y1="210.4" x2="162.8" y2="210.4" stroke="#000" stroke-width="2.4"/>
<text x="152" y="218.1" font-size="18.3" font-weight="bold" text-anchor="end" fill="#000" >100</text>
<line x1="155.8" y1="310.6" x2="162.8" y2="310.6" stroke="#000" stroke-width="2.4"/>
<text x="152" y="318.2" font-size="18.3" font-weight="bold" text-anchor="end" fill="#000" >0</text>
<line x1="155.8" y1="410.8" x2="162.8" y2="410.8" stroke="#000" stroke-width="2.4"/>
<text x="152" y="418.0" font-size="18.3" font-weight="bold" text-anchor="end" fill="#000" >-100</text>
<line x1="155.8" y1="510.9" x2="162.8" y2="510.9" stroke="#000" stroke-width="2.4"/>
<text x="152" y="518.1" font-size="18.3" font-weight="bold" text-anchor="end" fill="#000" >-200</text>
<line x1="205" y1="563.3" x2="205" y2="569.3" stroke="#000" stroke-width="2.4"/>
<text x="205" y="586.3" font-size="18.3" font-weight="bold" text-anchor="middle" fill="#000" >-300</text>
<line x1="305" y1="563.3" x2="305" y2="569.3" stroke="#000" stroke-width="2.4"/>
<text x="305" y="586.3" font-size="18.3" font-weight="bold" text-anchor="middle" fill="#000" >-200</text>
<line x1="405" y1="563.3" x2="405" y2="569.3" stroke="#000" stroke-width="2.4"/>
<text x="405" y="586.3" font-size="18.3" font-weight="bold" text-anchor="middle" fill="#000" >-100</text>
<line x1="505" y1="563.3" x2="505" y2="569.3" stroke="#000" stroke-width="2.4"/>
<text x="505" y="586.3" font-size="18.3" font-weight="bold" text-anchor="middle" fill="#000" >0</text>
<line x1="605" y1="563.3" x2="605" y2="569.3" stroke="#000" stroke-width="2.4"/>
<text x="605" y="586.3" font-size="18.3" font-weight="bold" text-anchor="middle" fill="#000" >100</text>
<line x1="705" y1="563.3" x2="705" y2="569.3" stroke="#000" stroke-width="2.4"/>
<text x="705" y="586.3" font-size="18.3" font-weight="bold" text-anchor="middle" fill="#000" >200</text>
<text x="458.5" y="619.0" font-size="22.6" font-weight="bold" text-anchor="middle" fill="#000" >PC1 (39.2%)</text>
<text x="0" y="0" font-size="22.5" font-weight="bold" text-anchor="middle" fill="#000" transform="translate(97.3,326.4) rotate(-90)">PC2 (16.6%)</text>
<circle cx="783" cy="280.5" r="7" fill="#377EB8"/>
<text x="795.2" y="289" font-size="22.8" font-weight="bold" text-anchor="start" fill="#000" >Control</text>
<circle cx="781.8" cy="323.4" r="7" fill="#E41A1C"/>
<text x="795.5" y="330.5" font-size="22.3" font-weight="bold" text-anchor="start" fill="#000" >Bacteria</text>
<text x="1286.4" y="45.9" font-size="39.4" font-weight="bold" text-anchor="middle" fill="#000" >Intestine</text>
<line x1="1043.3" y1="78.6" x2="1043.3" y2="561.5" stroke="#EBEBEB" stroke-width="1.3"/>
<line x1="1093.4" y1="78.6" x2="1093.4" y2="561.5" stroke="#EBEBEB" stroke-width="1.3"/>
<line x1="1143.5" y1="78.6" x2="1143.5" y2="561.5" stroke="#EBEBEB" stroke-width="1.3"/>
<line x1="1193.6" y1="78.6" x2="1193.6" y2="561.5" stroke="#EBEBEB" stroke-width="1.3"/>
<line x1="1243.7" y1="78.6" x2="1243.7" y2="561.5" stroke="#EBEBEB" stroke-width="1.3"/>
<line x1="1293.8" y1="78.6" x2="1293.8" y2="561.5" stroke="#EBEBEB" stroke-width="1.3"/>
<line x1="1343.9" y1="78.6" x2="1343.9" y2="561.5" stroke="#EBEBEB" stroke-width="1.3"/>
<line x1="1394.0" y1="78.6" x2="1394.0" y2="561.5" stroke="#EBEBEB" stroke-width="1.3"/>
<line x1="1444.1" y1="78.6" x2="1444.1" y2="561.5" stroke="#EBEBEB" stroke-width="1.3"/>
<line x1="1494.2" y1="78.6" x2="1494.2" y2="561.5" stroke="#EBEBEB" stroke-width="1.3"/>
<line x1="1544.3" y1="78.6" x2="1544.3" y2="561.5" stroke="#EBEBEB" stroke-width="1.3"/>
<line x1="997.8" y1="89.6" x2="1591.5" y2="89.6" stroke="#EBEBEB" stroke-width="1.3"/>
<line x1="997.8" y1="139.7" x2="1591.5" y2="139.7" stroke="#EBEBEB" stroke-width="1.3"/>
<line x1="997.8" y1="189.8" x2="1591.5" y2="189.8" stroke="#EBEBEB" stroke-width="1.3"/>
<line x1="997.8" y1="239.9" x2="1591.5" y2="239.9" stroke="#EBEBEB" stroke-width="1.3"/>
<line x1="997.8" y1="290.0" x2="1591.5" y2="290.0" stroke="#EBEBEB" stroke-width="1.3"/>
<line x1="997.8" y1="340.1" x2="1591.5" y2="340.1" stroke="#EBEBEB" stroke-width="1.3"/>
<line x1="997.8" y1="390.2" x2="1591.5" y2="390.2" stroke="#EBEBEB" stroke-width="1.3"/>
<line x1="997.8" y1="440.3" x2="1591.5" y2="440.3" stroke="#EBEBEB" stroke-width="1.3"/>
<line x1="997.8" y1="490.4" x2="1591.5" y2="490.4" stroke="#EBEBEB" stroke-width="1.3"/>
<line x1="997.8" y1="540.5" x2="1591.5" y2="540.5" stroke="#EBEBEB" stroke-width="1.3"/>
<ellipse cx="1284.5" cy="320" rx="240.4" ry="123.7" transform="rotate(49.9 1284.5 320)" fill="none" stroke="#E41A1C" stroke-width="2.6"/>
<ellipse cx="1403.2" cy="260.5" rx="122" ry="22.5" transform="rotate(49.6 1403.2 260.5)" fill="none" stroke="#377EB8" stroke-width="2.6"/>
<circle cx="1358.9" cy="204.6" r="6.3" fill="#377EB8"/>
<circle cx="1396.5" cy="269" r="6.3" fill="#377EB8"/>
<circle cx="1429.3" cy="275.4" r="6.3" fill="#377EB8"/>
<circle cx="1428.5" cy="293.4" r="6.3" fill="#377EB8"/>
<circle cx="1223" cy="200.1" r="6.3" fill="#E41A1C"/>
<circle cx="1359.8" cy="345.5" r="6.3" fill="#E41A1C"/>
<circle cx="1335.7" cy="382.7" r="6.3" fill="#E41A1C"/>
<circle cx="1218.8" cy="350.7" r="6.3" fill="#E41A1C"/>
<rect x="997.8" y="78.6" width="593.7" height="482.9" fill="none" stroke="#000" stroke-width="2.7"/>
<line x1="990.8" y1="89.8" x2="997.8" y2="89.8" stroke="#000" stroke-width="2.4"/>
<text x="987.5" y="97.1" font-size="18.3" font-weight="bold" text-anchor="end" fill="#000" >200</text>
<line x1="990.8" y1="190" x2="997.8" y2="190" stroke="#000" stroke-width="2.4"/>
<text x="987.5" y="197.3" font-size="18.3" font-weight="bold" text-anchor="end" fill="#000" >100</text>
<line x1="990.8" y1="290.2" x2="997.8" y2="290.2" stroke="#000" stroke-width="2.4"/>
<text x="987.5" y="297.5" font-size="18.3" font-weight="bold" text-anchor="end" fill="#000" >0</text>
<line x1="990.8" y1="390.3" x2="997.8" y2="390.3" stroke="#000" stroke-width="2.4"/>
<text x="987.5" y="397.6" font-size="18.3" font-weight="bold" text-anchor="end" fill="#000" >-100</text>
<line x1="990.8" y1="490.5" x2="997.8" y2="490.5" stroke="#000" stroke-width="2.4"/>
<text x="987.5" y="497.8" font-size="18.3" font-weight="bold" text-anchor="end" fill="#000" >-200</text>
<line x1="1043.3" y1="561.5" x2="1043.3" y2="567.5" stroke="#000" stroke-width="2.4"/>
<text x="1043.3" y="584.1" font-size="18.3" font-weight="bold" text-anchor="middle" fill="#000" >-300</text>
<line x1="1143.5" y1="561.5" x2="1143.5" y2="567.5" stroke="#000" stroke-width="2.4"/>
<text x="1143.5" y="584.1" font-size="18.3" font-weight="bold" text-anchor="middle" fill="#000" >-200</text>
<line x1="1243.7" y1="561.5" x2="1243.7" y2="567.5" stroke="#000" stroke-width="2.4"/>
<text x="1243.7" y="584.1" font-size="18.3" font-weight="bold" text-anchor="middle" fill="#000" >-100</text>
<line x1="1343.9" y1="561.5" x2="1343.9" y2="567.5" stroke="#000" stroke-width="2.4"/>
<text x="1343.9" y="584.1" font-size="18.3" font-weight="bold" text-anchor="middle" fill="#000" >0</text>
<line x1="1444.1" y1="561.5" x2="1444.1" y2="567.5" stroke="#000" stroke-width="2.4"/>
<text x="1444.1" y="584.1" font-size="18.3" font-weight="bold" text-anchor="middle" fill="#000" >100</text>
<line x1="1544.3" y1="561.5" x2="1544.3" y2="567.5" stroke="#000" stroke-width="2.4"/>
<text x="1544.3" y="584.1" font-size="18.3" font-weight="bold" text-anchor="middle" fill="#000" >-200</text>
<svg x="0" y="0" width="1821" height="612.6" overflow="hidden"><text x="1296.7" y="613.2" font-size="22.6" font-weight="bold" text-anchor="middle" fill="#000" >PC1 (29.5%)</text></svg>
<text x="0" y="0" font-size="22.5" font-weight="bold" text-anchor="middle" fill="#000" transform="translate(938,318.2) rotate(-90)">PC2 (19.4%)</text>
<circle cx="1623.6" cy="282.4" r="7" fill="#377EB8"/>
<text x="1636.2" y="290.7" font-size="22.8" font-weight="bold" text-anchor="start" fill="#000" >Control</text>
<circle cx="1622.5" cy="325" r="7" fill="#E41A1C"/>
<text x="1636.5" y="332.5" font-size="22.3" font-weight="bold" text-anchor="start" fill="#000" >Bacteria</text>
<text x="-1" y="690.3" font-size="35" font-weight="bold" text-anchor="start" fill="#000" >B</text>
<line x1="136.2" y1="717.5" x2="136.2" y2="1416.2" stroke="#000" stroke-width="1.6"/>
<line x1="129.8" y1="717.5" x2="136.2" y2="717.5" stroke="#000" stroke-width="1.6"/>
<text x="118.2" y="724.4" font-size="20.5" font-weight="bold" text-anchor="end" fill="#000" >800</text>
<line x1="129.8" y1="804.8" x2="136.2" y2="804.8" stroke="#000" stroke-width="1.6"/>
<text x="118.2" y="811.7" font-size="20.5" font-weight="bold" text-anchor="end" fill="#000" >600</text>
<line x1="129.8" y1="892.2" x2="136.2" y2="892.2" stroke="#000" stroke-width="1.6"/>
<text x="118.2" y="899.1" font-size="20.5" font-weight="bold" text-anchor="end" fill="#000" >400</text>
<line x1="129.8" y1="979.5" x2="136.2" y2="979.5" stroke="#000" stroke-width="1.6"/>
<text x="118.2" y="986.4" font-size="20.5" font-weight="bold" text-anchor="end" fill="#000" >200</text>
<line x1="129.8" y1="1066.8" x2="136.2" y2="1066.8" stroke="#000" stroke-width="1.6"/>
<text x="118.2" y="1073.7" font-size="20.5" font-weight="bold" text-anchor="end" fill="#000" >0</text>
<line x1="129.8" y1="1154.2" x2="136.2" y2="1154.2" stroke="#000" stroke-width="1.6"/>
<text x="118.2" y="1161.1" font-size="20.5" font-weight="bold" text-anchor="end" fill="#000" >200</text>
<line x1="129.8" y1="1241.5" x2="136.2" y2="1241.5" stroke="#000" stroke-width="1.6"/>
<text x="118.2" y="1248.4" font-size="20.5" font-weight="bold" text-anchor="end" fill="#000" >400</text>
<line x1="129.8" y1="1328.8" x2="136.2" y2="1328.8" stroke="#000" stroke-width="1.6"/>
<text x="118.2" y="1335.7" font-size="20.5" font-weight="bold" text-anchor="end" fill="#000" >600</text>
<line x1="129.8" y1="1416.1" x2="136.2" y2="1416.1" stroke="#000" stroke-width="1.6"/>
<text x="118.2" y="1423.0" font-size="20.5" font-weight="bold" text-anchor="end" fill="#000" >800</text>
<text x="0" y="0" font-size="24.65" font-weight="bold" text-anchor="middle" fill="#000" transform="translate(46,1080.5) rotate(-90)">NUMBER OF MODULATED GENES</text>
<rect x="290.6" y="780.3" width="206.39999999999998" height="1.3000000000000682" fill="#375623" stroke="#3c3c3c" stroke-width="1"/>
<rect x="290.6" y="781.6" width="206.39999999999998" height="7.100000000000023" fill="#548235" stroke="#3c3c3c" stroke-width="1"/>
<rect x="290.6" y="788.7" width="206.39999999999998" height="42.59999999999991" fill="#A9D18E" stroke="#3c3c3c" stroke-width="1"/>
<rect x="290.6" y="831.3" width="206.39999999999998" height="34.30000000000007" fill="#C5E0B4" stroke="#3c3c3c" stroke-width="1"/>
<rect x="290.6" y="865.6" width="206.39999999999998" height="201.19999999999993" fill="#E2EFDA" stroke="#3c3c3c" stroke-width="1"/>
<rect x="290.6" y="1066.8" width="206.39999999999998" height="156.60000000000014" fill="#FF9999" stroke="#3c3c3c" stroke-width="1"/>
<rect x="290.6" y="1223.4" width="206.39999999999998" height="50.299999999999955" fill="#FF7C80" stroke="#3c3c3c" stroke-width="1"/>
<rect x="290.6" y="1273.7" width="206.39999999999998" height="4.5" fill="#FF5050" stroke="#3c3c3c" stroke-width="1"/>
<rect x="290.6" y="1278.2" width="206.39999999999998" height="1.2000000000000455" fill="#FF0000" stroke="#3c3c3c" stroke-width="1"/>
<rect x="290.6" y="1279.4" width="206.39999999999998" height="1.099999999999909" fill="#C00000" stroke="#3c3c3c" stroke-width="1"/>
<rect x="681.1" y="921.1" width="206.19999999999993" height="1.2999999999999545" fill="#375623" stroke="#3c3c3c" stroke-width="1"/>
<rect x="681.1" y="922.4" width="206.19999999999993" height="2.6000000000000227" fill="#548235" stroke="#3c3c3c" stroke-width="1"/>
<rect x="681.1" y="925" width="206.19999999999993" height="19.700000000000045" fill="#A9D18E" stroke="#3c3c3c" stroke-width="1"/>
<rect x="681.1" y="944.7" width="206.19999999999993" height="17.399999999999977" fill="#C5E0B4" stroke="#3c3c3c" stroke-width="1"/>
<rect x="681.1" y="962.1" width="206.19999999999993" height="104.69999999999993" fill="#E2EFDA" stroke="#3c3c3c" stroke-width="1"/>
<rect x="681.1" y="1066.8" width="206.19999999999993" height="66.79999999999995" fill="#FF9999" stroke="#3c3c3c" stroke-width="1"/>
<rect x="681.1" y="1133.6" width="206.19999999999993" height="4.0" fill="#FF7C80" stroke="#3c3c3c" stroke-width="1"/>
<rect x="681.1" y="1137.6" width="206.19999999999993" height="2.6000000000001364" fill="#FF5050" stroke="#3c3c3c" stroke-width="1"/>
<rect x="681.1" y="1140.2" width="206.19999999999993" height="0.8999999999998636" fill="#FF0000" stroke="#3c3c3c" stroke-width="1"/>
<rect x="681.1" y="1141.1" width="206.19999999999993" height="2.900000000000091" fill="#C00000" stroke="#3c3c3c" stroke-width="1"/>
<line x1="136.2" y1="1066.8" x2="954" y2="1066.8" stroke="#000" stroke-width="1.5"/>
<text x="394.9" y="747.8" font-size="24.4" font-weight="bold" text-anchor="middle" fill="#000" >Head kidney</text>
<text x="786.1" y="747.8" font-size="24.4" font-weight="bold" text-anchor="middle" fill="#000" >Intestine</text>
<text x="273.5" y="1035.2" font-size="24.2" font-weight="bold" text-anchor="end" fill="#000" >656</text>
<text x="274.3" y="1116.1" font-size="24.2" font-weight="bold" text-anchor="end" fill="#000" >489</text>
<text x="668" y="1037.9" font-size="24.2" font-weight="bold" text-anchor="end" fill="#000" >335</text>
<text x="670" y="1110.5" font-size="24.2" font-weight="bold" text-anchor="end" fill="#000" >176</text>
<line x1="218" y1="1126" x2="285" y2="1126" stroke="#eeeeee" stroke-width="1"/>
<line x1="612" y1="1119" x2="672" y2="1119" stroke="#eeeeee" stroke-width="1"/>
<text x="392.9" y="1370.7" font-size="24" font-weight="bold" text-anchor="middle" fill="#000" >1,145 DEGs</text>
<text x="781.4" y="1370.5" font-size="24" font-weight="bold" text-anchor="middle" fill="#000" >511 DEGs</text>
<text x="1001.3" y="887.6" font-size="16.75" font-weight="bold" text-anchor="start" fill="#000" >Up-regulated</text>
<rect x="1024.8" y="905.0" width="10" height="10" fill="#375623" stroke="#3a3a3a" stroke-width="0.9"/>
<text x="0" y="0" font-size="16.6" font-weight="bold" text-anchor="start" fill="#000" transform="translate(1039.3,915.6) scale(1.12,1)">&gt;100</text>
<rect x="1024.8" y="939.8" width="10" height="10" fill="#548235" stroke="#3a3a3a" stroke-width="0.9"/>
<text x="0" y="0" font-size="16.6" font-weight="bold" text-anchor="start" fill="#000" transform="translate(1039.3,950.4) scale(1.12,1)">50-100</text>
<rect x="1024.8" y="974.1" width="10" height="10" fill="#A9D18E" stroke="#3a3a3a" stroke-width="0.9"/>
<text x="0" y="0" font-size="16.6" font-weight="bold" text-anchor="start" fill="#000" transform="translate(1039.3,984.7) scale(1.12,1)">10-50</text>
<rect x="1024.8" y="1008.3" width="10" height="10" fill="#C5E0B4" stroke="#3a3a3a" stroke-width="0.9"/>
<text x="0" y="0" font-size="16.6" font-weight="bold" text-anchor="start" fill="#000" transform="translate(1039.3,1018.9) scale(1.12,1)">5-10</text>
<rect x="1024.8" y="1043.0" width="10" height="10" fill="#E2EFDA" stroke="#3a3a3a" stroke-width="0.9"/>
<text x="0" y="0" font-size="16.6" font-weight="bold" text-anchor="start" fill="#000" transform="translate(1039.3,1053.6) scale(1.12,1)">2-5</text>
<text x="993.7" y="1102.9" font-size="16.85" font-weight="bold" text-anchor="start" fill="#000" >Down-regulated</text>
<rect x="1025.2" y="1120.2" width="10" height="10" fill="#FF9999" stroke="#3a3a3a" stroke-width="0.9"/>
<text x="0" y="0" font-size="16.6" font-weight="bold" text-anchor="start" fill="#000" transform="translate(1039.6,1130.8) scale(1.12,1)">2-5</text>
<rect x="1025.2" y="1152.8" width="10" height="10" fill="#FF7C80" stroke="#3a3a3a" stroke-width="0.9"/>
<text x="0" y="0" font-size="16.6" font-weight="bold" text-anchor="start" fill="#000" transform="translate(1039.6,1163.4) scale(1.12,1)">5-10</text>
<rect x="1025.2" y="1186.5" width="10" height="10" fill="#FF5050" stroke="#3a3a3a" stroke-width="0.9"/>
<text x="0" y="0" font-size="16.6" font-weight="bold" text-anchor="start" fill="#000" transform="translate(1039.6,1197.1) scale(1.12,1)">10-50</text>
<rect x="1025.2" y="1219.8" width="10" height="10" fill="#FF0000" stroke="#3a3a3a" stroke-width="0.9"/>
<text x="0" y="0" font-size="16.6" font-weight="bold" text-anchor="start" fill="#000" transform="translate(1039.6,1230.4) scale(1.12,1)">50-100</text>
<rect x="1025.2" y="1253.1" width="10" height="10" fill="#C00000" stroke="#3a3a3a" stroke-width="0.9"/>
<text x="0" y="0" font-size="16.6" font-weight="bold" text-anchor="start" fill="#000" transform="translate(1039.6,1263.7) scale(1.12,1)">&gt;100</text>
<text x="1229.5" y="832.2" font-size="37.5" font-weight="bold" text-anchor="start" fill="#000" >C</text>
<circle cx="1413.7" cy="1075.1" r="152.3" fill="#8080FF"/>
<circle cx="1614" cy="1075.1" r="152.3" fill="#FFFF80"/>
<clipPath id="cl"><circle cx="1413.7" cy="1075.1" r="152.3"/></clipPath>
<circle cx="1614" cy="1075.1" r="152.3" fill="#C0C080" clip-path="url(#cl)"/>
<circle cx="1413.7" cy="1075.1" r="152.3" fill="none" stroke="#000" stroke-width="3"/>
<circle cx="1614" cy="1075.1" r="152.3" fill="none" stroke="#000" stroke-width="3"/>
<text x="1381.2" y="887.1" font-size="24" font-weight="bold" text-anchor="middle" fill="#0000FF" style="font-family:'Liberation Serif','Times New Roman',serif">Head kidney</text>
<text x="1647.2" y="887.1" font-size="24" font-weight="bold" text-anchor="middle" fill="#808000" style="font-family:'Liberation Serif','Times New Roman',serif">Intestine</text>
<text x="1381.1" y="1080.7" font-size="23" font-weight="bold" text-anchor="middle" fill="#000" style="font-family:'Liberation Serif','Times New Roman',serif">994</text>
<text x="1513.8" y="1080.7" font-size="23" font-weight="bold" text-anchor="middle" fill="#000" style="font-family:'Liberation Serif','Times New Roman',serif">151</text>
<text x="1647" y="1080.7" font-size="23" font-weight="bold" text-anchor="middle" fill="#000" style="font-family:'Liberation Serif','Times New Roman',serif">360</text>
<text x="-0.6" y="1562.9" font-size="39" font-weight="bold" text-anchor="start" fill="#000" >D</text>
<text x="405.7" y="1583.4" font-size="25.85" font-weight="bold" text-anchor="middle" fill="#000" >Head kidney</text>
<text x="1336.3" y="1581.9" font-size="25.85" font-weight="bold" text-anchor="middle" fill="#000" >Intestine</text>
<rect x="99.2" y="1697" width="290.90" height="15.8" fill="#377EB8"/>
<rect x="390.10" y="1697" width="290.90" height="15.8" fill="#E41A1C"/>
<rect x="1050.5" y="1697" width="289.15" height="15.8" fill="#377EB8"/>
<rect x="1339.65" y="1697" width="289.15" height="15.8" fill="#E41A1C"/>
<path d="M280.9 1696.5L280.9 1670M280.9 1670L353.6 1670M353.6 1670L353.6 1696.5M208.2 1696.5L208.2 1665.6M208.2 1665.6L317.0 1665.6M317.0 1665.6L317.0 1670M135.5 1696.5L135.5 1633.4M135.5 1633.4L262.3 1633.4M262.3 1633.4L262.3 1665.6M499.0 1696.5L499.0 1661.9M499.0 1661.9L571.7 1661.9M571.7 1661.9L571.7 1696.5M426.3 1696.5L426.3 1651.5M426.3 1651.5L535.6 1651.5M535.6 1651.5L535.6 1661.9M481.0 1651.5L481.0 1644.1M481.0 1644.1L644.4 1644.1M644.4 1644.1L644.4 1696.5M198.8 1633.4L198.8 1610.2M198.8 1610.2L562.7 1610.2M562.7 1610.2L562.7 1644.1" fill="none" stroke="#000" stroke-width="1.3"/>
<path d="M1231.3 1696.5L1231.3 1660M1231.3 1660L1303.6 1660M1303.6 1660L1303.6 1696.5M1159.0 1696.5L1159.0 1657M1159.0 1657L1267.4 1657M1267.4 1657L1267.4 1660M1086.7 1696.5L1086.7 1655.6M1086.7 1655.6L1213.2 1655.6M1213.2 1655.6L1213.2 1657M1448.2 1696.5L1448.2 1653.7M1448.2 1653.7L1520.5 1653.7M1520.5 1653.7L1520.5 1696.5M1484.3 1653.7L1484.3 1646M1484.3 1646L1592.7 1646M1592.7 1646L1592.7 1696.5M1375.9 1696.5L1375.9 1645.6M1375.9 1645.6L1538.5 1645.6M1538.5 1645.6L1538.5 1646M1149.9 1655.6L1149.9 1610.2M1149.9 1610.2L1457.2 1610.2M1457.2 1610.2L1457.2 1645.6" fill="none" stroke="#000" stroke-width="1.3"/>
<linearGradient id="lg" x1="0" y1="1" x2="0" y2="0"><stop offset="0.000" stop-color="#2166AC"/><stop offset="0.125" stop-color="#4393C3"/><stop offset="0.250" stop-color="#92C5DE"/><stop offset="0.375" stop-color="#D1E5F0"/><stop offset="0.500" stop-color="#F7F7F7"/><stop offset="0.625" stop-color="#FDDBC7"/><stop offset="0.750" stop-color="#F4A582"/><stop offset="0.875" stop-color="#D6604D"/><stop offset="1.000" stop-color="#B2182B"/></linearGradient>
<rect x="711.1" y="1695.4" width="15.7" height="242.6" fill="url(#lg)"/>
<rect x="1657.9" y="1695.4" width="16.1" height="243.2" fill="url(#lg)"/>
<text x="733.6" y="1727.2" font-size="14.6" font-weight="normal" text-anchor="start" fill="#000" >2</text>
<text x="733.6" y="1783.3" font-size="14.6" font-weight="normal" text-anchor="start" fill="#000" >1</text>
<text x="733.6" y="1838.9" font-size="14.6" font-weight="normal" text-anchor="start" fill="#000" >0</text>
<text x="733.6" y="1895.1" font-size="14.6" font-weight="normal" text-anchor="start" fill="#000" >-1</text>
<text x="1680.3" y="1729.6" font-size="14.6" font-weight="normal" text-anchor="start" fill="#000" >2</text>
<text x="1680.3" y="1787.4" font-size="14.6" font-weight="normal" text-anchor="start" fill="#000" >1</text>
<text x="1680.3" y="1845.1" font-size="14.6" font-weight="normal" text-anchor="start" fill="#000" >0</text>
<text x="1680.3" y="1903.1" font-size="14.6" font-weight="normal" text-anchor="start" fill="#000" >-1</text>
<rect x="760.1" y="1716.4" width="30" height="30.6" fill="#E41A1C"/><rect x="760.1" y="1747" width="30" height="30.2" fill="#377EB8"/>
<text x="797.5" y="1739.3" font-size="21.2" font-weight="normal" text-anchor="start" fill="#000" >Bacteria</text>
<text x="797.5" y="1770.1" font-size="21.2" font-weight="normal" text-anchor="start" fill="#000" >Control</text>
<rect x="1705.4" y="1715.2" width="30.6" height="30.8" fill="#E41A1C"/><rect x="1705.4" y="1746" width="30.6" height="30" fill="#377EB8"/>
<text x="1743.1" y="1737.4" font-size="21.2" font-weight="normal" text-anchor="start" fill="#000" >Bacteria</text>
<text x="1743.1" y="1768.6" font-size="21.2" font-weight="normal" text-anchor="start" fill="#000" >Control</text>
<text x="0" y="0" font-size="27.6" font-weight="normal" text-anchor="start" fill="#000" transform="translate(125.5,2404.5) rotate(90) scale(0.93,1)">C_HK2</text>
<text x="0" y="0" font-size="27.6" font-weight="normal" text-anchor="start" fill="#000" transform="translate(198.2,2404.5) rotate(90) scale(0.93,1)">C_HK1</text>
<text x="0" y="0" font-size="27.6" font-weight="normal" text-anchor="start" fill="#000" transform="translate(270.9,2404.5) rotate(90) scale(0.93,1)">C_HK3</text>
<text x="0" y="0" font-size="27.6" font-weight="normal" text-anchor="start" fill="#000" transform="translate(343.6,2404.5) rotate(90) scale(0.93,1)">C_HK4</text>
<text x="0" y="0" font-size="27.6" font-weight="normal" text-anchor="start" fill="#000" transform="translate(416.4,2404.5) rotate(90) scale(0.93,1)">Ph_HK1</text>
<text x="0" y="0" font-size="27.6" font-weight="normal" text-anchor="start" fill="#000" transform="translate(489.1,2404.5) rotate(90) scale(0.93,1)">Ph_HK2</text>
<text x="0" y="0" font-size="27.6" font-weight="normal" text-anchor="start" fill="#000" transform="translate(561.8,2404.5) rotate(90) scale(0.93,1)">Ph_HK4</text>
<text x="0" y="0" font-size="27.6" font-weight="normal" text-anchor="start" fill="#000" transform="translate(634.5,2404.5) rotate(90) scale(0.93,1)">Ph_HK3</text>
<text x="0" y="0" font-size="27.6" font-weight="normal" text-anchor="start" fill="#000" transform="translate(1076.5,2398.6) rotate(90) scale(0.93,1)">C_INT1</text>
<text x="0" y="0" font-size="27.6" font-weight="normal" text-anchor="start" fill="#000" transform="translate(1148.8,2398.6) rotate(90) scale(0.93,1)">C_INT2</text>
<text x="0" y="0" font-size="27.6" font-weight="normal" text-anchor="start" fill="#000" transform="translate(1221.1,2398.6) rotate(90) scale(0.93,1)">C_INT3</text>
<text x="0" y="0" font-size="27.6" font-weight="normal" text-anchor="start" fill="#000" transform="translate(1293.4,2398.6) rotate(90) scale(0.93,1)">C_INT4</text>
<text x="0" y="0" font-size="27.6" font-weight="normal" text-anchor="start" fill="#000" transform="translate(1365.7,2398.6) rotate(90) scale(0.93,1)">Ph_INT2</text>
<text x="0" y="0" font-size="27.6" font-weight="normal" text-anchor="start" fill="#000" transform="translate(1438.0,2398.6) rotate(90) scale(0.93,1)">Ph_INT1</text>
<text x="0" y="0" font-size="27.6" font-weight="normal" text-anchor="start" fill="#000" transform="translate(1510.3,2398.6) rotate(90) scale(0.93,1)">Ph_INT4</text>
<text x="0" y="0" font-size="27.6" font-weight="normal" text-anchor="start" fill="#000" transform="translate(1582.6,2398.6) rotate(90) scale(0.93,1)">Ph_INT3</text>
<path d="M98.7 1719.1H92.1V1719.7H98.7M98.7 1718.5H91.6V1719.4H92.1M98.7 1720.3H91.5V1720.9H98.7M91.6 1718.9H91.1V1720.6H91.5M98.7 1721.5H94.0V1722.1H98.7M94.0 1721.8H93.6V1722.7H98.7M91.1 1719.8H90.7V1722.2H93.6M98.7 1723.3H92.1V1723.9H98.7M92.1 1723.6H91.1V1724.4H98.7M98.7 1725.0H91.8V1725.6H98.7M91.1 1724.0H91.0V1725.3H91.8M90.7 1721.0H90.1V1724.7H91.0M98.7 1726.8H94.0V1727.4H98.7M98.7 1726.2H93.3V1727.1H94.0M98.7 1728.0H93.4V1728.6H98.7M93.3 1726.7H92.7V1728.3H93.4M98.7 1730.4H94.0V1731.0H98.7M98.7 1729.8H93.8V1730.7H94.0M98.7 1729.2H91.8V1730.2H93.8M98.7 1731.6H92.3V1732.2H98.7M91.8 1729.7H89.4V1731.9H92.3M98.7 1732.8H92.0V1733.4H98.7M98.7 1734.0H93.0V1734.6H98.7M92.0 1733.1H89.5V1734.3H93.0M89.4 1730.8H88.9V1733.7H89.5M92.7 1727.5H86.7V1732.2H88.9M98.7 1735.7H92.8V1736.3H98.7M92.8 1736.0H91.3V1736.9H98.7M91.3 1736.5H90.6V1737.5H98.7M98.7 1735.2H90.3V1737.0H90.6M90.3 1736.1H90.1V1738.1H98.7M98.7 1739.3H91.8V1739.9H98.7M98.7 1738.7H91.7V1739.6H91.8M90.1 1737.1H89.9V1739.2H91.7M98.7 1741.1H93.1V1741.7H98.7M98.7 1740.5H89.8V1741.4H93.1M89.9 1738.1H89.1V1741.0H89.8M98.7 1742.3H93.8V1742.9H98.7M98.7 1744.7H92.3V1745.3H98.7M98.7 1744.1H91.6V1745.0H92.3M98.7 1743.5H89.8V1744.5H91.6M93.8 1742.6H88.3V1744.0H89.8M98.7 1745.9H91.3V1746.5H98.7M98.7 1747.1H94.3V1747.6H98.7M91.3 1746.2H89.0V1747.3H94.3M98.7 1748.8H93.5V1749.4H98.7M98.7 1748.2H93.0V1749.1H93.5M98.7 1750.0H92.3V1750.6H98.7M92.3 1750.3H92.0V1751.2H98.7M93.0 1748.7H91.8V1750.8H92.0M91.8 1749.7H90.5V1751.8H98.7M90.5 1750.8H90.0V1752.4H98.7M89.0 1746.8H87.7V1751.6H90.0M88.3 1743.3H87.5V1749.2H87.7M89.1 1739.5H84.7V1746.2H87.5M86.7 1729.9H79.6V1742.9H84.7M90.1 1722.8H77.7V1736.4H79.6M98.7 1753.0H94.3V1753.6H98.7M98.7 1754.2H91.5V1754.8H98.7M98.7 1755.4H93.3V1756.0H98.7M93.3 1755.7H92.7V1756.6H98.7M98.7 1757.2H91.4V1757.8H98.7M92.7 1756.1H88.6V1757.5H91.4M91.5 1754.5H88.0V1756.8H88.6M98.7 1758.4H92.3V1758.9H98.7M98.7 1760.1H93.0V1760.7H98.7M93.0 1760.4H91.3V1761.3H98.7M98.7 1761.9H93.0V1762.5H98.7M93.0 1762.2H92.8V1763.1H98.7M91.3 1760.9H90.5V1762.7H92.8M98.7 1759.5H89.7V1761.8H90.5M92.3 1758.6H88.7V1760.7H89.7M98.7 1763.7H90.9V1764.3H98.7M90.9 1764.0H90.0V1764.9H98.7M98.7 1766.1H94.2V1766.7H98.7M98.7 1765.5H92.6V1766.4H94.2M92.6 1765.9H92.1V1767.3H98.7M90.0 1764.4H89.3V1766.6H92.1M88.7 1759.7H88.2V1765.5H89.3M88.0 1755.6H87.9V1762.6H88.2M94.3 1753.3H82.2V1759.1H87.9M98.7 1767.9H92.2V1768.5H98.7M98.7 1769.7H92.7V1770.2H98.7M98.7 1769.1H92.1V1770.0H92.7M92.1 1769.5H91.9V1770.8H98.7M92.2 1768.2H90.5V1770.2H91.9M98.7 1772.0H93.9V1772.6H98.7M98.7 1773.2H92.5V1773.8H98.7M92.5 1773.5H92.3V1774.4H98.7M93.9 1772.3H91.9V1774.0H92.3M98.7 1771.4H90.6V1773.1H91.9M98.7 1775.6H94.3V1776.2H98.7M98.7 1775.0H90.7V1775.9H94.3M90.6 1772.3H90.3V1775.5H90.7M90.5 1769.2H89.3V1773.9H90.3M82.2 1756.2H81.2V1771.5H89.3M98.7 1778.0H94.0V1778.6H98.7M98.7 1777.4H93.7V1778.3H94.0M98.7 1776.8H91.2V1777.8H93.7M98.7 1779.8H92.6V1780.4H98.7M98.7 1779.2H91.0V1780.1H92.6M98.7 1781.0H94.5V1781.6H98.7M91.0 1779.6H89.9V1781.3H94.5M91.2 1777.3H86.3V1780.4H89.9M86.3 1778.9H85.8V1782.1H98.7M85.8 1780.5H85.2V1782.7H98.7M98.7 1783.9H94.2V1784.5H98.7M94.2 1784.2H89.4V1785.1H98.7M98.7 1785.7H93.2V1786.3H98.7M98.7 1786.9H91.6V1787.5H98.7M93.2 1786.0H91.0V1787.2H91.6M89.4 1784.7H86.6V1786.6H91.0M98.7 1788.1H94.0V1788.7H98.7M94.0 1788.4H93.5V1789.3H98.7M93.5 1788.8H92.8V1789.9H98.7M92.8 1789.4H92.0V1790.5H98.7M92.0 1789.9H91.3V1791.1H98.7M98.7 1791.7H94.3V1792.3H98.7M98.7 1792.9H93.4V1793.4H98.7M94.3 1792.0H92.6V1793.2H93.4M91.3 1790.5H84.5V1792.6H92.6M86.6 1785.6H83.9V1791.5H84.5M98.7 1783.3H82.5V1788.6H83.9M98.7 1794.6H92.4V1795.2H98.7M98.7 1794.0H92.3V1794.9H92.4M92.3 1794.5H90.1V1795.8H98.7M98.7 1796.4H94.1V1797.0H98.7M90.1 1795.2H90.0V1796.7H94.1M98.7 1798.2H92.6V1798.8H98.7M98.7 1799.4H93.0V1800.0H98.7M92.6 1798.5H92.1V1799.7H93.0M98.7 1800.6H93.5V1801.2H98.7M93.5 1800.9H93.1V1801.8H98.7M98.7 1802.4H92.5V1803.0H98.7M93.1 1801.3H91.6V1802.7H92.5M92.1 1799.1H91.4V1802.0H91.6M98.7 1797.6H90.0V1800.5H91.4M98.7 1803.6H91.5V1804.2H98.7M90.0 1799.1H89.5V1803.9H91.5M90.0 1795.9H89.3V1801.5H89.5M89.3 1798.7H87.0V1804.8H98.7M98.7 1805.9H92.2V1806.5H98.7M92.2 1806.2H91.1V1807.1H98.7M91.1 1806.7H90.2V1807.7H98.7M98.7 1805.3H89.6V1807.2H90.2M98.7 1808.9H92.3V1809.5H98.7M92.3 1809.2H91.9V1810.1H98.7M91.9 1809.7H91.6V1810.7H98.7M98.7 1808.3H90.9V1810.2H91.6M89.6 1806.3H89.4V1809.2H90.9M98.7 1811.3H92.8V1811.9H98.7M98.7 1813.1H91.9V1813.7H98.7M98.7 1812.5H91.0V1813.4H91.9M92.8 1811.6H90.2V1812.9H91.0M89.4 1807.8H88.3V1812.3H90.2M87.0 1801.7H86.8V1810.0H88.3M82.5 1786.0H79.3V1805.9H86.8M85.2 1781.6H76.9V1795.9H79.3M81.2 1763.9H75.8V1788.8H76.9M98.7 1815.5H93.7V1816.1H98.7M98.7 1817.8H91.6V1818.4H98.7M91.6 1818.1H91.3V1819.0H98.7M98.7 1817.2H91.2V1818.6H91.3M98.7 1816.6H90.4V1817.9H91.2M93.7 1815.8H89.2V1817.3H90.4M98.7 1814.9H88.2V1816.5H89.2M98.7 1814.3H85.9V1815.7H88.2M98.7 1819.6H93.8V1820.2H98.7M93.8 1819.9H93.1V1820.8H98.7M98.7 1822.0H94.1V1822.6H98.7M98.7 1821.4H91.4V1822.3H94.1M93.1 1820.4H89.2V1821.9H91.4M98.7 1823.8H93.5V1824.4H98.7M93.5 1824.1H93.2V1825.0H98.7M98.7 1825.6H93.3V1826.2H98.7M93.2 1824.5H92.5V1825.9H93.3M92.5 1825.2H91.0V1826.8H98.7M91.0 1826.0H88.8V1827.4H98.7M98.7 1823.2H87.9V1826.7H88.8M98.7 1828.5H93.2V1829.1H98.7M98.7 1829.7H93.7V1830.3H98.7M93.2 1828.8H93.1V1830.0H93.7M98.7 1827.9H92.1V1829.4H93.1M98.7 1831.5H93.4V1832.1H98.7M98.7 1830.9H92.7V1831.8H93.4M92.7 1831.4H89.9V1832.7H98.7M92.1 1828.7H88.9V1832.0H89.9M87.9 1824.9H86.7V1830.4H88.9M89.2 1821.1H85.5V1827.6H86.7M98.7 1833.3H93.4V1833.9H98.7M93.4 1833.6H93.0V1834.5H98.7M98.7 1835.1H91.2V1835.7H98.7M93.0 1834.0H90.4V1835.4H91.2M98.7 1836.9H93.9V1837.5H98.7M98.7 1836.3H93.4V1837.2H93.9M98.7 1838.1H93.3V1838.7H98.7M93.3 1838.4H91.7V1839.3H98.7M93.4 1836.7H88.3V1838.8H91.7M90.4 1834.7H87.1V1837.8H88.3M85.5 1824.4H84.4V1836.2H87.1M98.7 1839.8H93.3V1840.4H98.7M98.7 1841.0H92.6V1841.6H98.7M93.3 1840.1H88.5V1841.3H92.6M84.4 1830.3H84.1V1840.7H88.5M85.9 1815.0H79.4V1835.5H84.1M98.7 1843.4H93.0V1844.0H98.7M98.7 1842.8H92.1V1843.7H93.0M98.7 1844.6H94.2V1845.2H98.7M94.2 1844.9H93.2V1845.8H98.7M93.2 1845.3H90.7V1846.4H98.7M92.1 1843.3H90.5V1845.9H90.7M98.7 1842.2H89.4V1844.6H90.5M79.4 1825.3H75.9V1843.4H89.4M98.7 1847.6H94.5V1848.2H98.7M98.7 1847.0H92.1V1847.9H94.5M98.7 1848.8H94.2V1849.4H98.7M92.1 1847.4H91.8V1849.1H94.2M98.7 1850.0H94.1V1850.6H98.7M94.1 1850.3H91.8V1851.1H98.7M91.8 1848.2H91.3V1850.7H91.8M98.7 1851.7H93.2V1852.3H98.7M93.2 1852.0H91.0V1852.9H98.7M98.7 1854.1H92.9V1854.7H98.7M92.9 1854.4H92.0V1855.3H98.7M98.7 1853.5H91.2V1854.9H92.0M91.0 1852.5H90.9V1854.2H91.2M98.7 1855.9H92.7V1856.5H98.7M92.7 1856.2H92.3V1857.1H98.7M92.3 1856.7H92.0V1857.7H98.7M92.0 1857.2H88.4V1858.3H98.7M90.9 1853.3H87.2V1857.7H88.4M98.7 1858.9H92.0V1859.5H98.7M92.0 1859.2H91.7V1860.1H98.7M98.7 1860.7H93.8V1861.3H98.7M93.8 1861.0H90.1V1861.9H98.7M91.7 1859.6H89.2V1861.4H90.1M87.2 1855.5H86.5V1860.5H89.2M91.3 1849.5H84.5V1858.0H86.5M98.7 1862.5H93.7V1863.0H98.7M98.7 1864.2H93.2V1864.8H98.7M98.7 1863.6H91.1V1864.5H93.2M98.7 1865.4H94.3V1866.0H98.7M94.3 1865.7H90.5V1866.6H98.7M91.1 1864.1H89.4V1866.2H90.5M98.7 1867.2H94.5V1867.8H98.7M89.4 1865.1H88.5V1867.5H94.5M93.7 1862.7H87.8V1866.3H88.5M98.7 1868.4H91.9V1869.0H98.7M98.7 1869.6H93.0V1870.2H98.7M98.7 1870.8H91.8V1871.4H98.7M93.0 1869.9H91.3V1871.1H91.8M91.9 1868.7H91.2V1870.5H91.3M98.7 1872.0H93.7V1872.6H98.7M93.7 1872.3H91.3V1873.2H98.7M98.7 1874.3H92.4V1874.9H98.7M98.7 1873.8H92.1V1874.6H92.4M91.3 1872.7H91.0V1874.2H92.1M91.0 1873.5H90.1V1875.5H98.7M91.2 1869.6H89.8V1874.5H90.1M98.7 1876.1H93.6V1876.7H98.7M98.7 1877.3H93.3V1877.9H98.7M93.6 1876.4H92.9V1877.6H93.3M98.7 1878.5H92.9V1879.1H98.7M92.9 1877.0H89.9V1878.8H92.9M89.8 1872.0H88.9V1877.9H89.9M98.7 1880.3H91.9V1880.9H98.7M98.7 1879.7H91.0V1880.6H91.9M91.0 1880.1H90.5V1881.5H98.7M98.7 1882.7H94.1V1883.3H98.7M94.1 1883.0H93.8V1883.9H98.7M98.7 1882.1H93.3V1883.4H93.8M93.3 1882.7H91.2V1884.5H98.7M98.7 1885.1H93.5V1885.6H98.7M91.2 1883.6H90.6V1885.4H93.5M90.5 1880.8H90.1V1884.5H90.6M90.1 1882.6H89.1V1886.2H98.7M98.7 1886.8H92.2V1887.4H98.7M89.1 1884.4H88.6V1887.1H92.2M98.7 1888.0H91.7V1888.6H98.7M98.7 1889.8H92.9V1890.4H98.7M98.7 1889.2H89.5V1890.1H92.9M91.7 1888.3H88.3V1889.7H89.5M88.6 1885.8H86.6V1889.0H88.3M88.9 1875.0H81.2V1887.4H86.6M87.8 1864.5H79.8V1881.2H81.2M84.5 1853.8H78.0V1872.9H79.8M98.7 1891.0H92.6V1891.6H98.7M98.7 1892.2H92.9V1892.8H98.7M92.6 1891.3H92.2V1892.5H92.9M98.7 1893.4H93.7V1894.0H98.7M92.2 1891.9H90.9V1893.7H93.7M98.7 1894.6H91.3V1895.2H98.7M98.7 1895.8H94.4V1896.4H98.7M94.4 1896.1H92.8V1897.0H98.7M98.7 1897.5H92.8V1898.1H98.7M92.8 1896.5H92.2V1897.8H92.8M91.3 1894.9H90.2V1897.2H92.2M90.9 1892.8H89.8V1896.0H90.2M98.7 1899.3H93.5V1899.9H98.7M98.7 1900.5H93.6V1901.1H98.7M93.6 1900.8H93.1V1901.7H98.7M93.5 1899.6H91.3V1901.3H93.1M91.3 1900.4H91.2V1902.3H98.7M91.2 1901.4H90.7V1902.9H98.7M98.7 1898.7H88.5V1902.1H90.7M89.8 1894.4H85.9V1900.4H88.5M98.7 1903.5H93.7V1904.1H98.7M93.7 1903.8H93.3V1904.7H98.7M93.3 1904.2H92.7V1905.3H98.7M98.7 1907.1H94.0V1907.7H98.7M98.7 1906.5H93.6V1907.4H94.0M98.7 1905.9H93.2V1906.9H93.6M93.2 1906.4H92.8V1908.3H98.7M92.7 1904.8H90.9V1907.3H92.8M98.7 1908.8H91.0V1909.4H98.7M98.7 1910.0H90.4V1910.6H98.7M98.7 1911.2H92.4V1911.8H98.7M92.4 1911.5H91.5V1912.4H98.7M91.5 1912.0H90.6V1913.0H98.7M90.4 1910.3H90.1V1912.5H90.6M91.0 1909.1H88.9V1911.4H90.1M98.7 1913.6H94.5V1914.2H98.7M98.7 1914.8H92.3V1915.4H98.7M94.5 1913.9H89.1V1915.1H92.3M88.9 1910.3H87.8V1914.5H89.1M90.9 1906.0H86.9V1912.4H87.8M85.9 1897.4H83.4V1909.2H86.9M98.7 1916.0H93.3V1916.6H98.7M98.7 1918.4H92.3V1919.0H98.7M98.7 1917.8H91.8V1918.7H92.3M98.7 1917.2H91.5V1918.2H91.8M91.5 1917.7H90.0V1919.6H98.7M93.3 1916.3H89.7V1918.6H90.0M98.7 1920.2H92.5V1920.7H98.7M92.5 1920.4H90.5V1921.3H98.7M89.7 1917.5H85.5V1920.9H90.5M98.7 1921.9H94.1V1922.5H98.7M94.1 1922.2H93.5V1923.1H98.7M93.5 1922.7H93.4V1923.7H98.7M98.7 1924.9H93.5V1925.5H98.7M98.7 1924.3H92.2V1925.2H93.5M98.7 1926.1H94.0V1926.7H98.7M94.0 1926.4H93.7V1927.3H98.7M93.7 1926.8H93.2V1927.9H98.7M92.2 1924.8H89.4V1927.4H93.2M98.7 1929.7H93.3V1930.3H98.7M93.3 1930.0H93.0V1930.9H98.7M98.7 1929.1H92.9V1930.4H93.0M98.7 1928.5H90.1V1929.7H92.9M98.7 1931.5H93.4V1932.0H98.7M90.1 1929.1H90.0V1931.8H93.4M89.4 1926.1H88.8V1930.4H90.0M93.4 1923.2H87.1V1928.2H88.8M85.5 1919.2H81.3V1925.7H87.1M83.4 1903.3H78.9V1922.4H81.3M78.0 1863.3H77.4V1912.9H78.9M75.9 1834.3H75.6V1888.1H77.4M98.7 1932.6H91.6V1933.2H98.7M91.6 1932.9H91.4V1933.8H98.7M98.7 1934.4H92.6V1935.0H98.7M98.7 1935.6H91.4V1936.2H98.7M92.6 1934.7H90.4V1935.9H91.4M91.4 1933.4H90.2V1935.3H90.4M98.7 1937.4H91.6V1938.0H98.7M98.7 1936.8H91.1V1937.7H91.6M98.7 1938.6H91.3V1939.2H98.7M98.7 1939.8H93.2V1940.4H98.7M98.7 1942.2H93.5V1942.8H98.7M98.7 1941.6H93.3V1942.5H93.5M98.7 1941.0H91.5V1942.0H93.3M93.2 1940.1H90.8V1941.5H91.5M91.3 1938.9H89.7V1940.8H90.8M91.1 1937.3H88.7V1939.8H89.7M90.2 1934.4H87.8V1938.5H88.7M98.7 1944.5H93.2V1945.1H98.7M98.7 1943.9H92.9V1944.8H93.2M98.7 1945.7H93.9V1946.3H98.7M98.7 1947.5H94.2V1948.1H98.7M98.7 1946.9H92.9V1947.8H94.2M93.9 1946.0H92.4V1947.4H92.9M92.9 1944.4H91.7V1946.7H92.4M98.7 1943.3H91.6V1945.5H91.7M98.7 1949.3H92.8V1949.9H98.7M98.7 1948.7H92.6V1949.6H92.8M98.7 1951.1H94.1V1951.7H98.7M98.7 1950.5H92.1V1951.4H94.1M92.6 1949.1H92.0V1950.9H92.1M98.7 1952.9H94.4V1953.5H98.7M94.4 1953.2H93.6V1954.1H98.7M98.7 1952.3H90.9V1953.6H93.6M98.7 1954.7H93.3V1955.2H98.7M90.9 1952.9H89.7V1954.9H93.3M92.0 1950.0H88.3V1953.9H89.7M98.7 1955.8H92.2V1956.4H98.7M98.7 1957.6H93.2V1958.2H98.7M98.7 1957.0H93.1V1957.9H93.2M92.2 1956.1H89.8V1957.5H93.1M89.8 1956.8H88.1V1958.8H98.7M88.3 1952.0H87.6V1957.8H88.1M91.6 1944.4H86.1V1954.9H87.6M87.8 1936.4H82.1V1949.7H86.1M98.7 1960.0H92.0V1960.6H98.7M98.7 1959.4H90.8V1960.3H92.0M98.7 1961.2H93.2V1961.8H98.7M98.7 1962.4H93.5V1963.0H98.7M93.5 1962.7H93.0V1963.6H98.7M93.2 1961.5H92.9V1963.1H93.0M90.8 1959.9H88.7V1962.3H92.9M98.7 1964.2H92.1V1964.8H98.7M98.7 1966.0H93.7V1966.5H98.7M98.7 1965.4H92.2V1966.3H93.7M92.1 1964.5H91.9V1965.8H92.2M98.7 1968.3H93.2V1968.9H98.7M98.7 1967.7H93.1V1968.6H93.2M98.7 1967.1H92.4V1968.2H93.1M91.9 1965.1H85.0V1967.7H92.4M98.7 1970.7H93.0V1971.3H98.7M98.7 1972.5H94.0V1973.1H98.7M98.7 1971.9H93.2V1972.8H94.0M93.0 1971.0H92.5V1972.3H93.2M98.7 1970.1H91.8V1971.7H92.5M98.7 1969.5H91.7V1970.9H91.8M98.7 1974.3H91.4V1974.9H98.7M98.7 1973.7H91.0V1974.6H91.4M91.7 1970.2H90.2V1974.1H91.0M85.0 1966.4H84.4V1972.2H90.2M98.7 1975.5H92.7V1976.1H98.7M98.7 1976.7H93.3V1977.3H98.7M98.7 1978.4H92.8V1979.0H98.7M98.7 1977.9H92.7V1978.7H92.8M93.3 1977.0H92.6V1978.3H92.7M92.7 1975.8H91.9V1977.6H92.6M84.4 1969.3H82.8V1976.7H91.9M98.7 1980.8H93.1V1981.4H98.7M93.1 1981.1H92.1V1982.0H98.7M98.7 1980.2H90.8V1981.6H92.1M98.7 1979.6H88.7V1980.9H90.8M82.8 1973.0H81.3V1980.3H88.7M88.7 1961.1H80.7V1976.6H81.3M82.1 1943.1H80.2V1968.9H80.7M98.7 1983.2H94.3V1983.8H98.7M94.3 1983.5H93.8V1984.4H98.7M93.8 1983.9H92.3V1985.0H98.7M98.7 1982.6H91.7V1984.5H92.3M98.7 1985.6H91.1V1986.2H98.7M98.7 1986.8H94.2V1987.4H98.7M94.2 1987.1H92.5V1988.0H98.7M92.5 1987.5H91.9V1988.6H98.7M91.1 1985.9H90.6V1988.0H91.9M91.7 1983.5H89.7V1987.0H90.6M98.7 1989.2H92.4V1989.7H98.7M98.7 1990.3H94.4V1990.9H98.7M92.4 1989.5H92.1V1990.6H94.4M92.1 1990.0H89.8V1991.5H98.7M98.7 1992.7H93.2V1993.3H98.7M93.2 1993.0H92.5V1993.9H98.7M98.7 1992.1H91.8V1993.5H92.5M98.7 1994.5H93.4V1995.1H98.7M98.7 1995.7H93.7V1996.3H98.7M93.7 1996.0H92.6V1996.9H98.7M93.4 1994.8H91.8V1996.4H92.6M91.8 1992.8H90.9V1995.6H91.8M98.7 1997.5H93.4V1998.1H98.7M90.9 1994.2H89.5V1997.8H93.4M89.8 1990.8H88.9V1996.0H89.5M89.7 1985.2H83.3V1993.4H88.9M80.2 1956.0H75.5V1989.3H83.3M98.7 1998.7H92.2V1999.3H98.7M98.7 1999.9H91.8V2000.5H98.7M92.2 1999.0H91.5V2000.2H91.8M98.7 2001.6H92.9V2002.2H98.7M92.9 2001.9H92.4V2002.8H98.7M98.7 2001.0H90.5V2002.4H92.4M98.7 2003.4H91.5V2004.0H98.7M90.5 2001.7H88.6V2003.7H91.5M88.6 2002.7H87.4V2004.6H98.7M98.7 2005.2H94.0V2005.8H98.7M98.7 2007.0H91.4V2007.6H98.7M98.7 2006.4H90.7V2007.3H91.4M98.7 2008.2H93.3V2008.8H98.7M90.7 2006.8H90.2V2008.5H93.3M94.0 2005.5H89.3V2007.7H90.2M87.4 2003.7H84.4V2006.6H89.3M91.5 1999.6H83.8V2005.1H84.4M98.7 2010.6H93.5V2011.2H98.7M93.5 2010.9H91.0V2011.8H98.7M98.7 2012.4H91.3V2012.9H98.7M98.7 2013.5H91.6V2014.1H98.7M91.3 2012.6H90.9V2013.8H91.6M91.0 2011.3H90.3V2013.2H90.9M90.3 2012.3H89.8V2014.7H98.7M98.7 2010.0H89.7V2013.5H89.8M98.7 2009.4H84.6V2011.7H89.7M98.7 2016.5H93.6V2017.1H98.7M98.7 2015.9H93.2V2016.8H93.6M98.7 2015.3H92.7V2016.4H93.2M98.7 2017.7H94.5V2018.3H98.7M94.5 2018.0H92.1V2018.9H98.7M92.7 2015.8H92.0V2018.4H92.1M84.6 2010.6H82.4V2017.1H92.0M83.8 2002.3H80.8V2013.9H82.4M98.7 2020.1H93.4V2020.7H98.7M98.7 2019.5H93.0V2020.4H93.4M98.7 2021.3H90.5V2021.9H98.7M98.7 2022.5H93.5V2023.1H98.7M98.7 2023.7H93.4V2024.2H98.7M93.5 2022.8H93.3V2024.0H93.4M90.5 2021.6H89.5V2023.4H93.3M98.7 2024.8H91.2V2025.4H98.7M89.5 2022.5H88.9V2025.1H91.2M98.7 2026.0H92.1V2026.6H98.7M98.7 2027.2H92.1V2027.8H98.7M92.1 2026.3H91.9V2027.5H92.1M88.9 2023.8H88.5V2026.9H91.9M98.7 2028.4H93.9V2029.0H98.7M93.9 2028.7H93.7V2029.6H98.7M98.7 2030.2H93.9V2030.8H98.7M93.7 2029.2H92.0V2030.5H93.9M98.7 2031.4H92.3V2032.0H98.7M92.0 2029.8H87.1V2031.7H92.3M98.7 2032.6H91.6V2033.2H98.7M98.7 2033.8H92.3V2034.4H98.7M91.6 2032.9H89.4V2034.1H92.3M89.4 2033.5H88.4V2035.0H98.7M87.1 2030.8H86.6V2034.2H88.4M88.5 2025.4H83.2V2032.5H86.6M93.0 2019.9H81.4V2028.9H83.2M80.8 2008.1H80.5V2024.4H81.4M98.7 2035.6H93.2V2036.1H98.7M98.7 2036.7H93.0V2037.3H98.7M93.2 2035.8H91.7V2037.0H93.0M98.7 2038.5H92.4V2039.1H98.7M98.7 2037.9H91.8V2038.8H92.4M91.7 2036.4H91.7V2038.4H91.8M98.7 2040.3H92.6V2040.9H98.7M98.7 2039.7H91.1V2040.6H92.6M98.7 2041.5H91.4V2042.1H98.7M91.1 2040.2H90.7V2041.8H91.4M98.7 2042.7H92.6V2043.3H98.7M98.7 2043.9H93.0V2044.5H98.7M98.7 2045.7H93.7V2046.3H98.7M98.7 2045.1H92.4V2046.0H93.7M93.0 2044.2H92.3V2045.5H92.4M92.6 2043.0H92.1V2044.8H92.3M92.1 2043.9H91.6V2046.9H98.7M98.7 2047.4H93.8V2048.0H98.7M98.7 2049.2H93.2V2049.8H98.7M98.7 2048.6H92.6V2049.5H93.2M93.8 2047.7H92.3V2049.1H92.6M92.3 2048.4H91.6V2050.4H98.7M98.7 2051.0H92.0V2051.6H98.7M92.0 2051.3H90.4V2052.2H98.7M91.6 2049.4H90.0V2051.8H90.4M91.6 2045.4H88.7V2050.6H90.0M98.7 2052.8H90.4V2053.4H98.7M98.7 2054.6H93.0V2055.2H98.7M98.7 2054.0H92.5V2054.9H93.0M90.4 2053.1H89.4V2054.4H92.5M88.7 2048.0H88.4V2053.8H89.4M90.7 2041.0H87.4V2050.9H88.4M98.7 2056.4H94.2V2057.0H98.7M98.7 2055.8H93.7V2056.7H94.2M93.7 2056.2H93.2V2057.6H98.7M98.7 2058.2H91.0V2058.8H98.7M93.2 2056.9H89.7V2058.5H91.0M98.7 2060.5H93.3V2061.1H98.7M98.7 2059.9H91.3V2060.8H93.3M98.7 2059.3H90.8V2060.4H91.3M98.7 2061.7H94.3V2062.3H98.7M90.8 2059.9H89.4V2062.0H94.3M89.7 2057.7H88.7V2060.9H89.4M87.4 2045.9H86.1V2059.3H88.7M91.7 2037.4H81.4V2052.6H86.1M98.7 2062.9H94.5V2063.5H98.7M94.5 2063.2H90.6V2064.1H98.7M90.6 2063.7H90.2V2064.7H98.7M98.7 2067.1H94.4V2067.7H98.7M98.7 2066.5H93.4V2067.4H94.4M98.7 2065.9H92.8V2066.9H93.4M98.7 2068.3H93.5V2068.9H98.7M92.8 2066.4H91.7V2068.6H93.5M98.7 2065.3H89.4V2067.5H91.7M90.2 2064.2H83.6V2066.4H89.4M81.4 2045.0H78.4V2065.3H83.6M98.7 2069.5H92.6V2070.1H98.7M98.7 2071.2H94.2V2071.8H98.7M98.7 2070.6H93.9V2071.5H94.2M93.9 2071.1H93.3V2072.4H98.7M98.7 2073.0H93.7V2073.6H98.7M93.3 2071.8H92.5V2073.3H93.7M92.5 2072.5H91.7V2074.2H98.7M91.7 2073.4H91.0V2074.8H98.7M98.7 2075.4H94.5V2076.0H98.7M98.7 2076.6H91.5V2077.2H98.7M94.5 2075.7H90.5V2076.9H91.5M91.0 2074.1H90.0V2076.3H90.5M92.6 2069.8H89.8V2075.2H90.0M98.7 2077.8H94.0V2078.4H98.7M94.0 2078.1H91.7V2079.0H98.7M98.7 2080.2H92.8V2080.8H98.7M98.7 2079.6H91.0V2080.5H92.8M91.7 2078.5H90.8V2080.0H91.0M89.8 2072.5H88.9V2079.3H90.8M98.7 2081.9H94.2V2082.5H98.7M94.2 2082.2H93.1V2083.1H98.7M93.1 2082.7H92.9V2083.7H98.7M98.7 2081.4H90.9V2083.2H92.9M98.7 2084.9H92.5V2085.5H98.7M98.7 2084.3H92.1V2085.2H92.5M98.7 2086.1H94.1V2086.7H98.7M92.1 2084.8H91.5V2086.4H94.1M91.5 2085.6H90.9V2087.3H98.7M98.7 2088.5H94.1V2089.1H98.7M98.7 2087.9H93.7V2088.8H94.1M98.7 2089.7H92.3V2090.3H98.7M92.3 2090.0H90.4V2090.9H98.7M93.7 2088.3H90.2V2090.4H90.4M98.7 2092.1H92.5V2092.7H98.7M98.7 2093.3H92.8V2093.8H98.7M92.5 2092.4H91.7V2093.5H92.8M98.7 2094.4H93.4V2095.0H98.7M93.4 2094.7H92.2V2095.6H98.7M91.7 2093.0H90.8V2095.2H92.2M90.8 2094.1H90.0V2096.2H98.7M98.7 2091.5H89.4V2095.1H90.0M90.2 2089.4H88.3V2093.3H89.4M90.9 2086.4H87.1V2091.3H88.3M90.9 2082.3H84.3V2088.9H87.1M88.9 2075.9H79.2V2085.6H84.3M98.7 2097.4H93.7V2098.0H98.7M98.7 2096.8H93.1V2097.7H93.7M98.7 2099.2H93.4V2099.8H98.7M98.7 2098.6H92.2V2099.5H93.4M93.1 2097.3H89.7V2099.1H92.2M98.7 2101.0H93.7V2101.6H98.7M93.7 2101.3H93.6V2102.2H98.7M98.7 2102.8H94.0V2103.4H98.7M93.6 2101.7H93.0V2103.1H94.0M98.7 2100.4H92.3V2102.4H93.0M98.7 2104.0H93.2V2104.6H98.7M98.7 2105.7H93.0V2106.3H98.7M93.0 2106.0H92.8V2106.9H98.7M98.7 2105.1H92.4V2106.5H92.8M93.2 2104.3H92.1V2105.8H92.4M98.7 2108.1H94.3V2108.7H98.7M98.7 2107.5H90.9V2108.4H94.3M92.1 2105.0H87.3V2108.0H90.9M92.3 2101.4H86.9V2106.5H87.3M89.7 2098.2H83.4V2103.9H86.9M79.2 2080.7H77.7V2101.1H83.4M78.4 2055.1H76.2V2090.9H77.7M80.5 2016.3H73.6V2073.0H76.2M75.5 1972.6H65.3V2044.6H73.6M75.6 1861.2H61.1V2008.6H65.3M75.8 1776.3H56.5V1934.9H61.1M77.7 1729.6H53.8V1855.6H56.5M98.7 2109.3H92.4V2109.9H98.7M98.7 2110.5H93.6V2111.1H98.7M92.4 2109.6H90.6V2110.8H93.6M98.7 2111.7H91.9V2112.3H98.7M98.7 2112.9H92.0V2113.5H98.7M91.9 2112.0H91.4V2113.2H92.0M98.7 2114.1H93.1V2114.7H98.7M91.4 2112.6H87.7V2114.4H93.1M98.7 2115.9H93.7V2116.5H98.7M98.7 2115.3H93.1V2116.2H93.7M98.7 2117.0H93.5V2117.6H98.7M93.1 2115.7H90.4V2117.3H93.5M98.7 2118.2H94.2V2118.8H98.7M90.4 2116.5H89.6V2118.5H94.2M98.7 2119.4H93.2V2120.0H98.7M98.7 2121.2H93.5V2121.8H98.7M98.7 2120.6H92.9V2121.5H93.5M93.2 2119.7H92.7V2121.1H92.9M89.6 2117.5H89.4V2120.4H92.7M98.7 2122.4H93.3V2123.0H98.7M98.7 2123.6H93.1V2124.2H98.7M98.7 2124.8H93.0V2125.4H98.7M93.1 2123.9H92.3V2125.1H93.0M93.3 2122.7H92.1V2124.5H92.3M89.4 2119.0H88.1V2123.6H92.1M98.7 2126.6H93.9V2127.2H98.7M98.7 2126.0H93.3V2126.9H93.9M88.1 2121.3H87.6V2126.4H93.3M87.7 2113.5H83.2V2123.8H87.6M98.7 2127.8H92.0V2128.3H98.7M98.7 2129.5H92.9V2130.1H98.7M98.7 2128.9H92.5V2129.8H92.9M92.0 2128.0H91.3V2129.4H92.5M98.7 2131.9H92.8V2132.5H98.7M98.7 2131.3H92.5V2132.2H92.8M98.7 2130.7H92.0V2131.8H92.5M92.0 2131.2H91.3V2133.1H98.7M98.7 2133.7H93.1V2134.3H98.7M93.1 2134.0H92.7V2134.9H98.7M98.7 2135.5H92.7V2136.1H98.7M92.7 2134.4H92.4V2135.8H92.7M98.7 2136.7H92.2V2137.3H98.7M92.4 2135.1H91.1V2137.0H92.2M91.3 2132.2H90.9V2136.0H91.1M91.3 2128.7H89.8V2134.1H90.9M98.7 2138.5H92.5V2139.1H98.7M98.7 2139.6H92.4V2140.2H98.7M92.4 2139.9H91.7V2140.8H98.7M91.7 2140.4H90.0V2141.4H98.7M92.5 2138.8H89.0V2140.9H90.0M98.7 2137.9H88.8V2139.8H89.0M89.8 2131.4H83.1V2138.8H88.8M83.2 2118.7H81.8V2135.1H83.1M90.6 2110.2H81.3V2126.9H81.8M98.7 2142.0H94.4V2142.6H98.7M94.4 2142.3H93.8V2143.2H98.7M93.8 2142.8H93.3V2143.8H98.7M81.3 2118.6H79.7V2143.3H93.3M98.7 2145.6H93.5V2146.2H98.7M93.5 2145.9H93.4V2146.8H98.7M98.7 2145.0H92.9V2146.3H93.4M98.7 2147.4H94.2V2148.0H98.7M94.2 2147.7H91.5V2148.6H98.7M92.9 2145.7H91.1V2148.1H91.5M98.7 2144.4H90.6V2146.9H91.1M98.7 2149.2H93.8V2149.8H98.7M93.8 2149.5H93.2V2150.4H98.7M90.6 2145.7H90.1V2149.9H93.2M98.7 2151.0H93.5V2151.5H98.7M90.1 2147.8H89.9V2151.2H93.5M98.7 2152.1H92.8V2152.7H98.7M92.8 2152.4H90.6V2153.3H98.7M90.6 2152.9H89.4V2153.9H98.7M98.7 2155.1H90.8V2155.7H98.7M98.7 2154.5H90.1V2155.4H90.8M89.4 2153.4H88.6V2155.0H90.1M89.9 2149.5H82.4V2154.2H88.6M79.7 2130.9H74.0V2151.9H82.4M98.7 2157.5H91.9V2158.1H98.7M91.9 2157.8H91.8V2158.7H98.7M98.7 2156.9H91.5V2158.2H91.8M98.7 2156.3H89.2V2157.6H91.5M98.7 2159.9H94.4V2160.5H98.7M94.4 2160.2H89.5V2161.1H98.7M98.7 2159.3H88.6V2160.6H89.5M98.7 2161.7H92.3V2162.3H98.7M98.7 2162.8H92.2V2163.4H98.7M92.3 2162.0H92.0V2163.1H92.2M98.7 2164.0H91.8V2164.6H98.7M92.0 2162.6H91.4V2164.3H91.8M98.7 2166.4H92.9V2167.0H98.7M98.7 2167.6H93.1V2168.2H98.7M92.9 2166.7H92.7V2167.9H93.1M98.7 2165.8H92.2V2167.3H92.7M98.7 2165.2H91.8V2166.6H92.2M91.4 2163.4H91.2V2165.9H91.8M91.2 2164.7H90.2V2168.8H98.7M98.7 2170.6H93.1V2171.2H98.7M98.7 2170.0H92.6V2170.9H93.1M98.7 2169.4H91.8V2170.4H92.6M90.2 2166.7H90.0V2169.9H91.8M98.7 2171.8H93.9V2172.4H98.7M93.9 2172.1H93.5V2173.0H98.7M98.7 2173.6H91.4V2174.2H98.7M93.5 2172.5H91.3V2173.9H91.4M90.0 2168.3H89.7V2173.2H91.3M98.7 2174.7H93.1V2175.3H98.7M89.7 2170.8H88.6V2175.0H93.1M88.6 2159.9H87.8V2172.9H88.6M89.2 2156.9H79.7V2166.4H87.8M98.7 2176.5H91.4V2177.1H98.7M98.7 2178.3H93.6V2178.9H98.7M98.7 2177.7H90.9V2178.6H93.6M91.4 2176.8H90.7V2178.2H90.9M90.7 2177.5H87.6V2179.5H98.7M98.7 2180.1H91.5V2180.7H98.7M98.7 2181.3H91.1V2181.9H98.7M91.5 2180.4H88.4V2181.6H91.1M98.7 2183.1H92.7V2183.7H98.7M92.7 2183.4H92.1V2184.3H98.7M98.7 2182.5H88.6V2183.8H92.1M98.7 2184.9H92.8V2185.5H98.7M88.6 2183.1H87.7V2185.2H92.8M88.4 2181.0H86.9V2184.2H87.7M87.6 2178.5H85.9V2182.6H86.9M98.7 2175.9H82.2V2180.5H85.9M79.7 2161.7H78.7V2178.2H82.2M98.7 2186.6H92.9V2187.2H98.7M98.7 2186.0H91.4V2186.9H92.9M98.7 2188.4H94.2V2189.0H98.7M98.7 2189.6H94.5V2190.2H98.7M94.2 2188.7H91.7V2189.9H94.5M98.7 2187.8H91.2V2189.3H91.7M91.4 2186.5H90.7V2188.6H91.2M78.7 2170.0H75.5V2187.5H90.7M98.7 2191.4H90.4V2192.0H98.7M98.7 2190.8H89.8V2191.7H90.4M98.7 2192.6H93.2V2193.2H98.7M98.7 2194.4H93.5V2195.0H98.7M98.7 2193.8H93.0V2194.7H93.5M93.2 2192.9H90.0V2194.2H93.0M89.8 2191.3H88.7V2193.6H90.0M98.7 2196.2H94.5V2196.8H98.7M98.7 2197.9H92.3V2198.5H98.7M98.7 2197.3H90.5V2198.2H92.3M94.5 2196.5H90.0V2197.8H90.5M98.7 2195.6H89.3V2197.1H90.0M88.7 2192.4H87.5V2196.3H89.3M98.7 2199.1H92.4V2199.7H98.7M98.7 2200.3H93.8V2200.9H98.7M93.8 2200.6H93.4V2201.5H98.7M92.4 2199.4H91.7V2201.1H93.4M98.7 2202.7H91.4V2203.3H98.7M91.4 2203.0H90.9V2203.9H98.7M98.7 2202.1H88.8V2203.4H90.9M91.7 2200.2H88.3V2202.8H88.8M98.7 2204.5H92.0V2205.1H98.7M98.7 2205.7H92.6V2206.3H98.7M92.6 2206.0H92.3V2206.9H98.7M98.7 2208.1H92.8V2208.7H98.7M98.7 2207.5H92.1V2208.4H92.8M92.3 2206.4H91.1V2207.9H92.1M92.0 2204.8H88.5V2207.2H91.1M88.3 2201.5H86.6V2206.0H88.5M98.7 2209.8H92.3V2210.4H98.7M98.7 2209.2H91.8V2210.1H92.3M98.7 2211.0H94.5V2211.6H98.7M91.8 2209.7H88.3V2211.3H94.5M86.6 2203.7H85.4V2210.5H88.3M87.5 2194.4H84.1V2207.1H85.4M98.7 2212.8H93.1V2213.4H98.7M98.7 2214.0H93.7V2214.6H98.7M93.7 2214.3H93.2V2215.2H98.7M93.2 2214.7H92.8V2215.8H98.7M93.1 2213.1H92.4V2215.3H92.8M98.7 2212.2H89.2V2214.2H92.4M98.7 2217.0H93.5V2217.6H98.7M98.7 2216.4H93.4V2217.3H93.5M93.4 2216.8H92.9V2218.2H98.7M89.2 2213.2H89.1V2217.5H92.9M98.7 2218.8H94.0V2219.4H98.7M89.1 2215.4H85.1V2219.1H94.0M98.7 2221.1H93.7V2221.7H98.7M98.7 2220.5H93.1V2221.4H93.7M98.7 2220.0H90.7V2221.0H93.1M90.7 2220.5H90.1V2222.3H98.7M98.7 2223.5H94.4V2224.1H98.7M98.7 2222.9H93.4V2223.8H94.4M90.1 2221.4H87.9V2223.4H93.4M98.7 2225.9H93.6V2226.5H98.7M98.7 2225.3H93.1V2226.2H93.6M98.7 2224.7H92.8V2225.8H93.1M98.7 2227.1H94.4V2227.7H98.7M92.8 2225.2H90.3V2227.4H94.4M90.3 2226.3H89.8V2228.3H98.7M87.9 2222.4H87.5V2227.3H89.8M98.7 2228.9H94.0V2229.5H98.7M98.7 2231.3H93.9V2231.9H98.7M98.7 2230.7H91.6V2231.6H93.9M98.7 2230.1H90.7V2231.1H91.6M94.0 2229.2H88.2V2230.6H90.7M98.7 2232.4H92.9V2233.0H98.7M88.2 2229.9H87.3V2232.7H92.9M87.5 2224.8H86.6V2231.3H87.3M85.1 2217.2H83.7V2228.1H86.6M84.1 2200.8H83.3V2222.6H83.7M98.7 2234.2H93.3V2234.8H98.7M93.3 2234.5H91.0V2235.4H98.7M98.7 2236.0H91.6V2236.6H98.7M98.7 2237.2H93.8V2237.8H98.7M93.8 2237.5H92.7V2238.4H98.7M91.6 2236.3H91.5V2237.9H92.7M98.7 2239.0H93.6V2239.6H98.7M93.6 2239.3H93.6V2240.2H98.7M93.6 2239.7H93.3V2240.8H98.7M93.3 2240.3H91.4V2241.4H98.7M91.5 2237.1H91.1V2240.8H91.4M91.0 2235.0H89.4V2239.0H91.1M98.7 2233.6H88.4V2237.0H89.4M98.7 2242.0H94.3V2242.6H98.7M98.7 2243.7H93.4V2244.3H98.7M98.7 2243.2H93.0V2244.0H93.4M94.3 2242.3H90.9V2243.6H93.0M98.7 2244.9H92.4V2245.5H98.7M98.7 2246.1H93.5V2246.7H98.7M92.4 2245.2H91.7V2246.4H93.5M98.7 2247.3H92.7V2247.9H98.7M91.7 2245.8H91.0V2247.6H92.7M90.9 2242.9H90.2V2246.7H91.0M88.4 2235.3H87.0V2244.8H90.2M98.7 2249.7H91.7V2250.3H98.7M98.7 2249.1H90.3V2250.0H91.7M98.7 2248.5H89.0V2249.5H90.3M87.0 2240.1H80.7V2249.0H89.0M98.7 2250.9H91.7V2251.5H98.7M98.7 2252.1H94.2V2252.7H98.7M91.7 2251.2H91.2V2252.4H94.2M91.2 2251.8H88.5V2253.3H98.7M80.7 2244.5H79.1V2252.5H88.5M98.7 2253.9H93.3V2254.5H98.7M93.3 2254.2H92.1V2255.0H98.7M98.7 2256.2H91.9V2256.8H98.7M98.7 2257.4H91.3V2258.0H98.7M91.9 2256.5H91.1V2257.7H91.3M91.1 2257.1H90.5V2258.6H98.7M98.7 2255.6H88.9V2257.9H90.5M88.9 2256.8H88.6V2259.2H98.7M98.7 2259.8H93.2V2260.4H98.7M98.7 2261.0H91.4V2261.6H98.7M93.2 2260.1H90.8V2261.3H91.4M98.7 2262.2H90.6V2262.8H98.7M90.8 2260.7H90.1V2262.5H90.6M88.6 2258.0H87.3V2261.6H90.1M98.7 2264.0H92.2V2264.6H98.7M98.7 2263.4H90.4V2264.3H92.2M90.4 2263.8H89.6V2265.2H98.7M98.7 2266.4H91.6V2266.9H98.7M98.7 2265.8H90.9V2266.6H91.6M89.6 2264.5H88.8V2266.2H90.9M98.7 2267.5H93.8V2268.1H98.7M93.8 2267.8H93.2V2268.7H98.7M88.8 2265.3H87.0V2268.3H93.2M87.3 2259.8H86.8V2266.8H87.0M92.1 2254.6H79.2V2263.3H86.8M98.7 2269.9H91.3V2270.5H98.7M91.3 2270.2H90.1V2271.1H98.7M98.7 2269.3H88.3V2270.7H90.1M98.7 2272.3H93.5V2272.9H98.7M98.7 2271.7H92.5V2272.6H93.5M98.7 2273.5H92.8V2274.1H98.7M92.5 2272.2H91.2V2273.8H92.8M98.7 2274.7H92.2V2275.3H98.7M91.2 2273.0H90.2V2275.0H92.2M98.7 2275.9H91.2V2276.5H98.7M98.7 2277.7H91.8V2278.2H98.7M98.7 2277.1H90.8V2278.0H91.8M91.2 2276.2H89.7V2277.5H90.8M90.2 2274.0H86.0V2276.8H89.7M98.7 2278.8H92.1V2279.4H98.7M92.1 2279.1H89.5V2280.0H98.7M98.7 2281.8H91.4V2282.4H98.7M98.7 2281.2H90.6V2282.1H91.4M98.7 2280.6H89.9V2281.7H90.6M98.7 2283.6H93.4V2284.2H98.7M93.4 2283.9H91.6V2284.8H98.7M98.7 2283.0H91.3V2284.3H91.6M98.7 2285.4H91.7V2286.0H98.7M98.7 2287.2H93.4V2287.8H98.7M98.7 2288.4H93.5V2289.0H98.7M93.5 2288.7H93.4V2289.6H98.7M93.4 2287.5H92.9V2289.1H93.4M98.7 2286.6H92.0V2288.3H92.9M91.7 2285.7H91.5V2287.4H92.0M91.3 2283.7H89.9V2286.6H91.5M89.9 2281.1H89.6V2285.1H89.9M89.5 2279.6H85.5V2283.1H89.6M86.0 2275.4H85.1V2281.4H85.5M88.3 2270.0H84.9V2278.4H85.1M98.7 2290.7H94.2V2291.3H98.7M98.7 2290.1H93.0V2291.0H94.2M93.0 2290.6H91.2V2291.9H98.7M84.9 2274.2H81.8V2291.3H91.2M98.7 2292.5H93.2V2293.1H98.7M93.2 2292.8H92.5V2293.7H98.7M98.7 2295.5H94.1V2296.1H98.7M98.7 2294.9H92.4V2295.8H94.1M92.4 2295.4H91.9V2296.7H98.7M98.7 2294.3H91.3V2296.0H91.9M92.5 2293.3H91.2V2295.2H91.3M98.7 2297.9H92.5V2298.5H98.7M98.7 2297.3H91.2V2298.2H92.5M91.2 2294.2H89.2V2297.7H91.2M98.7 2299.7H93.2V2300.3H98.7M98.7 2300.9H93.8V2301.4H98.7M93.2 2300.0H92.5V2301.2H93.8M92.5 2300.6H92.1V2302.0H98.7M98.7 2299.1H91.4V2301.3H92.1M91.4 2300.2H88.5V2302.6H98.7M89.2 2296.0H88.1V2301.4H88.5M98.7 2303.2H90.8V2303.8H98.7M88.1 2298.7H87.5V2303.5H90.8M98.7 2305.6H93.4V2306.2H98.7M98.7 2305.0H93.0V2305.9H93.4M98.7 2304.4H90.8V2305.5H93.0M87.5 2301.1H86.1V2304.9H90.8M86.1 2303.0H85.0V2306.8H98.7M98.7 2308.0H93.5V2308.6H98.7M98.7 2307.4H89.7V2308.3H93.5M85.0 2304.9H84.6V2307.8H89.7M98.7 2309.2H93.7V2309.8H98.7M93.7 2309.5H93.0V2310.4H98.7M98.7 2311.0H93.3V2311.6H98.7M93.0 2309.9H92.6V2311.3H93.3M92.6 2310.6H87.9V2312.2H98.7M84.6 2306.4H81.9V2311.4H87.9M81.8 2282.7H80.2V2308.9H81.9M98.7 2312.7H92.4V2313.3H98.7M98.7 2313.9H93.6V2314.5H98.7M93.6 2314.2H92.9V2315.1H98.7M92.4 2313.0H92.2V2314.7H92.9M98.7 2315.7H93.1V2316.3H98.7M98.7 2316.9H92.6V2317.5H98.7M98.7 2318.1H93.4V2318.7H98.7M92.6 2317.2H90.9V2318.4H93.4M93.1 2316.0H90.5V2317.8H90.9M98.7 2319.3H92.8V2319.9H98.7M92.8 2319.6H92.3V2320.5H98.7M92.3 2320.0H91.7V2321.1H98.7M90.5 2316.9H89.7V2320.6H91.7M92.2 2313.9H84.0V2318.7H89.7M98.7 2322.3H93.2V2322.9H98.7M93.2 2322.6H92.9V2323.5H98.7M98.7 2324.1H94.2V2324.6H98.7M92.9 2323.0H92.2V2324.3H94.2M98.7 2321.7H91.4V2323.7H92.2M98.7 2326.4H94.4V2327.0H98.7M98.7 2325.8H90.3V2326.7H94.4M98.7 2325.2H89.2V2326.3H90.3M98.7 2327.6H92.9V2328.2H98.7M98.7 2329.4H92.7V2330.0H98.7M98.7 2328.8H92.2V2329.7H92.7M92.2 2329.3H91.9V2330.6H98.7M92.9 2327.9H90.8V2329.9H91.9M90.8 2328.9H89.9V2331.2H98.7M89.2 2325.8H88.8V2330.1H89.9M98.7 2332.4H93.1V2333.0H98.7M98.7 2331.8H90.1V2332.7H93.1M98.7 2333.6H91.4V2334.2H98.7M98.7 2335.4H93.3V2335.9H98.7M98.7 2334.8H92.6V2335.7H93.3M92.6 2335.2H92.0V2336.5H98.7M91.4 2333.9H90.5V2335.9H92.0M98.7 2337.7H93.3V2338.3H98.7M98.7 2337.1H93.0V2338.0H93.3M93.0 2337.6H89.7V2338.9H98.7M90.5 2334.9H88.7V2338.3H89.7M90.1 2332.2H88.4V2336.6H88.7M88.8 2327.9H87.3V2334.4H88.4M91.4 2322.7H83.1V2331.2H87.3M84.0 2316.3H82.4V2326.9H83.1M98.7 2339.5H90.7V2340.1H98.7M98.7 2340.7H92.4V2341.3H98.7M90.7 2339.8H90.6V2341.0H92.4M98.7 2343.1H94.1V2343.7H98.7M98.7 2342.5H93.7V2343.4H94.1M98.7 2341.9H91.0V2342.9H93.7M90.6 2340.4H87.9V2342.4H91.0M98.7 2344.3H91.6V2344.9H98.7M87.9 2341.4H87.0V2344.6H91.6M82.4 2321.6H81.9V2343.0H87.0M80.2 2295.8H79.8V2332.3H81.9M79.2 2259.0H78.1V2314.1H79.8M79.1 2248.5H77.1V2286.5H78.1M83.3 2211.7H75.7V2267.5H77.1M98.7 2345.5H90.5V2346.1H98.7M98.7 2347.8H93.6V2348.4H98.7M98.7 2347.3H92.9V2348.1H93.6M92.9 2347.7H92.1V2349.0H98.7M98.7 2346.7H90.4V2348.4H92.1M90.5 2345.8H89.6V2347.5H90.4M98.7 2349.6H91.4V2350.2H98.7M98.7 2350.8H93.2V2351.4H98.7M98.7 2352.6H94.0V2353.2H98.7M98.7 2352.0H93.5V2352.9H94.0M93.2 2351.1H92.9V2352.5H93.5M91.4 2349.9H90.9V2351.8H92.9M98.7 2353.8H91.0V2354.4H98.7M90.9 2350.9H90.2V2354.1H91.0M89.6 2346.6H88.4V2352.5H90.2M98.7 2355.0H91.9V2355.6H98.7M98.7 2356.2H91.3V2356.8H98.7M91.9 2355.3H90.6V2356.5H91.3M98.7 2358.0H94.1V2358.6H98.7M98.7 2357.4H89.3V2358.3H94.1M90.6 2355.9H89.0V2357.8H89.3M98.7 2360.3H93.2V2360.9H98.7M93.2 2360.6H92.5V2361.5H98.7M98.7 2359.7H92.0V2361.1H92.5M98.7 2359.1H91.7V2360.4H92.0M91.7 2359.8H91.1V2362.1H98.7M98.7 2362.7H92.8V2363.3H98.7M91.1 2361.0H90.5V2363.0H92.8M98.7 2363.9H91.9V2364.5H98.7M98.7 2365.1H93.1V2365.7H98.7M91.9 2364.2H90.2V2365.4H93.1M90.5 2362.0H89.4V2364.8H90.2M89.0 2356.8H88.3V2363.4H89.4M88.4 2349.6H78.6V2360.1H88.3M98.7 2366.3H93.9V2366.9H98.7M98.7 2367.5H93.5V2368.1H98.7M98.7 2368.7H91.5V2369.3H98.7M93.5 2367.8H91.1V2369.0H91.5M98.7 2370.4H93.4V2371.0H98.7M98.7 2369.9H93.3V2370.7H93.4M98.7 2371.6H93.3V2372.2H98.7M93.3 2370.3H92.7V2371.9H93.3M91.1 2368.4H88.1V2371.1H92.7M98.7 2372.8H93.9V2373.4H98.7M98.7 2374.0H93.1V2374.6H98.7M93.9 2373.1H90.1V2374.3H93.1M88.1 2369.7H87.3V2373.7H90.1M93.9 2366.6H85.9V2371.7H87.3M98.7 2375.2H93.8V2375.8H98.7M93.8 2375.5H93.2V2376.4H98.7M98.7 2377.0H93.9V2377.6H98.7M93.9 2377.3H90.6V2378.2H98.7M98.7 2379.4H93.7V2380.0H98.7M93.7 2379.7H92.1V2380.6H98.7M98.7 2378.8H91.3V2380.1H92.1M91.3 2379.4H90.3V2381.2H98.7M90.6 2377.7H89.8V2380.3H90.3M93.2 2376.0H88.9V2379.0H89.8M98.7 2381.8H92.5V2382.3H98.7M92.5 2382.0H92.4V2382.9H98.7M98.7 2383.5H92.6V2384.1H98.7M92.4 2382.5H91.9V2383.8H92.6M88.9 2377.5H88.2V2383.2H91.9M98.7 2384.7H94.3V2385.3H98.7M98.7 2385.9H93.6V2386.5H98.7M93.6 2386.2H93.1V2387.1H98.7M94.3 2385.0H92.8V2386.7H93.1M92.8 2385.8H88.5V2387.7H98.7M88.2 2380.3H86.8V2386.8H88.5M85.9 2369.2H85.5V2383.5H86.8M98.7 2388.3H93.0V2388.9H98.7M98.7 2389.5H93.4V2390.1H98.7M98.7 2390.7H93.3V2391.3H98.7M93.3 2391.0H92.9V2391.9H98.7M93.4 2389.8H92.6V2391.4H92.9M98.7 2393.6H94.2V2394.2H98.7M98.7 2393.1H92.2V2393.9H94.2M98.7 2394.8H91.8V2395.4H98.7M92.2 2393.5H91.5V2395.1H91.8M98.7 2392.5H91.0V2394.3H91.5M92.6 2390.6H86.8V2393.4H91.0M93.0 2388.6H83.7V2392.0H86.8M85.5 2376.4H78.1V2390.3H83.7M78.6 2354.8H77.1V2383.3H78.1M98.7 2396.6H94.4V2397.2H98.7M98.7 2396.0H93.6V2396.9H94.4M98.7 2397.8H91.5V2398.4H98.7M91.5 2398.1H91.0V2399.0H98.7M93.6 2396.5H90.7V2398.6H91.0M77.1 2369.1H67.5V2397.5H90.7M75.7 2239.6H54.9V2383.3H67.5M75.5 2178.7H50.5V2311.5H54.9M74.0 2141.4H43.1V2245.1H50.5M53.8 1792.6H14.0V2193.2H43.1" fill="none" stroke="#000" stroke-width="1.25"/>
<path d="M1050.0 1721.2H1044.3V1722.5H1050.0M1050.0 1719.9H1042.1V1721.9H1044.3M1050.0 1718.6H1039.4V1720.9H1042.1M1050.0 1723.8H1043.1V1725.2H1050.0M1039.4 1719.7H1038.0V1724.5H1043.1M1050.0 1727.8H1041.2V1729.1H1050.0M1050.0 1726.5H1039.9V1728.5H1041.2M1050.0 1730.4H1043.6V1731.8H1050.0M1050.0 1734.4H1045.2V1735.7H1050.0M1050.0 1733.1H1043.1V1735.1H1045.2M1050.0 1737.1H1043.8V1738.4H1050.0M1043.1 1734.1H1042.6V1737.7H1043.8M1043.6 1731.1H1037.7V1735.9H1042.6M1050.0 1741.0H1040.9V1742.3H1050.0M1050.0 1739.7H1039.5V1741.7H1040.9M1050.0 1746.3H1043.5V1747.6H1050.0M1043.5 1747.0H1042.8V1748.9H1050.0M1042.8 1747.9H1042.3V1750.3H1050.0M1050.0 1745.0H1040.9V1749.1H1042.3M1050.0 1752.9H1044.0V1754.2H1050.0M1050.0 1755.5H1043.6V1756.9H1050.0M1044.0 1753.6H1043.3V1756.2H1043.6M1050.0 1751.6H1043.0V1754.9H1043.3M1050.0 1759.5H1042.3V1760.8H1050.0M1050.0 1758.2H1042.1V1760.2H1042.3M1042.1 1759.2H1041.7V1762.1H1050.0M1043.0 1753.2H1041.5V1760.7H1041.7M1040.9 1747.0H1040.4V1756.9H1041.5M1050.0 1743.7H1038.3V1752.0H1040.4M1050.0 1763.5H1042.4V1764.8H1050.0M1050.0 1767.4H1042.4V1768.7H1050.0M1050.0 1766.1H1041.2V1768.1H1042.4M1042.4 1764.1H1038.9V1767.1H1041.2M1050.0 1771.4H1044.4V1772.7H1050.0M1044.4 1772.1H1043.9V1774.0H1050.0M1050.0 1770.1H1043.3V1773.0H1043.9M1043.3 1771.6H1042.4V1775.4H1050.0M1038.9 1765.6H1037.5V1773.5H1042.4M1050.0 1776.7H1043.7V1778.0H1050.0M1043.7 1777.3H1043.3V1779.3H1050.0M1043.3 1778.3H1043.1V1780.6H1050.0M1043.1 1779.5H1042.5V1782.0H1050.0M1037.5 1769.5H1033.7V1780.7H1042.5M1038.3 1747.8H1032.4V1775.1H1033.7M1050.0 1783.3H1044.6V1784.6H1050.0M1032.4 1761.5H1032.3V1783.9H1044.6M1050.0 1788.6H1044.6V1789.9H1050.0M1050.0 1787.2H1044.1V1789.2H1044.6M1050.0 1785.9H1043.3V1788.2H1044.1M1043.3 1787.1H1041.0V1791.2H1050.0M1050.0 1792.5H1043.7V1793.8H1050.0M1050.0 1795.2H1041.9V1796.5H1050.0M1041.9 1795.8H1041.7V1797.8H1050.0M1043.7 1793.2H1040.9V1796.8H1041.7M1050.0 1799.1H1041.8V1800.4H1050.0M1040.9 1795.0H1040.4V1799.8H1041.8M1041.0 1789.1H1040.3V1797.4H1040.4M1050.0 1801.8H1040.8V1803.1H1050.0M1040.3 1793.3H1039.5V1802.4H1040.8M1050.0 1805.7H1044.2V1807.1H1050.0M1050.0 1804.4H1043.1V1806.4H1044.2M1043.1 1805.4H1042.3V1808.4H1050.0M1050.0 1809.7H1044.7V1811.0H1050.0M1044.7 1810.4H1042.5V1812.3H1050.0M1050.0 1813.7H1042.3V1815.0H1050.0M1042.5 1811.3H1041.5V1814.3H1042.3M1042.3 1806.9H1040.5V1812.8H1041.5M1050.0 1816.3H1044.6V1817.6H1050.0M1050.0 1818.9H1041.7V1820.3H1050.0M1041.7 1819.6H1041.1V1821.6H1050.0M1050.0 1822.9H1044.7V1824.2H1050.0M1050.0 1825.5H1043.7V1826.9H1050.0M1044.7 1823.6H1041.2V1826.2H1043.7M1050.0 1828.2H1044.3V1829.5H1050.0M1041.2 1824.9H1040.8V1828.8H1044.3M1041.1 1820.6H1039.6V1826.9H1040.8M1050.0 1830.8H1044.0V1832.1H1050.0M1044.0 1831.5H1042.6V1833.5H1050.0M1042.6 1832.5H1040.9V1834.8H1050.0M1050.0 1836.1H1043.3V1837.4H1050.0M1040.9 1833.6H1040.4V1836.8H1043.3M1040.4 1835.2H1039.7V1838.7H1050.0M1050.0 1841.4H1043.8V1842.7H1050.0M1043.8 1842.0H1043.7V1844.0H1050.0M1050.0 1840.1H1041.2V1843.0H1043.7M1050.0 1846.7H1044.6V1848.0H1050.0M1050.0 1845.4H1044.0V1847.3H1044.6M1041.2 1841.6H1040.5V1846.3H1044.0M1039.7 1837.0H1039.3V1843.9H1040.5M1039.6 1823.7H1038.4V1840.5H1039.3M1044.6 1817.0H1038.2V1832.1H1038.4M1050.0 1850.6H1044.7V1852.0H1050.0M1050.0 1849.3H1044.3V1851.3H1044.7M1044.3 1850.3H1043.4V1853.3H1050.0M1050.0 1854.6H1043.5V1855.9H1050.0M1043.4 1851.8H1042.5V1855.3H1043.5M1050.0 1857.2H1044.6V1858.6H1050.0M1044.6 1857.9H1044.2V1859.9H1050.0M1042.5 1853.5H1041.6V1858.9H1044.2M1050.0 1861.2H1043.2V1862.5H1050.0M1050.0 1863.8H1044.9V1865.2H1050.0M1044.9 1864.5H1043.4V1866.5H1050.0M1043.2 1861.9H1040.9V1865.5H1043.4M1041.6 1856.2H1037.7V1863.7H1040.9M1038.2 1824.5H1037.5V1859.9H1037.7M1050.0 1869.1H1045.1V1870.4H1050.0M1050.0 1867.8H1041.5V1869.8H1045.1M1037.5 1842.2H1035.9V1868.8H1041.5M1040.5 1809.9H1034.1V1855.5H1035.9M1039.5 1797.8H1032.7V1832.7H1034.1M1032.3 1772.7H1031.1V1815.3H1032.7M1050.0 1873.1H1044.6V1874.4H1050.0M1050.0 1871.8H1043.9V1873.7H1044.6M1043.9 1872.8H1040.1V1875.7H1050.0M1050.0 1877.0H1043.6V1878.4H1050.0M1050.0 1879.7H1045.3V1881.0H1050.0M1043.6 1877.7H1039.0V1880.4H1045.3M1039.0 1879.0H1038.9V1882.3H1050.0M1040.1 1874.2H1037.7V1880.7H1038.9M1050.0 1883.7H1045.1V1885.0H1050.0M1045.1 1884.3H1039.6V1886.3H1050.0M1050.0 1888.9H1044.4V1890.3H1050.0M1050.0 1887.6H1042.5V1889.6H1044.4M1050.0 1891.6H1045.1V1892.9H1050.0M1042.5 1888.6H1041.9V1892.2H1045.1M1050.0 1895.5H1044.5V1896.9H1050.0M1050.0 1894.2H1040.8V1896.2H1044.5M1041.9 1890.4H1040.6V1895.2H1040.8M1050.0 1899.5H1044.0V1900.8H1050.0M1044.0 1900.2H1041.5V1902.1H1050.0M1050.0 1903.5H1041.7V1904.8H1050.0M1041.5 1901.2H1041.0V1904.1H1041.7M1050.0 1898.2H1040.4V1902.6H1041.0M1040.6 1892.8H1039.5V1900.4H1040.4M1039.6 1885.3H1038.9V1896.6H1039.5M1050.0 1907.4H1042.1V1908.7H1050.0M1050.0 1906.1H1041.7V1908.1H1042.1M1050.0 1910.1H1044.2V1911.4H1050.0M1050.0 1914.0H1045.0V1915.4H1050.0M1050.0 1912.7H1044.1V1914.7H1045.0M1044.2 1910.7H1043.5V1913.7H1044.1M1041.7 1907.1H1040.6V1912.2H1043.5M1050.0 1920.6H1044.6V1922.0H1050.0M1044.6 1921.3H1044.0V1923.3H1050.0M1050.0 1919.3H1043.3V1922.3H1044.0M1050.0 1918.0H1042.4V1920.8H1043.3M1050.0 1916.7H1041.7V1919.4H1042.4M1040.6 1909.7H1040.1V1918.0H1041.7M1050.0 1924.6H1042.9V1925.9H1050.0M1050.0 1927.2H1042.9V1928.6H1050.0M1042.9 1925.3H1042.8V1927.9H1042.9M1042.8 1926.6H1042.5V1929.9H1050.0M1042.5 1928.2H1036.8V1931.2H1050.0M1050.0 1933.8H1044.8V1935.2H1050.0M1050.0 1932.5H1041.9V1934.5H1044.8M1050.0 1936.5H1042.1V1937.8H1050.0M1042.1 1937.1H1041.4V1939.1H1050.0M1041.9 1933.5H1040.4V1938.1H1041.4M1050.0 1940.4H1043.7V1941.8H1050.0M1043.7 1941.1H1042.0V1943.1H1050.0M1042.0 1942.1H1041.5V1944.4H1050.0M1050.0 1947.0H1043.2V1948.4H1050.0M1050.0 1945.7H1042.5V1947.7H1043.2M1042.5 1946.7H1040.7V1949.7H1050.0M1041.5 1943.3H1039.5V1948.2H1040.7M1040.4 1935.8H1035.6V1945.7H1039.5M1036.8 1929.7H1035.2V1940.8H1035.6M1040.1 1913.8H1034.9V1935.2H1035.2M1038.9 1891.0H1033.8V1924.5H1034.9M1037.7 1877.5H1033.2V1907.8H1033.8M1031.1 1794.0H1018.8V1892.6H1033.2M1039.5 1740.7H1014.2V1843.3H1018.8M1037.7 1733.5H1008.6V1792.0H1014.2M1039.9 1727.5H1002.8V1762.7H1008.6M1038.0 1722.1H995.9V1745.1H1002.8M1050.0 1951.0H1042.8V1952.3H1050.0M1042.8 1951.7H1042.3V1953.7H1050.0M1050.0 1955.0H1043.3V1956.3H1050.0M1050.0 1957.6H1042.3V1958.9H1050.0M1042.3 1958.3H1042.1V1960.3H1050.0M1043.3 1955.6H1037.8V1959.3H1042.1M1050.0 1962.9H1043.5V1964.2H1050.0M1050.0 1961.6H1043.2V1963.6H1043.5M1043.2 1962.6H1042.6V1965.5H1050.0M1050.0 1966.9H1042.8V1968.2H1050.0M1042.8 1967.5H1041.5V1969.5H1050.0M1041.5 1968.5H1038.6V1970.8H1050.0M1042.6 1964.1H1037.1V1969.7H1038.6M1037.8 1957.4H1036.1V1966.9H1037.1M1042.3 1952.7H1035.4V1962.2H1036.1M1050.0 1974.8H1044.7V1976.1H1050.0M1050.0 1973.5H1044.2V1975.4H1044.7M1050.0 1972.1H1042.2V1974.5H1044.2M1050.0 1978.7H1044.6V1980.1H1050.0M1044.6 1979.4H1043.5V1981.4H1050.0M1050.0 1977.4H1042.1V1980.4H1043.5M1042.2 1973.3H1042.0V1978.9H1042.1M1042.0 1976.1H1041.6V1982.7H1050.0M1050.0 1984.0H1043.7V1985.4H1050.0M1043.7 1984.7H1043.0V1986.7H1050.0M1050.0 1989.3H1044.8V1990.6H1050.0M1050.0 1988.0H1043.6V1990.0H1044.8M1043.6 1989.0H1043.2V1992.0H1050.0M1043.0 1985.7H1042.5V1990.5H1043.2M1041.6 1979.4H1036.3V1988.1H1042.5M1050.0 1994.6H1044.3V1995.9H1050.0M1044.3 1995.3H1043.7V1997.2H1050.0M1043.7 1996.2H1043.3V1998.6H1050.0M1050.0 1993.3H1042.7V1997.4H1043.3M1050.0 1999.9H1042.6V2001.2H1050.0M1042.7 1995.3H1042.3V2000.5H1042.6M1050.0 2003.8H1042.7V2005.2H1050.0M1050.0 2002.5H1042.2V2004.5H1042.7M1050.0 2006.5H1045.1V2007.8H1050.0M1045.1 2007.1H1044.0V2009.1H1050.0M1050.0 2010.4H1044.9V2011.8H1050.0M1044.9 2011.1H1042.8V2013.1H1050.0M1044.0 2008.1H1041.3V2012.1H1042.8M1050.0 2014.4H1043.4V2015.7H1050.0M1050.0 2017.0H1045.2V2018.4H1050.0M1043.4 2015.1H1041.4V2017.7H1045.2M1041.4 2016.4H1041.2V2019.7H1050.0M1041.3 2010.1H1040.3V2018.0H1041.2M1042.2 2003.5H1039.1V2014.1H1040.3M1050.0 2021.0H1043.1V2022.3H1050.0M1043.1 2021.7H1042.2V2023.7H1050.0M1050.0 2025.0H1042.6V2026.3H1050.0M1042.2 2022.7H1041.5V2025.6H1042.6M1050.0 2027.6H1043.7V2028.9H1050.0M1050.0 2030.3H1045.3V2031.6H1050.0M1045.3 2030.9H1043.0V2032.9H1050.0M1050.0 2034.2H1043.2V2035.5H1050.0M1043.0 2031.9H1042.4V2034.9H1043.2M1043.7 2028.3H1041.9V2033.4H1042.4M1050.0 2038.2H1043.1V2039.5H1050.0M1050.0 2036.9H1042.7V2038.8H1043.1M1041.9 2030.8H1041.0V2037.9H1042.7M1050.0 2040.8H1041.4V2042.1H1050.0M1050.0 2043.5H1042.3V2044.8H1050.0M1050.0 2046.1H1042.3V2047.4H1050.0M1042.3 2044.1H1040.8V2046.8H1042.3M1041.4 2041.5H1038.9V2045.4H1040.8M1041.0 2034.3H1036.4V2043.5H1038.9M1041.5 2024.1H1034.8V2038.9H1036.4M1050.0 2050.1H1042.4V2051.4H1050.0M1050.0 2052.7H1041.2V2054.0H1050.0M1042.4 2050.7H1041.0V2053.4H1041.2M1050.0 2048.7H1040.7V2052.0H1041.0M1050.0 2055.4H1043.1V2056.7H1050.0M1040.7 2050.4H1039.5V2056.0H1043.1M1050.0 2059.3H1044.2V2060.6H1050.0M1050.0 2058.0H1043.8V2060.0H1044.2M1043.8 2059.0H1043.7V2062.0H1050.0M1039.5 2053.2H1038.3V2060.5H1043.7M1050.0 2064.6H1043.1V2065.9H1050.0M1050.0 2067.2H1044.5V2068.6H1050.0M1043.1 2065.3H1042.7V2067.9H1044.5M1050.0 2063.3H1042.1V2066.6H1042.7M1050.0 2069.9H1044.9V2071.2H1050.0M1042.1 2064.9H1042.0V2070.5H1044.9M1042.0 2067.7H1037.8V2072.5H1050.0M1050.0 2073.8H1043.4V2075.2H1050.0M1050.0 2076.5H1042.4V2077.8H1050.0M1050.0 2079.1H1044.9V2080.4H1050.0M1044.9 2079.8H1044.4V2081.8H1050.0M1042.4 2077.1H1042.0V2080.8H1044.4M1043.4 2074.5H1041.7V2079.0H1042.0M1037.8 2070.1H1034.1V2076.7H1041.7M1050.0 2083.1H1043.7V2084.4H1050.0M1043.7 2083.7H1043.6V2085.7H1050.0M1034.1 2073.4H1033.3V2084.7H1043.6M1050.0 2089.7H1043.1V2091.0H1050.0M1050.0 2088.4H1042.3V2090.3H1043.1M1050.0 2093.7H1045.0V2095.0H1050.0M1050.0 2092.3H1042.2V2094.3H1045.0M1042.3 2089.4H1041.3V2093.3H1042.2M1050.0 2087.0H1040.7V2091.3H1041.3M1050.0 2096.3H1043.8V2097.6H1050.0M1043.8 2097.0H1040.2V2098.9H1050.0M1040.7 2089.2H1035.2V2097.9H1040.2M1050.0 2100.3H1041.4V2101.6H1050.0M1050.0 2102.9H1043.5V2104.2H1050.0M1041.4 2100.9H1041.2V2103.6H1043.5M1050.0 2106.9H1043.2V2108.2H1050.0M1050.0 2109.5H1044.9V2110.8H1050.0M1044.9 2110.2H1044.4V2112.1H1050.0M1043.2 2107.5H1041.0V2111.2H1044.4M1050.0 2105.5H1038.8V2109.3H1041.0M1041.2 2102.2H1036.1V2107.4H1038.8M1035.2 2093.6H1033.8V2104.8H1036.1M1033.3 2079.1H1032.6V2099.2H1033.8M1050.0 2113.5H1044.7V2114.8H1050.0M1044.7 2114.1H1044.3V2116.1H1050.0M1044.3 2115.1H1043.6V2117.4H1050.0M1050.0 2118.7H1041.1V2120.1H1050.0M1041.1 2119.4H1039.8V2121.4H1050.0M1043.6 2116.3H1039.4V2120.4H1039.8M1050.0 2125.3H1043.7V2126.7H1050.0M1043.7 2126.0H1043.4V2128.0H1050.0M1050.0 2124.0H1042.5V2127.0H1043.4M1050.0 2122.7H1041.7V2125.5H1042.5M1050.0 2129.3H1042.3V2130.6H1050.0M1050.0 2133.3H1044.9V2134.6H1050.0M1050.0 2132.0H1042.1V2133.9H1044.9M1042.3 2130.0H1041.9V2132.9H1042.1M1041.7 2124.1H1041.3V2131.5H1041.9M1050.0 2135.9H1044.2V2137.2H1050.0M1041.3 2127.8H1040.2V2136.6H1044.2M1039.4 2118.3H1036.9V2132.2H1040.2M1050.0 2139.9H1044.3V2141.2H1050.0M1044.3 2140.5H1043.6V2142.5H1050.0M1050.0 2138.6H1042.4V2141.5H1043.6M1050.0 2143.8H1044.1V2145.2H1050.0M1044.1 2144.5H1042.5V2146.5H1050.0M1050.0 2147.8H1045.2V2149.1H1050.0M1042.5 2145.5H1042.1V2148.5H1045.2M1042.4 2140.0H1041.7V2147.0H1042.1M1036.9 2125.3H1032.3V2143.5H1041.7M1032.6 2089.1H1032.0V2134.4H1032.3M1038.3 2056.8H1030.6V2111.8H1032.0M1034.8 2031.5H1030.2V2084.3H1030.6M1050.0 2154.4H1043.0V2155.7H1050.0M1050.0 2153.1H1042.6V2155.1H1043.0M1050.0 2151.8H1042.1V2154.1H1042.6M1050.0 2150.4H1038.9V2152.9H1042.1M1050.0 2158.4H1044.7V2159.7H1050.0M1044.7 2159.0H1044.4V2161.0H1050.0M1050.0 2162.3H1041.0V2163.7H1050.0M1044.4 2160.0H1040.0V2163.0H1041.0M1050.0 2157.0H1038.7V2161.5H1040.0M1050.0 2166.3H1044.0V2167.6H1050.0M1050.0 2165.0H1043.8V2167.0H1044.0M1043.8 2166.0H1040.3V2168.9H1050.0M1040.3 2167.4H1038.6V2170.3H1050.0M1038.6 2168.9H1038.2V2171.6H1050.0M1038.7 2159.3H1035.4V2170.2H1038.2M1050.0 2172.9H1043.3V2174.2H1050.0M1043.3 2173.6H1043.2V2175.5H1050.0M1050.0 2176.9H1043.3V2178.2H1050.0M1043.3 2177.5H1040.7V2179.5H1050.0M1043.2 2174.5H1037.9V2178.5H1040.7M1035.4 2164.7H1035.2V2176.5H1037.9M1038.9 2151.7H1032.2V2170.6H1035.2M1050.0 2180.8H1043.4V2182.1H1050.0M1043.4 2181.5H1042.3V2183.5H1050.0M1050.0 2184.8H1042.9V2186.1H1050.0M1042.3 2182.5H1042.0V2185.4H1042.9M1050.0 2187.4H1044.2V2188.7H1050.0M1050.0 2190.1H1042.9V2191.4H1050.0M1044.2 2188.1H1040.4V2190.7H1042.9M1050.0 2194.0H1043.8V2195.3H1050.0M1050.0 2192.7H1043.0V2194.7H1043.8M1043.0 2193.7H1042.1V2196.7H1050.0M1050.0 2199.3H1044.0V2200.6H1050.0M1050.0 2198.0H1043.5V2200.0H1044.0M1050.0 2202.0H1043.5V2203.3H1050.0M1043.5 2199.0H1042.7V2202.6H1043.5M1042.7 2200.8H1042.1V2204.6H1050.0M1042.1 2195.2H1041.4V2202.7H1042.1M1040.4 2189.4H1040.0V2198.9H1041.4M1050.0 2207.2H1044.8V2208.6H1050.0M1044.8 2207.9H1044.4V2209.9H1050.0M1050.0 2205.9H1041.6V2208.9H1044.4M1050.0 2211.2H1045.2V2212.5H1050.0M1045.2 2211.9H1043.6V2213.8H1050.0M1050.0 2215.2H1044.6V2216.5H1050.0M1043.6 2212.8H1040.7V2215.8H1044.6M1050.0 2219.1H1042.2V2220.4H1050.0M1050.0 2217.8H1041.5V2219.8H1042.2M1050.0 2221.8H1044.0V2223.1H1050.0M1041.5 2218.8H1040.3V2222.4H1044.0M1040.7 2214.3H1039.8V2220.6H1040.3M1041.6 2207.4H1039.1V2217.5H1039.8M1040.0 2194.2H1038.0V2212.4H1039.1M1042.0 2184.0H1036.8V2203.3H1038.0M1032.2 2161.2H1030.1V2193.6H1036.8M1050.0 2227.0H1043.3V2228.4H1050.0M1050.0 2225.7H1040.6V2227.7H1043.3M1050.0 2224.4H1040.0V2226.7H1040.6M1040.0 2225.6H1038.3V2229.7H1050.0M1050.0 2231.0H1042.5V2232.3H1050.0M1042.5 2231.7H1041.9V2233.7H1050.0M1041.9 2232.7H1039.5V2235.0H1050.0M1038.3 2227.6H1037.4V2233.8H1039.5M1050.0 2237.6H1045.2V2238.9H1050.0M1050.0 2236.3H1043.0V2238.3H1045.2M1050.0 2240.3H1043.8V2241.6H1050.0M1043.8 2240.9H1042.7V2242.9H1050.0M1043.0 2237.3H1042.3V2241.9H1042.7M1037.4 2230.7H1034.6V2239.6H1042.3M1050.0 2245.5H1045.0V2246.9H1050.0M1050.0 2244.2H1043.9V2246.2H1045.0M1034.6 2235.2H1033.6V2245.2H1043.9M1050.0 2248.2H1042.6V2249.5H1050.0M1050.0 2252.1H1044.9V2253.5H1050.0M1050.0 2254.8H1042.8V2256.1H1050.0M1044.9 2252.8H1042.6V2255.4H1042.8M1050.0 2250.8H1042.1V2254.1H1042.6M1042.1 2252.5H1041.7V2257.4H1050.0M1042.6 2248.8H1040.4V2254.9H1041.7M1050.0 2260.1H1044.3V2261.4H1050.0M1044.3 2260.7H1042.1V2262.7H1050.0M1050.0 2258.7H1039.7V2261.7H1042.1M1040.4 2251.9H1039.1V2260.2H1039.7M1050.0 2264.0H1042.1V2265.3H1050.0M1050.0 2266.7H1042.5V2268.0H1050.0M1042.1 2264.7H1038.2V2267.3H1042.5M1039.1 2256.1H1033.0V2266.0H1038.2M1033.6 2240.2H1031.9V2261.0H1033.0M1050.0 2270.6H1044.1V2272.0H1050.0M1050.0 2269.3H1043.0V2271.3H1044.1M1050.0 2273.3H1043.4V2274.6H1050.0M1043.4 2273.9H1041.6V2275.9H1050.0M1041.6 2274.9H1041.2V2277.2H1050.0M1050.0 2279.9H1042.2V2281.2H1050.0M1042.2 2280.5H1042.1V2282.5H1050.0M1050.0 2278.6H1041.7V2281.5H1042.1M1050.0 2283.8H1041.5V2285.2H1050.0M1041.7 2280.0H1041.2V2284.5H1041.5M1041.2 2276.1H1040.6V2282.3H1041.2M1043.0 2270.3H1037.7V2279.2H1040.6M1050.0 2287.8H1044.2V2289.1H1050.0M1050.0 2290.4H1043.2V2291.8H1050.0M1044.2 2288.5H1042.3V2291.1H1043.2M1050.0 2293.1H1044.9V2294.4H1050.0M1042.3 2289.8H1041.9V2293.7H1044.9M1050.0 2295.7H1043.5V2297.0H1050.0M1043.5 2296.4H1042.3V2298.4H1050.0M1041.9 2291.8H1041.0V2297.4H1042.3M1050.0 2286.5H1039.7V2294.6H1041.0M1050.0 2302.3H1044.2V2303.6H1050.0M1050.0 2305.0H1044.1V2306.3H1050.0M1044.2 2303.0H1043.4V2305.6H1044.1M1050.0 2301.0H1042.8V2304.3H1043.4M1050.0 2299.7H1042.1V2302.7H1042.8M1042.1 2301.2H1041.7V2307.6H1050.0M1039.7 2290.5H1037.6V2304.4H1041.7M1037.7 2274.7H1036.3V2297.5H1037.6M1050.0 2308.9H1043.5V2310.3H1050.0M1050.0 2311.6H1042.5V2312.9H1050.0M1043.5 2309.6H1041.4V2312.2H1042.5M1050.0 2314.2H1044.4V2315.5H1050.0M1041.4 2310.9H1040.6V2314.9H1044.4M1036.3 2286.1H1036.2V2312.9H1040.6M1031.9 2250.6H1030.0V2299.5H1036.2M1030.1 2177.4H1029.2V2275.1H1030.0M1050.0 2318.2H1042.5V2319.5H1050.0M1050.0 2320.8H1042.7V2322.1H1050.0M1050.0 2324.8H1043.1V2326.1H1050.0M1050.0 2323.5H1042.7V2325.4H1043.1M1042.7 2321.5H1042.5V2324.5H1042.7M1042.5 2318.8H1041.9V2323.0H1042.5M1050.0 2316.9H1041.3V2320.9H1041.9M1050.0 2330.1H1042.1V2331.4H1050.0M1050.0 2328.7H1040.1V2330.7H1042.1M1050.0 2334.0H1043.5V2335.3H1050.0M1050.0 2332.7H1041.7V2334.7H1043.5M1040.1 2329.7H1039.2V2333.7H1041.7M1050.0 2327.4H1037.6V2331.7H1039.2M1041.3 2318.9H1033.1V2329.6H1037.6M1050.0 2336.7H1043.6V2338.0H1050.0M1043.6 2337.3H1042.3V2339.3H1050.0M1050.0 2342.0H1044.5V2343.3H1050.0M1050.0 2340.6H1044.0V2342.6H1044.5M1050.0 2344.6H1043.7V2345.9H1050.0M1044.0 2341.6H1040.9V2345.3H1043.7M1042.3 2338.3H1040.5V2343.4H1040.9M1050.0 2347.2H1044.6V2348.6H1050.0M1044.6 2347.9H1041.2V2349.9H1050.0M1040.5 2340.9H1040.4V2348.9H1041.2M1050.0 2351.2H1043.5V2352.5H1050.0M1040.4 2344.9H1037.2V2351.9H1043.5M1050.0 2355.2H1042.9V2356.5H1050.0M1050.0 2353.8H1040.4V2355.8H1042.9M1050.0 2357.8H1041.8V2359.1H1050.0M1040.4 2354.8H1039.4V2358.5H1041.8M1050.0 2360.4H1042.4V2361.8H1050.0M1050.0 2363.1H1042.6V2364.4H1050.0M1042.6 2363.7H1042.4V2365.7H1050.0M1042.4 2361.1H1042.1V2364.7H1042.4M1039.4 2356.6H1038.2V2362.9H1042.1M1050.0 2367.0H1045.3V2368.4H1050.0M1045.3 2367.7H1041.4V2369.7H1050.0M1050.0 2371.0H1042.1V2372.3H1050.0M1050.0 2373.6H1042.3V2375.0H1050.0M1042.1 2371.7H1040.1V2374.3H1042.3M1041.4 2368.7H1036.0V2373.0H1040.1M1038.2 2359.8H1032.8V2370.8H1036.0M1050.0 2376.3H1044.2V2377.6H1050.0M1050.0 2380.3H1044.5V2381.6H1050.0M1050.0 2378.9H1043.9V2380.9H1044.5M1044.2 2377.0H1043.5V2379.9H1043.9M1043.5 2378.4H1042.6V2382.9H1050.0M1042.6 2380.7H1040.6V2384.2H1050.0M1050.0 2385.5H1044.1V2386.9H1050.0M1044.1 2386.2H1044.0V2388.2H1050.0M1040.6 2382.4H1035.7V2387.2H1044.0M1050.0 2390.8H1041.8V2392.1H1050.0M1050.0 2389.5H1041.5V2391.5H1041.8M1035.7 2384.8H1032.5V2390.5H1041.5M1032.8 2365.3H1030.8V2387.7H1032.5M1037.2 2348.4H1030.3V2376.5H1030.8M1033.1 2324.2H1024.7V2362.4H1030.3M1029.2 2226.2H1014.9V2343.3H1024.7M1030.2 2057.9H1012.2V2284.8H1014.9M1039.1 2008.8H1006.5V2171.3H1012.2M1042.3 1997.9H1002.5V2090.1H1006.5M1036.3 1983.7H999.8V2044.0H1002.5M1035.4 1957.4H991.6V2013.9H999.8M995.9 1733.6H965.4V1985.6H991.6" fill="none" stroke="#000" stroke-width="1.25"/>
</svg>
</div></body></html>
